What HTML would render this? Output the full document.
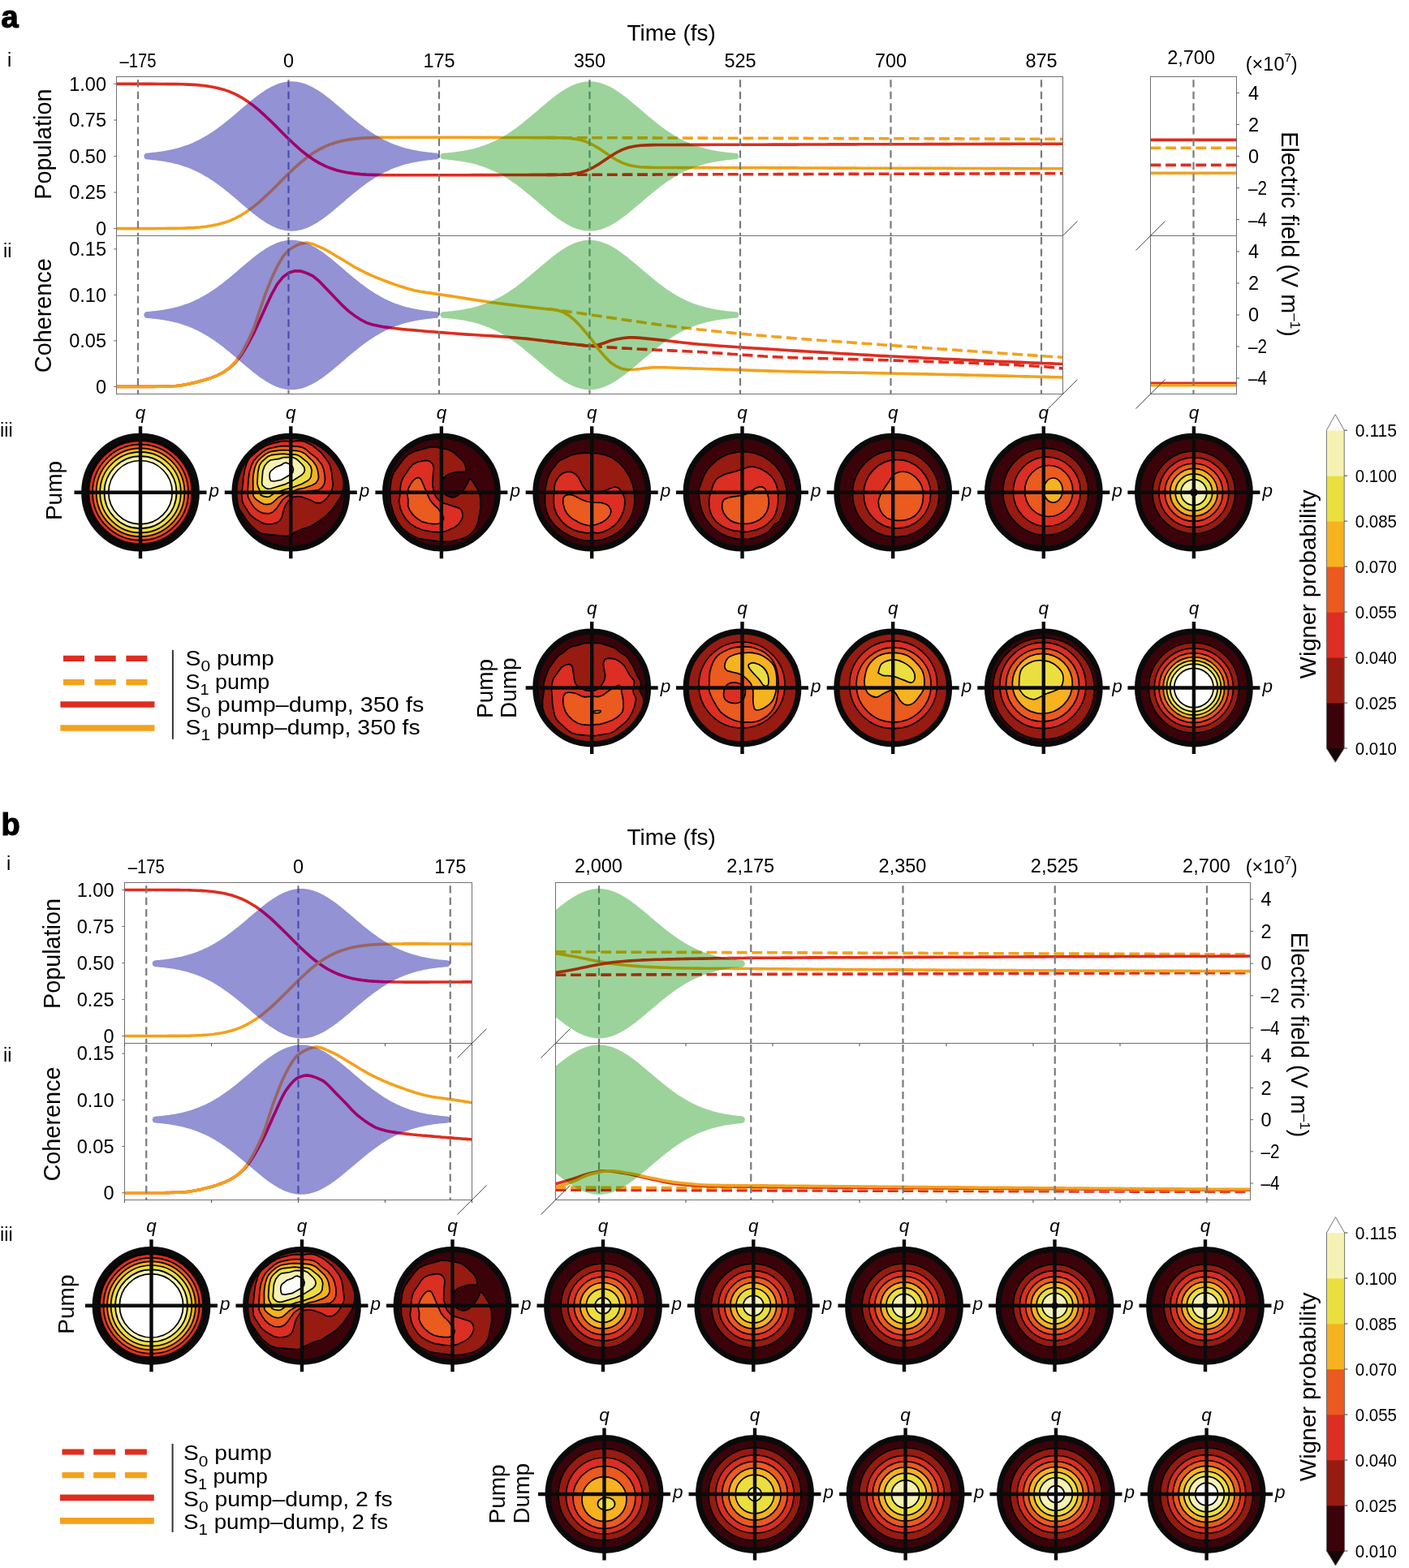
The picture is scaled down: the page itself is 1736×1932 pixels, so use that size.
<!DOCTYPE html>
<html><head><meta charset="utf-8"><title>Figure</title>
<style>html,body{margin:0;padding:0;background:#fff;}svg{display:block;}text{font-family:"Liberation Sans", Arial, sans-serif;}</style></head><body>
<svg xmlns="http://www.w3.org/2000/svg" width="1736" height="1932" viewBox="0 0 1736 1932">
<defs><clipPath id="c1"><rect x="143.5" y="94.5" width="1166" height="196"/></clipPath>
<clipPath id="c2"><path d="M181.3 188.5 L183.1 188.4 L184.9 188.2 L186.7 188.0 L188.5 187.8 L190.3 187.7 L192.1 187.5 L193.9 187.2 L195.6 187.0 L197.4 186.8 L199.2 186.5 L201.0 186.2 L202.8 185.9 L204.6 185.6 L206.4 185.3 L208.2 184.9 L209.9 184.6 L211.7 184.2 L213.5 183.8 L215.3 183.3 L217.1 182.9 L218.9 182.4 L220.7 181.9 L222.5 181.4 L224.2 180.8 L226.0 180.3 L227.8 179.6 L229.6 179.0 L231.4 178.4 L233.2 177.7 L235.0 176.9 L236.8 176.2 L238.5 175.4 L240.3 174.6 L242.1 173.8 L243.9 172.9 L245.7 172.0 L247.5 171.1 L249.3 170.1 L251.1 169.1 L252.8 168.1 L254.6 167.0 L256.4 165.9 L258.2 164.8 L260.0 163.6 L261.8 162.5 L263.6 161.2 L265.4 160.0 L267.1 158.7 L268.9 157.4 L270.7 156.1 L272.5 154.8 L274.3 153.4 L276.1 152.0 L277.9 150.6 L279.7 149.1 L281.4 147.7 L283.2 146.2 L285.0 144.7 L286.8 143.2 L288.6 141.7 L290.4 140.2 L292.2 138.7 L294.0 137.1 L295.7 135.6 L297.5 134.1 L299.3 132.5 L301.1 131.0 L302.9 129.5 L304.7 128.0 L306.5 126.5 L308.3 125.0 L310.1 123.5 L311.8 122.1 L313.6 120.7 L315.4 119.3 L317.2 117.9 L319.0 116.6 L320.8 115.3 L322.6 114.1 L324.4 112.9 L326.1 111.7 L327.9 110.6 L329.7 109.5 L331.5 108.4 L333.3 107.5 L335.1 106.6 L336.9 105.7 L338.7 104.9 L340.4 104.1 L342.2 103.5 L344.0 102.8 L345.8 102.3 L347.6 101.8 L349.4 101.4 L351.2 101.0 L353.0 100.7 L354.7 100.5 L356.5 100.4 L358.3 100.3 L360.1 100.3 L361.9 100.4 L363.7 100.5 L365.5 100.7 L367.3 101.0 L369.0 101.4 L370.8 101.8 L372.6 102.3 L374.4 102.8 L376.2 103.5 L378.0 104.1 L379.8 104.9 L381.6 105.7 L383.3 106.6 L385.1 107.5 L386.9 108.4 L388.7 109.5 L390.5 110.6 L392.3 111.7 L394.1 112.9 L395.9 114.1 L397.6 115.3 L399.4 116.6 L401.2 117.9 L403.0 119.3 L404.8 120.7 L406.6 122.1 L408.4 123.5 L410.2 125.0 L411.9 126.5 L413.7 128.0 L415.5 129.5 L417.3 131.0 L419.1 132.5 L420.9 134.1 L422.7 135.6 L424.5 137.1 L426.2 138.7 L428.0 140.2 L429.8 141.7 L431.6 143.2 L433.4 144.7 L435.2 146.2 L437.0 147.7 L438.8 149.1 L440.5 150.6 L442.3 152.0 L444.1 153.4 L445.9 154.8 L447.7 156.1 L449.5 157.4 L451.3 158.7 L453.1 160.0 L454.8 161.2 L456.6 162.5 L458.4 163.6 L460.2 164.8 L462.0 165.9 L463.8 167.0 L465.6 168.1 L467.4 169.1 L469.1 170.1 L470.9 171.1 L472.7 172.0 L474.5 172.9 L476.3 173.8 L478.1 174.6 L479.9 175.4 L481.7 176.2 L483.4 176.9 L485.2 177.7 L487.0 178.4 L488.8 179.0 L490.6 179.6 L492.4 180.3 L494.2 180.8 L496.0 181.4 L497.8 181.9 L499.5 182.4 L501.3 182.9 L503.1 183.3 L504.9 183.8 L506.7 184.2 L508.5 184.6 L510.3 184.9 L512.1 185.3 L513.8 185.6 L515.6 185.9 L517.4 186.2 L519.2 186.5 L521.0 186.8 L522.8 187.0 L524.6 187.2 L526.4 187.5 L528.1 187.7 L529.9 187.8 L531.7 188.0 L533.5 188.2 L535.3 188.4 L537.1 188.5 L537.1 188.5 L538.2 188.7 L539.2 189.1 L540.1 189.9 L540.7 190.8 L541.0 191.9 L541.0 193.1 L540.7 194.2 L540.1 195.1 L539.2 195.9 L538.2 196.3 L537.1 196.5 L537.1 196.5 L535.3 196.6 L533.5 196.8 L531.7 197.0 L529.9 197.2 L528.1 197.3 L526.4 197.5 L524.6 197.8 L522.8 198.0 L521.0 198.2 L519.2 198.5 L517.4 198.8 L515.6 199.1 L513.8 199.4 L512.1 199.7 L510.3 200.1 L508.5 200.4 L506.7 200.8 L504.9 201.2 L503.1 201.7 L501.3 202.1 L499.5 202.6 L497.8 203.1 L496.0 203.6 L494.2 204.2 L492.4 204.7 L490.6 205.4 L488.8 206.0 L487.0 206.6 L485.2 207.3 L483.4 208.1 L481.7 208.8 L479.9 209.6 L478.1 210.4 L476.3 211.2 L474.5 212.1 L472.7 213.0 L470.9 213.9 L469.1 214.9 L467.4 215.9 L465.6 216.9 L463.8 218.0 L462.0 219.1 L460.2 220.2 L458.4 221.4 L456.6 222.5 L454.8 223.8 L453.1 225.0 L451.3 226.3 L449.5 227.6 L447.7 228.9 L445.9 230.2 L444.1 231.6 L442.3 233.0 L440.5 234.4 L438.8 235.9 L437.0 237.3 L435.2 238.8 L433.4 240.3 L431.6 241.8 L429.8 243.3 L428.0 244.8 L426.2 246.3 L424.5 247.9 L422.7 249.4 L420.9 250.9 L419.1 252.5 L417.3 254.0 L415.5 255.5 L413.7 257.0 L411.9 258.5 L410.2 260.0 L408.4 261.5 L406.6 262.9 L404.8 264.3 L403.0 265.7 L401.2 267.1 L399.4 268.4 L397.6 269.7 L395.9 270.9 L394.1 272.1 L392.3 273.3 L390.5 274.4 L388.7 275.5 L386.9 276.6 L385.1 277.5 L383.3 278.4 L381.6 279.3 L379.8 280.1 L378.0 280.9 L376.2 281.5 L374.4 282.2 L372.6 282.7 L370.8 283.2 L369.0 283.6 L367.3 284.0 L365.5 284.3 L363.7 284.5 L361.9 284.6 L360.1 284.7 L358.3 284.7 L356.5 284.6 L354.7 284.5 L353.0 284.3 L351.2 284.0 L349.4 283.6 L347.6 283.2 L345.8 282.7 L344.0 282.2 L342.2 281.5 L340.4 280.9 L338.7 280.1 L336.9 279.3 L335.1 278.4 L333.3 277.5 L331.5 276.6 L329.7 275.5 L327.9 274.4 L326.1 273.3 L324.4 272.1 L322.6 270.9 L320.8 269.7 L319.0 268.4 L317.2 267.1 L315.4 265.7 L313.6 264.3 L311.8 262.9 L310.1 261.5 L308.3 260.0 L306.5 258.5 L304.7 257.0 L302.9 255.5 L301.1 254.0 L299.3 252.5 L297.5 250.9 L295.7 249.4 L294.0 247.9 L292.2 246.3 L290.4 244.8 L288.6 243.3 L286.8 241.8 L285.0 240.3 L283.2 238.8 L281.4 237.3 L279.7 235.9 L277.9 234.4 L276.1 233.0 L274.3 231.6 L272.5 230.2 L270.7 228.9 L268.9 227.6 L267.1 226.3 L265.4 225.0 L263.6 223.8 L261.8 222.5 L260.0 221.4 L258.2 220.2 L256.4 219.1 L254.6 218.0 L252.8 216.9 L251.1 215.9 L249.3 214.9 L247.5 213.9 L245.7 213.0 L243.9 212.1 L242.1 211.2 L240.3 210.4 L238.5 209.6 L236.8 208.8 L235.0 208.1 L233.2 207.3 L231.4 206.6 L229.6 206.0 L227.8 205.4 L226.0 204.7 L224.2 204.2 L222.5 203.6 L220.7 203.1 L218.9 202.6 L217.1 202.1 L215.3 201.7 L213.5 201.2 L211.7 200.8 L209.9 200.4 L208.2 200.1 L206.4 199.7 L204.6 199.4 L202.8 199.1 L201.0 198.8 L199.2 198.5 L197.4 198.2 L195.6 198.0 L193.9 197.8 L192.1 197.5 L190.3 197.3 L188.5 197.2 L186.7 197.0 L184.9 196.8 L183.1 196.6 L181.3 196.5 L181.3 196.5 L180.2 196.3 L179.2 195.9 L178.3 195.1 L177.7 194.2 L177.4 193.1 L177.4 191.9 L177.7 190.8 L178.3 189.9 L179.2 189.1 L180.2 188.7 L181.3 188.5 Z"/></clipPath>
<clipPath id="c3"><rect x="143.5" y="94.5" width="1166" height="196"/></clipPath>
<clipPath id="c4"><path d="M546.3 188.7 L548.1 188.5 L549.9 188.4 L551.7 188.2 L553.5 188.1 L555.3 187.9 L557.2 187.7 L559.0 187.5 L560.8 187.3 L562.6 187.1 L564.4 186.8 L566.2 186.5 L568.0 186.3 L569.8 186.0 L571.6 185.7 L573.4 185.3 L575.3 185.0 L577.1 184.6 L578.9 184.2 L580.7 183.8 L582.5 183.4 L584.3 182.9 L586.1 182.4 L587.9 181.9 L589.7 181.4 L591.5 180.8 L593.3 180.2 L595.2 179.6 L597.0 179.0 L598.8 178.3 L600.6 177.6 L602.4 176.9 L604.2 176.1 L606.0 175.3 L607.8 174.5 L609.6 173.7 L611.4 172.8 L613.2 171.9 L615.1 170.9 L616.9 169.9 L618.7 168.9 L620.5 167.9 L622.3 166.8 L624.1 165.7 L625.9 164.5 L627.7 163.4 L629.5 162.1 L631.3 160.9 L633.2 159.6 L635.0 158.4 L636.8 157.0 L638.6 155.7 L640.4 154.3 L642.2 152.9 L644.0 151.5 L645.8 150.0 L647.6 148.6 L649.4 147.1 L651.2 145.6 L653.1 144.1 L654.9 142.6 L656.7 141.0 L658.5 139.5 L660.3 137.9 L662.1 136.4 L663.9 134.8 L665.7 133.3 L667.5 131.7 L669.3 130.2 L671.2 128.7 L673.0 127.2 L674.8 125.6 L676.6 124.2 L678.4 122.7 L680.2 121.3 L682.0 119.8 L683.8 118.4 L685.6 117.1 L687.4 115.8 L689.2 114.5 L691.1 113.2 L692.9 112.0 L694.7 110.9 L696.5 109.8 L698.3 108.7 L700.1 107.7 L701.9 106.8 L703.7 105.9 L705.5 105.1 L707.3 104.3 L709.2 103.6 L711.0 102.9 L712.8 102.4 L714.6 101.9 L716.4 101.4 L718.2 101.1 L720.0 100.8 L721.8 100.5 L723.6 100.4 L725.4 100.3 L727.2 100.3 L729.1 100.4 L730.9 100.5 L732.7 100.7 L734.5 101.0 L736.3 101.4 L738.1 101.8 L739.9 102.3 L741.7 102.8 L743.5 103.5 L745.3 104.2 L747.1 104.9 L749.0 105.7 L750.8 106.6 L752.6 107.6 L754.4 108.5 L756.2 109.6 L758.0 110.7 L759.8 111.8 L761.6 113.0 L763.4 114.3 L765.2 115.5 L767.1 116.9 L768.9 118.2 L770.7 119.6 L772.5 121.0 L774.3 122.4 L776.1 123.9 L777.9 125.4 L779.7 126.9 L781.5 128.4 L783.3 129.9 L785.1 131.5 L787.0 133.0 L788.8 134.6 L790.6 136.1 L792.4 137.7 L794.2 139.2 L796.0 140.8 L797.8 142.3 L799.6 143.8 L801.4 145.3 L803.2 146.8 L805.1 148.3 L806.9 149.8 L808.7 151.2 L810.5 152.7 L812.3 154.1 L814.1 155.4 L815.9 156.8 L817.7 158.1 L819.5 159.4 L821.3 160.7 L823.1 161.9 L825.0 163.1 L826.8 164.3 L828.6 165.5 L830.4 166.6 L832.2 167.7 L834.0 168.7 L835.8 169.8 L837.6 170.7 L839.4 171.7 L841.2 172.6 L843.1 173.5 L844.9 174.4 L846.7 175.2 L848.5 176.0 L850.3 176.8 L852.1 177.5 L853.9 178.2 L855.7 178.9 L857.5 179.5 L859.3 180.1 L861.1 180.7 L863.0 181.3 L864.8 181.8 L866.6 182.3 L868.4 182.8 L870.2 183.3 L872.0 183.7 L873.8 184.1 L875.6 184.5 L877.4 184.9 L879.2 185.3 L881.0 185.6 L882.9 185.9 L884.7 186.2 L886.5 186.5 L888.3 186.8 L890.1 187.0 L891.9 187.2 L893.7 187.5 L895.5 187.7 L897.3 187.9 L899.1 188.0 L901.0 188.2 L902.8 188.4 L904.6 188.5 L906.4 188.7 L906.4 188.7 L907.5 188.8 L908.5 189.3 L909.3 190.0 L909.9 190.9 L910.2 192.0 L910.2 193.0 L909.9 194.1 L909.3 195.0 L908.5 195.7 L907.5 196.2 L906.4 196.3 L906.4 196.3 L904.6 196.5 L902.8 196.6 L901.0 196.8 L899.1 197.0 L897.3 197.1 L895.5 197.3 L893.7 197.5 L891.9 197.8 L890.1 198.0 L888.3 198.2 L886.5 198.5 L884.7 198.8 L882.9 199.1 L881.0 199.4 L879.2 199.7 L877.4 200.1 L875.6 200.5 L873.8 200.9 L872.0 201.3 L870.2 201.7 L868.4 202.2 L866.6 202.7 L864.8 203.2 L863.0 203.7 L861.1 204.3 L859.3 204.9 L857.5 205.5 L855.7 206.1 L853.9 206.8 L852.1 207.5 L850.3 208.2 L848.5 209.0 L846.7 209.8 L844.9 210.6 L843.1 211.5 L841.2 212.4 L839.4 213.3 L837.6 214.3 L835.8 215.2 L834.0 216.3 L832.2 217.3 L830.4 218.4 L828.6 219.5 L826.8 220.7 L825.0 221.9 L823.1 223.1 L821.3 224.3 L819.5 225.6 L817.7 226.9 L815.9 228.2 L814.1 229.6 L812.3 230.9 L810.5 232.3 L808.7 233.8 L806.9 235.2 L805.1 236.7 L803.2 238.2 L801.4 239.7 L799.6 241.2 L797.8 242.7 L796.0 244.2 L794.2 245.8 L792.4 247.3 L790.6 248.9 L788.8 250.4 L787.0 252.0 L785.1 253.5 L783.3 255.1 L781.5 256.6 L779.7 258.1 L777.9 259.6 L776.1 261.1 L774.3 262.6 L772.5 264.0 L770.7 265.4 L768.9 266.8 L767.1 268.1 L765.2 269.5 L763.4 270.7 L761.6 272.0 L759.8 273.2 L758.0 274.3 L756.2 275.4 L754.4 276.5 L752.6 277.4 L750.8 278.4 L749.0 279.3 L747.1 280.1 L745.3 280.8 L743.5 281.5 L741.7 282.2 L739.9 282.7 L738.1 283.2 L736.3 283.6 L734.5 284.0 L732.7 284.3 L730.9 284.5 L729.1 284.6 L727.2 284.7 L725.4 284.7 L723.6 284.6 L721.8 284.5 L720.0 284.2 L718.2 283.9 L716.4 283.6 L714.6 283.1 L712.8 282.6 L711.0 282.1 L709.2 281.4 L707.3 280.7 L705.5 279.9 L703.7 279.1 L701.9 278.2 L700.1 277.3 L698.3 276.3 L696.5 275.2 L694.7 274.1 L692.9 273.0 L691.1 271.8 L689.2 270.5 L687.4 269.2 L685.6 267.9 L683.8 266.6 L682.0 265.2 L680.2 263.7 L678.4 262.3 L676.6 260.8 L674.8 259.4 L673.0 257.8 L671.2 256.3 L669.3 254.8 L667.5 253.3 L665.7 251.7 L663.9 250.2 L662.1 248.6 L660.3 247.1 L658.5 245.5 L656.7 244.0 L654.9 242.4 L653.1 240.9 L651.2 239.4 L649.4 237.9 L647.6 236.4 L645.8 235.0 L644.0 233.5 L642.2 232.1 L640.4 230.7 L638.6 229.3 L636.8 228.0 L635.0 226.6 L633.2 225.4 L631.3 224.1 L629.5 222.9 L627.7 221.6 L625.9 220.5 L624.1 219.3 L622.3 218.2 L620.5 217.1 L618.7 216.1 L616.9 215.1 L615.1 214.1 L613.2 213.1 L611.4 212.2 L609.6 211.3 L607.8 210.5 L606.0 209.7 L604.2 208.9 L602.4 208.1 L600.6 207.4 L598.8 206.7 L597.0 206.0 L595.2 205.4 L593.3 204.8 L591.5 204.2 L589.7 203.6 L587.9 203.1 L586.1 202.6 L584.3 202.1 L582.5 201.6 L580.7 201.2 L578.9 200.8 L577.1 200.4 L575.3 200.0 L573.4 199.7 L571.6 199.3 L569.8 199.0 L568.0 198.7 L566.2 198.5 L564.4 198.2 L562.6 197.9 L560.8 197.7 L559.0 197.5 L557.2 197.3 L555.3 197.1 L553.5 196.9 L551.7 196.8 L549.9 196.6 L548.1 196.5 L546.3 196.3 L546.3 196.3 L545.2 196.2 L544.2 195.7 L543.4 195.0 L542.8 194.1 L542.5 193.0 L542.5 192.0 L542.8 190.9 L543.4 190.0 L544.2 189.3 L545.2 188.8 L546.3 188.7 Z"/></clipPath>
<clipPath id="c5"><rect x="143.5" y="290.5" width="1166" height="195"/></clipPath>
<clipPath id="c6"><path d="M181.3 384.0 L183.1 383.9 L184.9 383.7 L186.7 383.5 L188.5 383.3 L190.3 383.2 L192.1 383.0 L193.9 382.7 L195.6 382.5 L197.4 382.3 L199.2 382.0 L201.0 381.7 L202.8 381.4 L204.6 381.1 L206.4 380.8 L208.2 380.4 L209.9 380.1 L211.7 379.7 L213.5 379.3 L215.3 378.8 L217.1 378.4 L218.9 377.9 L220.7 377.4 L222.5 376.9 L224.2 376.3 L226.0 375.8 L227.8 375.1 L229.6 374.5 L231.4 373.9 L233.2 373.2 L235.0 372.4 L236.8 371.7 L238.5 370.9 L240.3 370.1 L242.1 369.3 L243.9 368.4 L245.7 367.5 L247.5 366.6 L249.3 365.6 L251.1 364.6 L252.8 363.6 L254.6 362.5 L256.4 361.4 L258.2 360.3 L260.0 359.1 L261.8 358.0 L263.6 356.7 L265.4 355.5 L267.1 354.2 L268.9 352.9 L270.7 351.6 L272.5 350.3 L274.3 348.9 L276.1 347.5 L277.9 346.1 L279.7 344.6 L281.4 343.2 L283.2 341.7 L285.0 340.2 L286.8 338.7 L288.6 337.2 L290.4 335.7 L292.2 334.2 L294.0 332.6 L295.7 331.1 L297.5 329.6 L299.3 328.0 L301.1 326.5 L302.9 325.0 L304.7 323.5 L306.5 322.0 L308.3 320.5 L310.1 319.0 L311.8 317.6 L313.6 316.2 L315.4 314.8 L317.2 313.4 L319.0 312.1 L320.8 310.8 L322.6 309.6 L324.4 308.4 L326.1 307.2 L327.9 306.1 L329.7 305.0 L331.5 303.9 L333.3 303.0 L335.1 302.1 L336.9 301.2 L338.7 300.4 L340.4 299.6 L342.2 299.0 L344.0 298.3 L345.8 297.8 L347.6 297.3 L349.4 296.9 L351.2 296.5 L353.0 296.2 L354.7 296.0 L356.5 295.9 L358.3 295.8 L360.1 295.8 L361.9 295.9 L363.7 296.0 L365.5 296.2 L367.3 296.5 L369.0 296.9 L370.8 297.3 L372.6 297.8 L374.4 298.3 L376.2 299.0 L378.0 299.6 L379.8 300.4 L381.6 301.2 L383.3 302.1 L385.1 303.0 L386.9 303.9 L388.7 305.0 L390.5 306.1 L392.3 307.2 L394.1 308.4 L395.9 309.6 L397.6 310.8 L399.4 312.1 L401.2 313.4 L403.0 314.8 L404.8 316.2 L406.6 317.6 L408.4 319.0 L410.2 320.5 L411.9 322.0 L413.7 323.5 L415.5 325.0 L417.3 326.5 L419.1 328.0 L420.9 329.6 L422.7 331.1 L424.5 332.6 L426.2 334.2 L428.0 335.7 L429.8 337.2 L431.6 338.7 L433.4 340.2 L435.2 341.7 L437.0 343.2 L438.8 344.6 L440.5 346.1 L442.3 347.5 L444.1 348.9 L445.9 350.3 L447.7 351.6 L449.5 352.9 L451.3 354.2 L453.1 355.5 L454.8 356.7 L456.6 358.0 L458.4 359.1 L460.2 360.3 L462.0 361.4 L463.8 362.5 L465.6 363.6 L467.4 364.6 L469.1 365.6 L470.9 366.6 L472.7 367.5 L474.5 368.4 L476.3 369.3 L478.1 370.1 L479.9 370.9 L481.7 371.7 L483.4 372.4 L485.2 373.2 L487.0 373.9 L488.8 374.5 L490.6 375.1 L492.4 375.8 L494.2 376.3 L496.0 376.9 L497.8 377.4 L499.5 377.9 L501.3 378.4 L503.1 378.8 L504.9 379.3 L506.7 379.7 L508.5 380.1 L510.3 380.4 L512.1 380.8 L513.8 381.1 L515.6 381.4 L517.4 381.7 L519.2 382.0 L521.0 382.3 L522.8 382.5 L524.6 382.7 L526.4 383.0 L528.1 383.2 L529.9 383.3 L531.7 383.5 L533.5 383.7 L535.3 383.9 L537.1 384.0 L537.1 384.0 L538.2 384.2 L539.2 384.6 L540.1 385.4 L540.7 386.3 L541.0 387.4 L541.0 388.6 L540.7 389.7 L540.1 390.6 L539.2 391.4 L538.2 391.8 L537.1 392.0 L537.1 392.0 L535.3 392.1 L533.5 392.3 L531.7 392.5 L529.9 392.7 L528.1 392.8 L526.4 393.0 L524.6 393.3 L522.8 393.5 L521.0 393.7 L519.2 394.0 L517.4 394.3 L515.6 394.6 L513.8 394.9 L512.1 395.2 L510.3 395.6 L508.5 395.9 L506.7 396.3 L504.9 396.7 L503.1 397.2 L501.3 397.6 L499.5 398.1 L497.8 398.6 L496.0 399.1 L494.2 399.7 L492.4 400.2 L490.6 400.9 L488.8 401.5 L487.0 402.1 L485.2 402.8 L483.4 403.6 L481.7 404.3 L479.9 405.1 L478.1 405.9 L476.3 406.7 L474.5 407.6 L472.7 408.5 L470.9 409.4 L469.1 410.4 L467.4 411.4 L465.6 412.4 L463.8 413.5 L462.0 414.6 L460.2 415.7 L458.4 416.9 L456.6 418.0 L454.8 419.3 L453.1 420.5 L451.3 421.8 L449.5 423.1 L447.7 424.4 L445.9 425.7 L444.1 427.1 L442.3 428.5 L440.5 429.9 L438.8 431.4 L437.0 432.8 L435.2 434.3 L433.4 435.8 L431.6 437.3 L429.8 438.8 L428.0 440.3 L426.2 441.8 L424.5 443.4 L422.7 444.9 L420.9 446.4 L419.1 448.0 L417.3 449.5 L415.5 451.0 L413.7 452.5 L411.9 454.0 L410.2 455.5 L408.4 457.0 L406.6 458.4 L404.8 459.8 L403.0 461.2 L401.2 462.6 L399.4 463.9 L397.6 465.2 L395.9 466.4 L394.1 467.6 L392.3 468.8 L390.5 469.9 L388.7 471.0 L386.9 472.1 L385.1 473.0 L383.3 473.9 L381.6 474.8 L379.8 475.6 L378.0 476.4 L376.2 477.0 L374.4 477.7 L372.6 478.2 L370.8 478.7 L369.0 479.1 L367.3 479.5 L365.5 479.8 L363.7 480.0 L361.9 480.1 L360.1 480.2 L358.3 480.2 L356.5 480.1 L354.7 480.0 L353.0 479.8 L351.2 479.5 L349.4 479.1 L347.6 478.7 L345.8 478.2 L344.0 477.7 L342.2 477.0 L340.4 476.4 L338.7 475.6 L336.9 474.8 L335.1 473.9 L333.3 473.0 L331.5 472.1 L329.7 471.0 L327.9 469.9 L326.1 468.8 L324.4 467.6 L322.6 466.4 L320.8 465.2 L319.0 463.9 L317.2 462.6 L315.4 461.2 L313.6 459.8 L311.8 458.4 L310.1 457.0 L308.3 455.5 L306.5 454.0 L304.7 452.5 L302.9 451.0 L301.1 449.5 L299.3 448.0 L297.5 446.4 L295.7 444.9 L294.0 443.4 L292.2 441.8 L290.4 440.3 L288.6 438.8 L286.8 437.3 L285.0 435.8 L283.2 434.3 L281.4 432.8 L279.7 431.4 L277.9 429.9 L276.1 428.5 L274.3 427.1 L272.5 425.7 L270.7 424.4 L268.9 423.1 L267.1 421.8 L265.4 420.5 L263.6 419.3 L261.8 418.0 L260.0 416.9 L258.2 415.7 L256.4 414.6 L254.6 413.5 L252.8 412.4 L251.1 411.4 L249.3 410.4 L247.5 409.4 L245.7 408.5 L243.9 407.6 L242.1 406.7 L240.3 405.9 L238.5 405.1 L236.8 404.3 L235.0 403.6 L233.2 402.8 L231.4 402.1 L229.6 401.5 L227.8 400.9 L226.0 400.2 L224.2 399.7 L222.5 399.1 L220.7 398.6 L218.9 398.1 L217.1 397.6 L215.3 397.2 L213.5 396.7 L211.7 396.3 L209.9 395.9 L208.2 395.6 L206.4 395.2 L204.6 394.9 L202.8 394.6 L201.0 394.3 L199.2 394.0 L197.4 393.7 L195.6 393.5 L193.9 393.3 L192.1 393.0 L190.3 392.8 L188.5 392.7 L186.7 392.5 L184.9 392.3 L183.1 392.1 L181.3 392.0 L181.3 392.0 L180.2 391.8 L179.2 391.4 L178.3 390.6 L177.7 389.7 L177.4 388.6 L177.4 387.4 L177.7 386.3 L178.3 385.4 L179.2 384.6 L180.2 384.2 L181.3 384.0 Z"/></clipPath>
<clipPath id="c7"><rect x="143.5" y="290.5" width="1166" height="195"/></clipPath>
<clipPath id="c8"><path d="M546.3 384.2 L548.1 384.0 L549.9 383.9 L551.7 383.7 L553.5 383.6 L555.3 383.4 L557.2 383.2 L559.0 383.0 L560.8 382.8 L562.6 382.6 L564.4 382.3 L566.2 382.0 L568.0 381.8 L569.8 381.5 L571.6 381.2 L573.4 380.8 L575.3 380.5 L577.1 380.1 L578.9 379.7 L580.7 379.3 L582.5 378.9 L584.3 378.4 L586.1 377.9 L587.9 377.4 L589.7 376.9 L591.5 376.3 L593.3 375.7 L595.2 375.1 L597.0 374.5 L598.8 373.8 L600.6 373.1 L602.4 372.4 L604.2 371.6 L606.0 370.8 L607.8 370.0 L609.6 369.2 L611.4 368.3 L613.2 367.4 L615.1 366.4 L616.9 365.4 L618.7 364.4 L620.5 363.4 L622.3 362.3 L624.1 361.2 L625.9 360.0 L627.7 358.9 L629.5 357.6 L631.3 356.4 L633.2 355.1 L635.0 353.9 L636.8 352.5 L638.6 351.2 L640.4 349.8 L642.2 348.4 L644.0 347.0 L645.8 345.5 L647.6 344.1 L649.4 342.6 L651.2 341.1 L653.1 339.6 L654.9 338.1 L656.7 336.5 L658.5 335.0 L660.3 333.4 L662.1 331.9 L663.9 330.3 L665.7 328.8 L667.5 327.2 L669.3 325.7 L671.2 324.2 L673.0 322.7 L674.8 321.1 L676.6 319.7 L678.4 318.2 L680.2 316.8 L682.0 315.3 L683.8 313.9 L685.6 312.6 L687.4 311.3 L689.2 310.0 L691.1 308.7 L692.9 307.5 L694.7 306.4 L696.5 305.3 L698.3 304.2 L700.1 303.2 L701.9 302.3 L703.7 301.4 L705.5 300.6 L707.3 299.8 L709.2 299.1 L711.0 298.4 L712.8 297.9 L714.6 297.4 L716.4 296.9 L718.2 296.6 L720.0 296.3 L721.8 296.0 L723.6 295.9 L725.4 295.8 L727.2 295.8 L729.1 295.9 L730.9 296.0 L732.7 296.2 L734.5 296.5 L736.3 296.9 L738.1 297.3 L739.9 297.8 L741.7 298.3 L743.5 299.0 L745.3 299.7 L747.1 300.4 L749.0 301.2 L750.8 302.1 L752.6 303.1 L754.4 304.0 L756.2 305.1 L758.0 306.2 L759.8 307.3 L761.6 308.5 L763.4 309.8 L765.2 311.0 L767.1 312.4 L768.9 313.7 L770.7 315.1 L772.5 316.5 L774.3 317.9 L776.1 319.4 L777.9 320.9 L779.7 322.4 L781.5 323.9 L783.3 325.4 L785.1 327.0 L787.0 328.5 L788.8 330.1 L790.6 331.6 L792.4 333.2 L794.2 334.7 L796.0 336.3 L797.8 337.8 L799.6 339.3 L801.4 340.8 L803.2 342.3 L805.1 343.8 L806.9 345.3 L808.7 346.7 L810.5 348.2 L812.3 349.6 L814.1 350.9 L815.9 352.3 L817.7 353.6 L819.5 354.9 L821.3 356.2 L823.1 357.4 L825.0 358.6 L826.8 359.8 L828.6 361.0 L830.4 362.1 L832.2 363.2 L834.0 364.2 L835.8 365.3 L837.6 366.2 L839.4 367.2 L841.2 368.1 L843.1 369.0 L844.9 369.9 L846.7 370.7 L848.5 371.5 L850.3 372.3 L852.1 373.0 L853.9 373.7 L855.7 374.4 L857.5 375.0 L859.3 375.6 L861.1 376.2 L863.0 376.8 L864.8 377.3 L866.6 377.8 L868.4 378.3 L870.2 378.8 L872.0 379.2 L873.8 379.6 L875.6 380.0 L877.4 380.4 L879.2 380.8 L881.0 381.1 L882.9 381.4 L884.7 381.7 L886.5 382.0 L888.3 382.3 L890.1 382.5 L891.9 382.7 L893.7 383.0 L895.5 383.2 L897.3 383.4 L899.1 383.5 L901.0 383.7 L902.8 383.9 L904.6 384.0 L906.4 384.2 L906.4 384.2 L907.5 384.3 L908.5 384.8 L909.3 385.5 L909.9 386.4 L910.2 387.5 L910.2 388.5 L909.9 389.6 L909.3 390.5 L908.5 391.2 L907.5 391.7 L906.4 391.8 L906.4 391.8 L904.6 392.0 L902.8 392.1 L901.0 392.3 L899.1 392.5 L897.3 392.6 L895.5 392.8 L893.7 393.0 L891.9 393.3 L890.1 393.5 L888.3 393.7 L886.5 394.0 L884.7 394.3 L882.9 394.6 L881.0 394.9 L879.2 395.2 L877.4 395.6 L875.6 396.0 L873.8 396.4 L872.0 396.8 L870.2 397.2 L868.4 397.7 L866.6 398.2 L864.8 398.7 L863.0 399.2 L861.1 399.8 L859.3 400.4 L857.5 401.0 L855.7 401.6 L853.9 402.3 L852.1 403.0 L850.3 403.7 L848.5 404.5 L846.7 405.3 L844.9 406.1 L843.1 407.0 L841.2 407.9 L839.4 408.8 L837.6 409.8 L835.8 410.7 L834.0 411.8 L832.2 412.8 L830.4 413.9 L828.6 415.0 L826.8 416.2 L825.0 417.4 L823.1 418.6 L821.3 419.8 L819.5 421.1 L817.7 422.4 L815.9 423.7 L814.1 425.1 L812.3 426.4 L810.5 427.8 L808.7 429.3 L806.9 430.7 L805.1 432.2 L803.2 433.7 L801.4 435.2 L799.6 436.7 L797.8 438.2 L796.0 439.7 L794.2 441.3 L792.4 442.8 L790.6 444.4 L788.8 445.9 L787.0 447.5 L785.1 449.0 L783.3 450.6 L781.5 452.1 L779.7 453.6 L777.9 455.1 L776.1 456.6 L774.3 458.1 L772.5 459.5 L770.7 460.9 L768.9 462.3 L767.1 463.6 L765.2 465.0 L763.4 466.2 L761.6 467.5 L759.8 468.7 L758.0 469.8 L756.2 470.9 L754.4 472.0 L752.6 472.9 L750.8 473.9 L749.0 474.8 L747.1 475.6 L745.3 476.3 L743.5 477.0 L741.7 477.7 L739.9 478.2 L738.1 478.7 L736.3 479.1 L734.5 479.5 L732.7 479.8 L730.9 480.0 L729.1 480.1 L727.2 480.2 L725.4 480.2 L723.6 480.1 L721.8 480.0 L720.0 479.7 L718.2 479.4 L716.4 479.1 L714.6 478.6 L712.8 478.1 L711.0 477.6 L709.2 476.9 L707.3 476.2 L705.5 475.4 L703.7 474.6 L701.9 473.7 L700.1 472.8 L698.3 471.8 L696.5 470.7 L694.7 469.6 L692.9 468.5 L691.1 467.3 L689.2 466.0 L687.4 464.7 L685.6 463.4 L683.8 462.1 L682.0 460.7 L680.2 459.2 L678.4 457.8 L676.6 456.3 L674.8 454.9 L673.0 453.3 L671.2 451.8 L669.3 450.3 L667.5 448.8 L665.7 447.2 L663.9 445.7 L662.1 444.1 L660.3 442.6 L658.5 441.0 L656.7 439.5 L654.9 437.9 L653.1 436.4 L651.2 434.9 L649.4 433.4 L647.6 431.9 L645.8 430.5 L644.0 429.0 L642.2 427.6 L640.4 426.2 L638.6 424.8 L636.8 423.5 L635.0 422.1 L633.2 420.9 L631.3 419.6 L629.5 418.4 L627.7 417.1 L625.9 416.0 L624.1 414.8 L622.3 413.7 L620.5 412.6 L618.7 411.6 L616.9 410.6 L615.1 409.6 L613.2 408.6 L611.4 407.7 L609.6 406.8 L607.8 406.0 L606.0 405.2 L604.2 404.4 L602.4 403.6 L600.6 402.9 L598.8 402.2 L597.0 401.5 L595.2 400.9 L593.3 400.3 L591.5 399.7 L589.7 399.1 L587.9 398.6 L586.1 398.1 L584.3 397.6 L582.5 397.1 L580.7 396.7 L578.9 396.3 L577.1 395.9 L575.3 395.5 L573.4 395.2 L571.6 394.8 L569.8 394.5 L568.0 394.2 L566.2 394.0 L564.4 393.7 L562.6 393.4 L560.8 393.2 L559.0 393.0 L557.2 392.8 L555.3 392.6 L553.5 392.4 L551.7 392.3 L549.9 392.1 L548.1 392.0 L546.3 391.8 L546.3 391.8 L545.2 391.7 L544.2 391.2 L543.4 390.5 L542.8 389.6 L542.5 388.5 L542.5 387.5 L542.8 386.4 L543.4 385.5 L544.2 384.8 L545.2 384.3 L546.3 384.2 Z"/></clipPath>
<clipPath id="c9"><rect x="153.5" y="1087.5" width="428" height="198"/></clipPath>
<clipPath id="c10"><path d="M191.7 1183.2 L193.5 1183.1 L195.3 1182.9 L197.1 1182.7 L198.9 1182.5 L200.7 1182.4 L202.5 1182.2 L204.3 1181.9 L206.1 1181.7 L207.9 1181.5 L209.7 1181.2 L211.5 1180.9 L213.4 1180.6 L215.2 1180.3 L217.0 1180.0 L218.8 1179.6 L220.6 1179.3 L222.4 1178.9 L224.2 1178.5 L226.0 1178.0 L227.8 1177.6 L229.6 1177.1 L231.4 1176.6 L233.2 1176.1 L235.0 1175.5 L236.8 1175.0 L238.6 1174.3 L240.4 1173.7 L242.2 1173.1 L244.0 1172.4 L245.8 1171.6 L247.6 1170.9 L249.4 1170.1 L251.2 1169.3 L253.1 1168.5 L254.9 1167.6 L256.7 1166.7 L258.5 1165.8 L260.3 1164.8 L262.1 1163.8 L263.9 1162.8 L265.7 1161.7 L267.5 1160.6 L269.3 1159.5 L271.1 1158.3 L272.9 1157.2 L274.7 1155.9 L276.5 1154.7 L278.3 1153.4 L280.1 1152.1 L281.9 1150.8 L283.7 1149.5 L285.5 1148.1 L287.3 1146.7 L289.1 1145.3 L290.9 1143.8 L292.8 1142.4 L294.6 1140.9 L296.4 1139.4 L298.2 1137.9 L300.0 1136.4 L301.8 1134.9 L303.6 1133.4 L305.4 1131.8 L307.2 1130.3 L309.0 1128.8 L310.8 1127.2 L312.6 1125.7 L314.4 1124.2 L316.2 1122.7 L318.0 1121.2 L319.8 1119.7 L321.6 1118.2 L323.4 1116.8 L325.2 1115.4 L327.0 1114.0 L328.8 1112.6 L330.6 1111.3 L332.4 1110.0 L334.3 1108.8 L336.1 1107.6 L337.9 1106.4 L339.7 1105.3 L341.5 1104.2 L343.3 1103.1 L345.1 1102.2 L346.9 1101.3 L348.7 1100.4 L350.5 1099.6 L352.3 1098.8 L354.1 1098.2 L355.9 1097.5 L357.7 1097.0 L359.5 1096.5 L361.3 1096.1 L363.1 1095.7 L364.9 1095.4 L366.7 1095.2 L368.5 1095.1 L370.3 1095.0 L372.1 1095.0 L374.0 1095.1 L375.8 1095.2 L377.6 1095.4 L379.4 1095.7 L381.2 1096.1 L383.0 1096.5 L384.8 1097.0 L386.6 1097.5 L388.4 1098.2 L390.2 1098.8 L392.0 1099.6 L393.8 1100.4 L395.6 1101.3 L397.4 1102.2 L399.2 1103.1 L401.0 1104.2 L402.8 1105.3 L404.6 1106.4 L406.4 1107.6 L408.2 1108.8 L410.0 1110.0 L411.8 1111.3 L413.7 1112.6 L415.5 1114.0 L417.3 1115.4 L419.1 1116.8 L420.9 1118.2 L422.7 1119.7 L424.5 1121.2 L426.3 1122.7 L428.1 1124.2 L429.9 1125.7 L431.7 1127.2 L433.5 1128.8 L435.3 1130.3 L437.1 1131.8 L438.9 1133.4 L440.7 1134.9 L442.5 1136.4 L444.3 1137.9 L446.1 1139.4 L447.9 1140.9 L449.7 1142.4 L451.5 1143.8 L453.3 1145.3 L455.2 1146.7 L457.0 1148.1 L458.8 1149.5 L460.6 1150.8 L462.4 1152.1 L464.2 1153.4 L466.0 1154.7 L467.8 1155.9 L469.6 1157.2 L471.4 1158.3 L473.2 1159.5 L475.0 1160.6 L476.8 1161.7 L478.6 1162.8 L480.4 1163.8 L482.2 1164.8 L484.0 1165.8 L485.8 1166.7 L487.6 1167.6 L489.4 1168.5 L491.2 1169.3 L493.0 1170.1 L494.9 1170.9 L496.7 1171.6 L498.5 1172.4 L500.3 1173.1 L502.1 1173.7 L503.9 1174.3 L505.7 1175.0 L507.5 1175.5 L509.3 1176.1 L511.1 1176.6 L512.9 1177.1 L514.7 1177.6 L516.5 1178.0 L518.3 1178.5 L520.1 1178.9 L521.9 1179.3 L523.7 1179.6 L525.5 1180.0 L527.3 1180.3 L529.1 1180.6 L530.9 1180.9 L532.7 1181.2 L534.6 1181.5 L536.4 1181.7 L538.2 1181.9 L540.0 1182.2 L541.8 1182.4 L543.6 1182.5 L545.4 1182.7 L547.2 1182.9 L549.0 1183.1 L550.8 1183.2 L550.8 1183.2 L551.9 1183.4 L553.0 1183.8 L553.8 1184.6 L554.4 1185.5 L554.8 1186.6 L554.8 1187.8 L554.4 1188.9 L553.8 1189.8 L553.0 1190.6 L551.9 1191.0 L550.8 1191.2 L550.8 1191.2 L549.0 1191.3 L547.2 1191.5 L545.4 1191.7 L543.6 1191.9 L541.8 1192.0 L540.0 1192.2 L538.2 1192.5 L536.4 1192.7 L534.6 1192.9 L532.7 1193.2 L530.9 1193.5 L529.1 1193.8 L527.3 1194.1 L525.5 1194.4 L523.7 1194.8 L521.9 1195.1 L520.1 1195.5 L518.3 1195.9 L516.5 1196.4 L514.7 1196.8 L512.9 1197.3 L511.1 1197.8 L509.3 1198.3 L507.5 1198.9 L505.7 1199.4 L503.9 1200.1 L502.1 1200.7 L500.3 1201.3 L498.5 1202.0 L496.7 1202.8 L494.9 1203.5 L493.0 1204.3 L491.2 1205.1 L489.4 1205.9 L487.6 1206.8 L485.8 1207.7 L484.0 1208.6 L482.2 1209.6 L480.4 1210.6 L478.6 1211.6 L476.8 1212.7 L475.0 1213.8 L473.2 1214.9 L471.4 1216.1 L469.6 1217.2 L467.8 1218.5 L466.0 1219.7 L464.2 1221.0 L462.4 1222.3 L460.6 1223.6 L458.8 1224.9 L457.0 1226.3 L455.2 1227.7 L453.3 1229.1 L451.5 1230.6 L449.7 1232.0 L447.9 1233.5 L446.1 1235.0 L444.3 1236.5 L442.5 1238.0 L440.7 1239.5 L438.9 1241.0 L437.1 1242.6 L435.3 1244.1 L433.5 1245.6 L431.7 1247.2 L429.9 1248.7 L428.1 1250.2 L426.3 1251.7 L424.5 1253.2 L422.7 1254.7 L420.9 1256.2 L419.1 1257.6 L417.3 1259.0 L415.5 1260.4 L413.7 1261.8 L411.8 1263.1 L410.0 1264.4 L408.2 1265.6 L406.4 1266.8 L404.6 1268.0 L402.8 1269.1 L401.0 1270.2 L399.2 1271.3 L397.4 1272.2 L395.6 1273.1 L393.8 1274.0 L392.0 1274.8 L390.2 1275.6 L388.4 1276.2 L386.6 1276.9 L384.8 1277.4 L383.0 1277.9 L381.2 1278.3 L379.4 1278.7 L377.6 1279.0 L375.8 1279.2 L374.0 1279.3 L372.1 1279.4 L370.3 1279.4 L368.5 1279.3 L366.7 1279.2 L364.9 1279.0 L363.1 1278.7 L361.3 1278.3 L359.5 1277.9 L357.7 1277.4 L355.9 1276.9 L354.1 1276.2 L352.3 1275.6 L350.5 1274.8 L348.7 1274.0 L346.9 1273.1 L345.1 1272.2 L343.3 1271.3 L341.5 1270.2 L339.7 1269.1 L337.9 1268.0 L336.1 1266.8 L334.3 1265.6 L332.4 1264.4 L330.6 1263.1 L328.8 1261.8 L327.0 1260.4 L325.2 1259.0 L323.4 1257.6 L321.6 1256.2 L319.8 1254.7 L318.0 1253.2 L316.2 1251.7 L314.4 1250.2 L312.6 1248.7 L310.8 1247.2 L309.0 1245.6 L307.2 1244.1 L305.4 1242.6 L303.6 1241.0 L301.8 1239.5 L300.0 1238.0 L298.2 1236.5 L296.4 1235.0 L294.6 1233.5 L292.8 1232.0 L290.9 1230.6 L289.1 1229.1 L287.3 1227.7 L285.5 1226.3 L283.7 1224.9 L281.9 1223.6 L280.1 1222.3 L278.3 1221.0 L276.5 1219.7 L274.7 1218.5 L272.9 1217.2 L271.1 1216.1 L269.3 1214.9 L267.5 1213.8 L265.7 1212.7 L263.9 1211.6 L262.1 1210.6 L260.3 1209.6 L258.5 1208.6 L256.7 1207.7 L254.9 1206.8 L253.1 1205.9 L251.2 1205.1 L249.4 1204.3 L247.6 1203.5 L245.8 1202.8 L244.0 1202.0 L242.2 1201.3 L240.4 1200.7 L238.6 1200.1 L236.8 1199.4 L235.0 1198.9 L233.2 1198.3 L231.4 1197.8 L229.6 1197.3 L227.8 1196.8 L226.0 1196.4 L224.2 1195.9 L222.4 1195.5 L220.6 1195.1 L218.8 1194.8 L217.0 1194.4 L215.2 1194.1 L213.4 1193.8 L211.5 1193.5 L209.7 1193.2 L207.9 1192.9 L206.1 1192.7 L204.3 1192.5 L202.5 1192.2 L200.7 1192.0 L198.9 1191.9 L197.1 1191.7 L195.3 1191.5 L193.5 1191.3 L191.7 1191.2 L191.7 1191.2 L190.6 1191.0 L189.5 1190.6 L188.7 1189.8 L188.1 1188.9 L187.7 1187.8 L187.7 1186.6 L188.1 1185.5 L188.7 1184.6 L189.5 1183.8 L190.6 1183.4 L191.7 1183.2 Z"/></clipPath>
<clipPath id="c11"><rect x="684.5" y="1087.5" width="856" height="198"/></clipPath>
<clipPath id="c12"><path d="M631.0 1162.6 L632.4 1161.7 L633.8 1160.9 L635.3 1160.0 L636.7 1159.1 L638.1 1158.2 L639.5 1157.3 L640.9 1156.3 L642.4 1155.3 L643.8 1154.3 L645.2 1153.3 L646.6 1152.3 L648.0 1151.3 L649.5 1150.2 L650.9 1149.2 L652.3 1148.1 L653.7 1147.0 L655.1 1145.9 L656.6 1144.8 L658.0 1143.6 L659.4 1142.5 L660.8 1141.3 L662.2 1140.1 L663.6 1139.0 L665.1 1137.8 L666.5 1136.6 L667.9 1135.4 L669.3 1134.2 L670.7 1133.0 L672.2 1131.8 L673.6 1130.6 L675.0 1129.4 L676.4 1128.2 L677.8 1127.0 L679.3 1125.8 L680.7 1124.6 L682.1 1123.4 L683.5 1122.2 L684.9 1121.0 L686.4 1119.9 L687.8 1118.7 L689.2 1117.6 L690.6 1116.5 L692.0 1115.3 L693.5 1114.3 L694.9 1113.2 L696.3 1112.1 L697.7 1111.1 L699.1 1110.1 L700.6 1109.1 L702.0 1108.1 L703.4 1107.2 L704.8 1106.3 L706.2 1105.4 L707.7 1104.5 L709.1 1103.7 L710.5 1102.9 L711.9 1102.1 L713.3 1101.4 L714.8 1100.7 L716.2 1100.1 L717.6 1099.4 L719.0 1098.9 L720.4 1098.3 L721.8 1097.8 L723.3 1097.3 L724.7 1096.9 L726.1 1096.5 L727.5 1096.2 L728.9 1095.9 L730.4 1095.6 L731.8 1095.4 L733.2 1095.3 L734.6 1095.1 L736.0 1095.0 L737.5 1095.0 L738.9 1095.0 L740.3 1095.1 L741.7 1095.2 L743.1 1095.3 L744.6 1095.5 L746.0 1095.7 L747.4 1096.0 L748.8 1096.3 L750.2 1096.6 L751.7 1097.0 L753.1 1097.4 L754.5 1097.9 L755.9 1098.4 L757.3 1099.0 L758.8 1099.6 L760.2 1100.2 L761.6 1100.9 L763.0 1101.6 L764.4 1102.3 L765.9 1103.1 L767.3 1103.9 L768.7 1104.7 L770.1 1105.6 L771.5 1106.5 L772.9 1107.4 L774.4 1108.3 L775.8 1109.3 L777.2 1110.3 L778.6 1111.3 L780.0 1112.4 L781.5 1113.4 L782.9 1114.5 L784.3 1115.6 L785.7 1116.7 L787.1 1117.9 L788.6 1119.0 L790.0 1120.2 L791.4 1121.3 L792.8 1122.5 L794.2 1123.7 L795.7 1124.9 L797.1 1126.1 L798.5 1127.3 L799.9 1128.5 L801.3 1129.7 L802.8 1130.9 L804.2 1132.1 L805.6 1133.3 L807.0 1134.5 L808.4 1135.7 L809.9 1136.9 L811.3 1138.1 L812.7 1139.3 L814.1 1140.4 L815.5 1141.6 L817.0 1142.8 L818.4 1143.9 L819.8 1145.0 L821.2 1146.1 L822.6 1147.3 L824.1 1148.3 L825.5 1149.4 L826.9 1150.5 L828.3 1151.5 L829.7 1152.6 L831.1 1153.6 L832.6 1154.6 L834.0 1155.6 L835.4 1156.5 L836.8 1157.5 L838.2 1158.4 L839.7 1159.3 L841.1 1160.2 L842.5 1161.1 L843.9 1161.9 L845.3 1162.8 L846.8 1163.6 L848.2 1164.4 L849.6 1165.1 L851.0 1165.9 L852.4 1166.6 L853.9 1167.3 L855.3 1168.0 L856.7 1168.7 L858.1 1169.4 L859.5 1170.0 L861.0 1170.6 L862.4 1171.2 L863.8 1171.8 L865.2 1172.4 L866.6 1172.9 L868.1 1173.4 L869.5 1173.9 L870.9 1174.4 L872.3 1174.9 L873.7 1175.4 L875.2 1175.8 L876.6 1176.2 L878.0 1176.6 L879.4 1177.0 L880.8 1177.4 L882.3 1177.8 L883.7 1178.1 L885.1 1178.5 L886.5 1178.8 L887.9 1179.1 L889.3 1179.4 L890.8 1179.7 L892.2 1180.0 L893.6 1180.2 L895.0 1180.5 L896.4 1180.7 L897.9 1180.9 L899.3 1181.2 L900.7 1181.4 L902.1 1181.6 L903.5 1181.8 L905.0 1181.9 L906.4 1182.1 L907.8 1182.3 L909.2 1182.4 L910.6 1182.6 L912.1 1182.7 L913.5 1182.9 L913.5 1182.9 L914.7 1183.0 L915.8 1183.5 L916.8 1184.4 L917.4 1185.4 L917.8 1186.6 L917.8 1187.8 L917.4 1189.0 L916.8 1190.0 L915.8 1190.9 L914.7 1191.4 L913.5 1191.5 L913.5 1191.5 L912.1 1191.7 L910.6 1191.8 L909.2 1192.0 L907.8 1192.1 L906.4 1192.3 L905.0 1192.5 L903.5 1192.6 L902.1 1192.8 L900.7 1193.0 L899.3 1193.2 L897.9 1193.5 L896.4 1193.7 L895.0 1193.9 L893.6 1194.2 L892.2 1194.4 L890.8 1194.7 L889.3 1195.0 L887.9 1195.3 L886.5 1195.6 L885.1 1195.9 L883.7 1196.3 L882.3 1196.6 L880.8 1197.0 L879.4 1197.4 L878.0 1197.8 L876.6 1198.2 L875.2 1198.6 L873.7 1199.0 L872.3 1199.5 L870.9 1200.0 L869.5 1200.5 L868.1 1201.0 L866.6 1201.5 L865.2 1202.0 L863.8 1202.6 L862.4 1203.2 L861.0 1203.8 L859.5 1204.4 L858.1 1205.0 L856.7 1205.7 L855.3 1206.4 L853.9 1207.1 L852.4 1207.8 L851.0 1208.5 L849.6 1209.3 L848.2 1210.0 L846.8 1210.8 L845.3 1211.6 L843.9 1212.5 L842.5 1213.3 L841.1 1214.2 L839.7 1215.1 L838.2 1216.0 L836.8 1216.9 L835.4 1217.9 L834.0 1218.8 L832.6 1219.8 L831.1 1220.8 L829.7 1221.8 L828.3 1222.9 L826.9 1223.9 L825.5 1225.0 L824.1 1226.1 L822.6 1227.1 L821.2 1228.3 L819.8 1229.4 L818.4 1230.5 L817.0 1231.6 L815.5 1232.8 L814.1 1234.0 L812.7 1235.1 L811.3 1236.3 L809.9 1237.5 L808.4 1238.7 L807.0 1239.9 L805.6 1241.1 L804.2 1242.3 L802.8 1243.5 L801.3 1244.7 L799.9 1245.9 L798.5 1247.1 L797.1 1248.3 L795.7 1249.5 L794.2 1250.7 L792.8 1251.9 L791.4 1253.1 L790.0 1254.2 L788.6 1255.4 L787.1 1256.5 L785.7 1257.7 L784.3 1258.8 L782.9 1259.9 L781.5 1261.0 L780.0 1262.0 L778.6 1263.1 L777.2 1264.1 L775.8 1265.1 L774.4 1266.1 L772.9 1267.0 L771.5 1267.9 L770.1 1268.8 L768.7 1269.7 L767.3 1270.5 L765.9 1271.3 L764.4 1272.1 L763.0 1272.8 L761.6 1273.5 L760.2 1274.2 L758.8 1274.8 L757.3 1275.4 L755.9 1276.0 L754.5 1276.5 L753.1 1277.0 L751.7 1277.4 L750.2 1277.8 L748.8 1278.1 L747.4 1278.4 L746.0 1278.7 L744.6 1278.9 L743.1 1279.1 L741.7 1279.2 L740.3 1279.3 L738.9 1279.4 L737.5 1279.4 L736.0 1279.4 L734.6 1279.3 L733.2 1279.1 L731.8 1279.0 L730.4 1278.8 L728.9 1278.5 L727.5 1278.2 L726.1 1277.9 L724.7 1277.5 L723.3 1277.1 L721.8 1276.6 L720.4 1276.1 L719.0 1275.5 L717.6 1275.0 L716.2 1274.3 L714.8 1273.7 L713.3 1273.0 L711.9 1272.3 L710.5 1271.5 L709.1 1270.7 L707.7 1269.9 L706.2 1269.0 L704.8 1268.1 L703.4 1267.2 L702.0 1266.3 L700.6 1265.3 L699.1 1264.3 L697.7 1263.3 L696.3 1262.3 L694.9 1261.2 L693.5 1260.1 L692.0 1259.1 L690.6 1257.9 L689.2 1256.8 L687.8 1255.7 L686.4 1254.5 L684.9 1253.4 L683.5 1252.2 L682.1 1251.0 L680.7 1249.8 L679.3 1248.6 L677.8 1247.4 L676.4 1246.2 L675.0 1245.0 L673.6 1243.8 L672.2 1242.6 L670.7 1241.4 L669.3 1240.2 L667.9 1239.0 L666.5 1237.8 L665.1 1236.6 L663.6 1235.4 L662.2 1234.3 L660.8 1233.1 L659.4 1231.9 L658.0 1230.8 L656.6 1229.6 L655.1 1228.5 L653.7 1227.4 L652.3 1226.3 L650.9 1225.2 L649.5 1224.2 L648.0 1223.1 L646.6 1222.1 L645.2 1221.1 L643.8 1220.1 L642.4 1219.1 L640.9 1218.1 L639.5 1217.1 L638.1 1216.2 L636.7 1215.3 L635.3 1214.4 L633.8 1213.5 L632.4 1212.7 L631.0 1211.8 L631.0 1211.8 L624.1 1210.8 L617.7 1207.9 L612.4 1203.3 L608.6 1197.4 L606.6 1190.7 L606.6 1183.7 L608.6 1177.0 L612.4 1171.1 L617.7 1166.5 L624.1 1163.6 L631.0 1162.6 Z"/></clipPath>
<clipPath id="c13"><rect x="153.5" y="1285.5" width="428" height="193"/></clipPath>
<clipPath id="c14"><path d="M191.7 1375.6 L193.5 1375.5 L195.3 1375.3 L197.1 1375.1 L198.9 1374.9 L200.7 1374.8 L202.5 1374.6 L204.3 1374.3 L206.1 1374.1 L207.9 1373.9 L209.7 1373.6 L211.5 1373.3 L213.4 1373.0 L215.2 1372.7 L217.0 1372.4 L218.8 1372.0 L220.6 1371.7 L222.4 1371.3 L224.2 1370.9 L226.0 1370.4 L227.8 1370.0 L229.6 1369.5 L231.4 1369.0 L233.2 1368.5 L235.0 1367.9 L236.8 1367.4 L238.6 1366.7 L240.4 1366.1 L242.2 1365.5 L244.0 1364.8 L245.8 1364.0 L247.6 1363.3 L249.4 1362.5 L251.2 1361.7 L253.1 1360.9 L254.9 1360.0 L256.7 1359.1 L258.5 1358.2 L260.3 1357.2 L262.1 1356.2 L263.9 1355.2 L265.7 1354.1 L267.5 1353.0 L269.3 1351.9 L271.1 1350.7 L272.9 1349.6 L274.7 1348.3 L276.5 1347.1 L278.3 1345.8 L280.1 1344.5 L281.9 1343.2 L283.7 1341.9 L285.5 1340.5 L287.3 1339.1 L289.1 1337.7 L290.9 1336.2 L292.8 1334.8 L294.6 1333.3 L296.4 1331.8 L298.2 1330.3 L300.0 1328.8 L301.8 1327.3 L303.6 1325.8 L305.4 1324.2 L307.2 1322.7 L309.0 1321.2 L310.8 1319.6 L312.6 1318.1 L314.4 1316.6 L316.2 1315.1 L318.0 1313.6 L319.8 1312.1 L321.6 1310.6 L323.4 1309.2 L325.2 1307.8 L327.0 1306.4 L328.8 1305.0 L330.6 1303.7 L332.4 1302.4 L334.3 1301.2 L336.1 1300.0 L337.9 1298.8 L339.7 1297.7 L341.5 1296.6 L343.3 1295.5 L345.1 1294.6 L346.9 1293.7 L348.7 1292.8 L350.5 1292.0 L352.3 1291.2 L354.1 1290.6 L355.9 1289.9 L357.7 1289.4 L359.5 1288.9 L361.3 1288.5 L363.1 1288.1 L364.9 1287.8 L366.7 1287.6 L368.5 1287.5 L370.3 1287.4 L372.1 1287.4 L374.0 1287.5 L375.8 1287.6 L377.6 1287.8 L379.4 1288.1 L381.2 1288.5 L383.0 1288.9 L384.8 1289.4 L386.6 1289.9 L388.4 1290.6 L390.2 1291.2 L392.0 1292.0 L393.8 1292.8 L395.6 1293.7 L397.4 1294.6 L399.2 1295.5 L401.0 1296.6 L402.8 1297.7 L404.6 1298.8 L406.4 1300.0 L408.2 1301.2 L410.0 1302.4 L411.8 1303.7 L413.7 1305.0 L415.5 1306.4 L417.3 1307.8 L419.1 1309.2 L420.9 1310.6 L422.7 1312.1 L424.5 1313.6 L426.3 1315.1 L428.1 1316.6 L429.9 1318.1 L431.7 1319.6 L433.5 1321.2 L435.3 1322.7 L437.1 1324.2 L438.9 1325.8 L440.7 1327.3 L442.5 1328.8 L444.3 1330.3 L446.1 1331.8 L447.9 1333.3 L449.7 1334.8 L451.5 1336.2 L453.3 1337.7 L455.2 1339.1 L457.0 1340.5 L458.8 1341.9 L460.6 1343.2 L462.4 1344.5 L464.2 1345.8 L466.0 1347.1 L467.8 1348.3 L469.6 1349.6 L471.4 1350.7 L473.2 1351.9 L475.0 1353.0 L476.8 1354.1 L478.6 1355.2 L480.4 1356.2 L482.2 1357.2 L484.0 1358.2 L485.8 1359.1 L487.6 1360.0 L489.4 1360.9 L491.2 1361.7 L493.0 1362.5 L494.9 1363.3 L496.7 1364.0 L498.5 1364.8 L500.3 1365.5 L502.1 1366.1 L503.9 1366.7 L505.7 1367.4 L507.5 1367.9 L509.3 1368.5 L511.1 1369.0 L512.9 1369.5 L514.7 1370.0 L516.5 1370.4 L518.3 1370.9 L520.1 1371.3 L521.9 1371.7 L523.7 1372.0 L525.5 1372.4 L527.3 1372.7 L529.1 1373.0 L530.9 1373.3 L532.7 1373.6 L534.6 1373.9 L536.4 1374.1 L538.2 1374.3 L540.0 1374.6 L541.8 1374.8 L543.6 1374.9 L545.4 1375.1 L547.2 1375.3 L549.0 1375.5 L550.8 1375.6 L550.8 1375.6 L551.9 1375.8 L553.0 1376.2 L553.8 1377.0 L554.4 1377.9 L554.8 1379.0 L554.8 1380.2 L554.4 1381.3 L553.8 1382.2 L553.0 1383.0 L551.9 1383.4 L550.8 1383.6 L550.8 1383.6 L549.0 1383.7 L547.2 1383.9 L545.4 1384.1 L543.6 1384.3 L541.8 1384.4 L540.0 1384.6 L538.2 1384.9 L536.4 1385.1 L534.6 1385.3 L532.7 1385.6 L530.9 1385.9 L529.1 1386.2 L527.3 1386.5 L525.5 1386.8 L523.7 1387.2 L521.9 1387.5 L520.1 1387.9 L518.3 1388.3 L516.5 1388.8 L514.7 1389.2 L512.9 1389.7 L511.1 1390.2 L509.3 1390.7 L507.5 1391.3 L505.7 1391.8 L503.9 1392.5 L502.1 1393.1 L500.3 1393.7 L498.5 1394.4 L496.7 1395.2 L494.9 1395.9 L493.0 1396.7 L491.2 1397.5 L489.4 1398.3 L487.6 1399.2 L485.8 1400.1 L484.0 1401.0 L482.2 1402.0 L480.4 1403.0 L478.6 1404.0 L476.8 1405.1 L475.0 1406.2 L473.2 1407.3 L471.4 1408.5 L469.6 1409.6 L467.8 1410.9 L466.0 1412.1 L464.2 1413.4 L462.4 1414.7 L460.6 1416.0 L458.8 1417.3 L457.0 1418.7 L455.2 1420.1 L453.3 1421.5 L451.5 1423.0 L449.7 1424.4 L447.9 1425.9 L446.1 1427.4 L444.3 1428.9 L442.5 1430.4 L440.7 1431.9 L438.9 1433.4 L437.1 1435.0 L435.3 1436.5 L433.5 1438.0 L431.7 1439.6 L429.9 1441.1 L428.1 1442.6 L426.3 1444.1 L424.5 1445.6 L422.7 1447.1 L420.9 1448.6 L419.1 1450.0 L417.3 1451.4 L415.5 1452.8 L413.7 1454.2 L411.8 1455.5 L410.0 1456.8 L408.2 1458.0 L406.4 1459.2 L404.6 1460.4 L402.8 1461.5 L401.0 1462.6 L399.2 1463.7 L397.4 1464.6 L395.6 1465.5 L393.8 1466.4 L392.0 1467.2 L390.2 1468.0 L388.4 1468.6 L386.6 1469.3 L384.8 1469.8 L383.0 1470.3 L381.2 1470.7 L379.4 1471.1 L377.6 1471.4 L375.8 1471.6 L374.0 1471.7 L372.1 1471.8 L370.3 1471.8 L368.5 1471.7 L366.7 1471.6 L364.9 1471.4 L363.1 1471.1 L361.3 1470.7 L359.5 1470.3 L357.7 1469.8 L355.9 1469.3 L354.1 1468.6 L352.3 1468.0 L350.5 1467.2 L348.7 1466.4 L346.9 1465.5 L345.1 1464.6 L343.3 1463.7 L341.5 1462.6 L339.7 1461.5 L337.9 1460.4 L336.1 1459.2 L334.3 1458.0 L332.4 1456.8 L330.6 1455.5 L328.8 1454.2 L327.0 1452.8 L325.2 1451.4 L323.4 1450.0 L321.6 1448.6 L319.8 1447.1 L318.0 1445.6 L316.2 1444.1 L314.4 1442.6 L312.6 1441.1 L310.8 1439.6 L309.0 1438.0 L307.2 1436.5 L305.4 1435.0 L303.6 1433.4 L301.8 1431.9 L300.0 1430.4 L298.2 1428.9 L296.4 1427.4 L294.6 1425.9 L292.8 1424.4 L290.9 1423.0 L289.1 1421.5 L287.3 1420.1 L285.5 1418.7 L283.7 1417.3 L281.9 1416.0 L280.1 1414.7 L278.3 1413.4 L276.5 1412.1 L274.7 1410.9 L272.9 1409.6 L271.1 1408.5 L269.3 1407.3 L267.5 1406.2 L265.7 1405.1 L263.9 1404.0 L262.1 1403.0 L260.3 1402.0 L258.5 1401.0 L256.7 1400.1 L254.9 1399.2 L253.1 1398.3 L251.2 1397.5 L249.4 1396.7 L247.6 1395.9 L245.8 1395.2 L244.0 1394.4 L242.2 1393.7 L240.4 1393.1 L238.6 1392.5 L236.8 1391.8 L235.0 1391.3 L233.2 1390.7 L231.4 1390.2 L229.6 1389.7 L227.8 1389.2 L226.0 1388.8 L224.2 1388.3 L222.4 1387.9 L220.6 1387.5 L218.8 1387.2 L217.0 1386.8 L215.2 1386.5 L213.4 1386.2 L211.5 1385.9 L209.7 1385.6 L207.9 1385.3 L206.1 1385.1 L204.3 1384.9 L202.5 1384.6 L200.7 1384.4 L198.9 1384.3 L197.1 1384.1 L195.3 1383.9 L193.5 1383.7 L191.7 1383.6 L191.7 1383.6 L190.6 1383.4 L189.5 1383.0 L188.7 1382.2 L188.1 1381.3 L187.7 1380.2 L187.7 1379.0 L188.1 1377.9 L188.7 1377.0 L189.5 1376.2 L190.6 1375.8 L191.7 1375.6 Z"/></clipPath>
<clipPath id="c15"><rect x="684.5" y="1285.5" width="856" height="193"/></clipPath>
<clipPath id="c16"><path d="M631.0 1355.0 L632.4 1354.1 L633.8 1353.3 L635.3 1352.4 L636.7 1351.5 L638.1 1350.6 L639.5 1349.7 L640.9 1348.7 L642.4 1347.7 L643.8 1346.7 L645.2 1345.7 L646.6 1344.7 L648.0 1343.7 L649.5 1342.6 L650.9 1341.6 L652.3 1340.5 L653.7 1339.4 L655.1 1338.3 L656.6 1337.2 L658.0 1336.0 L659.4 1334.9 L660.8 1333.7 L662.2 1332.5 L663.6 1331.4 L665.1 1330.2 L666.5 1329.0 L667.9 1327.8 L669.3 1326.6 L670.7 1325.4 L672.2 1324.2 L673.6 1323.0 L675.0 1321.8 L676.4 1320.6 L677.8 1319.4 L679.3 1318.2 L680.7 1317.0 L682.1 1315.8 L683.5 1314.6 L684.9 1313.4 L686.4 1312.3 L687.8 1311.1 L689.2 1310.0 L690.6 1308.9 L692.0 1307.7 L693.5 1306.7 L694.9 1305.6 L696.3 1304.5 L697.7 1303.5 L699.1 1302.5 L700.6 1301.5 L702.0 1300.5 L703.4 1299.6 L704.8 1298.7 L706.2 1297.8 L707.7 1296.9 L709.1 1296.1 L710.5 1295.3 L711.9 1294.5 L713.3 1293.8 L714.8 1293.1 L716.2 1292.5 L717.6 1291.8 L719.0 1291.3 L720.4 1290.7 L721.8 1290.2 L723.3 1289.7 L724.7 1289.3 L726.1 1288.9 L727.5 1288.6 L728.9 1288.3 L730.4 1288.0 L731.8 1287.8 L733.2 1287.7 L734.6 1287.5 L736.0 1287.4 L737.5 1287.4 L738.9 1287.4 L740.3 1287.5 L741.7 1287.6 L743.1 1287.7 L744.6 1287.9 L746.0 1288.1 L747.4 1288.4 L748.8 1288.7 L750.2 1289.0 L751.7 1289.4 L753.1 1289.8 L754.5 1290.3 L755.9 1290.8 L757.3 1291.4 L758.8 1292.0 L760.2 1292.6 L761.6 1293.3 L763.0 1294.0 L764.4 1294.7 L765.9 1295.5 L767.3 1296.3 L768.7 1297.1 L770.1 1298.0 L771.5 1298.9 L772.9 1299.8 L774.4 1300.7 L775.8 1301.7 L777.2 1302.7 L778.6 1303.7 L780.0 1304.8 L781.5 1305.8 L782.9 1306.9 L784.3 1308.0 L785.7 1309.1 L787.1 1310.3 L788.6 1311.4 L790.0 1312.6 L791.4 1313.7 L792.8 1314.9 L794.2 1316.1 L795.7 1317.3 L797.1 1318.5 L798.5 1319.7 L799.9 1320.9 L801.3 1322.1 L802.8 1323.3 L804.2 1324.5 L805.6 1325.7 L807.0 1326.9 L808.4 1328.1 L809.9 1329.3 L811.3 1330.5 L812.7 1331.7 L814.1 1332.8 L815.5 1334.0 L817.0 1335.2 L818.4 1336.3 L819.8 1337.4 L821.2 1338.5 L822.6 1339.7 L824.1 1340.7 L825.5 1341.8 L826.9 1342.9 L828.3 1343.9 L829.7 1345.0 L831.1 1346.0 L832.6 1347.0 L834.0 1348.0 L835.4 1348.9 L836.8 1349.9 L838.2 1350.8 L839.7 1351.7 L841.1 1352.6 L842.5 1353.5 L843.9 1354.3 L845.3 1355.2 L846.8 1356.0 L848.2 1356.8 L849.6 1357.5 L851.0 1358.3 L852.4 1359.0 L853.9 1359.7 L855.3 1360.4 L856.7 1361.1 L858.1 1361.8 L859.5 1362.4 L861.0 1363.0 L862.4 1363.6 L863.8 1364.2 L865.2 1364.8 L866.6 1365.3 L868.1 1365.8 L869.5 1366.3 L870.9 1366.8 L872.3 1367.3 L873.7 1367.8 L875.2 1368.2 L876.6 1368.6 L878.0 1369.0 L879.4 1369.4 L880.8 1369.8 L882.3 1370.2 L883.7 1370.5 L885.1 1370.9 L886.5 1371.2 L887.9 1371.5 L889.3 1371.8 L890.8 1372.1 L892.2 1372.4 L893.6 1372.6 L895.0 1372.9 L896.4 1373.1 L897.9 1373.3 L899.3 1373.6 L900.7 1373.8 L902.1 1374.0 L903.5 1374.2 L905.0 1374.3 L906.4 1374.5 L907.8 1374.7 L909.2 1374.8 L910.6 1375.0 L912.1 1375.1 L913.5 1375.3 L913.5 1375.3 L914.7 1375.4 L915.8 1375.9 L916.8 1376.8 L917.4 1377.8 L917.8 1379.0 L917.8 1380.2 L917.4 1381.4 L916.8 1382.4 L915.8 1383.3 L914.7 1383.8 L913.5 1383.9 L913.5 1383.9 L912.1 1384.1 L910.6 1384.2 L909.2 1384.4 L907.8 1384.5 L906.4 1384.7 L905.0 1384.9 L903.5 1385.0 L902.1 1385.2 L900.7 1385.4 L899.3 1385.6 L897.9 1385.9 L896.4 1386.1 L895.0 1386.3 L893.6 1386.6 L892.2 1386.8 L890.8 1387.1 L889.3 1387.4 L887.9 1387.7 L886.5 1388.0 L885.1 1388.3 L883.7 1388.7 L882.3 1389.0 L880.8 1389.4 L879.4 1389.8 L878.0 1390.2 L876.6 1390.6 L875.2 1391.0 L873.7 1391.4 L872.3 1391.9 L870.9 1392.4 L869.5 1392.9 L868.1 1393.4 L866.6 1393.9 L865.2 1394.4 L863.8 1395.0 L862.4 1395.6 L861.0 1396.2 L859.5 1396.8 L858.1 1397.4 L856.7 1398.1 L855.3 1398.8 L853.9 1399.5 L852.4 1400.2 L851.0 1400.9 L849.6 1401.7 L848.2 1402.4 L846.8 1403.2 L845.3 1404.0 L843.9 1404.9 L842.5 1405.7 L841.1 1406.6 L839.7 1407.5 L838.2 1408.4 L836.8 1409.3 L835.4 1410.3 L834.0 1411.2 L832.6 1412.2 L831.1 1413.2 L829.7 1414.2 L828.3 1415.3 L826.9 1416.3 L825.5 1417.4 L824.1 1418.5 L822.6 1419.5 L821.2 1420.7 L819.8 1421.8 L818.4 1422.9 L817.0 1424.0 L815.5 1425.2 L814.1 1426.4 L812.7 1427.5 L811.3 1428.7 L809.9 1429.9 L808.4 1431.1 L807.0 1432.3 L805.6 1433.5 L804.2 1434.7 L802.8 1435.9 L801.3 1437.1 L799.9 1438.3 L798.5 1439.5 L797.1 1440.7 L795.7 1441.9 L794.2 1443.1 L792.8 1444.3 L791.4 1445.5 L790.0 1446.6 L788.6 1447.8 L787.1 1448.9 L785.7 1450.1 L784.3 1451.2 L782.9 1452.3 L781.5 1453.4 L780.0 1454.4 L778.6 1455.5 L777.2 1456.5 L775.8 1457.5 L774.4 1458.5 L772.9 1459.4 L771.5 1460.3 L770.1 1461.2 L768.7 1462.1 L767.3 1462.9 L765.9 1463.7 L764.4 1464.5 L763.0 1465.2 L761.6 1465.9 L760.2 1466.6 L758.8 1467.2 L757.3 1467.8 L755.9 1468.4 L754.5 1468.9 L753.1 1469.4 L751.7 1469.8 L750.2 1470.2 L748.8 1470.5 L747.4 1470.8 L746.0 1471.1 L744.6 1471.3 L743.1 1471.5 L741.7 1471.6 L740.3 1471.7 L738.9 1471.8 L737.5 1471.8 L736.0 1471.8 L734.6 1471.7 L733.2 1471.5 L731.8 1471.4 L730.4 1471.2 L728.9 1470.9 L727.5 1470.6 L726.1 1470.3 L724.7 1469.9 L723.3 1469.5 L721.8 1469.0 L720.4 1468.5 L719.0 1467.9 L717.6 1467.4 L716.2 1466.7 L714.8 1466.1 L713.3 1465.4 L711.9 1464.7 L710.5 1463.9 L709.1 1463.1 L707.7 1462.3 L706.2 1461.4 L704.8 1460.5 L703.4 1459.6 L702.0 1458.7 L700.6 1457.7 L699.1 1456.7 L697.7 1455.7 L696.3 1454.7 L694.9 1453.6 L693.5 1452.5 L692.0 1451.5 L690.6 1450.3 L689.2 1449.2 L687.8 1448.1 L686.4 1446.9 L684.9 1445.8 L683.5 1444.6 L682.1 1443.4 L680.7 1442.2 L679.3 1441.0 L677.8 1439.8 L676.4 1438.6 L675.0 1437.4 L673.6 1436.2 L672.2 1435.0 L670.7 1433.8 L669.3 1432.6 L667.9 1431.4 L666.5 1430.2 L665.1 1429.0 L663.6 1427.8 L662.2 1426.7 L660.8 1425.5 L659.4 1424.3 L658.0 1423.2 L656.6 1422.0 L655.1 1420.9 L653.7 1419.8 L652.3 1418.7 L650.9 1417.6 L649.5 1416.6 L648.0 1415.5 L646.6 1414.5 L645.2 1413.5 L643.8 1412.5 L642.4 1411.5 L640.9 1410.5 L639.5 1409.5 L638.1 1408.6 L636.7 1407.7 L635.3 1406.8 L633.8 1405.9 L632.4 1405.1 L631.0 1404.2 L631.0 1404.2 L624.1 1403.2 L617.7 1400.3 L612.4 1395.7 L608.6 1389.8 L606.6 1383.1 L606.6 1376.1 L608.6 1369.4 L612.4 1363.5 L617.7 1358.9 L624.1 1356.0 L631.0 1355.0 Z"/></clipPath></defs>
<rect width="1736" height="1932" fill="#fff"/>
<rect x="143.5" y="94.5" width="1166" height="196" fill="#fff" />
<path d="M673.5 215.4 L677.5 215.4 L681.5 215.4 L685.5 215.4 L689.5 215.4 L693.5 215.3 L697.5 215.3 L701.5 215.3 L705.5 215.3 L709.5 215.3 L713.5 215.3 L717.5 215.3 L721.5 215.3 L725.5 215.3 L729.5 215.3 L733.5 215.2 L737.5 215.2 L741.5 215.2 L745.5 215.2 L749.5 215.2 L753.5 215.2 L757.5 215.2 L761.5 215.2 L765.5 215.2 L769.5 215.1 L773.5 215.1 L777.5 215.1 L781.5 215.1 L785.5 215.1 L789.5 215.1 L793.5 215.1 L797.5 215.1 L801.5 215.1 L805.5 215.1 L809.5 215.0 L813.5 215.0 L817.5 215.0 L821.5 215.0 L825.5 215.0 L829.5 215.0 L833.5 215.0 L837.5 215.0 L841.5 215.0 L845.5 214.9 L849.5 214.9 L853.5 214.9 L857.5 214.9 L861.5 214.9 L865.5 214.9 L869.5 214.9 L873.5 214.9 L877.5 214.9 L881.5 214.8 L885.5 214.8 L889.5 214.8 L893.5 214.8 L897.5 214.8 L901.5 214.8 L905.5 214.8 L909.5 214.8 L913.5 214.8 L917.5 214.8 L921.5 214.7 L925.5 214.7 L929.5 214.7 L933.5 214.7 L937.5 214.7 L941.5 214.7 L945.5 214.7 L949.5 214.7 L953.5 214.7 L957.5 214.6 L961.5 214.6 L965.5 214.6 L969.5 214.6 L973.5 214.6 L977.5 214.6 L981.5 214.6 L985.5 214.6 L989.5 214.6 L993.5 214.6 L997.5 214.5 L1001.5 214.5 L1005.5 214.5 L1009.5 214.5 L1013.5 214.5 L1017.5 214.5 L1021.5 214.5 L1025.5 214.5 L1029.5 214.5 L1033.5 214.4 L1037.5 214.4 L1041.5 214.4 L1045.5 214.4 L1049.5 214.4 L1053.5 214.4 L1057.5 214.4 L1061.5 214.4 L1065.5 214.4 L1069.5 214.3 L1073.5 214.3 L1077.5 214.3 L1081.5 214.3 L1085.5 214.3 L1089.5 214.3 L1093.5 214.3 L1097.5 214.3 L1101.5 214.3 L1105.5 214.3 L1109.5 214.2 L1113.5 214.2 L1117.5 214.2 L1121.5 214.2 L1125.5 214.2 L1129.5 214.2 L1133.5 214.2 L1137.5 214.2 L1141.5 214.2 L1145.5 214.1 L1149.5 214.1 L1153.5 214.1 L1157.5 214.1 L1161.5 214.1 L1165.5 214.1 L1169.5 214.1 L1173.5 214.1 L1177.5 214.1 L1181.5 214.1 L1185.5 214.0 L1189.5 214.0 L1193.5 214.0 L1197.5 214.0 L1201.5 214.0 L1205.5 214.0 L1209.5 214.0 L1213.5 214.0 L1217.5 214.0 L1221.5 213.9 L1225.5 213.9 L1229.5 213.9 L1233.5 213.9 L1237.5 213.9 L1241.5 213.9 L1245.5 213.9 L1249.5 213.9 L1253.5 213.9 L1257.5 213.8 L1261.5 213.8 L1265.5 213.8 L1269.5 213.8 L1273.5 213.8 L1277.5 213.8 L1281.5 213.8 L1285.5 213.8 L1289.5 213.8 L1293.5 213.8 L1297.5 213.7 L1301.5 213.7 L1305.5 213.7 L1309.5 213.7" fill="none" stroke="#de2d20" stroke-width="3.6" stroke-dasharray="12.9 5.7" />
<path d="M673.5 169.6 L677.5 169.6 L681.5 169.6 L685.5 169.6 L689.5 169.6 L693.5 169.7 L697.5 169.7 L701.5 169.7 L705.5 169.7 L709.5 169.7 L713.5 169.7 L717.5 169.7 L721.5 169.7 L725.5 169.7 L729.5 169.7 L733.5 169.8 L737.5 169.8 L741.5 169.8 L745.5 169.8 L749.5 169.8 L753.5 169.8 L757.5 169.8 L761.5 169.8 L765.5 169.8 L769.5 169.9 L773.5 169.9 L777.5 169.9 L781.5 169.9 L785.5 169.9 L789.5 169.9 L793.5 169.9 L797.5 169.9 L801.5 169.9 L805.5 169.9 L809.5 170.0 L813.5 170.0 L817.5 170.0 L821.5 170.0 L825.5 170.0 L829.5 170.0 L833.5 170.0 L837.5 170.0 L841.5 170.0 L845.5 170.1 L849.5 170.1 L853.5 170.1 L857.5 170.1 L861.5 170.1 L865.5 170.1 L869.5 170.1 L873.5 170.1 L877.5 170.1 L881.5 170.2 L885.5 170.2 L889.5 170.2 L893.5 170.2 L897.5 170.2 L901.5 170.2 L905.5 170.2 L909.5 170.2 L913.5 170.2 L917.5 170.2 L921.5 170.3 L925.5 170.3 L929.5 170.3 L933.5 170.3 L937.5 170.3 L941.5 170.3 L945.5 170.3 L949.5 170.3 L953.5 170.3 L957.5 170.4 L961.5 170.4 L965.5 170.4 L969.5 170.4 L973.5 170.4 L977.5 170.4 L981.5 170.4 L985.5 170.4 L989.5 170.4 L993.5 170.4 L997.5 170.5 L1001.5 170.5 L1005.5 170.5 L1009.5 170.5 L1013.5 170.5 L1017.5 170.5 L1021.5 170.5 L1025.5 170.5 L1029.5 170.5 L1033.5 170.6 L1037.5 170.6 L1041.5 170.6 L1045.5 170.6 L1049.5 170.6 L1053.5 170.6 L1057.5 170.6 L1061.5 170.6 L1065.5 170.6 L1069.5 170.7 L1073.5 170.7 L1077.5 170.7 L1081.5 170.7 L1085.5 170.7 L1089.5 170.7 L1093.5 170.7 L1097.5 170.7 L1101.5 170.7 L1105.5 170.7 L1109.5 170.8 L1113.5 170.8 L1117.5 170.8 L1121.5 170.8 L1125.5 170.8 L1129.5 170.8 L1133.5 170.8 L1137.5 170.8 L1141.5 170.8 L1145.5 170.9 L1149.5 170.9 L1153.5 170.9 L1157.5 170.9 L1161.5 170.9 L1165.5 170.9 L1169.5 170.9 L1173.5 170.9 L1177.5 170.9 L1181.5 170.9 L1185.5 171.0 L1189.5 171.0 L1193.5 171.0 L1197.5 171.0 L1201.5 171.0 L1205.5 171.0 L1209.5 171.0 L1213.5 171.0 L1217.5 171.0 L1221.5 171.1 L1225.5 171.1 L1229.5 171.1 L1233.5 171.1 L1237.5 171.1 L1241.5 171.1 L1245.5 171.1 L1249.5 171.1 L1253.5 171.1 L1257.5 171.2 L1261.5 171.2 L1265.5 171.2 L1269.5 171.2 L1273.5 171.2 L1277.5 171.2 L1281.5 171.2 L1285.5 171.2 L1289.5 171.2 L1293.5 171.2 L1297.5 171.3 L1301.5 171.3 L1305.5 171.3 L1309.5 171.3" fill="none" stroke="#f4a11c" stroke-width="3.6" stroke-dasharray="12.9 5.7" />
<path d="M143.5 281.6 L150.8 281.6 L158.2 281.6 L165.5 281.6 L172.8 281.6 L180.2 281.6 L187.5 281.6 L194.8 281.5 L202.2 281.5 L209.5 281.4 L216.8 281.4 L224.2 281.2 L231.5 280.9 L238.8 280.6 L246.2 280.0 L253.5 279.2 L260.8 278.1 L268.2 276.6 L275.5 274.6 L282.8 272.1 L290.2 268.9 L297.5 264.9 L304.8 260.3 L312.2 254.9 L319.5 248.9 L326.8 242.2 L334.2 235.2 L341.5 227.9 L348.8 220.5 L356.2 213.2 L363.5 206.3 L370.8 199.8 L378.2 194.0 L385.5 188.8 L392.8 184.4 L400.2 180.7 L407.5 177.7 L414.8 175.3 L422.2 173.4 L429.5 172.1 L436.8 171.1 L444.2 170.4 L451.5 169.9 L458.8 169.6 L466.2 169.4 L473.5 169.3 L480.8 169.2 L488.2 169.2 L495.5 169.2 L502.8 169.2 L510.2 169.2 L517.5 169.2 L524.8 169.2 L532.2 169.2 L539.5 169.2 L546.8 169.3 L554.2 169.3 L561.5 169.3 L568.8 169.3 L576.2 169.3 L583.5 169.4 L590.8 169.4 L598.2 169.4 L605.5 169.4 L612.8 169.4 L620.2 169.5 L627.5 169.5 L634.8 169.5 L642.2 169.5 L649.5 169.5 L656.8 169.6 L664.2 169.6 L671.5 169.6 L678.8 169.6 L686.2 169.7 L693.5 169.9 L700.8 170.3 L708.2 171.1 L715.5 172.6 L722.8 174.9 L730.2 178.3 L737.5 182.6 L744.8 187.5 L752.2 192.5 L759.5 197.0 L766.8 200.6 L774.2 203.2 L781.5 204.8 L788.8 205.7 L796.2 206.1 L803.5 206.4 L810.8 206.5 L818.2 206.5 L825.5 206.5 L832.8 206.5 L840.2 206.6 L847.5 206.6 L854.8 206.6 L862.2 206.6 L869.5 206.6 L876.8 206.7 L884.2 206.7 L891.5 206.7 L898.8 206.7 L906.2 206.7 L913.5 206.8 L920.8 206.8 L928.2 206.8 L935.5 206.8 L942.8 206.8 L950.2 206.9 L957.5 206.9 L964.8 206.9 L972.2 206.9 L979.5 206.9 L986.8 207.0 L994.2 207.0 L1001.5 207.0 L1008.8 207.0 L1016.2 207.0 L1023.5 207.1 L1030.8 207.1 L1038.2 207.1 L1045.5 207.1 L1052.8 207.1 L1060.2 207.2 L1067.5 207.2 L1074.8 207.2 L1082.2 207.2 L1089.5 207.2 L1096.8 207.3 L1104.2 207.3 L1111.5 207.3 L1118.8 207.3 L1126.2 207.3 L1133.5 207.3 L1140.8 207.4 L1148.2 207.4 L1155.5 207.4 L1162.8 207.4 L1170.2 207.4 L1177.5 207.5 L1184.8 207.5 L1192.2 207.5 L1199.5 207.5 L1206.8 207.5 L1214.2 207.6 L1221.5 207.6 L1228.8 207.6 L1236.2 207.6 L1243.5 207.6 L1250.8 207.7 L1258.2 207.7 L1265.5 207.7 L1272.8 207.7 L1280.2 207.7 L1287.5 207.8 L1294.8 207.8 L1302.2 207.8 L1309.5 207.8" fill="none" stroke="#f4a11c" stroke-width="3.6" />
<path d="M143.5 103.4 L150.8 103.4 L158.2 103.4 L165.5 103.4 L172.8 103.4 L180.2 103.4 L187.5 103.4 L194.8 103.5 L202.2 103.5 L209.5 103.6 L216.8 103.6 L224.2 103.8 L231.5 104.1 L238.8 104.4 L246.2 105.0 L253.5 105.8 L260.8 106.9 L268.2 108.4 L275.5 110.4 L282.8 112.9 L290.2 116.1 L297.5 120.1 L304.8 124.7 L312.2 130.1 L319.5 136.1 L326.8 142.8 L334.2 149.8 L341.5 157.1 L348.8 164.5 L356.2 171.8 L363.5 178.7 L370.8 185.2 L378.2 191.0 L385.5 196.2 L392.8 200.6 L400.2 204.3 L407.5 207.3 L414.8 209.7 L422.2 211.6 L429.5 212.9 L436.8 213.9 L444.2 214.6 L451.5 215.1 L458.8 215.4 L466.2 215.6 L473.5 215.7 L480.8 215.8 L488.2 215.8 L495.5 215.8 L502.8 215.8 L510.2 215.8 L517.5 215.8 L524.8 215.8 L532.2 215.8 L539.5 215.8 L546.8 215.7 L554.2 215.7 L561.5 215.7 L568.8 215.7 L576.2 215.7 L583.5 215.6 L590.8 215.6 L598.2 215.6 L605.5 215.6 L612.8 215.6 L620.2 215.5 L627.5 215.5 L634.8 215.5 L642.2 215.5 L649.5 215.5 L656.8 215.4 L664.2 215.4 L671.5 215.4 L678.8 215.4 L686.2 215.3 L693.5 215.1 L700.8 214.7 L708.2 213.9 L715.5 212.4 L722.8 210.1 L730.2 206.7 L737.5 202.4 L744.8 197.5 L752.2 192.5 L759.5 188.0 L766.8 184.4 L774.2 181.8 L781.5 180.2 L788.8 179.3 L796.2 178.9 L803.5 178.6 L810.8 178.5 L818.2 178.5 L825.5 178.5 L832.8 178.5 L840.2 178.4 L847.5 178.4 L854.8 178.4 L862.2 178.4 L869.5 178.4 L876.8 178.3 L884.2 178.3 L891.5 178.3 L898.8 178.3 L906.2 178.3 L913.5 178.2 L920.8 178.2 L928.2 178.2 L935.5 178.2 L942.8 178.2 L950.2 178.1 L957.5 178.1 L964.8 178.1 L972.2 178.1 L979.5 178.1 L986.8 178.0 L994.2 178.0 L1001.5 178.0 L1008.8 178.0 L1016.2 178.0 L1023.5 177.9 L1030.8 177.9 L1038.2 177.9 L1045.5 177.9 L1052.8 177.9 L1060.2 177.8 L1067.5 177.8 L1074.8 177.8 L1082.2 177.8 L1089.5 177.8 L1096.8 177.7 L1104.2 177.7 L1111.5 177.7 L1118.8 177.7 L1126.2 177.7 L1133.5 177.7 L1140.8 177.6 L1148.2 177.6 L1155.5 177.6 L1162.8 177.6 L1170.2 177.6 L1177.5 177.5 L1184.8 177.5 L1192.2 177.5 L1199.5 177.5 L1206.8 177.5 L1214.2 177.4 L1221.5 177.4 L1228.8 177.4 L1236.2 177.4 L1243.5 177.4 L1250.8 177.3 L1258.2 177.3 L1265.5 177.3 L1272.8 177.3 L1280.2 177.3 L1287.5 177.2 L1294.8 177.2 L1302.2 177.2 L1309.5 177.2" fill="none" stroke="#de2d20" stroke-width="3.6" />
<path d="M1417.5 203.4 L1418.2 203.4 L1418.8 203.4 L1419.5 203.4 L1420.2 203.4 L1420.8 203.4 L1421.5 203.4 L1422.2 203.4 L1422.8 203.4 L1423.5 203.4 L1424.2 203.4 L1424.8 203.4 L1425.5 203.4 L1426.2 203.4 L1426.8 203.4 L1427.5 203.4 L1428.2 203.4 L1428.8 203.4 L1429.5 203.4 L1430.2 203.4 L1430.8 203.4 L1431.5 203.4 L1432.2 203.4 L1432.8 203.4 L1433.5 203.4 L1434.2 203.4 L1434.8 203.4 L1435.5 203.4 L1436.2 203.4 L1436.8 203.4 L1437.5 203.4 L1438.2 203.4 L1438.8 203.4 L1439.5 203.4 L1440.2 203.4 L1440.8 203.4 L1441.5 203.4 L1442.2 203.4 L1442.8 203.4 L1443.5 203.4 L1444.2 203.4 L1444.8 203.4 L1445.5 203.4 L1446.2 203.4 L1446.8 203.4 L1447.5 203.4 L1448.2 203.4 L1448.8 203.4 L1449.5 203.4 L1450.2 203.4 L1450.8 203.4 L1451.5 203.4 L1452.2 203.4 L1452.8 203.4 L1453.5 203.4 L1454.2 203.4 L1454.8 203.4 L1455.5 203.4 L1456.2 203.4 L1456.8 203.4 L1457.5 203.4 L1458.2 203.4 L1458.8 203.4 L1459.5 203.4 L1460.2 203.4 L1460.8 203.4 L1461.5 203.4 L1462.2 203.4 L1462.8 203.4 L1463.5 203.4 L1464.2 203.4 L1464.8 203.4 L1465.5 203.4 L1466.2 203.4 L1466.8 203.4 L1467.5 203.4 L1468.2 203.4 L1468.8 203.4 L1469.5 203.4 L1470.2 203.4 L1470.8 203.4 L1471.5 203.4 L1472.2 203.4 L1472.8 203.4 L1473.5 203.4 L1474.2 203.4 L1474.8 203.4 L1475.5 203.4 L1476.2 203.4 L1476.8 203.4 L1477.5 203.4 L1478.2 203.4 L1478.8 203.4 L1479.5 203.4 L1480.2 203.4 L1480.8 203.4 L1481.5 203.4 L1482.2 203.4 L1482.8 203.4 L1483.5 203.4 L1484.2 203.4 L1484.8 203.4 L1485.5 203.4 L1486.2 203.4 L1486.8 203.4 L1487.5 203.4 L1488.2 203.4 L1488.8 203.4 L1489.5 203.4 L1490.2 203.4 L1490.8 203.4 L1491.5 203.4 L1492.2 203.4 L1492.8 203.4 L1493.5 203.4 L1494.2 203.4 L1494.8 203.4 L1495.5 203.4 L1496.2 203.4 L1496.8 203.4 L1497.5 203.4 L1498.2 203.4 L1498.8 203.4 L1499.5 203.4 L1500.2 203.4 L1500.8 203.4 L1501.5 203.4 L1502.2 203.4 L1502.8 203.4 L1503.5 203.4 L1504.2 203.4 L1504.8 203.4 L1505.5 203.4 L1506.2 203.4 L1506.8 203.4 L1507.5 203.4 L1508.2 203.4 L1508.8 203.4 L1509.5 203.4 L1510.2 203.4 L1510.8 203.4 L1511.5 203.4 L1512.2 203.4 L1512.8 203.4 L1513.5 203.4 L1514.2 203.4 L1514.8 203.4 L1515.5 203.4 L1516.2 203.4 L1516.8 203.4 L1517.5 203.4 L1518.2 203.4 L1518.8 203.4 L1519.5 203.4 L1520.2 203.4 L1520.8 203.4 L1521.5 203.4 L1522.2 203.4 L1522.8 203.4 L1523.5 203.4" fill="none" stroke="#de2d20" stroke-width="3.6" stroke-dasharray="12.9 5.7" />
<path d="M1417.5 182.3 L1418.2 182.3 L1418.8 182.3 L1419.5 182.3 L1420.2 182.3 L1420.8 182.3 L1421.5 182.3 L1422.2 182.3 L1422.8 182.3 L1423.5 182.3 L1424.2 182.3 L1424.8 182.3 L1425.5 182.3 L1426.2 182.3 L1426.8 182.3 L1427.5 182.3 L1428.2 182.3 L1428.8 182.3 L1429.5 182.3 L1430.2 182.3 L1430.8 182.3 L1431.5 182.3 L1432.2 182.3 L1432.8 182.3 L1433.5 182.3 L1434.2 182.3 L1434.8 182.3 L1435.5 182.3 L1436.2 182.3 L1436.8 182.3 L1437.5 182.3 L1438.2 182.3 L1438.8 182.3 L1439.5 182.3 L1440.2 182.3 L1440.8 182.3 L1441.5 182.3 L1442.2 182.3 L1442.8 182.3 L1443.5 182.3 L1444.2 182.3 L1444.8 182.3 L1445.5 182.3 L1446.2 182.3 L1446.8 182.3 L1447.5 182.3 L1448.2 182.3 L1448.8 182.3 L1449.5 182.3 L1450.2 182.3 L1450.8 182.3 L1451.5 182.3 L1452.2 182.3 L1452.8 182.3 L1453.5 182.3 L1454.2 182.3 L1454.8 182.3 L1455.5 182.3 L1456.2 182.3 L1456.8 182.3 L1457.5 182.3 L1458.2 182.3 L1458.8 182.3 L1459.5 182.3 L1460.2 182.3 L1460.8 182.3 L1461.5 182.3 L1462.2 182.3 L1462.8 182.3 L1463.5 182.3 L1464.2 182.3 L1464.8 182.3 L1465.5 182.3 L1466.2 182.3 L1466.8 182.3 L1467.5 182.3 L1468.2 182.3 L1468.8 182.3 L1469.5 182.3 L1470.2 182.3 L1470.8 182.3 L1471.5 182.3 L1472.2 182.3 L1472.8 182.3 L1473.5 182.3 L1474.2 182.3 L1474.8 182.3 L1475.5 182.3 L1476.2 182.3 L1476.8 182.3 L1477.5 182.3 L1478.2 182.3 L1478.8 182.3 L1479.5 182.3 L1480.2 182.3 L1480.8 182.3 L1481.5 182.3 L1482.2 182.3 L1482.8 182.3 L1483.5 182.3 L1484.2 182.3 L1484.8 182.3 L1485.5 182.3 L1486.2 182.3 L1486.8 182.3 L1487.5 182.3 L1488.2 182.3 L1488.8 182.3 L1489.5 182.3 L1490.2 182.3 L1490.8 182.3 L1491.5 182.3 L1492.2 182.3 L1492.8 182.3 L1493.5 182.3 L1494.2 182.3 L1494.8 182.3 L1495.5 182.3 L1496.2 182.3 L1496.8 182.3 L1497.5 182.3 L1498.2 182.3 L1498.8 182.3 L1499.5 182.3 L1500.2 182.3 L1500.8 182.3 L1501.5 182.3 L1502.2 182.3 L1502.8 182.3 L1503.5 182.3 L1504.2 182.3 L1504.8 182.3 L1505.5 182.3 L1506.2 182.3 L1506.8 182.3 L1507.5 182.3 L1508.2 182.3 L1508.8 182.3 L1509.5 182.3 L1510.2 182.3 L1510.8 182.3 L1511.5 182.3 L1512.2 182.3 L1512.8 182.3 L1513.5 182.3 L1514.2 182.3 L1514.8 182.3 L1515.5 182.3 L1516.2 182.3 L1516.8 182.3 L1517.5 182.3 L1518.2 182.3 L1518.8 182.3 L1519.5 182.3 L1520.2 182.3 L1520.8 182.3 L1521.5 182.3 L1522.2 182.3 L1522.8 182.3 L1523.5 182.3" fill="none" stroke="#f4a11c" stroke-width="3.6" stroke-dasharray="12.9 5.7" />
<path d="M1417.5 213.3 L1418.2 213.3 L1418.8 213.3 L1419.5 213.3 L1420.2 213.3 L1420.8 213.3 L1421.5 213.3 L1422.2 213.3 L1422.8 213.3 L1423.5 213.3 L1424.2 213.3 L1424.8 213.3 L1425.5 213.3 L1426.2 213.3 L1426.8 213.3 L1427.5 213.3 L1428.2 213.3 L1428.8 213.3 L1429.5 213.3 L1430.2 213.3 L1430.8 213.3 L1431.5 213.3 L1432.2 213.3 L1432.8 213.3 L1433.5 213.3 L1434.2 213.3 L1434.8 213.3 L1435.5 213.3 L1436.2 213.3 L1436.8 213.3 L1437.5 213.3 L1438.2 213.3 L1438.8 213.3 L1439.5 213.3 L1440.2 213.3 L1440.8 213.3 L1441.5 213.3 L1442.2 213.3 L1442.8 213.3 L1443.5 213.3 L1444.2 213.3 L1444.8 213.3 L1445.5 213.3 L1446.2 213.3 L1446.8 213.3 L1447.5 213.3 L1448.2 213.3 L1448.8 213.3 L1449.5 213.3 L1450.2 213.3 L1450.8 213.3 L1451.5 213.3 L1452.2 213.3 L1452.8 213.3 L1453.5 213.3 L1454.2 213.3 L1454.8 213.3 L1455.5 213.3 L1456.2 213.3 L1456.8 213.3 L1457.5 213.3 L1458.2 213.3 L1458.8 213.3 L1459.5 213.3 L1460.2 213.3 L1460.8 213.3 L1461.5 213.3 L1462.2 213.3 L1462.8 213.3 L1463.5 213.3 L1464.2 213.3 L1464.8 213.3 L1465.5 213.3 L1466.2 213.3 L1466.8 213.3 L1467.5 213.3 L1468.2 213.3 L1468.8 213.3 L1469.5 213.3 L1470.2 213.3 L1470.8 213.3 L1471.5 213.3 L1472.2 213.3 L1472.8 213.3 L1473.5 213.3 L1474.2 213.3 L1474.8 213.3 L1475.5 213.3 L1476.2 213.3 L1476.8 213.3 L1477.5 213.3 L1478.2 213.3 L1478.8 213.3 L1479.5 213.3 L1480.2 213.3 L1480.8 213.3 L1481.5 213.3 L1482.2 213.3 L1482.8 213.3 L1483.5 213.3 L1484.2 213.3 L1484.8 213.3 L1485.5 213.3 L1486.2 213.3 L1486.8 213.3 L1487.5 213.3 L1488.2 213.3 L1488.8 213.3 L1489.5 213.3 L1490.2 213.3 L1490.8 213.3 L1491.5 213.3 L1492.2 213.3 L1492.8 213.3 L1493.5 213.3 L1494.2 213.3 L1494.8 213.3 L1495.5 213.3 L1496.2 213.3 L1496.8 213.3 L1497.5 213.3 L1498.2 213.3 L1498.8 213.3 L1499.5 213.3 L1500.2 213.3 L1500.8 213.3 L1501.5 213.3 L1502.2 213.3 L1502.8 213.3 L1503.5 213.3 L1504.2 213.3 L1504.8 213.3 L1505.5 213.3 L1506.2 213.3 L1506.8 213.3 L1507.5 213.3 L1508.2 213.3 L1508.8 213.3 L1509.5 213.3 L1510.2 213.3 L1510.8 213.3 L1511.5 213.3 L1512.2 213.3 L1512.8 213.3 L1513.5 213.3 L1514.2 213.3 L1514.8 213.3 L1515.5 213.3 L1516.2 213.3 L1516.8 213.3 L1517.5 213.3 L1518.2 213.3 L1518.8 213.3 L1519.5 213.3 L1520.2 213.3 L1520.8 213.3 L1521.5 213.3 L1522.2 213.3 L1522.8 213.3 L1523.5 213.3" fill="none" stroke="#f4a11c" stroke-width="3.6" />
<path d="M1417.5 172.4 L1418.2 172.4 L1418.8 172.4 L1419.5 172.4 L1420.2 172.4 L1420.8 172.4 L1421.5 172.4 L1422.2 172.4 L1422.8 172.4 L1423.5 172.4 L1424.2 172.4 L1424.8 172.4 L1425.5 172.4 L1426.2 172.4 L1426.8 172.4 L1427.5 172.4 L1428.2 172.4 L1428.8 172.4 L1429.5 172.4 L1430.2 172.4 L1430.8 172.4 L1431.5 172.4 L1432.2 172.4 L1432.8 172.4 L1433.5 172.4 L1434.2 172.4 L1434.8 172.4 L1435.5 172.4 L1436.2 172.4 L1436.8 172.4 L1437.5 172.4 L1438.2 172.4 L1438.8 172.4 L1439.5 172.4 L1440.2 172.4 L1440.8 172.4 L1441.5 172.4 L1442.2 172.4 L1442.8 172.4 L1443.5 172.4 L1444.2 172.4 L1444.8 172.4 L1445.5 172.4 L1446.2 172.4 L1446.8 172.4 L1447.5 172.4 L1448.2 172.4 L1448.8 172.4 L1449.5 172.4 L1450.2 172.4 L1450.8 172.4 L1451.5 172.4 L1452.2 172.4 L1452.8 172.4 L1453.5 172.4 L1454.2 172.4 L1454.8 172.4 L1455.5 172.4 L1456.2 172.4 L1456.8 172.4 L1457.5 172.4 L1458.2 172.4 L1458.8 172.4 L1459.5 172.4 L1460.2 172.4 L1460.8 172.4 L1461.5 172.4 L1462.2 172.4 L1462.8 172.4 L1463.5 172.4 L1464.2 172.4 L1464.8 172.4 L1465.5 172.4 L1466.2 172.4 L1466.8 172.4 L1467.5 172.4 L1468.2 172.4 L1468.8 172.4 L1469.5 172.4 L1470.2 172.4 L1470.8 172.4 L1471.5 172.4 L1472.2 172.4 L1472.8 172.4 L1473.5 172.4 L1474.2 172.4 L1474.8 172.4 L1475.5 172.4 L1476.2 172.4 L1476.8 172.4 L1477.5 172.4 L1478.2 172.4 L1478.8 172.4 L1479.5 172.4 L1480.2 172.4 L1480.8 172.4 L1481.5 172.4 L1482.2 172.4 L1482.8 172.4 L1483.5 172.4 L1484.2 172.4 L1484.8 172.4 L1485.5 172.4 L1486.2 172.4 L1486.8 172.4 L1487.5 172.4 L1488.2 172.4 L1488.8 172.4 L1489.5 172.4 L1490.2 172.4 L1490.8 172.4 L1491.5 172.4 L1492.2 172.4 L1492.8 172.4 L1493.5 172.4 L1494.2 172.4 L1494.8 172.4 L1495.5 172.4 L1496.2 172.4 L1496.8 172.4 L1497.5 172.4 L1498.2 172.4 L1498.8 172.4 L1499.5 172.4 L1500.2 172.4 L1500.8 172.4 L1501.5 172.4 L1502.2 172.4 L1502.8 172.4 L1503.5 172.4 L1504.2 172.4 L1504.8 172.4 L1505.5 172.4 L1506.2 172.4 L1506.8 172.4 L1507.5 172.4 L1508.2 172.4 L1508.8 172.4 L1509.5 172.4 L1510.2 172.4 L1510.8 172.4 L1511.5 172.4 L1512.2 172.4 L1512.8 172.4 L1513.5 172.4 L1514.2 172.4 L1514.8 172.4 L1515.5 172.4 L1516.2 172.4 L1516.8 172.4 L1517.5 172.4 L1518.2 172.4 L1518.8 172.4 L1519.5 172.4 L1520.2 172.4 L1520.8 172.4 L1521.5 172.4 L1522.2 172.4 L1522.8 172.4 L1523.5 172.4" fill="none" stroke="#de2d20" stroke-width="3.6" />
<line x1="170" y1="94.5" x2="170" y2="290.5" stroke="#7a7a7a" stroke-width="2.2" stroke-dasharray="9.3 5.2" stroke-dashoffset="10.7"/>
<line x1="355.5" y1="94.5" x2="355.5" y2="290.5" stroke="#7a7a7a" stroke-width="2.2" stroke-dasharray="9.3 5.2" stroke-dashoffset="10.7"/>
<line x1="541" y1="94.5" x2="541" y2="290.5" stroke="#7a7a7a" stroke-width="2.2" stroke-dasharray="9.3 5.2" stroke-dashoffset="10.7"/>
<line x1="726.5" y1="94.5" x2="726.5" y2="290.5" stroke="#7a7a7a" stroke-width="2.2" stroke-dasharray="9.3 5.2" stroke-dashoffset="10.7"/>
<line x1="912" y1="94.5" x2="912" y2="290.5" stroke="#7a7a7a" stroke-width="2.2" stroke-dasharray="9.3 5.2" stroke-dashoffset="10.7"/>
<line x1="1097.5" y1="94.5" x2="1097.5" y2="290.5" stroke="#7a7a7a" stroke-width="2.2" stroke-dasharray="9.3 5.2" stroke-dashoffset="10.7"/>
<line x1="1283" y1="94.5" x2="1283" y2="290.5" stroke="#7a7a7a" stroke-width="2.2" stroke-dasharray="9.3 5.2" stroke-dashoffset="10.7"/>
<line x1="1470.5" y1="94.5" x2="1470.5" y2="290.5" stroke="#7a7a7a" stroke-width="2.2" stroke-dasharray="9.3 5.2" stroke-dashoffset="10.7"/>
<path d="M181.3 188.5 L183.1 188.4 L184.9 188.2 L186.7 188.0 L188.5 187.8 L190.3 187.7 L192.1 187.5 L193.9 187.2 L195.6 187.0 L197.4 186.8 L199.2 186.5 L201.0 186.2 L202.8 185.9 L204.6 185.6 L206.4 185.3 L208.2 184.9 L209.9 184.6 L211.7 184.2 L213.5 183.8 L215.3 183.3 L217.1 182.9 L218.9 182.4 L220.7 181.9 L222.5 181.4 L224.2 180.8 L226.0 180.3 L227.8 179.6 L229.6 179.0 L231.4 178.4 L233.2 177.7 L235.0 176.9 L236.8 176.2 L238.5 175.4 L240.3 174.6 L242.1 173.8 L243.9 172.9 L245.7 172.0 L247.5 171.1 L249.3 170.1 L251.1 169.1 L252.8 168.1 L254.6 167.0 L256.4 165.9 L258.2 164.8 L260.0 163.6 L261.8 162.5 L263.6 161.2 L265.4 160.0 L267.1 158.7 L268.9 157.4 L270.7 156.1 L272.5 154.8 L274.3 153.4 L276.1 152.0 L277.9 150.6 L279.7 149.1 L281.4 147.7 L283.2 146.2 L285.0 144.7 L286.8 143.2 L288.6 141.7 L290.4 140.2 L292.2 138.7 L294.0 137.1 L295.7 135.6 L297.5 134.1 L299.3 132.5 L301.1 131.0 L302.9 129.5 L304.7 128.0 L306.5 126.5 L308.3 125.0 L310.1 123.5 L311.8 122.1 L313.6 120.7 L315.4 119.3 L317.2 117.9 L319.0 116.6 L320.8 115.3 L322.6 114.1 L324.4 112.9 L326.1 111.7 L327.9 110.6 L329.7 109.5 L331.5 108.4 L333.3 107.5 L335.1 106.6 L336.9 105.7 L338.7 104.9 L340.4 104.1 L342.2 103.5 L344.0 102.8 L345.8 102.3 L347.6 101.8 L349.4 101.4 L351.2 101.0 L353.0 100.7 L354.7 100.5 L356.5 100.4 L358.3 100.3 L360.1 100.3 L361.9 100.4 L363.7 100.5 L365.5 100.7 L367.3 101.0 L369.0 101.4 L370.8 101.8 L372.6 102.3 L374.4 102.8 L376.2 103.5 L378.0 104.1 L379.8 104.9 L381.6 105.7 L383.3 106.6 L385.1 107.5 L386.9 108.4 L388.7 109.5 L390.5 110.6 L392.3 111.7 L394.1 112.9 L395.9 114.1 L397.6 115.3 L399.4 116.6 L401.2 117.9 L403.0 119.3 L404.8 120.7 L406.6 122.1 L408.4 123.5 L410.2 125.0 L411.9 126.5 L413.7 128.0 L415.5 129.5 L417.3 131.0 L419.1 132.5 L420.9 134.1 L422.7 135.6 L424.5 137.1 L426.2 138.7 L428.0 140.2 L429.8 141.7 L431.6 143.2 L433.4 144.7 L435.2 146.2 L437.0 147.7 L438.8 149.1 L440.5 150.6 L442.3 152.0 L444.1 153.4 L445.9 154.8 L447.7 156.1 L449.5 157.4 L451.3 158.7 L453.1 160.0 L454.8 161.2 L456.6 162.5 L458.4 163.6 L460.2 164.8 L462.0 165.9 L463.8 167.0 L465.6 168.1 L467.4 169.1 L469.1 170.1 L470.9 171.1 L472.7 172.0 L474.5 172.9 L476.3 173.8 L478.1 174.6 L479.9 175.4 L481.7 176.2 L483.4 176.9 L485.2 177.7 L487.0 178.4 L488.8 179.0 L490.6 179.6 L492.4 180.3 L494.2 180.8 L496.0 181.4 L497.8 181.9 L499.5 182.4 L501.3 182.9 L503.1 183.3 L504.9 183.8 L506.7 184.2 L508.5 184.6 L510.3 184.9 L512.1 185.3 L513.8 185.6 L515.6 185.9 L517.4 186.2 L519.2 186.5 L521.0 186.8 L522.8 187.0 L524.6 187.2 L526.4 187.5 L528.1 187.7 L529.9 187.8 L531.7 188.0 L533.5 188.2 L535.3 188.4 L537.1 188.5 L537.1 188.5 L538.2 188.7 L539.2 189.1 L540.1 189.9 L540.7 190.8 L541.0 191.9 L541.0 193.1 L540.7 194.2 L540.1 195.1 L539.2 195.9 L538.2 196.3 L537.1 196.5 L537.1 196.5 L535.3 196.6 L533.5 196.8 L531.7 197.0 L529.9 197.2 L528.1 197.3 L526.4 197.5 L524.6 197.8 L522.8 198.0 L521.0 198.2 L519.2 198.5 L517.4 198.8 L515.6 199.1 L513.8 199.4 L512.1 199.7 L510.3 200.1 L508.5 200.4 L506.7 200.8 L504.9 201.2 L503.1 201.7 L501.3 202.1 L499.5 202.6 L497.8 203.1 L496.0 203.6 L494.2 204.2 L492.4 204.7 L490.6 205.4 L488.8 206.0 L487.0 206.6 L485.2 207.3 L483.4 208.1 L481.7 208.8 L479.9 209.6 L478.1 210.4 L476.3 211.2 L474.5 212.1 L472.7 213.0 L470.9 213.9 L469.1 214.9 L467.4 215.9 L465.6 216.9 L463.8 218.0 L462.0 219.1 L460.2 220.2 L458.4 221.4 L456.6 222.5 L454.8 223.8 L453.1 225.0 L451.3 226.3 L449.5 227.6 L447.7 228.9 L445.9 230.2 L444.1 231.6 L442.3 233.0 L440.5 234.4 L438.8 235.9 L437.0 237.3 L435.2 238.8 L433.4 240.3 L431.6 241.8 L429.8 243.3 L428.0 244.8 L426.2 246.3 L424.5 247.9 L422.7 249.4 L420.9 250.9 L419.1 252.5 L417.3 254.0 L415.5 255.5 L413.7 257.0 L411.9 258.5 L410.2 260.0 L408.4 261.5 L406.6 262.9 L404.8 264.3 L403.0 265.7 L401.2 267.1 L399.4 268.4 L397.6 269.7 L395.9 270.9 L394.1 272.1 L392.3 273.3 L390.5 274.4 L388.7 275.5 L386.9 276.6 L385.1 277.5 L383.3 278.4 L381.6 279.3 L379.8 280.1 L378.0 280.9 L376.2 281.5 L374.4 282.2 L372.6 282.7 L370.8 283.2 L369.0 283.6 L367.3 284.0 L365.5 284.3 L363.7 284.5 L361.9 284.6 L360.1 284.7 L358.3 284.7 L356.5 284.6 L354.7 284.5 L353.0 284.3 L351.2 284.0 L349.4 283.6 L347.6 283.2 L345.8 282.7 L344.0 282.2 L342.2 281.5 L340.4 280.9 L338.7 280.1 L336.9 279.3 L335.1 278.4 L333.3 277.5 L331.5 276.6 L329.7 275.5 L327.9 274.4 L326.1 273.3 L324.4 272.1 L322.6 270.9 L320.8 269.7 L319.0 268.4 L317.2 267.1 L315.4 265.7 L313.6 264.3 L311.8 262.9 L310.1 261.5 L308.3 260.0 L306.5 258.5 L304.7 257.0 L302.9 255.5 L301.1 254.0 L299.3 252.5 L297.5 250.9 L295.7 249.4 L294.0 247.9 L292.2 246.3 L290.4 244.8 L288.6 243.3 L286.8 241.8 L285.0 240.3 L283.2 238.8 L281.4 237.3 L279.7 235.9 L277.9 234.4 L276.1 233.0 L274.3 231.6 L272.5 230.2 L270.7 228.9 L268.9 227.6 L267.1 226.3 L265.4 225.0 L263.6 223.8 L261.8 222.5 L260.0 221.4 L258.2 220.2 L256.4 219.1 L254.6 218.0 L252.8 216.9 L251.1 215.9 L249.3 214.9 L247.5 213.9 L245.7 213.0 L243.9 212.1 L242.1 211.2 L240.3 210.4 L238.5 209.6 L236.8 208.8 L235.0 208.1 L233.2 207.3 L231.4 206.6 L229.6 206.0 L227.8 205.4 L226.0 204.7 L224.2 204.2 L222.5 203.6 L220.7 203.1 L218.9 202.6 L217.1 202.1 L215.3 201.7 L213.5 201.2 L211.7 200.8 L209.9 200.4 L208.2 200.1 L206.4 199.7 L204.6 199.4 L202.8 199.1 L201.0 198.8 L199.2 198.5 L197.4 198.2 L195.6 198.0 L193.9 197.8 L192.1 197.5 L190.3 197.3 L188.5 197.2 L186.7 197.0 L184.9 196.8 L183.1 196.6 L181.3 196.5 L181.3 196.5 L180.2 196.3 L179.2 195.9 L178.3 195.1 L177.7 194.2 L177.4 193.1 L177.4 191.9 L177.7 190.8 L178.3 189.9 L179.2 189.1 L180.2 188.7 L181.3 188.5 Z" fill="#9292d4" clip-path="url(#c1)"/>
<g clip-path="url(#c2)">
<path d="M673.5 215.4 L677.5 215.4 L681.5 215.4 L685.5 215.4 L689.5 215.4 L693.5 215.3 L697.5 215.3 L701.5 215.3 L705.5 215.3 L709.5 215.3 L713.5 215.3 L717.5 215.3 L721.5 215.3 L725.5 215.3 L729.5 215.3 L733.5 215.2 L737.5 215.2 L741.5 215.2 L745.5 215.2 L749.5 215.2 L753.5 215.2 L757.5 215.2 L761.5 215.2 L765.5 215.2 L769.5 215.1 L773.5 215.1 L777.5 215.1 L781.5 215.1 L785.5 215.1 L789.5 215.1 L793.5 215.1 L797.5 215.1 L801.5 215.1 L805.5 215.1 L809.5 215.0 L813.5 215.0 L817.5 215.0 L821.5 215.0 L825.5 215.0 L829.5 215.0 L833.5 215.0 L837.5 215.0 L841.5 215.0 L845.5 214.9 L849.5 214.9 L853.5 214.9 L857.5 214.9 L861.5 214.9 L865.5 214.9 L869.5 214.9 L873.5 214.9 L877.5 214.9 L881.5 214.8 L885.5 214.8 L889.5 214.8 L893.5 214.8 L897.5 214.8 L901.5 214.8 L905.5 214.8 L909.5 214.8 L913.5 214.8 L917.5 214.8 L921.5 214.7 L925.5 214.7 L929.5 214.7 L933.5 214.7 L937.5 214.7 L941.5 214.7 L945.5 214.7 L949.5 214.7 L953.5 214.7 L957.5 214.6 L961.5 214.6 L965.5 214.6 L969.5 214.6 L973.5 214.6 L977.5 214.6 L981.5 214.6 L985.5 214.6 L989.5 214.6 L993.5 214.6 L997.5 214.5 L1001.5 214.5 L1005.5 214.5 L1009.5 214.5 L1013.5 214.5 L1017.5 214.5 L1021.5 214.5 L1025.5 214.5 L1029.5 214.5 L1033.5 214.4 L1037.5 214.4 L1041.5 214.4 L1045.5 214.4 L1049.5 214.4 L1053.5 214.4 L1057.5 214.4 L1061.5 214.4 L1065.5 214.4 L1069.5 214.3 L1073.5 214.3 L1077.5 214.3 L1081.5 214.3 L1085.5 214.3 L1089.5 214.3 L1093.5 214.3 L1097.5 214.3 L1101.5 214.3 L1105.5 214.3 L1109.5 214.2 L1113.5 214.2 L1117.5 214.2 L1121.5 214.2 L1125.5 214.2 L1129.5 214.2 L1133.5 214.2 L1137.5 214.2 L1141.5 214.2 L1145.5 214.1 L1149.5 214.1 L1153.5 214.1 L1157.5 214.1 L1161.5 214.1 L1165.5 214.1 L1169.5 214.1 L1173.5 214.1 L1177.5 214.1 L1181.5 214.1 L1185.5 214.0 L1189.5 214.0 L1193.5 214.0 L1197.5 214.0 L1201.5 214.0 L1205.5 214.0 L1209.5 214.0 L1213.5 214.0 L1217.5 214.0 L1221.5 213.9 L1225.5 213.9 L1229.5 213.9 L1233.5 213.9 L1237.5 213.9 L1241.5 213.9 L1245.5 213.9 L1249.5 213.9 L1253.5 213.9 L1257.5 213.8 L1261.5 213.8 L1265.5 213.8 L1269.5 213.8 L1273.5 213.8 L1277.5 213.8 L1281.5 213.8 L1285.5 213.8 L1289.5 213.8 L1293.5 213.8 L1297.5 213.7 L1301.5 213.7 L1305.5 213.7 L1309.5 213.7" fill="none" stroke="#a00068" stroke-width="3.6" stroke-dasharray="12.9 5.7" />
<path d="M673.5 169.6 L677.5 169.6 L681.5 169.6 L685.5 169.6 L689.5 169.6 L693.5 169.7 L697.5 169.7 L701.5 169.7 L705.5 169.7 L709.5 169.7 L713.5 169.7 L717.5 169.7 L721.5 169.7 L725.5 169.7 L729.5 169.7 L733.5 169.8 L737.5 169.8 L741.5 169.8 L745.5 169.8 L749.5 169.8 L753.5 169.8 L757.5 169.8 L761.5 169.8 L765.5 169.8 L769.5 169.9 L773.5 169.9 L777.5 169.9 L781.5 169.9 L785.5 169.9 L789.5 169.9 L793.5 169.9 L797.5 169.9 L801.5 169.9 L805.5 169.9 L809.5 170.0 L813.5 170.0 L817.5 170.0 L821.5 170.0 L825.5 170.0 L829.5 170.0 L833.5 170.0 L837.5 170.0 L841.5 170.0 L845.5 170.1 L849.5 170.1 L853.5 170.1 L857.5 170.1 L861.5 170.1 L865.5 170.1 L869.5 170.1 L873.5 170.1 L877.5 170.1 L881.5 170.2 L885.5 170.2 L889.5 170.2 L893.5 170.2 L897.5 170.2 L901.5 170.2 L905.5 170.2 L909.5 170.2 L913.5 170.2 L917.5 170.2 L921.5 170.3 L925.5 170.3 L929.5 170.3 L933.5 170.3 L937.5 170.3 L941.5 170.3 L945.5 170.3 L949.5 170.3 L953.5 170.3 L957.5 170.4 L961.5 170.4 L965.5 170.4 L969.5 170.4 L973.5 170.4 L977.5 170.4 L981.5 170.4 L985.5 170.4 L989.5 170.4 L993.5 170.4 L997.5 170.5 L1001.5 170.5 L1005.5 170.5 L1009.5 170.5 L1013.5 170.5 L1017.5 170.5 L1021.5 170.5 L1025.5 170.5 L1029.5 170.5 L1033.5 170.6 L1037.5 170.6 L1041.5 170.6 L1045.5 170.6 L1049.5 170.6 L1053.5 170.6 L1057.5 170.6 L1061.5 170.6 L1065.5 170.6 L1069.5 170.7 L1073.5 170.7 L1077.5 170.7 L1081.5 170.7 L1085.5 170.7 L1089.5 170.7 L1093.5 170.7 L1097.5 170.7 L1101.5 170.7 L1105.5 170.7 L1109.5 170.8 L1113.5 170.8 L1117.5 170.8 L1121.5 170.8 L1125.5 170.8 L1129.5 170.8 L1133.5 170.8 L1137.5 170.8 L1141.5 170.8 L1145.5 170.9 L1149.5 170.9 L1153.5 170.9 L1157.5 170.9 L1161.5 170.9 L1165.5 170.9 L1169.5 170.9 L1173.5 170.9 L1177.5 170.9 L1181.5 170.9 L1185.5 171.0 L1189.5 171.0 L1193.5 171.0 L1197.5 171.0 L1201.5 171.0 L1205.5 171.0 L1209.5 171.0 L1213.5 171.0 L1217.5 171.0 L1221.5 171.1 L1225.5 171.1 L1229.5 171.1 L1233.5 171.1 L1237.5 171.1 L1241.5 171.1 L1245.5 171.1 L1249.5 171.1 L1253.5 171.1 L1257.5 171.2 L1261.5 171.2 L1265.5 171.2 L1269.5 171.2 L1273.5 171.2 L1277.5 171.2 L1281.5 171.2 L1285.5 171.2 L1289.5 171.2 L1293.5 171.2 L1297.5 171.3 L1301.5 171.3 L1305.5 171.3 L1309.5 171.3" fill="none" stroke="#9a6464" stroke-width="3.6" stroke-dasharray="12.9 5.7" />
<path d="M143.5 281.6 L150.8 281.6 L158.2 281.6 L165.5 281.6 L172.8 281.6 L180.2 281.6 L187.5 281.6 L194.8 281.5 L202.2 281.5 L209.5 281.4 L216.8 281.4 L224.2 281.2 L231.5 280.9 L238.8 280.6 L246.2 280.0 L253.5 279.2 L260.8 278.1 L268.2 276.6 L275.5 274.6 L282.8 272.1 L290.2 268.9 L297.5 264.9 L304.8 260.3 L312.2 254.9 L319.5 248.9 L326.8 242.2 L334.2 235.2 L341.5 227.9 L348.8 220.5 L356.2 213.2 L363.5 206.3 L370.8 199.8 L378.2 194.0 L385.5 188.8 L392.8 184.4 L400.2 180.7 L407.5 177.7 L414.8 175.3 L422.2 173.4 L429.5 172.1 L436.8 171.1 L444.2 170.4 L451.5 169.9 L458.8 169.6 L466.2 169.4 L473.5 169.3 L480.8 169.2 L488.2 169.2 L495.5 169.2 L502.8 169.2 L510.2 169.2 L517.5 169.2 L524.8 169.2 L532.2 169.2 L539.5 169.2 L546.8 169.3 L554.2 169.3 L561.5 169.3 L568.8 169.3 L576.2 169.3 L583.5 169.4 L590.8 169.4 L598.2 169.4 L605.5 169.4 L612.8 169.4 L620.2 169.5 L627.5 169.5 L634.8 169.5 L642.2 169.5 L649.5 169.5 L656.8 169.6 L664.2 169.6 L671.5 169.6 L678.8 169.6 L686.2 169.7 L693.5 169.9 L700.8 170.3 L708.2 171.1 L715.5 172.6 L722.8 174.9 L730.2 178.3 L737.5 182.6 L744.8 187.5 L752.2 192.5 L759.5 197.0 L766.8 200.6 L774.2 203.2 L781.5 204.8 L788.8 205.7 L796.2 206.1 L803.5 206.4 L810.8 206.5 L818.2 206.5 L825.5 206.5 L832.8 206.5 L840.2 206.6 L847.5 206.6 L854.8 206.6 L862.2 206.6 L869.5 206.6 L876.8 206.7 L884.2 206.7 L891.5 206.7 L898.8 206.7 L906.2 206.7 L913.5 206.8 L920.8 206.8 L928.2 206.8 L935.5 206.8 L942.8 206.8 L950.2 206.9 L957.5 206.9 L964.8 206.9 L972.2 206.9 L979.5 206.9 L986.8 207.0 L994.2 207.0 L1001.5 207.0 L1008.8 207.0 L1016.2 207.0 L1023.5 207.1 L1030.8 207.1 L1038.2 207.1 L1045.5 207.1 L1052.8 207.1 L1060.2 207.2 L1067.5 207.2 L1074.8 207.2 L1082.2 207.2 L1089.5 207.2 L1096.8 207.3 L1104.2 207.3 L1111.5 207.3 L1118.8 207.3 L1126.2 207.3 L1133.5 207.3 L1140.8 207.4 L1148.2 207.4 L1155.5 207.4 L1162.8 207.4 L1170.2 207.4 L1177.5 207.5 L1184.8 207.5 L1192.2 207.5 L1199.5 207.5 L1206.8 207.5 L1214.2 207.6 L1221.5 207.6 L1228.8 207.6 L1236.2 207.6 L1243.5 207.6 L1250.8 207.7 L1258.2 207.7 L1265.5 207.7 L1272.8 207.7 L1280.2 207.7 L1287.5 207.8 L1294.8 207.8 L1302.2 207.8 L1309.5 207.8" fill="none" stroke="#9a6464" stroke-width="3.6" />
<path d="M143.5 103.4 L150.8 103.4 L158.2 103.4 L165.5 103.4 L172.8 103.4 L180.2 103.4 L187.5 103.4 L194.8 103.5 L202.2 103.5 L209.5 103.6 L216.8 103.6 L224.2 103.8 L231.5 104.1 L238.8 104.4 L246.2 105.0 L253.5 105.8 L260.8 106.9 L268.2 108.4 L275.5 110.4 L282.8 112.9 L290.2 116.1 L297.5 120.1 L304.8 124.7 L312.2 130.1 L319.5 136.1 L326.8 142.8 L334.2 149.8 L341.5 157.1 L348.8 164.5 L356.2 171.8 L363.5 178.7 L370.8 185.2 L378.2 191.0 L385.5 196.2 L392.8 200.6 L400.2 204.3 L407.5 207.3 L414.8 209.7 L422.2 211.6 L429.5 212.9 L436.8 213.9 L444.2 214.6 L451.5 215.1 L458.8 215.4 L466.2 215.6 L473.5 215.7 L480.8 215.8 L488.2 215.8 L495.5 215.8 L502.8 215.8 L510.2 215.8 L517.5 215.8 L524.8 215.8 L532.2 215.8 L539.5 215.8 L546.8 215.7 L554.2 215.7 L561.5 215.7 L568.8 215.7 L576.2 215.7 L583.5 215.6 L590.8 215.6 L598.2 215.6 L605.5 215.6 L612.8 215.6 L620.2 215.5 L627.5 215.5 L634.8 215.5 L642.2 215.5 L649.5 215.5 L656.8 215.4 L664.2 215.4 L671.5 215.4 L678.8 215.4 L686.2 215.3 L693.5 215.1 L700.8 214.7 L708.2 213.9 L715.5 212.4 L722.8 210.1 L730.2 206.7 L737.5 202.4 L744.8 197.5 L752.2 192.5 L759.5 188.0 L766.8 184.4 L774.2 181.8 L781.5 180.2 L788.8 179.3 L796.2 178.9 L803.5 178.6 L810.8 178.5 L818.2 178.5 L825.5 178.5 L832.8 178.5 L840.2 178.4 L847.5 178.4 L854.8 178.4 L862.2 178.4 L869.5 178.4 L876.8 178.3 L884.2 178.3 L891.5 178.3 L898.8 178.3 L906.2 178.3 L913.5 178.2 L920.8 178.2 L928.2 178.2 L935.5 178.2 L942.8 178.2 L950.2 178.1 L957.5 178.1 L964.8 178.1 L972.2 178.1 L979.5 178.1 L986.8 178.0 L994.2 178.0 L1001.5 178.0 L1008.8 178.0 L1016.2 178.0 L1023.5 177.9 L1030.8 177.9 L1038.2 177.9 L1045.5 177.9 L1052.8 177.9 L1060.2 177.8 L1067.5 177.8 L1074.8 177.8 L1082.2 177.8 L1089.5 177.8 L1096.8 177.7 L1104.2 177.7 L1111.5 177.7 L1118.8 177.7 L1126.2 177.7 L1133.5 177.7 L1140.8 177.6 L1148.2 177.6 L1155.5 177.6 L1162.8 177.6 L1170.2 177.6 L1177.5 177.5 L1184.8 177.5 L1192.2 177.5 L1199.5 177.5 L1206.8 177.5 L1214.2 177.4 L1221.5 177.4 L1228.8 177.4 L1236.2 177.4 L1243.5 177.4 L1250.8 177.3 L1258.2 177.3 L1265.5 177.3 L1272.8 177.3 L1280.2 177.3 L1287.5 177.2 L1294.8 177.2 L1302.2 177.2 L1309.5 177.2" fill="none" stroke="#a00068" stroke-width="3.6" />
<line x1="170" y1="94.5" x2="170" y2="290.5" stroke="#4b4bae" stroke-width="2.2" stroke-dasharray="9.3 5.2" stroke-dashoffset="10.7"/>
<line x1="355.5" y1="94.5" x2="355.5" y2="290.5" stroke="#4b4bae" stroke-width="2.2" stroke-dasharray="9.3 5.2" stroke-dashoffset="10.7"/>
<line x1="541" y1="94.5" x2="541" y2="290.5" stroke="#4b4bae" stroke-width="2.2" stroke-dasharray="9.3 5.2" stroke-dashoffset="10.7"/>
<line x1="726.5" y1="94.5" x2="726.5" y2="290.5" stroke="#4b4bae" stroke-width="2.2" stroke-dasharray="9.3 5.2" stroke-dashoffset="10.7"/>
<line x1="912" y1="94.5" x2="912" y2="290.5" stroke="#4b4bae" stroke-width="2.2" stroke-dasharray="9.3 5.2" stroke-dashoffset="10.7"/>
<line x1="1097.5" y1="94.5" x2="1097.5" y2="290.5" stroke="#4b4bae" stroke-width="2.2" stroke-dasharray="9.3 5.2" stroke-dashoffset="10.7"/>
<line x1="1283" y1="94.5" x2="1283" y2="290.5" stroke="#4b4bae" stroke-width="2.2" stroke-dasharray="9.3 5.2" stroke-dashoffset="10.7"/>
</g>
<path d="M546.3 188.7 L548.1 188.5 L549.9 188.4 L551.7 188.2 L553.5 188.1 L555.3 187.9 L557.2 187.7 L559.0 187.5 L560.8 187.3 L562.6 187.1 L564.4 186.8 L566.2 186.5 L568.0 186.3 L569.8 186.0 L571.6 185.7 L573.4 185.3 L575.3 185.0 L577.1 184.6 L578.9 184.2 L580.7 183.8 L582.5 183.4 L584.3 182.9 L586.1 182.4 L587.9 181.9 L589.7 181.4 L591.5 180.8 L593.3 180.2 L595.2 179.6 L597.0 179.0 L598.8 178.3 L600.6 177.6 L602.4 176.9 L604.2 176.1 L606.0 175.3 L607.8 174.5 L609.6 173.7 L611.4 172.8 L613.2 171.9 L615.1 170.9 L616.9 169.9 L618.7 168.9 L620.5 167.9 L622.3 166.8 L624.1 165.7 L625.9 164.5 L627.7 163.4 L629.5 162.1 L631.3 160.9 L633.2 159.6 L635.0 158.4 L636.8 157.0 L638.6 155.7 L640.4 154.3 L642.2 152.9 L644.0 151.5 L645.8 150.0 L647.6 148.6 L649.4 147.1 L651.2 145.6 L653.1 144.1 L654.9 142.6 L656.7 141.0 L658.5 139.5 L660.3 137.9 L662.1 136.4 L663.9 134.8 L665.7 133.3 L667.5 131.7 L669.3 130.2 L671.2 128.7 L673.0 127.2 L674.8 125.6 L676.6 124.2 L678.4 122.7 L680.2 121.3 L682.0 119.8 L683.8 118.4 L685.6 117.1 L687.4 115.8 L689.2 114.5 L691.1 113.2 L692.9 112.0 L694.7 110.9 L696.5 109.8 L698.3 108.7 L700.1 107.7 L701.9 106.8 L703.7 105.9 L705.5 105.1 L707.3 104.3 L709.2 103.6 L711.0 102.9 L712.8 102.4 L714.6 101.9 L716.4 101.4 L718.2 101.1 L720.0 100.8 L721.8 100.5 L723.6 100.4 L725.4 100.3 L727.2 100.3 L729.1 100.4 L730.9 100.5 L732.7 100.7 L734.5 101.0 L736.3 101.4 L738.1 101.8 L739.9 102.3 L741.7 102.8 L743.5 103.5 L745.3 104.2 L747.1 104.9 L749.0 105.7 L750.8 106.6 L752.6 107.6 L754.4 108.5 L756.2 109.6 L758.0 110.7 L759.8 111.8 L761.6 113.0 L763.4 114.3 L765.2 115.5 L767.1 116.9 L768.9 118.2 L770.7 119.6 L772.5 121.0 L774.3 122.4 L776.1 123.9 L777.9 125.4 L779.7 126.9 L781.5 128.4 L783.3 129.9 L785.1 131.5 L787.0 133.0 L788.8 134.6 L790.6 136.1 L792.4 137.7 L794.2 139.2 L796.0 140.8 L797.8 142.3 L799.6 143.8 L801.4 145.3 L803.2 146.8 L805.1 148.3 L806.9 149.8 L808.7 151.2 L810.5 152.7 L812.3 154.1 L814.1 155.4 L815.9 156.8 L817.7 158.1 L819.5 159.4 L821.3 160.7 L823.1 161.9 L825.0 163.1 L826.8 164.3 L828.6 165.5 L830.4 166.6 L832.2 167.7 L834.0 168.7 L835.8 169.8 L837.6 170.7 L839.4 171.7 L841.2 172.6 L843.1 173.5 L844.9 174.4 L846.7 175.2 L848.5 176.0 L850.3 176.8 L852.1 177.5 L853.9 178.2 L855.7 178.9 L857.5 179.5 L859.3 180.1 L861.1 180.7 L863.0 181.3 L864.8 181.8 L866.6 182.3 L868.4 182.8 L870.2 183.3 L872.0 183.7 L873.8 184.1 L875.6 184.5 L877.4 184.9 L879.2 185.3 L881.0 185.6 L882.9 185.9 L884.7 186.2 L886.5 186.5 L888.3 186.8 L890.1 187.0 L891.9 187.2 L893.7 187.5 L895.5 187.7 L897.3 187.9 L899.1 188.0 L901.0 188.2 L902.8 188.4 L904.6 188.5 L906.4 188.7 L906.4 188.7 L907.5 188.8 L908.5 189.3 L909.3 190.0 L909.9 190.9 L910.2 192.0 L910.2 193.0 L909.9 194.1 L909.3 195.0 L908.5 195.7 L907.5 196.2 L906.4 196.3 L906.4 196.3 L904.6 196.5 L902.8 196.6 L901.0 196.8 L899.1 197.0 L897.3 197.1 L895.5 197.3 L893.7 197.5 L891.9 197.8 L890.1 198.0 L888.3 198.2 L886.5 198.5 L884.7 198.8 L882.9 199.1 L881.0 199.4 L879.2 199.7 L877.4 200.1 L875.6 200.5 L873.8 200.9 L872.0 201.3 L870.2 201.7 L868.4 202.2 L866.6 202.7 L864.8 203.2 L863.0 203.7 L861.1 204.3 L859.3 204.9 L857.5 205.5 L855.7 206.1 L853.9 206.8 L852.1 207.5 L850.3 208.2 L848.5 209.0 L846.7 209.8 L844.9 210.6 L843.1 211.5 L841.2 212.4 L839.4 213.3 L837.6 214.3 L835.8 215.2 L834.0 216.3 L832.2 217.3 L830.4 218.4 L828.6 219.5 L826.8 220.7 L825.0 221.9 L823.1 223.1 L821.3 224.3 L819.5 225.6 L817.7 226.9 L815.9 228.2 L814.1 229.6 L812.3 230.9 L810.5 232.3 L808.7 233.8 L806.9 235.2 L805.1 236.7 L803.2 238.2 L801.4 239.7 L799.6 241.2 L797.8 242.7 L796.0 244.2 L794.2 245.8 L792.4 247.3 L790.6 248.9 L788.8 250.4 L787.0 252.0 L785.1 253.5 L783.3 255.1 L781.5 256.6 L779.7 258.1 L777.9 259.6 L776.1 261.1 L774.3 262.6 L772.5 264.0 L770.7 265.4 L768.9 266.8 L767.1 268.1 L765.2 269.5 L763.4 270.7 L761.6 272.0 L759.8 273.2 L758.0 274.3 L756.2 275.4 L754.4 276.5 L752.6 277.4 L750.8 278.4 L749.0 279.3 L747.1 280.1 L745.3 280.8 L743.5 281.5 L741.7 282.2 L739.9 282.7 L738.1 283.2 L736.3 283.6 L734.5 284.0 L732.7 284.3 L730.9 284.5 L729.1 284.6 L727.2 284.7 L725.4 284.7 L723.6 284.6 L721.8 284.5 L720.0 284.2 L718.2 283.9 L716.4 283.6 L714.6 283.1 L712.8 282.6 L711.0 282.1 L709.2 281.4 L707.3 280.7 L705.5 279.9 L703.7 279.1 L701.9 278.2 L700.1 277.3 L698.3 276.3 L696.5 275.2 L694.7 274.1 L692.9 273.0 L691.1 271.8 L689.2 270.5 L687.4 269.2 L685.6 267.9 L683.8 266.6 L682.0 265.2 L680.2 263.7 L678.4 262.3 L676.6 260.8 L674.8 259.4 L673.0 257.8 L671.2 256.3 L669.3 254.8 L667.5 253.3 L665.7 251.7 L663.9 250.2 L662.1 248.6 L660.3 247.1 L658.5 245.5 L656.7 244.0 L654.9 242.4 L653.1 240.9 L651.2 239.4 L649.4 237.9 L647.6 236.4 L645.8 235.0 L644.0 233.5 L642.2 232.1 L640.4 230.7 L638.6 229.3 L636.8 228.0 L635.0 226.6 L633.2 225.4 L631.3 224.1 L629.5 222.9 L627.7 221.6 L625.9 220.5 L624.1 219.3 L622.3 218.2 L620.5 217.1 L618.7 216.1 L616.9 215.1 L615.1 214.1 L613.2 213.1 L611.4 212.2 L609.6 211.3 L607.8 210.5 L606.0 209.7 L604.2 208.9 L602.4 208.1 L600.6 207.4 L598.8 206.7 L597.0 206.0 L595.2 205.4 L593.3 204.8 L591.5 204.2 L589.7 203.6 L587.9 203.1 L586.1 202.6 L584.3 202.1 L582.5 201.6 L580.7 201.2 L578.9 200.8 L577.1 200.4 L575.3 200.0 L573.4 199.7 L571.6 199.3 L569.8 199.0 L568.0 198.7 L566.2 198.5 L564.4 198.2 L562.6 197.9 L560.8 197.7 L559.0 197.5 L557.2 197.3 L555.3 197.1 L553.5 196.9 L551.7 196.8 L549.9 196.6 L548.1 196.5 L546.3 196.3 L546.3 196.3 L545.2 196.2 L544.2 195.7 L543.4 195.0 L542.8 194.1 L542.5 193.0 L542.5 192.0 L542.8 190.9 L543.4 190.0 L544.2 189.3 L545.2 188.8 L546.3 188.7 Z" fill="#9cd39a" clip-path="url(#c3)"/>
<g clip-path="url(#c4)">
<path d="M673.5 215.4 L677.5 215.4 L681.5 215.4 L685.5 215.4 L689.5 215.4 L693.5 215.3 L697.5 215.3 L701.5 215.3 L705.5 215.3 L709.5 215.3 L713.5 215.3 L717.5 215.3 L721.5 215.3 L725.5 215.3 L729.5 215.3 L733.5 215.2 L737.5 215.2 L741.5 215.2 L745.5 215.2 L749.5 215.2 L753.5 215.2 L757.5 215.2 L761.5 215.2 L765.5 215.2 L769.5 215.1 L773.5 215.1 L777.5 215.1 L781.5 215.1 L785.5 215.1 L789.5 215.1 L793.5 215.1 L797.5 215.1 L801.5 215.1 L805.5 215.1 L809.5 215.0 L813.5 215.0 L817.5 215.0 L821.5 215.0 L825.5 215.0 L829.5 215.0 L833.5 215.0 L837.5 215.0 L841.5 215.0 L845.5 214.9 L849.5 214.9 L853.5 214.9 L857.5 214.9 L861.5 214.9 L865.5 214.9 L869.5 214.9 L873.5 214.9 L877.5 214.9 L881.5 214.8 L885.5 214.8 L889.5 214.8 L893.5 214.8 L897.5 214.8 L901.5 214.8 L905.5 214.8 L909.5 214.8 L913.5 214.8 L917.5 214.8 L921.5 214.7 L925.5 214.7 L929.5 214.7 L933.5 214.7 L937.5 214.7 L941.5 214.7 L945.5 214.7 L949.5 214.7 L953.5 214.7 L957.5 214.6 L961.5 214.6 L965.5 214.6 L969.5 214.6 L973.5 214.6 L977.5 214.6 L981.5 214.6 L985.5 214.6 L989.5 214.6 L993.5 214.6 L997.5 214.5 L1001.5 214.5 L1005.5 214.5 L1009.5 214.5 L1013.5 214.5 L1017.5 214.5 L1021.5 214.5 L1025.5 214.5 L1029.5 214.5 L1033.5 214.4 L1037.5 214.4 L1041.5 214.4 L1045.5 214.4 L1049.5 214.4 L1053.5 214.4 L1057.5 214.4 L1061.5 214.4 L1065.5 214.4 L1069.5 214.3 L1073.5 214.3 L1077.5 214.3 L1081.5 214.3 L1085.5 214.3 L1089.5 214.3 L1093.5 214.3 L1097.5 214.3 L1101.5 214.3 L1105.5 214.3 L1109.5 214.2 L1113.5 214.2 L1117.5 214.2 L1121.5 214.2 L1125.5 214.2 L1129.5 214.2 L1133.5 214.2 L1137.5 214.2 L1141.5 214.2 L1145.5 214.1 L1149.5 214.1 L1153.5 214.1 L1157.5 214.1 L1161.5 214.1 L1165.5 214.1 L1169.5 214.1 L1173.5 214.1 L1177.5 214.1 L1181.5 214.1 L1185.5 214.0 L1189.5 214.0 L1193.5 214.0 L1197.5 214.0 L1201.5 214.0 L1205.5 214.0 L1209.5 214.0 L1213.5 214.0 L1217.5 214.0 L1221.5 213.9 L1225.5 213.9 L1229.5 213.9 L1233.5 213.9 L1237.5 213.9 L1241.5 213.9 L1245.5 213.9 L1249.5 213.9 L1253.5 213.9 L1257.5 213.8 L1261.5 213.8 L1265.5 213.8 L1269.5 213.8 L1273.5 213.8 L1277.5 213.8 L1281.5 213.8 L1285.5 213.8 L1289.5 213.8 L1293.5 213.8 L1297.5 213.7 L1301.5 213.7 L1305.5 213.7 L1309.5 213.7" fill="none" stroke="#a03008" stroke-width="3.6" stroke-dasharray="12.9 5.7" />
<path d="M673.5 169.6 L677.5 169.6 L681.5 169.6 L685.5 169.6 L689.5 169.6 L693.5 169.7 L697.5 169.7 L701.5 169.7 L705.5 169.7 L709.5 169.7 L713.5 169.7 L717.5 169.7 L721.5 169.7 L725.5 169.7 L729.5 169.7 L733.5 169.8 L737.5 169.8 L741.5 169.8 L745.5 169.8 L749.5 169.8 L753.5 169.8 L757.5 169.8 L761.5 169.8 L765.5 169.8 L769.5 169.9 L773.5 169.9 L777.5 169.9 L781.5 169.9 L785.5 169.9 L789.5 169.9 L793.5 169.9 L797.5 169.9 L801.5 169.9 L805.5 169.9 L809.5 170.0 L813.5 170.0 L817.5 170.0 L821.5 170.0 L825.5 170.0 L829.5 170.0 L833.5 170.0 L837.5 170.0 L841.5 170.0 L845.5 170.1 L849.5 170.1 L853.5 170.1 L857.5 170.1 L861.5 170.1 L865.5 170.1 L869.5 170.1 L873.5 170.1 L877.5 170.1 L881.5 170.2 L885.5 170.2 L889.5 170.2 L893.5 170.2 L897.5 170.2 L901.5 170.2 L905.5 170.2 L909.5 170.2 L913.5 170.2 L917.5 170.2 L921.5 170.3 L925.5 170.3 L929.5 170.3 L933.5 170.3 L937.5 170.3 L941.5 170.3 L945.5 170.3 L949.5 170.3 L953.5 170.3 L957.5 170.4 L961.5 170.4 L965.5 170.4 L969.5 170.4 L973.5 170.4 L977.5 170.4 L981.5 170.4 L985.5 170.4 L989.5 170.4 L993.5 170.4 L997.5 170.5 L1001.5 170.5 L1005.5 170.5 L1009.5 170.5 L1013.5 170.5 L1017.5 170.5 L1021.5 170.5 L1025.5 170.5 L1029.5 170.5 L1033.5 170.6 L1037.5 170.6 L1041.5 170.6 L1045.5 170.6 L1049.5 170.6 L1053.5 170.6 L1057.5 170.6 L1061.5 170.6 L1065.5 170.6 L1069.5 170.7 L1073.5 170.7 L1077.5 170.7 L1081.5 170.7 L1085.5 170.7 L1089.5 170.7 L1093.5 170.7 L1097.5 170.7 L1101.5 170.7 L1105.5 170.7 L1109.5 170.8 L1113.5 170.8 L1117.5 170.8 L1121.5 170.8 L1125.5 170.8 L1129.5 170.8 L1133.5 170.8 L1137.5 170.8 L1141.5 170.8 L1145.5 170.9 L1149.5 170.9 L1153.5 170.9 L1157.5 170.9 L1161.5 170.9 L1165.5 170.9 L1169.5 170.9 L1173.5 170.9 L1177.5 170.9 L1181.5 170.9 L1185.5 171.0 L1189.5 171.0 L1193.5 171.0 L1197.5 171.0 L1201.5 171.0 L1205.5 171.0 L1209.5 171.0 L1213.5 171.0 L1217.5 171.0 L1221.5 171.1 L1225.5 171.1 L1229.5 171.1 L1233.5 171.1 L1237.5 171.1 L1241.5 171.1 L1245.5 171.1 L1249.5 171.1 L1253.5 171.1 L1257.5 171.2 L1261.5 171.2 L1265.5 171.2 L1269.5 171.2 L1273.5 171.2 L1277.5 171.2 L1281.5 171.2 L1285.5 171.2 L1289.5 171.2 L1293.5 171.2 L1297.5 171.3 L1301.5 171.3 L1305.5 171.3 L1309.5 171.3" fill="none" stroke="#9e9a08" stroke-width="3.6" stroke-dasharray="12.9 5.7" />
<path d="M143.5 281.6 L150.8 281.6 L158.2 281.6 L165.5 281.6 L172.8 281.6 L180.2 281.6 L187.5 281.6 L194.8 281.5 L202.2 281.5 L209.5 281.4 L216.8 281.4 L224.2 281.2 L231.5 280.9 L238.8 280.6 L246.2 280.0 L253.5 279.2 L260.8 278.1 L268.2 276.6 L275.5 274.6 L282.8 272.1 L290.2 268.9 L297.5 264.9 L304.8 260.3 L312.2 254.9 L319.5 248.9 L326.8 242.2 L334.2 235.2 L341.5 227.9 L348.8 220.5 L356.2 213.2 L363.5 206.3 L370.8 199.8 L378.2 194.0 L385.5 188.8 L392.8 184.4 L400.2 180.7 L407.5 177.7 L414.8 175.3 L422.2 173.4 L429.5 172.1 L436.8 171.1 L444.2 170.4 L451.5 169.9 L458.8 169.6 L466.2 169.4 L473.5 169.3 L480.8 169.2 L488.2 169.2 L495.5 169.2 L502.8 169.2 L510.2 169.2 L517.5 169.2 L524.8 169.2 L532.2 169.2 L539.5 169.2 L546.8 169.3 L554.2 169.3 L561.5 169.3 L568.8 169.3 L576.2 169.3 L583.5 169.4 L590.8 169.4 L598.2 169.4 L605.5 169.4 L612.8 169.4 L620.2 169.5 L627.5 169.5 L634.8 169.5 L642.2 169.5 L649.5 169.5 L656.8 169.6 L664.2 169.6 L671.5 169.6 L678.8 169.6 L686.2 169.7 L693.5 169.9 L700.8 170.3 L708.2 171.1 L715.5 172.6 L722.8 174.9 L730.2 178.3 L737.5 182.6 L744.8 187.5 L752.2 192.5 L759.5 197.0 L766.8 200.6 L774.2 203.2 L781.5 204.8 L788.8 205.7 L796.2 206.1 L803.5 206.4 L810.8 206.5 L818.2 206.5 L825.5 206.5 L832.8 206.5 L840.2 206.6 L847.5 206.6 L854.8 206.6 L862.2 206.6 L869.5 206.6 L876.8 206.7 L884.2 206.7 L891.5 206.7 L898.8 206.7 L906.2 206.7 L913.5 206.8 L920.8 206.8 L928.2 206.8 L935.5 206.8 L942.8 206.8 L950.2 206.9 L957.5 206.9 L964.8 206.9 L972.2 206.9 L979.5 206.9 L986.8 207.0 L994.2 207.0 L1001.5 207.0 L1008.8 207.0 L1016.2 207.0 L1023.5 207.1 L1030.8 207.1 L1038.2 207.1 L1045.5 207.1 L1052.8 207.1 L1060.2 207.2 L1067.5 207.2 L1074.8 207.2 L1082.2 207.2 L1089.5 207.2 L1096.8 207.3 L1104.2 207.3 L1111.5 207.3 L1118.8 207.3 L1126.2 207.3 L1133.5 207.3 L1140.8 207.4 L1148.2 207.4 L1155.5 207.4 L1162.8 207.4 L1170.2 207.4 L1177.5 207.5 L1184.8 207.5 L1192.2 207.5 L1199.5 207.5 L1206.8 207.5 L1214.2 207.6 L1221.5 207.6 L1228.8 207.6 L1236.2 207.6 L1243.5 207.6 L1250.8 207.7 L1258.2 207.7 L1265.5 207.7 L1272.8 207.7 L1280.2 207.7 L1287.5 207.8 L1294.8 207.8 L1302.2 207.8 L1309.5 207.8" fill="none" stroke="#9e9a08" stroke-width="3.6" />
<path d="M143.5 103.4 L150.8 103.4 L158.2 103.4 L165.5 103.4 L172.8 103.4 L180.2 103.4 L187.5 103.4 L194.8 103.5 L202.2 103.5 L209.5 103.6 L216.8 103.6 L224.2 103.8 L231.5 104.1 L238.8 104.4 L246.2 105.0 L253.5 105.8 L260.8 106.9 L268.2 108.4 L275.5 110.4 L282.8 112.9 L290.2 116.1 L297.5 120.1 L304.8 124.7 L312.2 130.1 L319.5 136.1 L326.8 142.8 L334.2 149.8 L341.5 157.1 L348.8 164.5 L356.2 171.8 L363.5 178.7 L370.8 185.2 L378.2 191.0 L385.5 196.2 L392.8 200.6 L400.2 204.3 L407.5 207.3 L414.8 209.7 L422.2 211.6 L429.5 212.9 L436.8 213.9 L444.2 214.6 L451.5 215.1 L458.8 215.4 L466.2 215.6 L473.5 215.7 L480.8 215.8 L488.2 215.8 L495.5 215.8 L502.8 215.8 L510.2 215.8 L517.5 215.8 L524.8 215.8 L532.2 215.8 L539.5 215.8 L546.8 215.7 L554.2 215.7 L561.5 215.7 L568.8 215.7 L576.2 215.7 L583.5 215.6 L590.8 215.6 L598.2 215.6 L605.5 215.6 L612.8 215.6 L620.2 215.5 L627.5 215.5 L634.8 215.5 L642.2 215.5 L649.5 215.5 L656.8 215.4 L664.2 215.4 L671.5 215.4 L678.8 215.4 L686.2 215.3 L693.5 215.1 L700.8 214.7 L708.2 213.9 L715.5 212.4 L722.8 210.1 L730.2 206.7 L737.5 202.4 L744.8 197.5 L752.2 192.5 L759.5 188.0 L766.8 184.4 L774.2 181.8 L781.5 180.2 L788.8 179.3 L796.2 178.9 L803.5 178.6 L810.8 178.5 L818.2 178.5 L825.5 178.5 L832.8 178.5 L840.2 178.4 L847.5 178.4 L854.8 178.4 L862.2 178.4 L869.5 178.4 L876.8 178.3 L884.2 178.3 L891.5 178.3 L898.8 178.3 L906.2 178.3 L913.5 178.2 L920.8 178.2 L928.2 178.2 L935.5 178.2 L942.8 178.2 L950.2 178.1 L957.5 178.1 L964.8 178.1 L972.2 178.1 L979.5 178.1 L986.8 178.0 L994.2 178.0 L1001.5 178.0 L1008.8 178.0 L1016.2 178.0 L1023.5 177.9 L1030.8 177.9 L1038.2 177.9 L1045.5 177.9 L1052.8 177.9 L1060.2 177.8 L1067.5 177.8 L1074.8 177.8 L1082.2 177.8 L1089.5 177.8 L1096.8 177.7 L1104.2 177.7 L1111.5 177.7 L1118.8 177.7 L1126.2 177.7 L1133.5 177.7 L1140.8 177.6 L1148.2 177.6 L1155.5 177.6 L1162.8 177.6 L1170.2 177.6 L1177.5 177.5 L1184.8 177.5 L1192.2 177.5 L1199.5 177.5 L1206.8 177.5 L1214.2 177.4 L1221.5 177.4 L1228.8 177.4 L1236.2 177.4 L1243.5 177.4 L1250.8 177.3 L1258.2 177.3 L1265.5 177.3 L1272.8 177.3 L1280.2 177.3 L1287.5 177.2 L1294.8 177.2 L1302.2 177.2 L1309.5 177.2" fill="none" stroke="#a03008" stroke-width="3.6" />
<line x1="170" y1="94.5" x2="170" y2="290.5" stroke="#4e8a5a" stroke-width="2.2" stroke-dasharray="9.3 5.2" stroke-dashoffset="10.7"/>
<line x1="355.5" y1="94.5" x2="355.5" y2="290.5" stroke="#4e8a5a" stroke-width="2.2" stroke-dasharray="9.3 5.2" stroke-dashoffset="10.7"/>
<line x1="541" y1="94.5" x2="541" y2="290.5" stroke="#4e8a5a" stroke-width="2.2" stroke-dasharray="9.3 5.2" stroke-dashoffset="10.7"/>
<line x1="726.5" y1="94.5" x2="726.5" y2="290.5" stroke="#4e8a5a" stroke-width="2.2" stroke-dasharray="9.3 5.2" stroke-dashoffset="10.7"/>
<line x1="912" y1="94.5" x2="912" y2="290.5" stroke="#4e8a5a" stroke-width="2.2" stroke-dasharray="9.3 5.2" stroke-dashoffset="10.7"/>
<line x1="1097.5" y1="94.5" x2="1097.5" y2="290.5" stroke="#4e8a5a" stroke-width="2.2" stroke-dasharray="9.3 5.2" stroke-dashoffset="10.7"/>
<line x1="1283" y1="94.5" x2="1283" y2="290.5" stroke="#4e8a5a" stroke-width="2.2" stroke-dasharray="9.3 5.2" stroke-dashoffset="10.7"/>
</g>
<rect x="143.5" y="94.5" width="1166" height="196" fill="none" stroke="#717171" stroke-width="1" />
<rect x="1417.5" y="94.5" width="106" height="196" fill="none" stroke="#717171" stroke-width="1" />
<line x1="1291.5" y1="308.5" x2="1327.5" y2="272.5" stroke="#444" stroke-width="0.95" />
<rect x="143.5" y="290.5" width="1166" height="195" fill="#fff" />
<path d="M673.5 420.2 L677.5 420.7 L681.5 421.2 L685.5 421.7 L689.5 422.2 L693.5 422.7 L697.5 423.2 L701.5 423.7 L705.5 424.1 L709.5 424.6 L713.5 425.0 L717.5 425.4 L721.5 425.8 L725.5 426.1 L729.5 426.4 L733.5 426.7 L737.5 427.0 L741.5 427.3 L745.5 427.6 L749.5 427.9 L753.5 428.1 L757.5 428.4 L761.5 428.6 L765.5 428.9 L769.5 429.1 L773.5 429.3 L777.5 429.5 L781.5 429.8 L785.5 430.0 L789.5 430.2 L793.5 430.4 L797.5 430.6 L801.5 430.8 L805.5 431.0 L809.5 431.2 L813.5 431.4 L817.5 431.6 L821.5 431.7 L825.5 431.9 L829.5 432.1 L833.5 432.3 L837.5 432.4 L841.5 432.6 L845.5 432.8 L849.5 433.0 L853.5 433.2 L857.5 433.4 L861.5 433.6 L865.5 433.8 L869.5 434.1 L873.5 434.3 L877.5 434.6 L881.5 434.9 L885.5 435.1 L889.5 435.4 L893.5 435.7 L897.5 436.0 L901.5 436.3 L905.5 436.5 L909.5 436.8 L913.5 437.1 L917.5 437.4 L921.5 437.6 L925.5 437.9 L929.5 438.2 L933.5 438.5 L937.5 438.7 L941.5 439.0 L945.5 439.2 L949.5 439.5 L953.5 439.7 L957.5 439.9 L961.5 440.0 L965.5 440.2 L969.5 440.4 L973.5 440.5 L977.5 440.7 L981.5 440.8 L985.5 440.9 L989.5 441.1 L993.5 441.2 L997.5 441.3 L1001.5 441.4 L1005.5 441.5 L1009.5 441.6 L1013.5 441.7 L1017.5 441.8 L1021.5 441.9 L1025.5 442.0 L1029.5 442.1 L1033.5 442.2 L1037.5 442.3 L1041.5 442.4 L1045.5 442.5 L1049.5 442.6 L1053.5 442.7 L1057.5 442.8 L1061.5 442.9 L1065.5 443.0 L1069.5 443.1 L1073.5 443.2 L1077.5 443.4 L1081.5 443.5 L1085.5 443.6 L1089.5 443.7 L1093.5 443.8 L1097.5 444.0 L1101.5 444.1 L1105.5 444.2 L1109.5 444.4 L1113.5 444.5 L1117.5 444.6 L1121.5 444.8 L1125.5 444.9 L1129.5 445.0 L1133.5 445.1 L1137.5 445.3 L1141.5 445.4 L1145.5 445.5 L1149.5 445.7 L1153.5 445.8 L1157.5 445.9 L1161.5 446.1 L1165.5 446.2 L1169.5 446.3 L1173.5 446.5 L1177.5 446.6 L1181.5 446.8 L1185.5 446.9 L1189.5 447.0 L1193.5 447.2 L1197.5 447.3 L1201.5 447.5 L1205.5 447.7 L1209.5 447.8 L1213.5 448.0 L1217.5 448.1 L1221.5 448.3 L1225.5 448.5 L1229.5 448.7 L1233.5 448.9 L1237.5 449.0 L1241.5 449.2 L1245.5 449.4 L1249.5 449.6 L1253.5 449.8 L1257.5 450.1 L1261.5 450.3 L1265.5 450.5 L1269.5 450.7 L1273.5 451.0 L1277.5 451.2 L1281.5 451.4 L1285.5 451.7 L1289.5 452.0 L1293.5 452.4 L1297.5 452.8 L1301.5 453.2 L1305.5 453.6 L1309.5 454.0" fill="none" stroke="#de2d20" stroke-width="3.6" stroke-dasharray="12.9 5.7" />
<path d="M673.5 380.7 L677.5 381.1 L681.5 381.5 L685.5 382.0 L689.5 382.4 L693.5 383.0 L697.5 383.5 L701.5 384.1 L705.5 384.6 L709.5 385.2 L713.5 385.8 L717.5 386.4 L721.5 387.0 L725.5 387.6 L729.5 388.2 L733.5 388.8 L737.5 389.3 L741.5 389.9 L745.5 390.5 L749.5 391.1 L753.5 391.6 L757.5 392.2 L761.5 392.8 L765.5 393.4 L769.5 394.0 L773.5 394.6 L777.5 395.1 L781.5 395.7 L785.5 396.3 L789.5 396.9 L793.5 397.5 L797.5 398.0 L801.5 398.6 L805.5 399.1 L809.5 399.7 L813.5 400.2 L817.5 400.7 L821.5 401.3 L825.5 401.8 L829.5 402.3 L833.5 402.7 L837.5 403.2 L841.5 403.7 L845.5 404.2 L849.5 404.6 L853.5 405.1 L857.5 405.5 L861.5 406.0 L865.5 406.4 L869.5 406.8 L873.5 407.3 L877.5 407.7 L881.5 408.1 L885.5 408.5 L889.5 408.9 L893.5 409.3 L897.5 409.7 L901.5 410.1 L905.5 410.5 L909.5 410.9 L913.5 411.2 L917.5 411.6 L921.5 412.0 L925.5 412.3 L929.5 412.7 L933.5 413.1 L937.5 413.4 L941.5 413.8 L945.5 414.1 L949.5 414.4 L953.5 414.8 L957.5 415.1 L961.5 415.4 L965.5 415.8 L969.5 416.1 L973.5 416.4 L977.5 416.7 L981.5 417.0 L985.5 417.4 L989.5 417.7 L993.5 418.0 L997.5 418.3 L1001.5 418.6 L1005.5 418.9 L1009.5 419.2 L1013.5 419.5 L1017.5 419.8 L1021.5 420.1 L1025.5 420.4 L1029.5 420.7 L1033.5 420.9 L1037.5 421.2 L1041.5 421.5 L1045.5 421.8 L1049.5 422.1 L1053.5 422.4 L1057.5 422.7 L1061.5 423.0 L1065.5 423.3 L1069.5 423.5 L1073.5 423.8 L1077.5 424.1 L1081.5 424.4 L1085.5 424.7 L1089.5 425.0 L1093.5 425.3 L1097.5 425.5 L1101.5 425.8 L1105.5 426.1 L1109.5 426.4 L1113.5 426.7 L1117.5 427.0 L1121.5 427.3 L1125.5 427.6 L1129.5 427.9 L1133.5 428.1 L1137.5 428.4 L1141.5 428.7 L1145.5 429.0 L1149.5 429.3 L1153.5 429.6 L1157.5 429.9 L1161.5 430.1 L1165.5 430.4 L1169.5 430.7 L1173.5 431.0 L1177.5 431.3 L1181.5 431.6 L1185.5 431.9 L1189.5 432.1 L1193.5 432.4 L1197.5 432.7 L1201.5 433.0 L1205.5 433.3 L1209.5 433.5 L1213.5 433.8 L1217.5 434.1 L1221.5 434.4 L1225.5 434.7 L1229.5 434.9 L1233.5 435.2 L1237.5 435.5 L1241.5 435.8 L1245.5 436.0 L1249.5 436.3 L1253.5 436.6 L1257.5 436.8 L1261.5 437.1 L1265.5 437.4 L1269.5 437.6 L1273.5 437.9 L1277.5 438.2 L1281.5 438.4 L1285.5 438.7 L1289.5 439.0 L1293.5 439.2 L1297.5 439.5 L1301.5 439.7 L1305.5 440.0 L1309.5 440.2" fill="none" stroke="#f4a11c" stroke-width="3.6" stroke-dasharray="12.9 5.7" />
<path d="M143.5 476.4 L150.8 476.4 L158.2 476.4 L165.5 476.4 L172.8 476.4 L180.2 476.4 L187.5 476.4 L194.8 476.3 L202.2 476.1 L209.5 475.9 L216.8 475.5 L224.2 474.6 L231.5 473.3 L238.8 471.7 L246.2 469.8 L253.5 467.8 L260.8 465.4 L268.2 462.3 L275.5 458.5 L282.8 453.4 L290.2 446.6 L297.5 437.2 L304.8 425.0 L312.2 411.5 L319.5 395.7 L326.8 379.5 L334.2 363.5 L341.5 350.2 L348.8 341.2 L356.2 335.9 L363.5 333.8 L370.8 334.1 L378.2 336.6 L385.5 340.0 L392.8 346.1 L400.2 353.8 L407.5 361.3 L414.8 368.9 L422.2 376.7 L429.5 383.4 L436.8 388.9 L444.2 393.8 L451.5 397.6 L458.8 399.9 L466.2 401.6 L473.5 402.9 L480.8 403.9 L488.2 404.8 L495.5 405.6 L502.8 406.2 L510.2 406.9 L517.5 407.5 L524.8 408.2 L532.2 408.8 L539.5 409.4 L546.8 409.9 L554.2 410.5 L561.5 411.0 L568.8 411.6 L576.2 412.1 L583.5 412.5 L590.8 413.0 L598.2 413.5 L605.5 413.9 L612.8 414.4 L620.2 414.9 L627.5 415.5 L634.8 416.1 L642.2 416.7 L649.5 417.4 L656.8 418.2 L664.2 419.1 L671.5 420.0 L678.8 420.9 L686.2 421.8 L693.5 422.7 L700.8 423.6 L708.2 424.2 L715.5 425.1 L722.8 426.0 L730.2 426.0 L737.5 424.8 L744.8 422.5 L752.2 419.8 L759.5 418.0 L766.8 416.8 L774.2 415.9 L781.5 415.9 L788.8 416.4 L796.2 417.1 L803.5 417.9 L810.8 418.6 L818.2 419.4 L825.5 420.2 L832.8 421.1 L840.2 422.0 L847.5 422.8 L854.8 423.6 L862.2 424.2 L869.5 424.8 L876.8 425.4 L884.2 426.0 L891.5 426.5 L898.8 427.0 L906.2 427.5 L913.5 428.0 L920.8 428.5 L928.2 429.0 L935.5 429.4 L942.8 429.9 L950.2 430.3 L957.5 430.8 L964.8 431.2 L972.2 431.7 L979.5 432.1 L986.8 432.6 L994.2 433.0 L1001.5 433.5 L1008.8 433.9 L1016.2 434.4 L1023.5 434.8 L1030.8 435.2 L1038.2 435.7 L1045.5 436.1 L1052.8 436.5 L1060.2 437.0 L1067.5 437.4 L1074.8 437.8 L1082.2 438.2 L1089.5 438.6 L1096.8 439.0 L1104.2 439.3 L1111.5 439.7 L1118.8 440.1 L1126.2 440.4 L1133.5 440.8 L1140.8 441.2 L1148.2 441.5 L1155.5 441.9 L1162.8 442.2 L1170.2 442.6 L1177.5 442.9 L1184.8 443.2 L1192.2 443.6 L1199.5 443.9 L1206.8 444.2 L1214.2 444.6 L1221.5 444.9 L1228.8 445.2 L1236.2 445.5 L1243.5 445.8 L1250.8 446.1 L1258.2 446.4 L1265.5 446.8 L1272.8 447.1 L1280.2 447.4 L1287.5 447.7 L1294.8 447.9 L1302.2 448.2 L1309.5 448.5" fill="none" stroke="#de2d20" stroke-width="3.6" />
<path d="M143.5 476.4 L150.8 476.4 L158.2 476.4 L165.5 476.4 L172.8 476.4 L180.2 476.4 L187.5 476.4 L194.8 476.3 L202.2 476.1 L209.5 475.9 L216.8 475.5 L224.2 474.6 L231.5 473.3 L238.8 471.7 L246.2 469.8 L253.5 467.8 L260.8 465.4 L268.2 462.3 L275.5 458.5 L282.8 453.0 L290.2 445.5 L297.5 435.3 L304.8 421.7 L312.2 405.5 L319.5 384.1 L326.8 362.7 L334.2 344.0 L341.5 328.3 L348.8 315.9 L356.2 307.8 L363.5 303.3 L370.8 300.1 L378.2 299.0 L385.5 300.6 L392.8 303.8 L400.2 307.2 L407.5 311.3 L414.8 315.7 L422.2 320.0 L429.5 324.5 L436.8 329.0 L444.2 332.9 L451.5 336.5 L458.8 339.8 L466.2 342.9 L473.5 345.8 L480.8 348.5 L488.2 351.1 L495.5 353.5 L502.8 355.8 L510.2 357.7 L517.5 359.2 L524.8 360.4 L532.2 361.4 L539.5 362.4 L546.8 363.5 L554.2 364.6 L561.5 365.8 L568.8 366.9 L576.2 368.1 L583.5 369.2 L590.8 370.4 L598.2 371.5 L605.5 372.5 L612.8 373.5 L620.2 374.5 L627.5 375.4 L634.8 376.3 L642.2 377.2 L649.5 378.0 L656.8 378.9 L664.2 379.7 L671.5 380.5 L678.8 381.0 L686.2 382.0 L693.5 384.5 L700.8 388.6 L708.2 394.7 L715.5 402.1 L722.8 410.8 L730.2 420.1 L737.5 430.4 L744.8 439.0 L752.2 446.5 L759.5 451.4 L766.8 454.6 L774.2 455.7 L781.5 455.2 L788.8 454.5 L796.2 453.6 L803.5 452.8 L810.8 452.7 L818.2 452.8 L825.5 453.0 L832.8 453.3 L840.2 453.6 L847.5 453.8 L854.8 454.1 L862.2 454.3 L869.5 454.5 L876.8 454.7 L884.2 454.9 L891.5 455.1 L898.8 455.4 L906.2 455.6 L913.5 455.8 L920.8 456.1 L928.2 456.4 L935.5 456.6 L942.8 456.9 L950.2 457.1 L957.5 457.3 L964.8 457.5 L972.2 457.7 L979.5 457.9 L986.8 458.0 L994.2 458.2 L1001.5 458.3 L1008.8 458.4 L1016.2 458.6 L1023.5 458.7 L1030.8 458.8 L1038.2 458.9 L1045.5 459.1 L1052.8 459.2 L1060.2 459.3 L1067.5 459.4 L1074.8 459.6 L1082.2 459.7 L1089.5 459.9 L1096.8 460.0 L1104.2 460.2 L1111.5 460.3 L1118.8 460.5 L1126.2 460.6 L1133.5 460.8 L1140.8 460.9 L1148.2 461.1 L1155.5 461.3 L1162.8 461.4 L1170.2 461.6 L1177.5 461.8 L1184.8 461.9 L1192.2 462.1 L1199.5 462.3 L1206.8 462.4 L1214.2 462.6 L1221.5 462.8 L1228.8 463.0 L1236.2 463.1 L1243.5 463.3 L1250.8 463.5 L1258.2 463.7 L1265.5 463.9 L1272.8 464.0 L1280.2 464.2 L1287.5 464.4 L1294.8 464.6 L1302.2 464.8 L1309.5 465.0" fill="none" stroke="#f4a11c" stroke-width="3.6" />
<path d="M1417.5 472.4 L1418.2 472.4 L1418.8 472.4 L1419.5 472.4 L1420.2 472.4 L1420.8 472.4 L1421.5 472.4 L1422.2 472.4 L1422.8 472.4 L1423.5 472.4 L1424.2 472.4 L1424.8 472.4 L1425.5 472.4 L1426.2 472.4 L1426.8 472.4 L1427.5 472.4 L1428.2 472.4 L1428.8 472.4 L1429.5 472.4 L1430.2 472.4 L1430.8 472.4 L1431.5 472.4 L1432.2 472.4 L1432.8 472.4 L1433.5 472.4 L1434.2 472.4 L1434.8 472.4 L1435.5 472.4 L1436.2 472.4 L1436.8 472.4 L1437.5 472.4 L1438.2 472.4 L1438.8 472.4 L1439.5 472.4 L1440.2 472.4 L1440.8 472.4 L1441.5 472.4 L1442.2 472.4 L1442.8 472.4 L1443.5 472.4 L1444.2 472.4 L1444.8 472.4 L1445.5 472.4 L1446.2 472.4 L1446.8 472.4 L1447.5 472.4 L1448.2 472.4 L1448.8 472.4 L1449.5 472.4 L1450.2 472.4 L1450.8 472.4 L1451.5 472.4 L1452.2 472.4 L1452.8 472.4 L1453.5 472.4 L1454.2 472.4 L1454.8 472.4 L1455.5 472.4 L1456.2 472.4 L1456.8 472.4 L1457.5 472.4 L1458.2 472.4 L1458.8 472.4 L1459.5 472.4 L1460.2 472.4 L1460.8 472.4 L1461.5 472.4 L1462.2 472.4 L1462.8 472.4 L1463.5 472.4 L1464.2 472.4 L1464.8 472.4 L1465.5 472.4 L1466.2 472.4 L1466.8 472.4 L1467.5 472.4 L1468.2 472.4 L1468.8 472.4 L1469.5 472.4 L1470.2 472.4 L1470.8 472.4 L1471.5 472.4 L1472.2 472.4 L1472.8 472.4 L1473.5 472.4 L1474.2 472.4 L1474.8 472.4 L1475.5 472.4 L1476.2 472.4 L1476.8 472.4 L1477.5 472.4 L1478.2 472.4 L1478.8 472.4 L1479.5 472.4 L1480.2 472.4 L1480.8 472.4 L1481.5 472.4 L1482.2 472.4 L1482.8 472.4 L1483.5 472.4 L1484.2 472.4 L1484.8 472.4 L1485.5 472.4 L1486.2 472.4 L1486.8 472.4 L1487.5 472.4 L1488.2 472.4 L1488.8 472.4 L1489.5 472.4 L1490.2 472.4 L1490.8 472.4 L1491.5 472.4 L1492.2 472.4 L1492.8 472.4 L1493.5 472.4 L1494.2 472.4 L1494.8 472.4 L1495.5 472.4 L1496.2 472.4 L1496.8 472.4 L1497.5 472.4 L1498.2 472.4 L1498.8 472.4 L1499.5 472.4 L1500.2 472.4 L1500.8 472.4 L1501.5 472.4 L1502.2 472.4 L1502.8 472.4 L1503.5 472.4 L1504.2 472.4 L1504.8 472.4 L1505.5 472.4 L1506.2 472.4 L1506.8 472.4 L1507.5 472.4 L1508.2 472.4 L1508.8 472.4 L1509.5 472.4 L1510.2 472.4 L1510.8 472.4 L1511.5 472.4 L1512.2 472.4 L1512.8 472.4 L1513.5 472.4 L1514.2 472.4 L1514.8 472.4 L1515.5 472.4 L1516.2 472.4 L1516.8 472.4 L1517.5 472.4 L1518.2 472.4 L1518.8 472.4 L1519.5 472.4 L1520.2 472.4 L1520.8 472.4 L1521.5 472.4 L1522.2 472.4 L1522.8 472.4 L1523.5 472.4" fill="none" stroke="#de2d20" stroke-width="3.6" />
<path d="M1417.5 474.7 L1418.2 474.7 L1418.8 474.7 L1419.5 474.7 L1420.2 474.7 L1420.8 474.7 L1421.5 474.7 L1422.2 474.7 L1422.8 474.7 L1423.5 474.7 L1424.2 474.7 L1424.8 474.7 L1425.5 474.7 L1426.2 474.7 L1426.8 474.7 L1427.5 474.7 L1428.2 474.7 L1428.8 474.7 L1429.5 474.7 L1430.2 474.7 L1430.8 474.7 L1431.5 474.7 L1432.2 474.7 L1432.8 474.7 L1433.5 474.7 L1434.2 474.7 L1434.8 474.7 L1435.5 474.7 L1436.2 474.7 L1436.8 474.7 L1437.5 474.7 L1438.2 474.7 L1438.8 474.7 L1439.5 474.7 L1440.2 474.7 L1440.8 474.7 L1441.5 474.7 L1442.2 474.7 L1442.8 474.7 L1443.5 474.7 L1444.2 474.7 L1444.8 474.7 L1445.5 474.7 L1446.2 474.7 L1446.8 474.7 L1447.5 474.7 L1448.2 474.7 L1448.8 474.7 L1449.5 474.7 L1450.2 474.7 L1450.8 474.7 L1451.5 474.7 L1452.2 474.7 L1452.8 474.7 L1453.5 474.7 L1454.2 474.7 L1454.8 474.7 L1455.5 474.7 L1456.2 474.7 L1456.8 474.7 L1457.5 474.7 L1458.2 474.7 L1458.8 474.7 L1459.5 474.7 L1460.2 474.7 L1460.8 474.7 L1461.5 474.7 L1462.2 474.7 L1462.8 474.7 L1463.5 474.7 L1464.2 474.7 L1464.8 474.7 L1465.5 474.7 L1466.2 474.7 L1466.8 474.7 L1467.5 474.7 L1468.2 474.7 L1468.8 474.7 L1469.5 474.7 L1470.2 474.7 L1470.8 474.7 L1471.5 474.7 L1472.2 474.7 L1472.8 474.7 L1473.5 474.7 L1474.2 474.7 L1474.8 474.7 L1475.5 474.7 L1476.2 474.7 L1476.8 474.7 L1477.5 474.7 L1478.2 474.7 L1478.8 474.7 L1479.5 474.7 L1480.2 474.7 L1480.8 474.7 L1481.5 474.7 L1482.2 474.7 L1482.8 474.7 L1483.5 474.7 L1484.2 474.7 L1484.8 474.7 L1485.5 474.7 L1486.2 474.7 L1486.8 474.7 L1487.5 474.7 L1488.2 474.7 L1488.8 474.7 L1489.5 474.7 L1490.2 474.7 L1490.8 474.7 L1491.5 474.7 L1492.2 474.7 L1492.8 474.7 L1493.5 474.7 L1494.2 474.7 L1494.8 474.7 L1495.5 474.7 L1496.2 474.7 L1496.8 474.7 L1497.5 474.7 L1498.2 474.7 L1498.8 474.7 L1499.5 474.7 L1500.2 474.7 L1500.8 474.7 L1501.5 474.7 L1502.2 474.7 L1502.8 474.7 L1503.5 474.7 L1504.2 474.7 L1504.8 474.7 L1505.5 474.7 L1506.2 474.7 L1506.8 474.7 L1507.5 474.7 L1508.2 474.7 L1508.8 474.7 L1509.5 474.7 L1510.2 474.7 L1510.8 474.7 L1511.5 474.7 L1512.2 474.7 L1512.8 474.7 L1513.5 474.7 L1514.2 474.7 L1514.8 474.7 L1515.5 474.7 L1516.2 474.7 L1516.8 474.7 L1517.5 474.7 L1518.2 474.7 L1518.8 474.7 L1519.5 474.7 L1520.2 474.7 L1520.8 474.7 L1521.5 474.7 L1522.2 474.7 L1522.8 474.7 L1523.5 474.7" fill="none" stroke="#f4a11c" stroke-width="3.6" />
<line x1="170" y1="290.5" x2="170" y2="485.5" stroke="#7a7a7a" stroke-width="2.2" stroke-dasharray="9.3 5.2" stroke-dashoffset="13"/>
<line x1="355.5" y1="290.5" x2="355.5" y2="485.5" stroke="#7a7a7a" stroke-width="2.2" stroke-dasharray="9.3 5.2" stroke-dashoffset="13"/>
<line x1="541" y1="290.5" x2="541" y2="485.5" stroke="#7a7a7a" stroke-width="2.2" stroke-dasharray="9.3 5.2" stroke-dashoffset="13"/>
<line x1="726.5" y1="290.5" x2="726.5" y2="485.5" stroke="#7a7a7a" stroke-width="2.2" stroke-dasharray="9.3 5.2" stroke-dashoffset="13"/>
<line x1="912" y1="290.5" x2="912" y2="485.5" stroke="#7a7a7a" stroke-width="2.2" stroke-dasharray="9.3 5.2" stroke-dashoffset="13"/>
<line x1="1097.5" y1="290.5" x2="1097.5" y2="485.5" stroke="#7a7a7a" stroke-width="2.2" stroke-dasharray="9.3 5.2" stroke-dashoffset="13"/>
<line x1="1283" y1="290.5" x2="1283" y2="485.5" stroke="#7a7a7a" stroke-width="2.2" stroke-dasharray="9.3 5.2" stroke-dashoffset="13"/>
<line x1="1470.5" y1="290.5" x2="1470.5" y2="485.5" stroke="#7a7a7a" stroke-width="2.2" stroke-dasharray="9.3 5.2" stroke-dashoffset="13"/>
<path d="M181.3 384.0 L183.1 383.9 L184.9 383.7 L186.7 383.5 L188.5 383.3 L190.3 383.2 L192.1 383.0 L193.9 382.7 L195.6 382.5 L197.4 382.3 L199.2 382.0 L201.0 381.7 L202.8 381.4 L204.6 381.1 L206.4 380.8 L208.2 380.4 L209.9 380.1 L211.7 379.7 L213.5 379.3 L215.3 378.8 L217.1 378.4 L218.9 377.9 L220.7 377.4 L222.5 376.9 L224.2 376.3 L226.0 375.8 L227.8 375.1 L229.6 374.5 L231.4 373.9 L233.2 373.2 L235.0 372.4 L236.8 371.7 L238.5 370.9 L240.3 370.1 L242.1 369.3 L243.9 368.4 L245.7 367.5 L247.5 366.6 L249.3 365.6 L251.1 364.6 L252.8 363.6 L254.6 362.5 L256.4 361.4 L258.2 360.3 L260.0 359.1 L261.8 358.0 L263.6 356.7 L265.4 355.5 L267.1 354.2 L268.9 352.9 L270.7 351.6 L272.5 350.3 L274.3 348.9 L276.1 347.5 L277.9 346.1 L279.7 344.6 L281.4 343.2 L283.2 341.7 L285.0 340.2 L286.8 338.7 L288.6 337.2 L290.4 335.7 L292.2 334.2 L294.0 332.6 L295.7 331.1 L297.5 329.6 L299.3 328.0 L301.1 326.5 L302.9 325.0 L304.7 323.5 L306.5 322.0 L308.3 320.5 L310.1 319.0 L311.8 317.6 L313.6 316.2 L315.4 314.8 L317.2 313.4 L319.0 312.1 L320.8 310.8 L322.6 309.6 L324.4 308.4 L326.1 307.2 L327.9 306.1 L329.7 305.0 L331.5 303.9 L333.3 303.0 L335.1 302.1 L336.9 301.2 L338.7 300.4 L340.4 299.6 L342.2 299.0 L344.0 298.3 L345.8 297.8 L347.6 297.3 L349.4 296.9 L351.2 296.5 L353.0 296.2 L354.7 296.0 L356.5 295.9 L358.3 295.8 L360.1 295.8 L361.9 295.9 L363.7 296.0 L365.5 296.2 L367.3 296.5 L369.0 296.9 L370.8 297.3 L372.6 297.8 L374.4 298.3 L376.2 299.0 L378.0 299.6 L379.8 300.4 L381.6 301.2 L383.3 302.1 L385.1 303.0 L386.9 303.9 L388.7 305.0 L390.5 306.1 L392.3 307.2 L394.1 308.4 L395.9 309.6 L397.6 310.8 L399.4 312.1 L401.2 313.4 L403.0 314.8 L404.8 316.2 L406.6 317.6 L408.4 319.0 L410.2 320.5 L411.9 322.0 L413.7 323.5 L415.5 325.0 L417.3 326.5 L419.1 328.0 L420.9 329.6 L422.7 331.1 L424.5 332.6 L426.2 334.2 L428.0 335.7 L429.8 337.2 L431.6 338.7 L433.4 340.2 L435.2 341.7 L437.0 343.2 L438.8 344.6 L440.5 346.1 L442.3 347.5 L444.1 348.9 L445.9 350.3 L447.7 351.6 L449.5 352.9 L451.3 354.2 L453.1 355.5 L454.8 356.7 L456.6 358.0 L458.4 359.1 L460.2 360.3 L462.0 361.4 L463.8 362.5 L465.6 363.6 L467.4 364.6 L469.1 365.6 L470.9 366.6 L472.7 367.5 L474.5 368.4 L476.3 369.3 L478.1 370.1 L479.9 370.9 L481.7 371.7 L483.4 372.4 L485.2 373.2 L487.0 373.9 L488.8 374.5 L490.6 375.1 L492.4 375.8 L494.2 376.3 L496.0 376.9 L497.8 377.4 L499.5 377.9 L501.3 378.4 L503.1 378.8 L504.9 379.3 L506.7 379.7 L508.5 380.1 L510.3 380.4 L512.1 380.8 L513.8 381.1 L515.6 381.4 L517.4 381.7 L519.2 382.0 L521.0 382.3 L522.8 382.5 L524.6 382.7 L526.4 383.0 L528.1 383.2 L529.9 383.3 L531.7 383.5 L533.5 383.7 L535.3 383.9 L537.1 384.0 L537.1 384.0 L538.2 384.2 L539.2 384.6 L540.1 385.4 L540.7 386.3 L541.0 387.4 L541.0 388.6 L540.7 389.7 L540.1 390.6 L539.2 391.4 L538.2 391.8 L537.1 392.0 L537.1 392.0 L535.3 392.1 L533.5 392.3 L531.7 392.5 L529.9 392.7 L528.1 392.8 L526.4 393.0 L524.6 393.3 L522.8 393.5 L521.0 393.7 L519.2 394.0 L517.4 394.3 L515.6 394.6 L513.8 394.9 L512.1 395.2 L510.3 395.6 L508.5 395.9 L506.7 396.3 L504.9 396.7 L503.1 397.2 L501.3 397.6 L499.5 398.1 L497.8 398.6 L496.0 399.1 L494.2 399.7 L492.4 400.2 L490.6 400.9 L488.8 401.5 L487.0 402.1 L485.2 402.8 L483.4 403.6 L481.7 404.3 L479.9 405.1 L478.1 405.9 L476.3 406.7 L474.5 407.6 L472.7 408.5 L470.9 409.4 L469.1 410.4 L467.4 411.4 L465.6 412.4 L463.8 413.5 L462.0 414.6 L460.2 415.7 L458.4 416.9 L456.6 418.0 L454.8 419.3 L453.1 420.5 L451.3 421.8 L449.5 423.1 L447.7 424.4 L445.9 425.7 L444.1 427.1 L442.3 428.5 L440.5 429.9 L438.8 431.4 L437.0 432.8 L435.2 434.3 L433.4 435.8 L431.6 437.3 L429.8 438.8 L428.0 440.3 L426.2 441.8 L424.5 443.4 L422.7 444.9 L420.9 446.4 L419.1 448.0 L417.3 449.5 L415.5 451.0 L413.7 452.5 L411.9 454.0 L410.2 455.5 L408.4 457.0 L406.6 458.4 L404.8 459.8 L403.0 461.2 L401.2 462.6 L399.4 463.9 L397.6 465.2 L395.9 466.4 L394.1 467.6 L392.3 468.8 L390.5 469.9 L388.7 471.0 L386.9 472.1 L385.1 473.0 L383.3 473.9 L381.6 474.8 L379.8 475.6 L378.0 476.4 L376.2 477.0 L374.4 477.7 L372.6 478.2 L370.8 478.7 L369.0 479.1 L367.3 479.5 L365.5 479.8 L363.7 480.0 L361.9 480.1 L360.1 480.2 L358.3 480.2 L356.5 480.1 L354.7 480.0 L353.0 479.8 L351.2 479.5 L349.4 479.1 L347.6 478.7 L345.8 478.2 L344.0 477.7 L342.2 477.0 L340.4 476.4 L338.7 475.6 L336.9 474.8 L335.1 473.9 L333.3 473.0 L331.5 472.1 L329.7 471.0 L327.9 469.9 L326.1 468.8 L324.4 467.6 L322.6 466.4 L320.8 465.2 L319.0 463.9 L317.2 462.6 L315.4 461.2 L313.6 459.8 L311.8 458.4 L310.1 457.0 L308.3 455.5 L306.5 454.0 L304.7 452.5 L302.9 451.0 L301.1 449.5 L299.3 448.0 L297.5 446.4 L295.7 444.9 L294.0 443.4 L292.2 441.8 L290.4 440.3 L288.6 438.8 L286.8 437.3 L285.0 435.8 L283.2 434.3 L281.4 432.8 L279.7 431.4 L277.9 429.9 L276.1 428.5 L274.3 427.1 L272.5 425.7 L270.7 424.4 L268.9 423.1 L267.1 421.8 L265.4 420.5 L263.6 419.3 L261.8 418.0 L260.0 416.9 L258.2 415.7 L256.4 414.6 L254.6 413.5 L252.8 412.4 L251.1 411.4 L249.3 410.4 L247.5 409.4 L245.7 408.5 L243.9 407.6 L242.1 406.7 L240.3 405.9 L238.5 405.1 L236.8 404.3 L235.0 403.6 L233.2 402.8 L231.4 402.1 L229.6 401.5 L227.8 400.9 L226.0 400.2 L224.2 399.7 L222.5 399.1 L220.7 398.6 L218.9 398.1 L217.1 397.6 L215.3 397.2 L213.5 396.7 L211.7 396.3 L209.9 395.9 L208.2 395.6 L206.4 395.2 L204.6 394.9 L202.8 394.6 L201.0 394.3 L199.2 394.0 L197.4 393.7 L195.6 393.5 L193.9 393.3 L192.1 393.0 L190.3 392.8 L188.5 392.7 L186.7 392.5 L184.9 392.3 L183.1 392.1 L181.3 392.0 L181.3 392.0 L180.2 391.8 L179.2 391.4 L178.3 390.6 L177.7 389.7 L177.4 388.6 L177.4 387.4 L177.7 386.3 L178.3 385.4 L179.2 384.6 L180.2 384.2 L181.3 384.0 Z" fill="#9292d4" clip-path="url(#c5)"/>
<g clip-path="url(#c6)">
<path d="M673.5 420.2 L677.5 420.7 L681.5 421.2 L685.5 421.7 L689.5 422.2 L693.5 422.7 L697.5 423.2 L701.5 423.7 L705.5 424.1 L709.5 424.6 L713.5 425.0 L717.5 425.4 L721.5 425.8 L725.5 426.1 L729.5 426.4 L733.5 426.7 L737.5 427.0 L741.5 427.3 L745.5 427.6 L749.5 427.9 L753.5 428.1 L757.5 428.4 L761.5 428.6 L765.5 428.9 L769.5 429.1 L773.5 429.3 L777.5 429.5 L781.5 429.8 L785.5 430.0 L789.5 430.2 L793.5 430.4 L797.5 430.6 L801.5 430.8 L805.5 431.0 L809.5 431.2 L813.5 431.4 L817.5 431.6 L821.5 431.7 L825.5 431.9 L829.5 432.1 L833.5 432.3 L837.5 432.4 L841.5 432.6 L845.5 432.8 L849.5 433.0 L853.5 433.2 L857.5 433.4 L861.5 433.6 L865.5 433.8 L869.5 434.1 L873.5 434.3 L877.5 434.6 L881.5 434.9 L885.5 435.1 L889.5 435.4 L893.5 435.7 L897.5 436.0 L901.5 436.3 L905.5 436.5 L909.5 436.8 L913.5 437.1 L917.5 437.4 L921.5 437.6 L925.5 437.9 L929.5 438.2 L933.5 438.5 L937.5 438.7 L941.5 439.0 L945.5 439.2 L949.5 439.5 L953.5 439.7 L957.5 439.9 L961.5 440.0 L965.5 440.2 L969.5 440.4 L973.5 440.5 L977.5 440.7 L981.5 440.8 L985.5 440.9 L989.5 441.1 L993.5 441.2 L997.5 441.3 L1001.5 441.4 L1005.5 441.5 L1009.5 441.6 L1013.5 441.7 L1017.5 441.8 L1021.5 441.9 L1025.5 442.0 L1029.5 442.1 L1033.5 442.2 L1037.5 442.3 L1041.5 442.4 L1045.5 442.5 L1049.5 442.6 L1053.5 442.7 L1057.5 442.8 L1061.5 442.9 L1065.5 443.0 L1069.5 443.1 L1073.5 443.2 L1077.5 443.4 L1081.5 443.5 L1085.5 443.6 L1089.5 443.7 L1093.5 443.8 L1097.5 444.0 L1101.5 444.1 L1105.5 444.2 L1109.5 444.4 L1113.5 444.5 L1117.5 444.6 L1121.5 444.8 L1125.5 444.9 L1129.5 445.0 L1133.5 445.1 L1137.5 445.3 L1141.5 445.4 L1145.5 445.5 L1149.5 445.7 L1153.5 445.8 L1157.5 445.9 L1161.5 446.1 L1165.5 446.2 L1169.5 446.3 L1173.5 446.5 L1177.5 446.6 L1181.5 446.8 L1185.5 446.9 L1189.5 447.0 L1193.5 447.2 L1197.5 447.3 L1201.5 447.5 L1205.5 447.7 L1209.5 447.8 L1213.5 448.0 L1217.5 448.1 L1221.5 448.3 L1225.5 448.5 L1229.5 448.7 L1233.5 448.9 L1237.5 449.0 L1241.5 449.2 L1245.5 449.4 L1249.5 449.6 L1253.5 449.8 L1257.5 450.1 L1261.5 450.3 L1265.5 450.5 L1269.5 450.7 L1273.5 451.0 L1277.5 451.2 L1281.5 451.4 L1285.5 451.7 L1289.5 452.0 L1293.5 452.4 L1297.5 452.8 L1301.5 453.2 L1305.5 453.6 L1309.5 454.0" fill="none" stroke="#a00068" stroke-width="3.6" stroke-dasharray="12.9 5.7" />
<path d="M673.5 380.7 L677.5 381.1 L681.5 381.5 L685.5 382.0 L689.5 382.4 L693.5 383.0 L697.5 383.5 L701.5 384.1 L705.5 384.6 L709.5 385.2 L713.5 385.8 L717.5 386.4 L721.5 387.0 L725.5 387.6 L729.5 388.2 L733.5 388.8 L737.5 389.3 L741.5 389.9 L745.5 390.5 L749.5 391.1 L753.5 391.6 L757.5 392.2 L761.5 392.8 L765.5 393.4 L769.5 394.0 L773.5 394.6 L777.5 395.1 L781.5 395.7 L785.5 396.3 L789.5 396.9 L793.5 397.5 L797.5 398.0 L801.5 398.6 L805.5 399.1 L809.5 399.7 L813.5 400.2 L817.5 400.7 L821.5 401.3 L825.5 401.8 L829.5 402.3 L833.5 402.7 L837.5 403.2 L841.5 403.7 L845.5 404.2 L849.5 404.6 L853.5 405.1 L857.5 405.5 L861.5 406.0 L865.5 406.4 L869.5 406.8 L873.5 407.3 L877.5 407.7 L881.5 408.1 L885.5 408.5 L889.5 408.9 L893.5 409.3 L897.5 409.7 L901.5 410.1 L905.5 410.5 L909.5 410.9 L913.5 411.2 L917.5 411.6 L921.5 412.0 L925.5 412.3 L929.5 412.7 L933.5 413.1 L937.5 413.4 L941.5 413.8 L945.5 414.1 L949.5 414.4 L953.5 414.8 L957.5 415.1 L961.5 415.4 L965.5 415.8 L969.5 416.1 L973.5 416.4 L977.5 416.7 L981.5 417.0 L985.5 417.4 L989.5 417.7 L993.5 418.0 L997.5 418.3 L1001.5 418.6 L1005.5 418.9 L1009.5 419.2 L1013.5 419.5 L1017.5 419.8 L1021.5 420.1 L1025.5 420.4 L1029.5 420.7 L1033.5 420.9 L1037.5 421.2 L1041.5 421.5 L1045.5 421.8 L1049.5 422.1 L1053.5 422.4 L1057.5 422.7 L1061.5 423.0 L1065.5 423.3 L1069.5 423.5 L1073.5 423.8 L1077.5 424.1 L1081.5 424.4 L1085.5 424.7 L1089.5 425.0 L1093.5 425.3 L1097.5 425.5 L1101.5 425.8 L1105.5 426.1 L1109.5 426.4 L1113.5 426.7 L1117.5 427.0 L1121.5 427.3 L1125.5 427.6 L1129.5 427.9 L1133.5 428.1 L1137.5 428.4 L1141.5 428.7 L1145.5 429.0 L1149.5 429.3 L1153.5 429.6 L1157.5 429.9 L1161.5 430.1 L1165.5 430.4 L1169.5 430.7 L1173.5 431.0 L1177.5 431.3 L1181.5 431.6 L1185.5 431.9 L1189.5 432.1 L1193.5 432.4 L1197.5 432.7 L1201.5 433.0 L1205.5 433.3 L1209.5 433.5 L1213.5 433.8 L1217.5 434.1 L1221.5 434.4 L1225.5 434.7 L1229.5 434.9 L1233.5 435.2 L1237.5 435.5 L1241.5 435.8 L1245.5 436.0 L1249.5 436.3 L1253.5 436.6 L1257.5 436.8 L1261.5 437.1 L1265.5 437.4 L1269.5 437.6 L1273.5 437.9 L1277.5 438.2 L1281.5 438.4 L1285.5 438.7 L1289.5 439.0 L1293.5 439.2 L1297.5 439.5 L1301.5 439.7 L1305.5 440.0 L1309.5 440.2" fill="none" stroke="#9a6464" stroke-width="3.6" stroke-dasharray="12.9 5.7" />
<path d="M143.5 476.4 L150.8 476.4 L158.2 476.4 L165.5 476.4 L172.8 476.4 L180.2 476.4 L187.5 476.4 L194.8 476.3 L202.2 476.1 L209.5 475.9 L216.8 475.5 L224.2 474.6 L231.5 473.3 L238.8 471.7 L246.2 469.8 L253.5 467.8 L260.8 465.4 L268.2 462.3 L275.5 458.5 L282.8 453.4 L290.2 446.6 L297.5 437.2 L304.8 425.0 L312.2 411.5 L319.5 395.7 L326.8 379.5 L334.2 363.5 L341.5 350.2 L348.8 341.2 L356.2 335.9 L363.5 333.8 L370.8 334.1 L378.2 336.6 L385.5 340.0 L392.8 346.1 L400.2 353.8 L407.5 361.3 L414.8 368.9 L422.2 376.7 L429.5 383.4 L436.8 388.9 L444.2 393.8 L451.5 397.6 L458.8 399.9 L466.2 401.6 L473.5 402.9 L480.8 403.9 L488.2 404.8 L495.5 405.6 L502.8 406.2 L510.2 406.9 L517.5 407.5 L524.8 408.2 L532.2 408.8 L539.5 409.4 L546.8 409.9 L554.2 410.5 L561.5 411.0 L568.8 411.6 L576.2 412.1 L583.5 412.5 L590.8 413.0 L598.2 413.5 L605.5 413.9 L612.8 414.4 L620.2 414.9 L627.5 415.5 L634.8 416.1 L642.2 416.7 L649.5 417.4 L656.8 418.2 L664.2 419.1 L671.5 420.0 L678.8 420.9 L686.2 421.8 L693.5 422.7 L700.8 423.6 L708.2 424.2 L715.5 425.1 L722.8 426.0 L730.2 426.0 L737.5 424.8 L744.8 422.5 L752.2 419.8 L759.5 418.0 L766.8 416.8 L774.2 415.9 L781.5 415.9 L788.8 416.4 L796.2 417.1 L803.5 417.9 L810.8 418.6 L818.2 419.4 L825.5 420.2 L832.8 421.1 L840.2 422.0 L847.5 422.8 L854.8 423.6 L862.2 424.2 L869.5 424.8 L876.8 425.4 L884.2 426.0 L891.5 426.5 L898.8 427.0 L906.2 427.5 L913.5 428.0 L920.8 428.5 L928.2 429.0 L935.5 429.4 L942.8 429.9 L950.2 430.3 L957.5 430.8 L964.8 431.2 L972.2 431.7 L979.5 432.1 L986.8 432.6 L994.2 433.0 L1001.5 433.5 L1008.8 433.9 L1016.2 434.4 L1023.5 434.8 L1030.8 435.2 L1038.2 435.7 L1045.5 436.1 L1052.8 436.5 L1060.2 437.0 L1067.5 437.4 L1074.8 437.8 L1082.2 438.2 L1089.5 438.6 L1096.8 439.0 L1104.2 439.3 L1111.5 439.7 L1118.8 440.1 L1126.2 440.4 L1133.5 440.8 L1140.8 441.2 L1148.2 441.5 L1155.5 441.9 L1162.8 442.2 L1170.2 442.6 L1177.5 442.9 L1184.8 443.2 L1192.2 443.6 L1199.5 443.9 L1206.8 444.2 L1214.2 444.6 L1221.5 444.9 L1228.8 445.2 L1236.2 445.5 L1243.5 445.8 L1250.8 446.1 L1258.2 446.4 L1265.5 446.8 L1272.8 447.1 L1280.2 447.4 L1287.5 447.7 L1294.8 447.9 L1302.2 448.2 L1309.5 448.5" fill="none" stroke="#a00068" stroke-width="3.6" />
<path d="M143.5 476.4 L150.8 476.4 L158.2 476.4 L165.5 476.4 L172.8 476.4 L180.2 476.4 L187.5 476.4 L194.8 476.3 L202.2 476.1 L209.5 475.9 L216.8 475.5 L224.2 474.6 L231.5 473.3 L238.8 471.7 L246.2 469.8 L253.5 467.8 L260.8 465.4 L268.2 462.3 L275.5 458.5 L282.8 453.0 L290.2 445.5 L297.5 435.3 L304.8 421.7 L312.2 405.5 L319.5 384.1 L326.8 362.7 L334.2 344.0 L341.5 328.3 L348.8 315.9 L356.2 307.8 L363.5 303.3 L370.8 300.1 L378.2 299.0 L385.5 300.6 L392.8 303.8 L400.2 307.2 L407.5 311.3 L414.8 315.7 L422.2 320.0 L429.5 324.5 L436.8 329.0 L444.2 332.9 L451.5 336.5 L458.8 339.8 L466.2 342.9 L473.5 345.8 L480.8 348.5 L488.2 351.1 L495.5 353.5 L502.8 355.8 L510.2 357.7 L517.5 359.2 L524.8 360.4 L532.2 361.4 L539.5 362.4 L546.8 363.5 L554.2 364.6 L561.5 365.8 L568.8 366.9 L576.2 368.1 L583.5 369.2 L590.8 370.4 L598.2 371.5 L605.5 372.5 L612.8 373.5 L620.2 374.5 L627.5 375.4 L634.8 376.3 L642.2 377.2 L649.5 378.0 L656.8 378.9 L664.2 379.7 L671.5 380.5 L678.8 381.0 L686.2 382.0 L693.5 384.5 L700.8 388.6 L708.2 394.7 L715.5 402.1 L722.8 410.8 L730.2 420.1 L737.5 430.4 L744.8 439.0 L752.2 446.5 L759.5 451.4 L766.8 454.6 L774.2 455.7 L781.5 455.2 L788.8 454.5 L796.2 453.6 L803.5 452.8 L810.8 452.7 L818.2 452.8 L825.5 453.0 L832.8 453.3 L840.2 453.6 L847.5 453.8 L854.8 454.1 L862.2 454.3 L869.5 454.5 L876.8 454.7 L884.2 454.9 L891.5 455.1 L898.8 455.4 L906.2 455.6 L913.5 455.8 L920.8 456.1 L928.2 456.4 L935.5 456.6 L942.8 456.9 L950.2 457.1 L957.5 457.3 L964.8 457.5 L972.2 457.7 L979.5 457.9 L986.8 458.0 L994.2 458.2 L1001.5 458.3 L1008.8 458.4 L1016.2 458.6 L1023.5 458.7 L1030.8 458.8 L1038.2 458.9 L1045.5 459.1 L1052.8 459.2 L1060.2 459.3 L1067.5 459.4 L1074.8 459.6 L1082.2 459.7 L1089.5 459.9 L1096.8 460.0 L1104.2 460.2 L1111.5 460.3 L1118.8 460.5 L1126.2 460.6 L1133.5 460.8 L1140.8 460.9 L1148.2 461.1 L1155.5 461.3 L1162.8 461.4 L1170.2 461.6 L1177.5 461.8 L1184.8 461.9 L1192.2 462.1 L1199.5 462.3 L1206.8 462.4 L1214.2 462.6 L1221.5 462.8 L1228.8 463.0 L1236.2 463.1 L1243.5 463.3 L1250.8 463.5 L1258.2 463.7 L1265.5 463.9 L1272.8 464.0 L1280.2 464.2 L1287.5 464.4 L1294.8 464.6 L1302.2 464.8 L1309.5 465.0" fill="none" stroke="#9a6464" stroke-width="3.6" />
<line x1="170" y1="290.5" x2="170" y2="485.5" stroke="#4b4bae" stroke-width="2.2" stroke-dasharray="9.3 5.2" stroke-dashoffset="13"/>
<line x1="355.5" y1="290.5" x2="355.5" y2="485.5" stroke="#4b4bae" stroke-width="2.2" stroke-dasharray="9.3 5.2" stroke-dashoffset="13"/>
<line x1="541" y1="290.5" x2="541" y2="485.5" stroke="#4b4bae" stroke-width="2.2" stroke-dasharray="9.3 5.2" stroke-dashoffset="13"/>
<line x1="726.5" y1="290.5" x2="726.5" y2="485.5" stroke="#4b4bae" stroke-width="2.2" stroke-dasharray="9.3 5.2" stroke-dashoffset="13"/>
<line x1="912" y1="290.5" x2="912" y2="485.5" stroke="#4b4bae" stroke-width="2.2" stroke-dasharray="9.3 5.2" stroke-dashoffset="13"/>
<line x1="1097.5" y1="290.5" x2="1097.5" y2="485.5" stroke="#4b4bae" stroke-width="2.2" stroke-dasharray="9.3 5.2" stroke-dashoffset="13"/>
<line x1="1283" y1="290.5" x2="1283" y2="485.5" stroke="#4b4bae" stroke-width="2.2" stroke-dasharray="9.3 5.2" stroke-dashoffset="13"/>
</g>
<path d="M546.3 384.2 L548.1 384.0 L549.9 383.9 L551.7 383.7 L553.5 383.6 L555.3 383.4 L557.2 383.2 L559.0 383.0 L560.8 382.8 L562.6 382.6 L564.4 382.3 L566.2 382.0 L568.0 381.8 L569.8 381.5 L571.6 381.2 L573.4 380.8 L575.3 380.5 L577.1 380.1 L578.9 379.7 L580.7 379.3 L582.5 378.9 L584.3 378.4 L586.1 377.9 L587.9 377.4 L589.7 376.9 L591.5 376.3 L593.3 375.7 L595.2 375.1 L597.0 374.5 L598.8 373.8 L600.6 373.1 L602.4 372.4 L604.2 371.6 L606.0 370.8 L607.8 370.0 L609.6 369.2 L611.4 368.3 L613.2 367.4 L615.1 366.4 L616.9 365.4 L618.7 364.4 L620.5 363.4 L622.3 362.3 L624.1 361.2 L625.9 360.0 L627.7 358.9 L629.5 357.6 L631.3 356.4 L633.2 355.1 L635.0 353.9 L636.8 352.5 L638.6 351.2 L640.4 349.8 L642.2 348.4 L644.0 347.0 L645.8 345.5 L647.6 344.1 L649.4 342.6 L651.2 341.1 L653.1 339.6 L654.9 338.1 L656.7 336.5 L658.5 335.0 L660.3 333.4 L662.1 331.9 L663.9 330.3 L665.7 328.8 L667.5 327.2 L669.3 325.7 L671.2 324.2 L673.0 322.7 L674.8 321.1 L676.6 319.7 L678.4 318.2 L680.2 316.8 L682.0 315.3 L683.8 313.9 L685.6 312.6 L687.4 311.3 L689.2 310.0 L691.1 308.7 L692.9 307.5 L694.7 306.4 L696.5 305.3 L698.3 304.2 L700.1 303.2 L701.9 302.3 L703.7 301.4 L705.5 300.6 L707.3 299.8 L709.2 299.1 L711.0 298.4 L712.8 297.9 L714.6 297.4 L716.4 296.9 L718.2 296.6 L720.0 296.3 L721.8 296.0 L723.6 295.9 L725.4 295.8 L727.2 295.8 L729.1 295.9 L730.9 296.0 L732.7 296.2 L734.5 296.5 L736.3 296.9 L738.1 297.3 L739.9 297.8 L741.7 298.3 L743.5 299.0 L745.3 299.7 L747.1 300.4 L749.0 301.2 L750.8 302.1 L752.6 303.1 L754.4 304.0 L756.2 305.1 L758.0 306.2 L759.8 307.3 L761.6 308.5 L763.4 309.8 L765.2 311.0 L767.1 312.4 L768.9 313.7 L770.7 315.1 L772.5 316.5 L774.3 317.9 L776.1 319.4 L777.9 320.9 L779.7 322.4 L781.5 323.9 L783.3 325.4 L785.1 327.0 L787.0 328.5 L788.8 330.1 L790.6 331.6 L792.4 333.2 L794.2 334.7 L796.0 336.3 L797.8 337.8 L799.6 339.3 L801.4 340.8 L803.2 342.3 L805.1 343.8 L806.9 345.3 L808.7 346.7 L810.5 348.2 L812.3 349.6 L814.1 350.9 L815.9 352.3 L817.7 353.6 L819.5 354.9 L821.3 356.2 L823.1 357.4 L825.0 358.6 L826.8 359.8 L828.6 361.0 L830.4 362.1 L832.2 363.2 L834.0 364.2 L835.8 365.3 L837.6 366.2 L839.4 367.2 L841.2 368.1 L843.1 369.0 L844.9 369.9 L846.7 370.7 L848.5 371.5 L850.3 372.3 L852.1 373.0 L853.9 373.7 L855.7 374.4 L857.5 375.0 L859.3 375.6 L861.1 376.2 L863.0 376.8 L864.8 377.3 L866.6 377.8 L868.4 378.3 L870.2 378.8 L872.0 379.2 L873.8 379.6 L875.6 380.0 L877.4 380.4 L879.2 380.8 L881.0 381.1 L882.9 381.4 L884.7 381.7 L886.5 382.0 L888.3 382.3 L890.1 382.5 L891.9 382.7 L893.7 383.0 L895.5 383.2 L897.3 383.4 L899.1 383.5 L901.0 383.7 L902.8 383.9 L904.6 384.0 L906.4 384.2 L906.4 384.2 L907.5 384.3 L908.5 384.8 L909.3 385.5 L909.9 386.4 L910.2 387.5 L910.2 388.5 L909.9 389.6 L909.3 390.5 L908.5 391.2 L907.5 391.7 L906.4 391.8 L906.4 391.8 L904.6 392.0 L902.8 392.1 L901.0 392.3 L899.1 392.5 L897.3 392.6 L895.5 392.8 L893.7 393.0 L891.9 393.3 L890.1 393.5 L888.3 393.7 L886.5 394.0 L884.7 394.3 L882.9 394.6 L881.0 394.9 L879.2 395.2 L877.4 395.6 L875.6 396.0 L873.8 396.4 L872.0 396.8 L870.2 397.2 L868.4 397.7 L866.6 398.2 L864.8 398.7 L863.0 399.2 L861.1 399.8 L859.3 400.4 L857.5 401.0 L855.7 401.6 L853.9 402.3 L852.1 403.0 L850.3 403.7 L848.5 404.5 L846.7 405.3 L844.9 406.1 L843.1 407.0 L841.2 407.9 L839.4 408.8 L837.6 409.8 L835.8 410.7 L834.0 411.8 L832.2 412.8 L830.4 413.9 L828.6 415.0 L826.8 416.2 L825.0 417.4 L823.1 418.6 L821.3 419.8 L819.5 421.1 L817.7 422.4 L815.9 423.7 L814.1 425.1 L812.3 426.4 L810.5 427.8 L808.7 429.3 L806.9 430.7 L805.1 432.2 L803.2 433.7 L801.4 435.2 L799.6 436.7 L797.8 438.2 L796.0 439.7 L794.2 441.3 L792.4 442.8 L790.6 444.4 L788.8 445.9 L787.0 447.5 L785.1 449.0 L783.3 450.6 L781.5 452.1 L779.7 453.6 L777.9 455.1 L776.1 456.6 L774.3 458.1 L772.5 459.5 L770.7 460.9 L768.9 462.3 L767.1 463.6 L765.2 465.0 L763.4 466.2 L761.6 467.5 L759.8 468.7 L758.0 469.8 L756.2 470.9 L754.4 472.0 L752.6 472.9 L750.8 473.9 L749.0 474.8 L747.1 475.6 L745.3 476.3 L743.5 477.0 L741.7 477.7 L739.9 478.2 L738.1 478.7 L736.3 479.1 L734.5 479.5 L732.7 479.8 L730.9 480.0 L729.1 480.1 L727.2 480.2 L725.4 480.2 L723.6 480.1 L721.8 480.0 L720.0 479.7 L718.2 479.4 L716.4 479.1 L714.6 478.6 L712.8 478.1 L711.0 477.6 L709.2 476.9 L707.3 476.2 L705.5 475.4 L703.7 474.6 L701.9 473.7 L700.1 472.8 L698.3 471.8 L696.5 470.7 L694.7 469.6 L692.9 468.5 L691.1 467.3 L689.2 466.0 L687.4 464.7 L685.6 463.4 L683.8 462.1 L682.0 460.7 L680.2 459.2 L678.4 457.8 L676.6 456.3 L674.8 454.9 L673.0 453.3 L671.2 451.8 L669.3 450.3 L667.5 448.8 L665.7 447.2 L663.9 445.7 L662.1 444.1 L660.3 442.6 L658.5 441.0 L656.7 439.5 L654.9 437.9 L653.1 436.4 L651.2 434.9 L649.4 433.4 L647.6 431.9 L645.8 430.5 L644.0 429.0 L642.2 427.6 L640.4 426.2 L638.6 424.8 L636.8 423.5 L635.0 422.1 L633.2 420.9 L631.3 419.6 L629.5 418.4 L627.7 417.1 L625.9 416.0 L624.1 414.8 L622.3 413.7 L620.5 412.6 L618.7 411.6 L616.9 410.6 L615.1 409.6 L613.2 408.6 L611.4 407.7 L609.6 406.8 L607.8 406.0 L606.0 405.2 L604.2 404.4 L602.4 403.6 L600.6 402.9 L598.8 402.2 L597.0 401.5 L595.2 400.9 L593.3 400.3 L591.5 399.7 L589.7 399.1 L587.9 398.6 L586.1 398.1 L584.3 397.6 L582.5 397.1 L580.7 396.7 L578.9 396.3 L577.1 395.9 L575.3 395.5 L573.4 395.2 L571.6 394.8 L569.8 394.5 L568.0 394.2 L566.2 394.0 L564.4 393.7 L562.6 393.4 L560.8 393.2 L559.0 393.0 L557.2 392.8 L555.3 392.6 L553.5 392.4 L551.7 392.3 L549.9 392.1 L548.1 392.0 L546.3 391.8 L546.3 391.8 L545.2 391.7 L544.2 391.2 L543.4 390.5 L542.8 389.6 L542.5 388.5 L542.5 387.5 L542.8 386.4 L543.4 385.5 L544.2 384.8 L545.2 384.3 L546.3 384.2 Z" fill="#9cd39a" clip-path="url(#c7)"/>
<g clip-path="url(#c8)">
<path d="M673.5 420.2 L677.5 420.7 L681.5 421.2 L685.5 421.7 L689.5 422.2 L693.5 422.7 L697.5 423.2 L701.5 423.7 L705.5 424.1 L709.5 424.6 L713.5 425.0 L717.5 425.4 L721.5 425.8 L725.5 426.1 L729.5 426.4 L733.5 426.7 L737.5 427.0 L741.5 427.3 L745.5 427.6 L749.5 427.9 L753.5 428.1 L757.5 428.4 L761.5 428.6 L765.5 428.9 L769.5 429.1 L773.5 429.3 L777.5 429.5 L781.5 429.8 L785.5 430.0 L789.5 430.2 L793.5 430.4 L797.5 430.6 L801.5 430.8 L805.5 431.0 L809.5 431.2 L813.5 431.4 L817.5 431.6 L821.5 431.7 L825.5 431.9 L829.5 432.1 L833.5 432.3 L837.5 432.4 L841.5 432.6 L845.5 432.8 L849.5 433.0 L853.5 433.2 L857.5 433.4 L861.5 433.6 L865.5 433.8 L869.5 434.1 L873.5 434.3 L877.5 434.6 L881.5 434.9 L885.5 435.1 L889.5 435.4 L893.5 435.7 L897.5 436.0 L901.5 436.3 L905.5 436.5 L909.5 436.8 L913.5 437.1 L917.5 437.4 L921.5 437.6 L925.5 437.9 L929.5 438.2 L933.5 438.5 L937.5 438.7 L941.5 439.0 L945.5 439.2 L949.5 439.5 L953.5 439.7 L957.5 439.9 L961.5 440.0 L965.5 440.2 L969.5 440.4 L973.5 440.5 L977.5 440.7 L981.5 440.8 L985.5 440.9 L989.5 441.1 L993.5 441.2 L997.5 441.3 L1001.5 441.4 L1005.5 441.5 L1009.5 441.6 L1013.5 441.7 L1017.5 441.8 L1021.5 441.9 L1025.5 442.0 L1029.5 442.1 L1033.5 442.2 L1037.5 442.3 L1041.5 442.4 L1045.5 442.5 L1049.5 442.6 L1053.5 442.7 L1057.5 442.8 L1061.5 442.9 L1065.5 443.0 L1069.5 443.1 L1073.5 443.2 L1077.5 443.4 L1081.5 443.5 L1085.5 443.6 L1089.5 443.7 L1093.5 443.8 L1097.5 444.0 L1101.5 444.1 L1105.5 444.2 L1109.5 444.4 L1113.5 444.5 L1117.5 444.6 L1121.5 444.8 L1125.5 444.9 L1129.5 445.0 L1133.5 445.1 L1137.5 445.3 L1141.5 445.4 L1145.5 445.5 L1149.5 445.7 L1153.5 445.8 L1157.5 445.9 L1161.5 446.1 L1165.5 446.2 L1169.5 446.3 L1173.5 446.5 L1177.5 446.6 L1181.5 446.8 L1185.5 446.9 L1189.5 447.0 L1193.5 447.2 L1197.5 447.3 L1201.5 447.5 L1205.5 447.7 L1209.5 447.8 L1213.5 448.0 L1217.5 448.1 L1221.5 448.3 L1225.5 448.5 L1229.5 448.7 L1233.5 448.9 L1237.5 449.0 L1241.5 449.2 L1245.5 449.4 L1249.5 449.6 L1253.5 449.8 L1257.5 450.1 L1261.5 450.3 L1265.5 450.5 L1269.5 450.7 L1273.5 451.0 L1277.5 451.2 L1281.5 451.4 L1285.5 451.7 L1289.5 452.0 L1293.5 452.4 L1297.5 452.8 L1301.5 453.2 L1305.5 453.6 L1309.5 454.0" fill="none" stroke="#a03008" stroke-width="3.6" stroke-dasharray="12.9 5.7" />
<path d="M673.5 380.7 L677.5 381.1 L681.5 381.5 L685.5 382.0 L689.5 382.4 L693.5 383.0 L697.5 383.5 L701.5 384.1 L705.5 384.6 L709.5 385.2 L713.5 385.8 L717.5 386.4 L721.5 387.0 L725.5 387.6 L729.5 388.2 L733.5 388.8 L737.5 389.3 L741.5 389.9 L745.5 390.5 L749.5 391.1 L753.5 391.6 L757.5 392.2 L761.5 392.8 L765.5 393.4 L769.5 394.0 L773.5 394.6 L777.5 395.1 L781.5 395.7 L785.5 396.3 L789.5 396.9 L793.5 397.5 L797.5 398.0 L801.5 398.6 L805.5 399.1 L809.5 399.7 L813.5 400.2 L817.5 400.7 L821.5 401.3 L825.5 401.8 L829.5 402.3 L833.5 402.7 L837.5 403.2 L841.5 403.7 L845.5 404.2 L849.5 404.6 L853.5 405.1 L857.5 405.5 L861.5 406.0 L865.5 406.4 L869.5 406.8 L873.5 407.3 L877.5 407.7 L881.5 408.1 L885.5 408.5 L889.5 408.9 L893.5 409.3 L897.5 409.7 L901.5 410.1 L905.5 410.5 L909.5 410.9 L913.5 411.2 L917.5 411.6 L921.5 412.0 L925.5 412.3 L929.5 412.7 L933.5 413.1 L937.5 413.4 L941.5 413.8 L945.5 414.1 L949.5 414.4 L953.5 414.8 L957.5 415.1 L961.5 415.4 L965.5 415.8 L969.5 416.1 L973.5 416.4 L977.5 416.7 L981.5 417.0 L985.5 417.4 L989.5 417.7 L993.5 418.0 L997.5 418.3 L1001.5 418.6 L1005.5 418.9 L1009.5 419.2 L1013.5 419.5 L1017.5 419.8 L1021.5 420.1 L1025.5 420.4 L1029.5 420.7 L1033.5 420.9 L1037.5 421.2 L1041.5 421.5 L1045.5 421.8 L1049.5 422.1 L1053.5 422.4 L1057.5 422.7 L1061.5 423.0 L1065.5 423.3 L1069.5 423.5 L1073.5 423.8 L1077.5 424.1 L1081.5 424.4 L1085.5 424.7 L1089.5 425.0 L1093.5 425.3 L1097.5 425.5 L1101.5 425.8 L1105.5 426.1 L1109.5 426.4 L1113.5 426.7 L1117.5 427.0 L1121.5 427.3 L1125.5 427.6 L1129.5 427.9 L1133.5 428.1 L1137.5 428.4 L1141.5 428.7 L1145.5 429.0 L1149.5 429.3 L1153.5 429.6 L1157.5 429.9 L1161.5 430.1 L1165.5 430.4 L1169.5 430.7 L1173.5 431.0 L1177.5 431.3 L1181.5 431.6 L1185.5 431.9 L1189.5 432.1 L1193.5 432.4 L1197.5 432.7 L1201.5 433.0 L1205.5 433.3 L1209.5 433.5 L1213.5 433.8 L1217.5 434.1 L1221.5 434.4 L1225.5 434.7 L1229.5 434.9 L1233.5 435.2 L1237.5 435.5 L1241.5 435.8 L1245.5 436.0 L1249.5 436.3 L1253.5 436.6 L1257.5 436.8 L1261.5 437.1 L1265.5 437.4 L1269.5 437.6 L1273.5 437.9 L1277.5 438.2 L1281.5 438.4 L1285.5 438.7 L1289.5 439.0 L1293.5 439.2 L1297.5 439.5 L1301.5 439.7 L1305.5 440.0 L1309.5 440.2" fill="none" stroke="#9e9a08" stroke-width="3.6" stroke-dasharray="12.9 5.7" />
<path d="M143.5 476.4 L150.8 476.4 L158.2 476.4 L165.5 476.4 L172.8 476.4 L180.2 476.4 L187.5 476.4 L194.8 476.3 L202.2 476.1 L209.5 475.9 L216.8 475.5 L224.2 474.6 L231.5 473.3 L238.8 471.7 L246.2 469.8 L253.5 467.8 L260.8 465.4 L268.2 462.3 L275.5 458.5 L282.8 453.4 L290.2 446.6 L297.5 437.2 L304.8 425.0 L312.2 411.5 L319.5 395.7 L326.8 379.5 L334.2 363.5 L341.5 350.2 L348.8 341.2 L356.2 335.9 L363.5 333.8 L370.8 334.1 L378.2 336.6 L385.5 340.0 L392.8 346.1 L400.2 353.8 L407.5 361.3 L414.8 368.9 L422.2 376.7 L429.5 383.4 L436.8 388.9 L444.2 393.8 L451.5 397.6 L458.8 399.9 L466.2 401.6 L473.5 402.9 L480.8 403.9 L488.2 404.8 L495.5 405.6 L502.8 406.2 L510.2 406.9 L517.5 407.5 L524.8 408.2 L532.2 408.8 L539.5 409.4 L546.8 409.9 L554.2 410.5 L561.5 411.0 L568.8 411.6 L576.2 412.1 L583.5 412.5 L590.8 413.0 L598.2 413.5 L605.5 413.9 L612.8 414.4 L620.2 414.9 L627.5 415.5 L634.8 416.1 L642.2 416.7 L649.5 417.4 L656.8 418.2 L664.2 419.1 L671.5 420.0 L678.8 420.9 L686.2 421.8 L693.5 422.7 L700.8 423.6 L708.2 424.2 L715.5 425.1 L722.8 426.0 L730.2 426.0 L737.5 424.8 L744.8 422.5 L752.2 419.8 L759.5 418.0 L766.8 416.8 L774.2 415.9 L781.5 415.9 L788.8 416.4 L796.2 417.1 L803.5 417.9 L810.8 418.6 L818.2 419.4 L825.5 420.2 L832.8 421.1 L840.2 422.0 L847.5 422.8 L854.8 423.6 L862.2 424.2 L869.5 424.8 L876.8 425.4 L884.2 426.0 L891.5 426.5 L898.8 427.0 L906.2 427.5 L913.5 428.0 L920.8 428.5 L928.2 429.0 L935.5 429.4 L942.8 429.9 L950.2 430.3 L957.5 430.8 L964.8 431.2 L972.2 431.7 L979.5 432.1 L986.8 432.6 L994.2 433.0 L1001.5 433.5 L1008.8 433.9 L1016.2 434.4 L1023.5 434.8 L1030.8 435.2 L1038.2 435.7 L1045.5 436.1 L1052.8 436.5 L1060.2 437.0 L1067.5 437.4 L1074.8 437.8 L1082.2 438.2 L1089.5 438.6 L1096.8 439.0 L1104.2 439.3 L1111.5 439.7 L1118.8 440.1 L1126.2 440.4 L1133.5 440.8 L1140.8 441.2 L1148.2 441.5 L1155.5 441.9 L1162.8 442.2 L1170.2 442.6 L1177.5 442.9 L1184.8 443.2 L1192.2 443.6 L1199.5 443.9 L1206.8 444.2 L1214.2 444.6 L1221.5 444.9 L1228.8 445.2 L1236.2 445.5 L1243.5 445.8 L1250.8 446.1 L1258.2 446.4 L1265.5 446.8 L1272.8 447.1 L1280.2 447.4 L1287.5 447.7 L1294.8 447.9 L1302.2 448.2 L1309.5 448.5" fill="none" stroke="#a03008" stroke-width="3.6" />
<path d="M143.5 476.4 L150.8 476.4 L158.2 476.4 L165.5 476.4 L172.8 476.4 L180.2 476.4 L187.5 476.4 L194.8 476.3 L202.2 476.1 L209.5 475.9 L216.8 475.5 L224.2 474.6 L231.5 473.3 L238.8 471.7 L246.2 469.8 L253.5 467.8 L260.8 465.4 L268.2 462.3 L275.5 458.5 L282.8 453.0 L290.2 445.5 L297.5 435.3 L304.8 421.7 L312.2 405.5 L319.5 384.1 L326.8 362.7 L334.2 344.0 L341.5 328.3 L348.8 315.9 L356.2 307.8 L363.5 303.3 L370.8 300.1 L378.2 299.0 L385.5 300.6 L392.8 303.8 L400.2 307.2 L407.5 311.3 L414.8 315.7 L422.2 320.0 L429.5 324.5 L436.8 329.0 L444.2 332.9 L451.5 336.5 L458.8 339.8 L466.2 342.9 L473.5 345.8 L480.8 348.5 L488.2 351.1 L495.5 353.5 L502.8 355.8 L510.2 357.7 L517.5 359.2 L524.8 360.4 L532.2 361.4 L539.5 362.4 L546.8 363.5 L554.2 364.6 L561.5 365.8 L568.8 366.9 L576.2 368.1 L583.5 369.2 L590.8 370.4 L598.2 371.5 L605.5 372.5 L612.8 373.5 L620.2 374.5 L627.5 375.4 L634.8 376.3 L642.2 377.2 L649.5 378.0 L656.8 378.9 L664.2 379.7 L671.5 380.5 L678.8 381.0 L686.2 382.0 L693.5 384.5 L700.8 388.6 L708.2 394.7 L715.5 402.1 L722.8 410.8 L730.2 420.1 L737.5 430.4 L744.8 439.0 L752.2 446.5 L759.5 451.4 L766.8 454.6 L774.2 455.7 L781.5 455.2 L788.8 454.5 L796.2 453.6 L803.5 452.8 L810.8 452.7 L818.2 452.8 L825.5 453.0 L832.8 453.3 L840.2 453.6 L847.5 453.8 L854.8 454.1 L862.2 454.3 L869.5 454.5 L876.8 454.7 L884.2 454.9 L891.5 455.1 L898.8 455.4 L906.2 455.6 L913.5 455.8 L920.8 456.1 L928.2 456.4 L935.5 456.6 L942.8 456.9 L950.2 457.1 L957.5 457.3 L964.8 457.5 L972.2 457.7 L979.5 457.9 L986.8 458.0 L994.2 458.2 L1001.5 458.3 L1008.8 458.4 L1016.2 458.6 L1023.5 458.7 L1030.8 458.8 L1038.2 458.9 L1045.5 459.1 L1052.8 459.2 L1060.2 459.3 L1067.5 459.4 L1074.8 459.6 L1082.2 459.7 L1089.5 459.9 L1096.8 460.0 L1104.2 460.2 L1111.5 460.3 L1118.8 460.5 L1126.2 460.6 L1133.5 460.8 L1140.8 460.9 L1148.2 461.1 L1155.5 461.3 L1162.8 461.4 L1170.2 461.6 L1177.5 461.8 L1184.8 461.9 L1192.2 462.1 L1199.5 462.3 L1206.8 462.4 L1214.2 462.6 L1221.5 462.8 L1228.8 463.0 L1236.2 463.1 L1243.5 463.3 L1250.8 463.5 L1258.2 463.7 L1265.5 463.9 L1272.8 464.0 L1280.2 464.2 L1287.5 464.4 L1294.8 464.6 L1302.2 464.8 L1309.5 465.0" fill="none" stroke="#9e9a08" stroke-width="3.6" />
<line x1="170" y1="290.5" x2="170" y2="485.5" stroke="#4e8a5a" stroke-width="2.2" stroke-dasharray="9.3 5.2" stroke-dashoffset="13"/>
<line x1="355.5" y1="290.5" x2="355.5" y2="485.5" stroke="#4e8a5a" stroke-width="2.2" stroke-dasharray="9.3 5.2" stroke-dashoffset="13"/>
<line x1="541" y1="290.5" x2="541" y2="485.5" stroke="#4e8a5a" stroke-width="2.2" stroke-dasharray="9.3 5.2" stroke-dashoffset="13"/>
<line x1="726.5" y1="290.5" x2="726.5" y2="485.5" stroke="#4e8a5a" stroke-width="2.2" stroke-dasharray="9.3 5.2" stroke-dashoffset="13"/>
<line x1="912" y1="290.5" x2="912" y2="485.5" stroke="#4e8a5a" stroke-width="2.2" stroke-dasharray="9.3 5.2" stroke-dashoffset="13"/>
<line x1="1097.5" y1="290.5" x2="1097.5" y2="485.5" stroke="#4e8a5a" stroke-width="2.2" stroke-dasharray="9.3 5.2" stroke-dashoffset="13"/>
<line x1="1283" y1="290.5" x2="1283" y2="485.5" stroke="#4e8a5a" stroke-width="2.2" stroke-dasharray="9.3 5.2" stroke-dashoffset="13"/>
</g>
<rect x="143.5" y="290.5" width="1166" height="195" fill="none" stroke="#717171" stroke-width="1" />
<rect x="1417.5" y="290.5" width="106" height="195" fill="none" stroke="#717171" stroke-width="1" />
<line x1="1291.5" y1="503.5" x2="1327.5" y2="467.5" stroke="#444" stroke-width="0.95" />
<line x1="1399.5" y1="308.5" x2="1435.5" y2="272.5" stroke="#444" stroke-width="0.95" />
<line x1="1399.5" y1="503.5" x2="1435.5" y2="467.5" stroke="#444" stroke-width="0.95" />
<line x1="140.3" y1="281.59" x2="143.5" y2="281.59" stroke="#717171" stroke-width="1.1" />
<text x="131" y="289.89" font-size="23.5" text-anchor="end">0</text>
<line x1="140.3" y1="237.05" x2="143.5" y2="237.05" stroke="#717171" stroke-width="1.1" />
<text x="131" y="245.35" font-size="23.5" text-anchor="end">0.25</text>
<line x1="140.3" y1="192.5" x2="143.5" y2="192.5" stroke="#717171" stroke-width="1.1" />
<text x="131" y="200.8" font-size="23.5" text-anchor="end">0.50</text>
<line x1="140.3" y1="147.95" x2="143.5" y2="147.95" stroke="#717171" stroke-width="1.1" />
<text x="131" y="156.25" font-size="23.5" text-anchor="end">0.75</text>
<line x1="140.3" y1="103.41" x2="143.5" y2="103.41" stroke="#717171" stroke-width="1.1" />
<text x="131" y="111.71" font-size="23.5" text-anchor="end">1.00</text>
<line x1="140.3" y1="476.4" x2="143.5" y2="476.4" stroke="#717171" stroke-width="1.1" />
<text x="131" y="484.7" font-size="23.5" text-anchor="end">0</text>
<line x1="140.3" y1="419.9" x2="143.5" y2="419.9" stroke="#717171" stroke-width="1.1" />
<text x="131" y="428.2" font-size="23.5" text-anchor="end">0.05</text>
<line x1="140.3" y1="363.39" x2="143.5" y2="363.39" stroke="#717171" stroke-width="1.1" />
<text x="131" y="371.69" font-size="23.5" text-anchor="end">0.10</text>
<line x1="140.3" y1="306.89" x2="143.5" y2="306.89" stroke="#717171" stroke-width="1.1" />
<text x="131" y="315.19" font-size="23.5" text-anchor="end">0.15</text>
<line x1="1523.5" y1="114.5" x2="1527" y2="114.5" stroke="#717171" stroke-width="1.1" />
<text x="1538" y="122.7" font-size="23.5">4</text>
<line x1="1523.5" y1="153.5" x2="1527" y2="153.5" stroke="#717171" stroke-width="1.1" />
<text x="1538" y="161.7" font-size="23.5">2</text>
<line x1="1523.5" y1="192.5" x2="1527" y2="192.5" stroke="#717171" stroke-width="1.1" />
<text x="1538" y="200.7" font-size="23.5">0</text>
<line x1="1523.5" y1="231.5" x2="1527" y2="231.5" stroke="#717171" stroke-width="1.1" />
<text x="1538" y="239.7" font-size="23.5" textLength="23" lengthAdjust="spacingAndGlyphs">–2</text>
<line x1="1523.5" y1="270.5" x2="1527" y2="270.5" stroke="#717171" stroke-width="1.1" />
<text x="1538" y="278.7" font-size="23.5" textLength="23" lengthAdjust="spacingAndGlyphs">–4</text>
<line x1="1523.5" y1="310" x2="1527" y2="310" stroke="#717171" stroke-width="1.1" />
<text x="1538" y="318.2" font-size="23.5">4</text>
<line x1="1523.5" y1="349" x2="1527" y2="349" stroke="#717171" stroke-width="1.1" />
<text x="1538" y="357.2" font-size="23.5">2</text>
<line x1="1523.5" y1="388" x2="1527" y2="388" stroke="#717171" stroke-width="1.1" />
<text x="1538" y="396.2" font-size="23.5">0</text>
<line x1="1523.5" y1="427" x2="1527" y2="427" stroke="#717171" stroke-width="1.1" />
<text x="1538" y="435.2" font-size="23.5" textLength="23" lengthAdjust="spacingAndGlyphs">–2</text>
<line x1="1523.5" y1="466" x2="1527" y2="466" stroke="#717171" stroke-width="1.1" />
<text x="1538" y="474.2" font-size="23.5" textLength="23" lengthAdjust="spacingAndGlyphs">–4</text>
<text x="170" y="83" font-size="23.5" text-anchor="middle" textLength="45" lengthAdjust="spacingAndGlyphs">–175</text>
<text x="355.5" y="83" font-size="23.5" text-anchor="middle">0</text>
<text x="541" y="83" font-size="23.5" text-anchor="middle">175</text>
<text x="726.5" y="83" font-size="23.5" text-anchor="middle">350</text>
<text x="912" y="83" font-size="23.5" text-anchor="middle">525</text>
<text x="1097.5" y="83" font-size="23.5" text-anchor="middle">700</text>
<text x="1283" y="83" font-size="23.5" text-anchor="middle">875</text>
<text x="1467.6" y="79.4" font-size="23.5" text-anchor="middle">2,700</text>
<text x="1534.8" y="87.3" font-size="23.5">(×10<tspan font-size="15" dy="-11">7</tspan><tspan dy="11">)</tspan></text>
<text x="772.5" y="50" font-size="28">Time (fs)</text>
<text x="1579" y="288.5" font-size="28.8" text-anchor="middle" transform="rotate(90 1579 288.5)">Electric field (V m<tspan font-size="17" dy="-11">–1</tspan><tspan dy="11">)</tspan></text>
<text x="63.4" y="177.6" font-size="28.8" text-anchor="middle" transform="rotate(-90 63.4 177.6)">Population</text>
<text x="63.4" y="388.7" font-size="28.8" text-anchor="middle" transform="rotate(-90 63.4 388.7)">Coherence</text>
<text stroke="#000" stroke-width="1.2" x="1.5" y="33.5" font-size="38" font-weight="bold">a</text>
<text x="9" y="81.6" font-size="23.5">i</text>
<text x="4" y="316.5" font-size="23.5">ii</text>
<text x="0" y="537.5" font-size="23.5">iii</text>
<rect x="153.5" y="1087.5" width="428" height="198" fill="#fff" />
<rect x="684.5" y="1087.5" width="856" height="198" fill="#fff" />
<path d="M153.5 1096.5 L156.2 1096.5 L158.9 1096.5 L161.6 1096.5 L164.3 1096.5 L167.0 1096.5 L169.7 1096.5 L172.3 1096.5 L175.0 1096.5 L177.7 1096.5 L180.4 1096.5 L183.1 1096.5 L185.8 1096.5 L188.5 1096.5 L191.2 1096.5 L193.9 1096.5 L196.6 1096.5 L199.3 1096.5 L202.0 1096.5 L204.6 1096.5 L207.3 1096.6 L210.0 1096.6 L212.7 1096.6 L215.4 1096.6 L218.1 1096.6 L220.8 1096.6 L223.5 1096.7 L226.2 1096.7 L228.9 1096.8 L231.6 1096.8 L234.3 1096.9 L236.9 1097.0 L239.6 1097.0 L242.3 1097.2 L245.0 1097.3 L247.7 1097.4 L250.4 1097.6 L253.1 1097.8 L255.8 1098.0 L258.5 1098.2 L261.2 1098.5 L263.9 1098.8 L266.6 1099.2 L269.2 1099.6 L271.9 1100.0 L274.6 1100.5 L277.3 1101.1 L280.0 1101.7 L282.7 1102.4 L285.4 1103.1 L288.1 1104.0 L290.8 1104.9 L293.5 1105.9 L296.2 1106.9 L298.9 1108.1 L301.6 1109.4 L304.2 1110.7 L306.9 1112.2 L309.6 1113.7 L312.3 1115.4 L315.0 1117.1 L317.7 1119.0 L320.4 1120.9 L323.1 1122.9 L325.8 1125.1 L328.5 1127.3 L331.2 1129.6 L333.9 1131.9 L336.5 1134.4 L339.2 1136.9 L341.9 1139.5 L344.6 1142.1 L347.3 1144.7 L350.0 1147.4 L352.7 1150.1 L355.4 1152.8 L358.1 1155.5 L360.8 1158.2 L363.5 1160.9 L366.2 1163.6 L368.8 1166.2 L371.5 1168.8 L374.2 1171.3 L376.9 1173.8 L379.6 1176.2 L382.3 1178.6 L385.0 1180.8 L387.7 1183.0 L390.4 1185.0 L393.1 1187.0 L395.8 1188.9 L398.5 1190.7 L401.1 1192.4 L403.8 1194.0 L406.5 1195.5 L409.2 1196.8 L411.9 1198.1 L414.6 1199.4 L417.3 1200.5 L420.0 1201.5 L422.7 1202.4 L425.4 1203.3 L428.1 1204.1 L430.8 1204.8 L433.4 1205.4 L436.1 1206.0 L438.8 1206.6 L441.5 1207.0 L444.2 1207.4 L446.9 1207.8 L449.6 1208.1 L452.3 1208.4 L455.0 1208.7 L457.7 1208.9 L460.4 1209.1 L463.1 1209.3 L465.8 1209.4 L468.4 1209.5 L471.1 1209.6 L473.8 1209.7 L476.5 1209.8 L479.2 1209.8 L481.9 1209.9 L484.6 1209.9 L487.3 1210.0 L490.0 1210.0 L492.7 1210.0 L495.4 1210.0 L498.1 1210.1 L500.7 1210.1 L503.4 1210.1 L506.1 1210.1 L508.8 1210.1 L511.5 1210.1 L514.2 1210.1 L516.9 1210.1 L519.6 1210.1 L522.3 1210.1 L525.0 1210.1 L527.7 1210.1 L530.4 1210.0 L533.0 1210.0 L535.7 1210.0 L538.4 1210.0 L541.1 1210.0 L543.8 1210.0 L546.5 1210.0 L549.2 1210.0 L551.9 1210.0 L554.6 1210.0 L557.3 1210.0 L560.0 1210.0 L562.7 1210.0 L565.3 1210.0 L568.0 1210.0 L570.7 1209.9 L573.4 1209.9 L576.1 1209.9 L578.8 1209.9 L581.5 1209.9" fill="none" stroke="#de2d20" stroke-width="3.6" />
<path d="M153.5 1276.5 L156.2 1276.5 L158.9 1276.5 L161.6 1276.5 L164.3 1276.5 L167.0 1276.5 L169.7 1276.5 L172.3 1276.5 L175.0 1276.5 L177.7 1276.5 L180.4 1276.5 L183.1 1276.5 L185.8 1276.5 L188.5 1276.5 L191.2 1276.5 L193.9 1276.5 L196.6 1276.5 L199.3 1276.5 L202.0 1276.5 L204.6 1276.5 L207.3 1276.4 L210.0 1276.4 L212.7 1276.4 L215.4 1276.4 L218.1 1276.4 L220.8 1276.4 L223.5 1276.3 L226.2 1276.3 L228.9 1276.2 L231.6 1276.2 L234.3 1276.1 L236.9 1276.0 L239.6 1276.0 L242.3 1275.8 L245.0 1275.7 L247.7 1275.6 L250.4 1275.4 L253.1 1275.2 L255.8 1275.0 L258.5 1274.8 L261.2 1274.5 L263.9 1274.2 L266.6 1273.8 L269.2 1273.4 L271.9 1273.0 L274.6 1272.5 L277.3 1271.9 L280.0 1271.3 L282.7 1270.6 L285.4 1269.9 L288.1 1269.0 L290.8 1268.1 L293.5 1267.1 L296.2 1266.1 L298.9 1264.9 L301.6 1263.6 L304.2 1262.3 L306.9 1260.8 L309.6 1259.3 L312.3 1257.6 L315.0 1255.9 L317.7 1254.0 L320.4 1252.1 L323.1 1250.1 L325.8 1247.9 L328.5 1245.7 L331.2 1243.4 L333.9 1241.1 L336.5 1238.6 L339.2 1236.1 L341.9 1233.5 L344.6 1230.9 L347.3 1228.3 L350.0 1225.6 L352.7 1222.9 L355.4 1220.2 L358.1 1217.5 L360.8 1214.8 L363.5 1212.1 L366.2 1209.4 L368.8 1206.8 L371.5 1204.2 L374.2 1201.7 L376.9 1199.2 L379.6 1196.8 L382.3 1194.4 L385.0 1192.2 L387.7 1190.0 L390.4 1188.0 L393.1 1186.0 L395.8 1184.1 L398.5 1182.3 L401.1 1180.6 L403.8 1179.0 L406.5 1177.5 L409.2 1176.2 L411.9 1174.9 L414.6 1173.6 L417.3 1172.5 L420.0 1171.5 L422.7 1170.6 L425.4 1169.7 L428.1 1168.9 L430.8 1168.2 L433.4 1167.6 L436.1 1167.0 L438.8 1166.4 L441.5 1166.0 L444.2 1165.6 L446.9 1165.2 L449.6 1164.9 L452.3 1164.6 L455.0 1164.3 L457.7 1164.1 L460.4 1163.9 L463.1 1163.7 L465.8 1163.6 L468.4 1163.5 L471.1 1163.4 L473.8 1163.3 L476.5 1163.2 L479.2 1163.2 L481.9 1163.1 L484.6 1163.1 L487.3 1163.0 L490.0 1163.0 L492.7 1163.0 L495.4 1163.0 L498.1 1162.9 L500.7 1162.9 L503.4 1162.9 L506.1 1162.9 L508.8 1162.9 L511.5 1162.9 L514.2 1162.9 L516.9 1162.9 L519.6 1162.9 L522.3 1162.9 L525.0 1162.9 L527.7 1162.9 L530.4 1163.0 L533.0 1163.0 L535.7 1163.0 L538.4 1163.0 L541.1 1163.0 L543.8 1163.0 L546.5 1163.0 L549.2 1163.0 L551.9 1163.0 L554.6 1163.0 L557.3 1163.0 L560.0 1163.0 L562.7 1163.0 L565.3 1163.0 L568.0 1163.0 L570.7 1163.1 L573.4 1163.1 L576.1 1163.1 L578.8 1163.1 L581.5 1163.1" fill="none" stroke="#f4a11c" stroke-width="3.6" />
<path d="M684.5 1201.3 L689.9 1201.2 L695.3 1201.2 L700.7 1201.2 L706.0 1201.2 L711.4 1201.2 L716.8 1201.2 L722.2 1201.1 L727.6 1201.1 L733.0 1201.1 L738.3 1201.1 L743.7 1201.1 L749.1 1201.1 L754.5 1201.0 L759.9 1201.0 L765.3 1201.0 L770.6 1201.0 L776.0 1201.0 L781.4 1201.0 L786.8 1200.9 L792.2 1200.9 L797.6 1200.9 L802.9 1200.9 L808.3 1200.9 L813.7 1200.9 L819.1 1200.8 L824.5 1200.8 L829.9 1200.8 L835.2 1200.8 L840.6 1200.8 L846.0 1200.8 L851.4 1200.7 L856.8 1200.7 L862.2 1200.7 L867.5 1200.7 L872.9 1200.7 L878.3 1200.6 L883.7 1200.6 L889.1 1200.6 L894.5 1200.6 L899.8 1200.6 L905.2 1200.6 L910.6 1200.5 L916.0 1200.5 L921.4 1200.5 L926.8 1200.5 L932.1 1200.5 L937.5 1200.5 L942.9 1200.4 L948.3 1200.4 L953.7 1200.4 L959.1 1200.4 L964.4 1200.4 L969.8 1200.4 L975.2 1200.3 L980.6 1200.3 L986.0 1200.3 L991.4 1200.3 L996.8 1200.3 L1002.1 1200.3 L1007.5 1200.2 L1012.9 1200.2 L1018.3 1200.2 L1023.7 1200.2 L1029.1 1200.2 L1034.4 1200.2 L1039.8 1200.1 L1045.2 1200.1 L1050.6 1200.1 L1056.0 1200.1 L1061.4 1200.1 L1066.7 1200.1 L1072.1 1200.0 L1077.5 1200.0 L1082.9 1200.0 L1088.3 1200.0 L1093.7 1200.0 L1099.0 1200.0 L1104.4 1199.9 L1109.8 1199.9 L1115.2 1199.9 L1120.6 1199.9 L1126.0 1199.9 L1131.3 1199.9 L1136.7 1199.8 L1142.1 1199.8 L1147.5 1199.8 L1152.9 1199.8 L1158.3 1199.8 L1163.6 1199.7 L1169.0 1199.7 L1174.4 1199.7 L1179.8 1199.7 L1185.2 1199.7 L1190.6 1199.7 L1195.9 1199.6 L1201.3 1199.6 L1206.7 1199.6 L1212.1 1199.6 L1217.5 1199.6 L1222.9 1199.6 L1228.2 1199.5 L1233.6 1199.5 L1239.0 1199.5 L1244.4 1199.5 L1249.8 1199.5 L1255.2 1199.5 L1260.6 1199.4 L1265.9 1199.4 L1271.3 1199.4 L1276.7 1199.4 L1282.1 1199.4 L1287.5 1199.4 L1292.9 1199.3 L1298.2 1199.3 L1303.6 1199.3 L1309.0 1199.3 L1314.4 1199.3 L1319.8 1199.3 L1325.2 1199.2 L1330.5 1199.2 L1335.9 1199.2 L1341.3 1199.2 L1346.7 1199.2 L1352.1 1199.2 L1357.5 1199.1 L1362.8 1199.1 L1368.2 1199.1 L1373.6 1199.1 L1379.0 1199.1 L1384.4 1199.1 L1389.8 1199.0 L1395.1 1199.0 L1400.5 1199.0 L1405.9 1199.0 L1411.3 1199.0 L1416.7 1199.0 L1422.1 1198.9 L1427.4 1198.9 L1432.8 1198.9 L1438.2 1198.9 L1443.6 1198.9 L1449.0 1198.8 L1454.4 1198.8 L1459.7 1198.8 L1465.1 1198.8 L1470.5 1198.8 L1475.9 1198.8 L1481.3 1198.7 L1486.7 1198.7 L1492.0 1198.7 L1497.4 1198.7 L1502.8 1198.7 L1508.2 1198.7 L1513.6 1198.6 L1519.0 1198.6 L1524.3 1198.6 L1529.7 1198.6 L1535.1 1198.6 L1540.5 1198.6" fill="none" stroke="#de2d20" stroke-width="3.6" stroke-dasharray="12.9 5.7" />
<path d="M684.5 1172.8 L689.9 1172.8 L695.3 1172.9 L700.7 1172.9 L706.0 1172.9 L711.4 1172.9 L716.8 1172.9 L722.2 1173.0 L727.6 1173.0 L733.0 1173.0 L738.3 1173.0 L743.7 1173.0 L749.1 1173.1 L754.5 1173.1 L759.9 1173.1 L765.3 1173.1 L770.6 1173.1 L776.0 1173.1 L781.4 1173.2 L786.8 1173.2 L792.2 1173.2 L797.6 1173.2 L802.9 1173.2 L808.3 1173.3 L813.7 1173.3 L819.1 1173.3 L824.5 1173.3 L829.9 1173.3 L835.2 1173.4 L840.6 1173.4 L846.0 1173.4 L851.4 1173.4 L856.8 1173.4 L862.2 1173.5 L867.5 1173.5 L872.9 1173.5 L878.3 1173.5 L883.7 1173.5 L889.1 1173.6 L894.5 1173.6 L899.8 1173.6 L905.2 1173.6 L910.6 1173.6 L916.0 1173.6 L921.4 1173.7 L926.8 1173.7 L932.1 1173.7 L937.5 1173.7 L942.9 1173.7 L948.3 1173.8 L953.7 1173.8 L959.1 1173.8 L964.4 1173.8 L969.8 1173.8 L975.2 1173.9 L980.6 1173.9 L986.0 1173.9 L991.4 1173.9 L996.8 1173.9 L1002.1 1174.0 L1007.5 1174.0 L1012.9 1174.0 L1018.3 1174.0 L1023.7 1174.0 L1029.1 1174.1 L1034.4 1174.1 L1039.8 1174.1 L1045.2 1174.1 L1050.6 1174.1 L1056.0 1174.1 L1061.4 1174.2 L1066.7 1174.2 L1072.1 1174.2 L1077.5 1174.2 L1082.9 1174.2 L1088.3 1174.3 L1093.7 1174.3 L1099.0 1174.3 L1104.4 1174.3 L1109.8 1174.3 L1115.2 1174.4 L1120.6 1174.4 L1126.0 1174.4 L1131.3 1174.4 L1136.7 1174.4 L1142.1 1174.5 L1147.5 1174.5 L1152.9 1174.5 L1158.3 1174.5 L1163.6 1174.5 L1169.0 1174.6 L1174.4 1174.6 L1179.8 1174.6 L1185.2 1174.6 L1190.6 1174.6 L1195.9 1174.6 L1201.3 1174.7 L1206.7 1174.7 L1212.1 1174.7 L1217.5 1174.7 L1222.9 1174.7 L1228.2 1174.8 L1233.6 1174.8 L1239.0 1174.8 L1244.4 1174.8 L1249.8 1174.8 L1255.2 1174.9 L1260.6 1174.9 L1265.9 1174.9 L1271.3 1174.9 L1276.7 1174.9 L1282.1 1175.0 L1287.5 1175.0 L1292.9 1175.0 L1298.2 1175.0 L1303.6 1175.0 L1309.0 1175.1 L1314.4 1175.1 L1319.8 1175.1 L1325.2 1175.1 L1330.5 1175.1 L1335.9 1175.1 L1341.3 1175.2 L1346.7 1175.2 L1352.1 1175.2 L1357.5 1175.2 L1362.8 1175.2 L1368.2 1175.3 L1373.6 1175.3 L1379.0 1175.3 L1384.4 1175.3 L1389.8 1175.3 L1395.1 1175.4 L1400.5 1175.4 L1405.9 1175.4 L1411.3 1175.4 L1416.7 1175.4 L1422.1 1175.5 L1427.4 1175.5 L1432.8 1175.5 L1438.2 1175.5 L1443.6 1175.5 L1449.0 1175.6 L1454.4 1175.6 L1459.7 1175.6 L1465.1 1175.6 L1470.5 1175.6 L1475.9 1175.6 L1481.3 1175.7 L1486.7 1175.7 L1492.0 1175.7 L1497.4 1175.7 L1502.8 1175.7 L1508.2 1175.8 L1513.6 1175.8 L1519.0 1175.8 L1524.3 1175.8 L1529.7 1175.8 L1535.1 1175.9 L1540.5 1175.9" fill="none" stroke="#f4a11c" stroke-width="3.6" stroke-dasharray="12.9 5.7" />
<path d="M684.5 1174.6 L689.9 1175.5 L695.3 1176.4 L700.7 1177.4 L706.0 1178.3 L711.4 1179.3 L716.8 1180.4 L722.2 1181.5 L727.6 1182.7 L733.0 1183.8 L738.3 1184.8 L743.7 1185.7 L749.1 1186.6 L754.5 1187.4 L759.9 1188.1 L765.3 1188.7 L770.6 1189.2 L776.0 1189.7 L781.4 1190.2 L786.8 1190.6 L792.2 1191.0 L797.6 1191.3 L802.9 1191.6 L808.3 1191.8 L813.7 1192.1 L819.1 1192.3 L824.5 1192.5 L829.9 1192.7 L835.2 1192.8 L840.6 1192.9 L846.0 1193.0 L851.4 1193.0 L856.8 1193.1 L862.2 1193.1 L867.5 1193.2 L872.9 1193.2 L878.3 1193.2 L883.7 1193.2 L889.1 1193.3 L894.5 1193.3 L899.8 1193.3 L905.2 1193.4 L910.6 1193.4 L916.0 1193.5 L921.4 1193.5 L926.8 1193.5 L932.1 1193.6 L937.5 1193.6 L942.9 1193.7 L948.3 1193.7 L953.7 1193.8 L959.1 1193.8 L964.4 1193.9 L969.8 1193.9 L975.2 1194.0 L980.6 1194.0 L986.0 1194.1 L991.4 1194.1 L996.8 1194.1 L1002.1 1194.2 L1007.5 1194.2 L1012.9 1194.3 L1018.3 1194.3 L1023.7 1194.4 L1029.1 1194.4 L1034.4 1194.4 L1039.8 1194.5 L1045.2 1194.5 L1050.6 1194.5 L1056.0 1194.6 L1061.4 1194.6 L1066.7 1194.6 L1072.1 1194.7 L1077.5 1194.7 L1082.9 1194.7 L1088.3 1194.8 L1093.7 1194.8 L1099.0 1194.8 L1104.4 1194.9 L1109.8 1194.9 L1115.2 1194.9 L1120.6 1194.9 L1126.0 1195.0 L1131.3 1195.0 L1136.7 1195.0 L1142.1 1195.1 L1147.5 1195.1 L1152.9 1195.1 L1158.3 1195.2 L1163.6 1195.2 L1169.0 1195.2 L1174.4 1195.2 L1179.8 1195.3 L1185.2 1195.3 L1190.6 1195.3 L1195.9 1195.4 L1201.3 1195.4 L1206.7 1195.4 L1212.1 1195.4 L1217.5 1195.5 L1222.9 1195.5 L1228.2 1195.5 L1233.6 1195.5 L1239.0 1195.6 L1244.4 1195.6 L1249.8 1195.6 L1255.2 1195.7 L1260.6 1195.7 L1265.9 1195.7 L1271.3 1195.7 L1276.7 1195.8 L1282.1 1195.8 L1287.5 1195.8 L1292.9 1195.8 L1298.2 1195.9 L1303.6 1195.9 L1309.0 1195.9 L1314.4 1195.9 L1319.8 1195.9 L1325.2 1196.0 L1330.5 1196.0 L1335.9 1196.0 L1341.3 1196.0 L1346.7 1196.1 L1352.1 1196.1 L1357.5 1196.1 L1362.8 1196.1 L1368.2 1196.1 L1373.6 1196.2 L1379.0 1196.2 L1384.4 1196.2 L1389.8 1196.2 L1395.1 1196.2 L1400.5 1196.3 L1405.9 1196.3 L1411.3 1196.3 L1416.7 1196.3 L1422.1 1196.3 L1427.4 1196.3 L1432.8 1196.4 L1438.2 1196.4 L1443.6 1196.4 L1449.0 1196.4 L1454.4 1196.4 L1459.7 1196.4 L1465.1 1196.4 L1470.5 1196.5 L1475.9 1196.5 L1481.3 1196.5 L1486.7 1196.5 L1492.0 1196.5 L1497.4 1196.5 L1502.8 1196.5 L1508.2 1196.5 L1513.6 1196.5 L1519.0 1196.5 L1524.3 1196.6 L1529.7 1196.6 L1535.1 1196.6 L1540.5 1196.6" fill="none" stroke="#f4a11c" stroke-width="3.6" />
<path d="M684.5 1198.6 L689.9 1197.6 L695.3 1196.7 L700.7 1195.7 L706.0 1194.7 L711.4 1193.7 L716.8 1192.6 L722.2 1191.4 L727.6 1190.3 L733.0 1189.2 L738.3 1188.2 L743.7 1187.4 L749.1 1186.6 L754.5 1185.8 L759.9 1185.2 L765.3 1184.7 L770.6 1184.2 L776.0 1183.9 L781.4 1183.5 L786.8 1183.2 L792.2 1182.9 L797.6 1182.7 L802.9 1182.5 L808.3 1182.3 L813.7 1182.2 L819.1 1182.0 L824.5 1181.9 L829.9 1181.7 L835.2 1181.6 L840.6 1181.5 L846.0 1181.4 L851.4 1181.3 L856.8 1181.2 L862.2 1181.1 L867.5 1181.1 L872.9 1181.0 L878.3 1180.9 L883.7 1180.8 L889.1 1180.8 L894.5 1180.7 L899.8 1180.6 L905.2 1180.6 L910.6 1180.5 L916.0 1180.5 L921.4 1180.4 L926.8 1180.4 L932.1 1180.3 L937.5 1180.3 L942.9 1180.3 L948.3 1180.2 L953.7 1180.2 L959.1 1180.2 L964.4 1180.1 L969.8 1180.1 L975.2 1180.1 L980.6 1180.0 L986.0 1180.0 L991.4 1180.0 L996.8 1179.9 L1002.1 1179.9 L1007.5 1179.9 L1012.9 1179.9 L1018.3 1179.8 L1023.7 1179.8 L1029.1 1179.8 L1034.4 1179.8 L1039.8 1179.8 L1045.2 1179.7 L1050.6 1179.7 L1056.0 1179.7 L1061.4 1179.7 L1066.7 1179.7 L1072.1 1179.6 L1077.5 1179.6 L1082.9 1179.6 L1088.3 1179.6 L1093.7 1179.6 L1099.0 1179.5 L1104.4 1179.5 L1109.8 1179.5 L1115.2 1179.5 L1120.6 1179.5 L1126.0 1179.4 L1131.3 1179.4 L1136.7 1179.4 L1142.1 1179.4 L1147.5 1179.4 L1152.9 1179.3 L1158.3 1179.3 L1163.6 1179.3 L1169.0 1179.3 L1174.4 1179.3 L1179.8 1179.2 L1185.2 1179.2 L1190.6 1179.2 L1195.9 1179.2 L1201.3 1179.2 L1206.7 1179.1 L1212.1 1179.1 L1217.5 1179.1 L1222.9 1179.1 L1228.2 1179.1 L1233.6 1179.0 L1239.0 1179.0 L1244.4 1179.0 L1249.8 1179.0 L1255.2 1179.0 L1260.6 1179.0 L1265.9 1178.9 L1271.3 1178.9 L1276.7 1178.9 L1282.1 1178.9 L1287.5 1178.9 L1292.9 1178.8 L1298.2 1178.8 L1303.6 1178.8 L1309.0 1178.8 L1314.4 1178.8 L1319.8 1178.7 L1325.2 1178.7 L1330.5 1178.7 L1335.9 1178.7 L1341.3 1178.7 L1346.7 1178.6 L1352.1 1178.6 L1357.5 1178.6 L1362.8 1178.6 L1368.2 1178.6 L1373.6 1178.6 L1379.0 1178.5 L1384.4 1178.5 L1389.8 1178.5 L1395.1 1178.5 L1400.5 1178.5 L1405.9 1178.5 L1411.3 1178.4 L1416.7 1178.4 L1422.1 1178.4 L1427.4 1178.4 L1432.8 1178.4 L1438.2 1178.3 L1443.6 1178.3 L1449.0 1178.3 L1454.4 1178.3 L1459.7 1178.3 L1465.1 1178.3 L1470.5 1178.2 L1475.9 1178.2 L1481.3 1178.2 L1486.7 1178.2 L1492.0 1178.2 L1497.4 1178.2 L1502.8 1178.1 L1508.2 1178.1 L1513.6 1178.1 L1519.0 1178.1 L1524.3 1178.1 L1529.7 1178.1 L1535.1 1178.1 L1540.5 1178.0" fill="none" stroke="#de2d20" stroke-width="3.6" />
<line x1="180.25" y1="1087.5" x2="180.25" y2="1285.5" stroke="#7a7a7a" stroke-width="2.2" stroke-dasharray="9.3 5.2" stroke-dashoffset="10.7"/>
<line x1="367.5" y1="1087.5" x2="367.5" y2="1285.5" stroke="#7a7a7a" stroke-width="2.2" stroke-dasharray="9.3 5.2" stroke-dashoffset="10.7"/>
<line x1="554.75" y1="1087.5" x2="554.75" y2="1285.5" stroke="#7a7a7a" stroke-width="2.2" stroke-dasharray="9.3 5.2" stroke-dashoffset="10.7"/>
<line x1="738" y1="1087.5" x2="738" y2="1285.5" stroke="#7a7a7a" stroke-width="2.2" stroke-dasharray="9.3 5.2" stroke-dashoffset="10.7"/>
<line x1="925.25" y1="1087.5" x2="925.25" y2="1285.5" stroke="#7a7a7a" stroke-width="2.2" stroke-dasharray="9.3 5.2" stroke-dashoffset="10.7"/>
<line x1="1112.5" y1="1087.5" x2="1112.5" y2="1285.5" stroke="#7a7a7a" stroke-width="2.2" stroke-dasharray="9.3 5.2" stroke-dashoffset="10.7"/>
<line x1="1299.75" y1="1087.5" x2="1299.75" y2="1285.5" stroke="#7a7a7a" stroke-width="2.2" stroke-dasharray="9.3 5.2" stroke-dashoffset="10.7"/>
<line x1="1487" y1="1087.5" x2="1487" y2="1285.5" stroke="#7a7a7a" stroke-width="2.2" stroke-dasharray="9.3 5.2" stroke-dashoffset="10.7"/>
<path d="M191.7 1183.2 L193.5 1183.1 L195.3 1182.9 L197.1 1182.7 L198.9 1182.5 L200.7 1182.4 L202.5 1182.2 L204.3 1181.9 L206.1 1181.7 L207.9 1181.5 L209.7 1181.2 L211.5 1180.9 L213.4 1180.6 L215.2 1180.3 L217.0 1180.0 L218.8 1179.6 L220.6 1179.3 L222.4 1178.9 L224.2 1178.5 L226.0 1178.0 L227.8 1177.6 L229.6 1177.1 L231.4 1176.6 L233.2 1176.1 L235.0 1175.5 L236.8 1175.0 L238.6 1174.3 L240.4 1173.7 L242.2 1173.1 L244.0 1172.4 L245.8 1171.6 L247.6 1170.9 L249.4 1170.1 L251.2 1169.3 L253.1 1168.5 L254.9 1167.6 L256.7 1166.7 L258.5 1165.8 L260.3 1164.8 L262.1 1163.8 L263.9 1162.8 L265.7 1161.7 L267.5 1160.6 L269.3 1159.5 L271.1 1158.3 L272.9 1157.2 L274.7 1155.9 L276.5 1154.7 L278.3 1153.4 L280.1 1152.1 L281.9 1150.8 L283.7 1149.5 L285.5 1148.1 L287.3 1146.7 L289.1 1145.3 L290.9 1143.8 L292.8 1142.4 L294.6 1140.9 L296.4 1139.4 L298.2 1137.9 L300.0 1136.4 L301.8 1134.9 L303.6 1133.4 L305.4 1131.8 L307.2 1130.3 L309.0 1128.8 L310.8 1127.2 L312.6 1125.7 L314.4 1124.2 L316.2 1122.7 L318.0 1121.2 L319.8 1119.7 L321.6 1118.2 L323.4 1116.8 L325.2 1115.4 L327.0 1114.0 L328.8 1112.6 L330.6 1111.3 L332.4 1110.0 L334.3 1108.8 L336.1 1107.6 L337.9 1106.4 L339.7 1105.3 L341.5 1104.2 L343.3 1103.1 L345.1 1102.2 L346.9 1101.3 L348.7 1100.4 L350.5 1099.6 L352.3 1098.8 L354.1 1098.2 L355.9 1097.5 L357.7 1097.0 L359.5 1096.5 L361.3 1096.1 L363.1 1095.7 L364.9 1095.4 L366.7 1095.2 L368.5 1095.1 L370.3 1095.0 L372.1 1095.0 L374.0 1095.1 L375.8 1095.2 L377.6 1095.4 L379.4 1095.7 L381.2 1096.1 L383.0 1096.5 L384.8 1097.0 L386.6 1097.5 L388.4 1098.2 L390.2 1098.8 L392.0 1099.6 L393.8 1100.4 L395.6 1101.3 L397.4 1102.2 L399.2 1103.1 L401.0 1104.2 L402.8 1105.3 L404.6 1106.4 L406.4 1107.6 L408.2 1108.8 L410.0 1110.0 L411.8 1111.3 L413.7 1112.6 L415.5 1114.0 L417.3 1115.4 L419.1 1116.8 L420.9 1118.2 L422.7 1119.7 L424.5 1121.2 L426.3 1122.7 L428.1 1124.2 L429.9 1125.7 L431.7 1127.2 L433.5 1128.8 L435.3 1130.3 L437.1 1131.8 L438.9 1133.4 L440.7 1134.9 L442.5 1136.4 L444.3 1137.9 L446.1 1139.4 L447.9 1140.9 L449.7 1142.4 L451.5 1143.8 L453.3 1145.3 L455.2 1146.7 L457.0 1148.1 L458.8 1149.5 L460.6 1150.8 L462.4 1152.1 L464.2 1153.4 L466.0 1154.7 L467.8 1155.9 L469.6 1157.2 L471.4 1158.3 L473.2 1159.5 L475.0 1160.6 L476.8 1161.7 L478.6 1162.8 L480.4 1163.8 L482.2 1164.8 L484.0 1165.8 L485.8 1166.7 L487.6 1167.6 L489.4 1168.5 L491.2 1169.3 L493.0 1170.1 L494.9 1170.9 L496.7 1171.6 L498.5 1172.4 L500.3 1173.1 L502.1 1173.7 L503.9 1174.3 L505.7 1175.0 L507.5 1175.5 L509.3 1176.1 L511.1 1176.6 L512.9 1177.1 L514.7 1177.6 L516.5 1178.0 L518.3 1178.5 L520.1 1178.9 L521.9 1179.3 L523.7 1179.6 L525.5 1180.0 L527.3 1180.3 L529.1 1180.6 L530.9 1180.9 L532.7 1181.2 L534.6 1181.5 L536.4 1181.7 L538.2 1181.9 L540.0 1182.2 L541.8 1182.4 L543.6 1182.5 L545.4 1182.7 L547.2 1182.9 L549.0 1183.1 L550.8 1183.2 L550.8 1183.2 L551.9 1183.4 L553.0 1183.8 L553.8 1184.6 L554.4 1185.5 L554.8 1186.6 L554.8 1187.8 L554.4 1188.9 L553.8 1189.8 L553.0 1190.6 L551.9 1191.0 L550.8 1191.2 L550.8 1191.2 L549.0 1191.3 L547.2 1191.5 L545.4 1191.7 L543.6 1191.9 L541.8 1192.0 L540.0 1192.2 L538.2 1192.5 L536.4 1192.7 L534.6 1192.9 L532.7 1193.2 L530.9 1193.5 L529.1 1193.8 L527.3 1194.1 L525.5 1194.4 L523.7 1194.8 L521.9 1195.1 L520.1 1195.5 L518.3 1195.9 L516.5 1196.4 L514.7 1196.8 L512.9 1197.3 L511.1 1197.8 L509.3 1198.3 L507.5 1198.9 L505.7 1199.4 L503.9 1200.1 L502.1 1200.7 L500.3 1201.3 L498.5 1202.0 L496.7 1202.8 L494.9 1203.5 L493.0 1204.3 L491.2 1205.1 L489.4 1205.9 L487.6 1206.8 L485.8 1207.7 L484.0 1208.6 L482.2 1209.6 L480.4 1210.6 L478.6 1211.6 L476.8 1212.7 L475.0 1213.8 L473.2 1214.9 L471.4 1216.1 L469.6 1217.2 L467.8 1218.5 L466.0 1219.7 L464.2 1221.0 L462.4 1222.3 L460.6 1223.6 L458.8 1224.9 L457.0 1226.3 L455.2 1227.7 L453.3 1229.1 L451.5 1230.6 L449.7 1232.0 L447.9 1233.5 L446.1 1235.0 L444.3 1236.5 L442.5 1238.0 L440.7 1239.5 L438.9 1241.0 L437.1 1242.6 L435.3 1244.1 L433.5 1245.6 L431.7 1247.2 L429.9 1248.7 L428.1 1250.2 L426.3 1251.7 L424.5 1253.2 L422.7 1254.7 L420.9 1256.2 L419.1 1257.6 L417.3 1259.0 L415.5 1260.4 L413.7 1261.8 L411.8 1263.1 L410.0 1264.4 L408.2 1265.6 L406.4 1266.8 L404.6 1268.0 L402.8 1269.1 L401.0 1270.2 L399.2 1271.3 L397.4 1272.2 L395.6 1273.1 L393.8 1274.0 L392.0 1274.8 L390.2 1275.6 L388.4 1276.2 L386.6 1276.9 L384.8 1277.4 L383.0 1277.9 L381.2 1278.3 L379.4 1278.7 L377.6 1279.0 L375.8 1279.2 L374.0 1279.3 L372.1 1279.4 L370.3 1279.4 L368.5 1279.3 L366.7 1279.2 L364.9 1279.0 L363.1 1278.7 L361.3 1278.3 L359.5 1277.9 L357.7 1277.4 L355.9 1276.9 L354.1 1276.2 L352.3 1275.6 L350.5 1274.8 L348.7 1274.0 L346.9 1273.1 L345.1 1272.2 L343.3 1271.3 L341.5 1270.2 L339.7 1269.1 L337.9 1268.0 L336.1 1266.8 L334.3 1265.6 L332.4 1264.4 L330.6 1263.1 L328.8 1261.8 L327.0 1260.4 L325.2 1259.0 L323.4 1257.6 L321.6 1256.2 L319.8 1254.7 L318.0 1253.2 L316.2 1251.7 L314.4 1250.2 L312.6 1248.7 L310.8 1247.2 L309.0 1245.6 L307.2 1244.1 L305.4 1242.6 L303.6 1241.0 L301.8 1239.5 L300.0 1238.0 L298.2 1236.5 L296.4 1235.0 L294.6 1233.5 L292.8 1232.0 L290.9 1230.6 L289.1 1229.1 L287.3 1227.7 L285.5 1226.3 L283.7 1224.9 L281.9 1223.6 L280.1 1222.3 L278.3 1221.0 L276.5 1219.7 L274.7 1218.5 L272.9 1217.2 L271.1 1216.1 L269.3 1214.9 L267.5 1213.8 L265.7 1212.7 L263.9 1211.6 L262.1 1210.6 L260.3 1209.6 L258.5 1208.6 L256.7 1207.7 L254.9 1206.8 L253.1 1205.9 L251.2 1205.1 L249.4 1204.3 L247.6 1203.5 L245.8 1202.8 L244.0 1202.0 L242.2 1201.3 L240.4 1200.7 L238.6 1200.1 L236.8 1199.4 L235.0 1198.9 L233.2 1198.3 L231.4 1197.8 L229.6 1197.3 L227.8 1196.8 L226.0 1196.4 L224.2 1195.9 L222.4 1195.5 L220.6 1195.1 L218.8 1194.8 L217.0 1194.4 L215.2 1194.1 L213.4 1193.8 L211.5 1193.5 L209.7 1193.2 L207.9 1192.9 L206.1 1192.7 L204.3 1192.5 L202.5 1192.2 L200.7 1192.0 L198.9 1191.9 L197.1 1191.7 L195.3 1191.5 L193.5 1191.3 L191.7 1191.2 L191.7 1191.2 L190.6 1191.0 L189.5 1190.6 L188.7 1189.8 L188.1 1188.9 L187.7 1187.8 L187.7 1186.6 L188.1 1185.5 L188.7 1184.6 L189.5 1183.8 L190.6 1183.4 L191.7 1183.2 Z" fill="#9292d4" clip-path="url(#c9)"/>
<g clip-path="url(#c10)">
<path d="M153.5 1096.5 L156.2 1096.5 L158.9 1096.5 L161.6 1096.5 L164.3 1096.5 L167.0 1096.5 L169.7 1096.5 L172.3 1096.5 L175.0 1096.5 L177.7 1096.5 L180.4 1096.5 L183.1 1096.5 L185.8 1096.5 L188.5 1096.5 L191.2 1096.5 L193.9 1096.5 L196.6 1096.5 L199.3 1096.5 L202.0 1096.5 L204.6 1096.5 L207.3 1096.6 L210.0 1096.6 L212.7 1096.6 L215.4 1096.6 L218.1 1096.6 L220.8 1096.6 L223.5 1096.7 L226.2 1096.7 L228.9 1096.8 L231.6 1096.8 L234.3 1096.9 L236.9 1097.0 L239.6 1097.0 L242.3 1097.2 L245.0 1097.3 L247.7 1097.4 L250.4 1097.6 L253.1 1097.8 L255.8 1098.0 L258.5 1098.2 L261.2 1098.5 L263.9 1098.8 L266.6 1099.2 L269.2 1099.6 L271.9 1100.0 L274.6 1100.5 L277.3 1101.1 L280.0 1101.7 L282.7 1102.4 L285.4 1103.1 L288.1 1104.0 L290.8 1104.9 L293.5 1105.9 L296.2 1106.9 L298.9 1108.1 L301.6 1109.4 L304.2 1110.7 L306.9 1112.2 L309.6 1113.7 L312.3 1115.4 L315.0 1117.1 L317.7 1119.0 L320.4 1120.9 L323.1 1122.9 L325.8 1125.1 L328.5 1127.3 L331.2 1129.6 L333.9 1131.9 L336.5 1134.4 L339.2 1136.9 L341.9 1139.5 L344.6 1142.1 L347.3 1144.7 L350.0 1147.4 L352.7 1150.1 L355.4 1152.8 L358.1 1155.5 L360.8 1158.2 L363.5 1160.9 L366.2 1163.6 L368.8 1166.2 L371.5 1168.8 L374.2 1171.3 L376.9 1173.8 L379.6 1176.2 L382.3 1178.6 L385.0 1180.8 L387.7 1183.0 L390.4 1185.0 L393.1 1187.0 L395.8 1188.9 L398.5 1190.7 L401.1 1192.4 L403.8 1194.0 L406.5 1195.5 L409.2 1196.8 L411.9 1198.1 L414.6 1199.4 L417.3 1200.5 L420.0 1201.5 L422.7 1202.4 L425.4 1203.3 L428.1 1204.1 L430.8 1204.8 L433.4 1205.4 L436.1 1206.0 L438.8 1206.6 L441.5 1207.0 L444.2 1207.4 L446.9 1207.8 L449.6 1208.1 L452.3 1208.4 L455.0 1208.7 L457.7 1208.9 L460.4 1209.1 L463.1 1209.3 L465.8 1209.4 L468.4 1209.5 L471.1 1209.6 L473.8 1209.7 L476.5 1209.8 L479.2 1209.8 L481.9 1209.9 L484.6 1209.9 L487.3 1210.0 L490.0 1210.0 L492.7 1210.0 L495.4 1210.0 L498.1 1210.1 L500.7 1210.1 L503.4 1210.1 L506.1 1210.1 L508.8 1210.1 L511.5 1210.1 L514.2 1210.1 L516.9 1210.1 L519.6 1210.1 L522.3 1210.1 L525.0 1210.1 L527.7 1210.1 L530.4 1210.0 L533.0 1210.0 L535.7 1210.0 L538.4 1210.0 L541.1 1210.0 L543.8 1210.0 L546.5 1210.0 L549.2 1210.0 L551.9 1210.0 L554.6 1210.0 L557.3 1210.0 L560.0 1210.0 L562.7 1210.0 L565.3 1210.0 L568.0 1210.0 L570.7 1209.9 L573.4 1209.9 L576.1 1209.9 L578.8 1209.9 L581.5 1209.9" fill="none" stroke="#a00068" stroke-width="3.6" />
<path d="M153.5 1276.5 L156.2 1276.5 L158.9 1276.5 L161.6 1276.5 L164.3 1276.5 L167.0 1276.5 L169.7 1276.5 L172.3 1276.5 L175.0 1276.5 L177.7 1276.5 L180.4 1276.5 L183.1 1276.5 L185.8 1276.5 L188.5 1276.5 L191.2 1276.5 L193.9 1276.5 L196.6 1276.5 L199.3 1276.5 L202.0 1276.5 L204.6 1276.5 L207.3 1276.4 L210.0 1276.4 L212.7 1276.4 L215.4 1276.4 L218.1 1276.4 L220.8 1276.4 L223.5 1276.3 L226.2 1276.3 L228.9 1276.2 L231.6 1276.2 L234.3 1276.1 L236.9 1276.0 L239.6 1276.0 L242.3 1275.8 L245.0 1275.7 L247.7 1275.6 L250.4 1275.4 L253.1 1275.2 L255.8 1275.0 L258.5 1274.8 L261.2 1274.5 L263.9 1274.2 L266.6 1273.8 L269.2 1273.4 L271.9 1273.0 L274.6 1272.5 L277.3 1271.9 L280.0 1271.3 L282.7 1270.6 L285.4 1269.9 L288.1 1269.0 L290.8 1268.1 L293.5 1267.1 L296.2 1266.1 L298.9 1264.9 L301.6 1263.6 L304.2 1262.3 L306.9 1260.8 L309.6 1259.3 L312.3 1257.6 L315.0 1255.9 L317.7 1254.0 L320.4 1252.1 L323.1 1250.1 L325.8 1247.9 L328.5 1245.7 L331.2 1243.4 L333.9 1241.1 L336.5 1238.6 L339.2 1236.1 L341.9 1233.5 L344.6 1230.9 L347.3 1228.3 L350.0 1225.6 L352.7 1222.9 L355.4 1220.2 L358.1 1217.5 L360.8 1214.8 L363.5 1212.1 L366.2 1209.4 L368.8 1206.8 L371.5 1204.2 L374.2 1201.7 L376.9 1199.2 L379.6 1196.8 L382.3 1194.4 L385.0 1192.2 L387.7 1190.0 L390.4 1188.0 L393.1 1186.0 L395.8 1184.1 L398.5 1182.3 L401.1 1180.6 L403.8 1179.0 L406.5 1177.5 L409.2 1176.2 L411.9 1174.9 L414.6 1173.6 L417.3 1172.5 L420.0 1171.5 L422.7 1170.6 L425.4 1169.7 L428.1 1168.9 L430.8 1168.2 L433.4 1167.6 L436.1 1167.0 L438.8 1166.4 L441.5 1166.0 L444.2 1165.6 L446.9 1165.2 L449.6 1164.9 L452.3 1164.6 L455.0 1164.3 L457.7 1164.1 L460.4 1163.9 L463.1 1163.7 L465.8 1163.6 L468.4 1163.5 L471.1 1163.4 L473.8 1163.3 L476.5 1163.2 L479.2 1163.2 L481.9 1163.1 L484.6 1163.1 L487.3 1163.0 L490.0 1163.0 L492.7 1163.0 L495.4 1163.0 L498.1 1162.9 L500.7 1162.9 L503.4 1162.9 L506.1 1162.9 L508.8 1162.9 L511.5 1162.9 L514.2 1162.9 L516.9 1162.9 L519.6 1162.9 L522.3 1162.9 L525.0 1162.9 L527.7 1162.9 L530.4 1163.0 L533.0 1163.0 L535.7 1163.0 L538.4 1163.0 L541.1 1163.0 L543.8 1163.0 L546.5 1163.0 L549.2 1163.0 L551.9 1163.0 L554.6 1163.0 L557.3 1163.0 L560.0 1163.0 L562.7 1163.0 L565.3 1163.0 L568.0 1163.0 L570.7 1163.1 L573.4 1163.1 L576.1 1163.1 L578.8 1163.1 L581.5 1163.1" fill="none" stroke="#9a6464" stroke-width="3.6" />
<line x1="180.25" y1="1087.5" x2="180.25" y2="1285.5" stroke="#4b4bae" stroke-width="2.2" stroke-dasharray="9.3 5.2" stroke-dashoffset="10.7"/>
<line x1="367.5" y1="1087.5" x2="367.5" y2="1285.5" stroke="#4b4bae" stroke-width="2.2" stroke-dasharray="9.3 5.2" stroke-dashoffset="10.7"/>
<line x1="554.75" y1="1087.5" x2="554.75" y2="1285.5" stroke="#4b4bae" stroke-width="2.2" stroke-dasharray="9.3 5.2" stroke-dashoffset="10.7"/>
</g>
<path d="M631.0 1162.6 L632.4 1161.7 L633.8 1160.9 L635.3 1160.0 L636.7 1159.1 L638.1 1158.2 L639.5 1157.3 L640.9 1156.3 L642.4 1155.3 L643.8 1154.3 L645.2 1153.3 L646.6 1152.3 L648.0 1151.3 L649.5 1150.2 L650.9 1149.2 L652.3 1148.1 L653.7 1147.0 L655.1 1145.9 L656.6 1144.8 L658.0 1143.6 L659.4 1142.5 L660.8 1141.3 L662.2 1140.1 L663.6 1139.0 L665.1 1137.8 L666.5 1136.6 L667.9 1135.4 L669.3 1134.2 L670.7 1133.0 L672.2 1131.8 L673.6 1130.6 L675.0 1129.4 L676.4 1128.2 L677.8 1127.0 L679.3 1125.8 L680.7 1124.6 L682.1 1123.4 L683.5 1122.2 L684.9 1121.0 L686.4 1119.9 L687.8 1118.7 L689.2 1117.6 L690.6 1116.5 L692.0 1115.3 L693.5 1114.3 L694.9 1113.2 L696.3 1112.1 L697.7 1111.1 L699.1 1110.1 L700.6 1109.1 L702.0 1108.1 L703.4 1107.2 L704.8 1106.3 L706.2 1105.4 L707.7 1104.5 L709.1 1103.7 L710.5 1102.9 L711.9 1102.1 L713.3 1101.4 L714.8 1100.7 L716.2 1100.1 L717.6 1099.4 L719.0 1098.9 L720.4 1098.3 L721.8 1097.8 L723.3 1097.3 L724.7 1096.9 L726.1 1096.5 L727.5 1096.2 L728.9 1095.9 L730.4 1095.6 L731.8 1095.4 L733.2 1095.3 L734.6 1095.1 L736.0 1095.0 L737.5 1095.0 L738.9 1095.0 L740.3 1095.1 L741.7 1095.2 L743.1 1095.3 L744.6 1095.5 L746.0 1095.7 L747.4 1096.0 L748.8 1096.3 L750.2 1096.6 L751.7 1097.0 L753.1 1097.4 L754.5 1097.9 L755.9 1098.4 L757.3 1099.0 L758.8 1099.6 L760.2 1100.2 L761.6 1100.9 L763.0 1101.6 L764.4 1102.3 L765.9 1103.1 L767.3 1103.9 L768.7 1104.7 L770.1 1105.6 L771.5 1106.5 L772.9 1107.4 L774.4 1108.3 L775.8 1109.3 L777.2 1110.3 L778.6 1111.3 L780.0 1112.4 L781.5 1113.4 L782.9 1114.5 L784.3 1115.6 L785.7 1116.7 L787.1 1117.9 L788.6 1119.0 L790.0 1120.2 L791.4 1121.3 L792.8 1122.5 L794.2 1123.7 L795.7 1124.9 L797.1 1126.1 L798.5 1127.3 L799.9 1128.5 L801.3 1129.7 L802.8 1130.9 L804.2 1132.1 L805.6 1133.3 L807.0 1134.5 L808.4 1135.7 L809.9 1136.9 L811.3 1138.1 L812.7 1139.3 L814.1 1140.4 L815.5 1141.6 L817.0 1142.8 L818.4 1143.9 L819.8 1145.0 L821.2 1146.1 L822.6 1147.3 L824.1 1148.3 L825.5 1149.4 L826.9 1150.5 L828.3 1151.5 L829.7 1152.6 L831.1 1153.6 L832.6 1154.6 L834.0 1155.6 L835.4 1156.5 L836.8 1157.5 L838.2 1158.4 L839.7 1159.3 L841.1 1160.2 L842.5 1161.1 L843.9 1161.9 L845.3 1162.8 L846.8 1163.6 L848.2 1164.4 L849.6 1165.1 L851.0 1165.9 L852.4 1166.6 L853.9 1167.3 L855.3 1168.0 L856.7 1168.7 L858.1 1169.4 L859.5 1170.0 L861.0 1170.6 L862.4 1171.2 L863.8 1171.8 L865.2 1172.4 L866.6 1172.9 L868.1 1173.4 L869.5 1173.9 L870.9 1174.4 L872.3 1174.9 L873.7 1175.4 L875.2 1175.8 L876.6 1176.2 L878.0 1176.6 L879.4 1177.0 L880.8 1177.4 L882.3 1177.8 L883.7 1178.1 L885.1 1178.5 L886.5 1178.8 L887.9 1179.1 L889.3 1179.4 L890.8 1179.7 L892.2 1180.0 L893.6 1180.2 L895.0 1180.5 L896.4 1180.7 L897.9 1180.9 L899.3 1181.2 L900.7 1181.4 L902.1 1181.6 L903.5 1181.8 L905.0 1181.9 L906.4 1182.1 L907.8 1182.3 L909.2 1182.4 L910.6 1182.6 L912.1 1182.7 L913.5 1182.9 L913.5 1182.9 L914.7 1183.0 L915.8 1183.5 L916.8 1184.4 L917.4 1185.4 L917.8 1186.6 L917.8 1187.8 L917.4 1189.0 L916.8 1190.0 L915.8 1190.9 L914.7 1191.4 L913.5 1191.5 L913.5 1191.5 L912.1 1191.7 L910.6 1191.8 L909.2 1192.0 L907.8 1192.1 L906.4 1192.3 L905.0 1192.5 L903.5 1192.6 L902.1 1192.8 L900.7 1193.0 L899.3 1193.2 L897.9 1193.5 L896.4 1193.7 L895.0 1193.9 L893.6 1194.2 L892.2 1194.4 L890.8 1194.7 L889.3 1195.0 L887.9 1195.3 L886.5 1195.6 L885.1 1195.9 L883.7 1196.3 L882.3 1196.6 L880.8 1197.0 L879.4 1197.4 L878.0 1197.8 L876.6 1198.2 L875.2 1198.6 L873.7 1199.0 L872.3 1199.5 L870.9 1200.0 L869.5 1200.5 L868.1 1201.0 L866.6 1201.5 L865.2 1202.0 L863.8 1202.6 L862.4 1203.2 L861.0 1203.8 L859.5 1204.4 L858.1 1205.0 L856.7 1205.7 L855.3 1206.4 L853.9 1207.1 L852.4 1207.8 L851.0 1208.5 L849.6 1209.3 L848.2 1210.0 L846.8 1210.8 L845.3 1211.6 L843.9 1212.5 L842.5 1213.3 L841.1 1214.2 L839.7 1215.1 L838.2 1216.0 L836.8 1216.9 L835.4 1217.9 L834.0 1218.8 L832.6 1219.8 L831.1 1220.8 L829.7 1221.8 L828.3 1222.9 L826.9 1223.9 L825.5 1225.0 L824.1 1226.1 L822.6 1227.1 L821.2 1228.3 L819.8 1229.4 L818.4 1230.5 L817.0 1231.6 L815.5 1232.8 L814.1 1234.0 L812.7 1235.1 L811.3 1236.3 L809.9 1237.5 L808.4 1238.7 L807.0 1239.9 L805.6 1241.1 L804.2 1242.3 L802.8 1243.5 L801.3 1244.7 L799.9 1245.9 L798.5 1247.1 L797.1 1248.3 L795.7 1249.5 L794.2 1250.7 L792.8 1251.9 L791.4 1253.1 L790.0 1254.2 L788.6 1255.4 L787.1 1256.5 L785.7 1257.7 L784.3 1258.8 L782.9 1259.9 L781.5 1261.0 L780.0 1262.0 L778.6 1263.1 L777.2 1264.1 L775.8 1265.1 L774.4 1266.1 L772.9 1267.0 L771.5 1267.9 L770.1 1268.8 L768.7 1269.7 L767.3 1270.5 L765.9 1271.3 L764.4 1272.1 L763.0 1272.8 L761.6 1273.5 L760.2 1274.2 L758.8 1274.8 L757.3 1275.4 L755.9 1276.0 L754.5 1276.5 L753.1 1277.0 L751.7 1277.4 L750.2 1277.8 L748.8 1278.1 L747.4 1278.4 L746.0 1278.7 L744.6 1278.9 L743.1 1279.1 L741.7 1279.2 L740.3 1279.3 L738.9 1279.4 L737.5 1279.4 L736.0 1279.4 L734.6 1279.3 L733.2 1279.1 L731.8 1279.0 L730.4 1278.8 L728.9 1278.5 L727.5 1278.2 L726.1 1277.9 L724.7 1277.5 L723.3 1277.1 L721.8 1276.6 L720.4 1276.1 L719.0 1275.5 L717.6 1275.0 L716.2 1274.3 L714.8 1273.7 L713.3 1273.0 L711.9 1272.3 L710.5 1271.5 L709.1 1270.7 L707.7 1269.9 L706.2 1269.0 L704.8 1268.1 L703.4 1267.2 L702.0 1266.3 L700.6 1265.3 L699.1 1264.3 L697.7 1263.3 L696.3 1262.3 L694.9 1261.2 L693.5 1260.1 L692.0 1259.1 L690.6 1257.9 L689.2 1256.8 L687.8 1255.7 L686.4 1254.5 L684.9 1253.4 L683.5 1252.2 L682.1 1251.0 L680.7 1249.8 L679.3 1248.6 L677.8 1247.4 L676.4 1246.2 L675.0 1245.0 L673.6 1243.8 L672.2 1242.6 L670.7 1241.4 L669.3 1240.2 L667.9 1239.0 L666.5 1237.8 L665.1 1236.6 L663.6 1235.4 L662.2 1234.3 L660.8 1233.1 L659.4 1231.9 L658.0 1230.8 L656.6 1229.6 L655.1 1228.5 L653.7 1227.4 L652.3 1226.3 L650.9 1225.2 L649.5 1224.2 L648.0 1223.1 L646.6 1222.1 L645.2 1221.1 L643.8 1220.1 L642.4 1219.1 L640.9 1218.1 L639.5 1217.1 L638.1 1216.2 L636.7 1215.3 L635.3 1214.4 L633.8 1213.5 L632.4 1212.7 L631.0 1211.8 L631.0 1211.8 L624.1 1210.8 L617.7 1207.9 L612.4 1203.3 L608.6 1197.4 L606.6 1190.7 L606.6 1183.7 L608.6 1177.0 L612.4 1171.1 L617.7 1166.5 L624.1 1163.6 L631.0 1162.6 Z" fill="#9cd39a" clip-path="url(#c11)"/>
<g clip-path="url(#c12)">
<path d="M684.5 1201.3 L689.9 1201.2 L695.3 1201.2 L700.7 1201.2 L706.0 1201.2 L711.4 1201.2 L716.8 1201.2 L722.2 1201.1 L727.6 1201.1 L733.0 1201.1 L738.3 1201.1 L743.7 1201.1 L749.1 1201.1 L754.5 1201.0 L759.9 1201.0 L765.3 1201.0 L770.6 1201.0 L776.0 1201.0 L781.4 1201.0 L786.8 1200.9 L792.2 1200.9 L797.6 1200.9 L802.9 1200.9 L808.3 1200.9 L813.7 1200.9 L819.1 1200.8 L824.5 1200.8 L829.9 1200.8 L835.2 1200.8 L840.6 1200.8 L846.0 1200.8 L851.4 1200.7 L856.8 1200.7 L862.2 1200.7 L867.5 1200.7 L872.9 1200.7 L878.3 1200.6 L883.7 1200.6 L889.1 1200.6 L894.5 1200.6 L899.8 1200.6 L905.2 1200.6 L910.6 1200.5 L916.0 1200.5 L921.4 1200.5 L926.8 1200.5 L932.1 1200.5 L937.5 1200.5 L942.9 1200.4 L948.3 1200.4 L953.7 1200.4 L959.1 1200.4 L964.4 1200.4 L969.8 1200.4 L975.2 1200.3 L980.6 1200.3 L986.0 1200.3 L991.4 1200.3 L996.8 1200.3 L1002.1 1200.3 L1007.5 1200.2 L1012.9 1200.2 L1018.3 1200.2 L1023.7 1200.2 L1029.1 1200.2 L1034.4 1200.2 L1039.8 1200.1 L1045.2 1200.1 L1050.6 1200.1 L1056.0 1200.1 L1061.4 1200.1 L1066.7 1200.1 L1072.1 1200.0 L1077.5 1200.0 L1082.9 1200.0 L1088.3 1200.0 L1093.7 1200.0 L1099.0 1200.0 L1104.4 1199.9 L1109.8 1199.9 L1115.2 1199.9 L1120.6 1199.9 L1126.0 1199.9 L1131.3 1199.9 L1136.7 1199.8 L1142.1 1199.8 L1147.5 1199.8 L1152.9 1199.8 L1158.3 1199.8 L1163.6 1199.7 L1169.0 1199.7 L1174.4 1199.7 L1179.8 1199.7 L1185.2 1199.7 L1190.6 1199.7 L1195.9 1199.6 L1201.3 1199.6 L1206.7 1199.6 L1212.1 1199.6 L1217.5 1199.6 L1222.9 1199.6 L1228.2 1199.5 L1233.6 1199.5 L1239.0 1199.5 L1244.4 1199.5 L1249.8 1199.5 L1255.2 1199.5 L1260.6 1199.4 L1265.9 1199.4 L1271.3 1199.4 L1276.7 1199.4 L1282.1 1199.4 L1287.5 1199.4 L1292.9 1199.3 L1298.2 1199.3 L1303.6 1199.3 L1309.0 1199.3 L1314.4 1199.3 L1319.8 1199.3 L1325.2 1199.2 L1330.5 1199.2 L1335.9 1199.2 L1341.3 1199.2 L1346.7 1199.2 L1352.1 1199.2 L1357.5 1199.1 L1362.8 1199.1 L1368.2 1199.1 L1373.6 1199.1 L1379.0 1199.1 L1384.4 1199.1 L1389.8 1199.0 L1395.1 1199.0 L1400.5 1199.0 L1405.9 1199.0 L1411.3 1199.0 L1416.7 1199.0 L1422.1 1198.9 L1427.4 1198.9 L1432.8 1198.9 L1438.2 1198.9 L1443.6 1198.9 L1449.0 1198.8 L1454.4 1198.8 L1459.7 1198.8 L1465.1 1198.8 L1470.5 1198.8 L1475.9 1198.8 L1481.3 1198.7 L1486.7 1198.7 L1492.0 1198.7 L1497.4 1198.7 L1502.8 1198.7 L1508.2 1198.7 L1513.6 1198.6 L1519.0 1198.6 L1524.3 1198.6 L1529.7 1198.6 L1535.1 1198.6 L1540.5 1198.6" fill="none" stroke="#a03008" stroke-width="3.6" stroke-dasharray="12.9 5.7" />
<path d="M684.5 1172.8 L689.9 1172.8 L695.3 1172.9 L700.7 1172.9 L706.0 1172.9 L711.4 1172.9 L716.8 1172.9 L722.2 1173.0 L727.6 1173.0 L733.0 1173.0 L738.3 1173.0 L743.7 1173.0 L749.1 1173.1 L754.5 1173.1 L759.9 1173.1 L765.3 1173.1 L770.6 1173.1 L776.0 1173.1 L781.4 1173.2 L786.8 1173.2 L792.2 1173.2 L797.6 1173.2 L802.9 1173.2 L808.3 1173.3 L813.7 1173.3 L819.1 1173.3 L824.5 1173.3 L829.9 1173.3 L835.2 1173.4 L840.6 1173.4 L846.0 1173.4 L851.4 1173.4 L856.8 1173.4 L862.2 1173.5 L867.5 1173.5 L872.9 1173.5 L878.3 1173.5 L883.7 1173.5 L889.1 1173.6 L894.5 1173.6 L899.8 1173.6 L905.2 1173.6 L910.6 1173.6 L916.0 1173.6 L921.4 1173.7 L926.8 1173.7 L932.1 1173.7 L937.5 1173.7 L942.9 1173.7 L948.3 1173.8 L953.7 1173.8 L959.1 1173.8 L964.4 1173.8 L969.8 1173.8 L975.2 1173.9 L980.6 1173.9 L986.0 1173.9 L991.4 1173.9 L996.8 1173.9 L1002.1 1174.0 L1007.5 1174.0 L1012.9 1174.0 L1018.3 1174.0 L1023.7 1174.0 L1029.1 1174.1 L1034.4 1174.1 L1039.8 1174.1 L1045.2 1174.1 L1050.6 1174.1 L1056.0 1174.1 L1061.4 1174.2 L1066.7 1174.2 L1072.1 1174.2 L1077.5 1174.2 L1082.9 1174.2 L1088.3 1174.3 L1093.7 1174.3 L1099.0 1174.3 L1104.4 1174.3 L1109.8 1174.3 L1115.2 1174.4 L1120.6 1174.4 L1126.0 1174.4 L1131.3 1174.4 L1136.7 1174.4 L1142.1 1174.5 L1147.5 1174.5 L1152.9 1174.5 L1158.3 1174.5 L1163.6 1174.5 L1169.0 1174.6 L1174.4 1174.6 L1179.8 1174.6 L1185.2 1174.6 L1190.6 1174.6 L1195.9 1174.6 L1201.3 1174.7 L1206.7 1174.7 L1212.1 1174.7 L1217.5 1174.7 L1222.9 1174.7 L1228.2 1174.8 L1233.6 1174.8 L1239.0 1174.8 L1244.4 1174.8 L1249.8 1174.8 L1255.2 1174.9 L1260.6 1174.9 L1265.9 1174.9 L1271.3 1174.9 L1276.7 1174.9 L1282.1 1175.0 L1287.5 1175.0 L1292.9 1175.0 L1298.2 1175.0 L1303.6 1175.0 L1309.0 1175.1 L1314.4 1175.1 L1319.8 1175.1 L1325.2 1175.1 L1330.5 1175.1 L1335.9 1175.1 L1341.3 1175.2 L1346.7 1175.2 L1352.1 1175.2 L1357.5 1175.2 L1362.8 1175.2 L1368.2 1175.3 L1373.6 1175.3 L1379.0 1175.3 L1384.4 1175.3 L1389.8 1175.3 L1395.1 1175.4 L1400.5 1175.4 L1405.9 1175.4 L1411.3 1175.4 L1416.7 1175.4 L1422.1 1175.5 L1427.4 1175.5 L1432.8 1175.5 L1438.2 1175.5 L1443.6 1175.5 L1449.0 1175.6 L1454.4 1175.6 L1459.7 1175.6 L1465.1 1175.6 L1470.5 1175.6 L1475.9 1175.6 L1481.3 1175.7 L1486.7 1175.7 L1492.0 1175.7 L1497.4 1175.7 L1502.8 1175.7 L1508.2 1175.8 L1513.6 1175.8 L1519.0 1175.8 L1524.3 1175.8 L1529.7 1175.8 L1535.1 1175.9 L1540.5 1175.9" fill="none" stroke="#9e9a08" stroke-width="3.6" stroke-dasharray="12.9 5.7" />
<path d="M684.5 1174.6 L689.9 1175.5 L695.3 1176.4 L700.7 1177.4 L706.0 1178.3 L711.4 1179.3 L716.8 1180.4 L722.2 1181.5 L727.6 1182.7 L733.0 1183.8 L738.3 1184.8 L743.7 1185.7 L749.1 1186.6 L754.5 1187.4 L759.9 1188.1 L765.3 1188.7 L770.6 1189.2 L776.0 1189.7 L781.4 1190.2 L786.8 1190.6 L792.2 1191.0 L797.6 1191.3 L802.9 1191.6 L808.3 1191.8 L813.7 1192.1 L819.1 1192.3 L824.5 1192.5 L829.9 1192.7 L835.2 1192.8 L840.6 1192.9 L846.0 1193.0 L851.4 1193.0 L856.8 1193.1 L862.2 1193.1 L867.5 1193.2 L872.9 1193.2 L878.3 1193.2 L883.7 1193.2 L889.1 1193.3 L894.5 1193.3 L899.8 1193.3 L905.2 1193.4 L910.6 1193.4 L916.0 1193.5 L921.4 1193.5 L926.8 1193.5 L932.1 1193.6 L937.5 1193.6 L942.9 1193.7 L948.3 1193.7 L953.7 1193.8 L959.1 1193.8 L964.4 1193.9 L969.8 1193.9 L975.2 1194.0 L980.6 1194.0 L986.0 1194.1 L991.4 1194.1 L996.8 1194.1 L1002.1 1194.2 L1007.5 1194.2 L1012.9 1194.3 L1018.3 1194.3 L1023.7 1194.4 L1029.1 1194.4 L1034.4 1194.4 L1039.8 1194.5 L1045.2 1194.5 L1050.6 1194.5 L1056.0 1194.6 L1061.4 1194.6 L1066.7 1194.6 L1072.1 1194.7 L1077.5 1194.7 L1082.9 1194.7 L1088.3 1194.8 L1093.7 1194.8 L1099.0 1194.8 L1104.4 1194.9 L1109.8 1194.9 L1115.2 1194.9 L1120.6 1194.9 L1126.0 1195.0 L1131.3 1195.0 L1136.7 1195.0 L1142.1 1195.1 L1147.5 1195.1 L1152.9 1195.1 L1158.3 1195.2 L1163.6 1195.2 L1169.0 1195.2 L1174.4 1195.2 L1179.8 1195.3 L1185.2 1195.3 L1190.6 1195.3 L1195.9 1195.4 L1201.3 1195.4 L1206.7 1195.4 L1212.1 1195.4 L1217.5 1195.5 L1222.9 1195.5 L1228.2 1195.5 L1233.6 1195.5 L1239.0 1195.6 L1244.4 1195.6 L1249.8 1195.6 L1255.2 1195.7 L1260.6 1195.7 L1265.9 1195.7 L1271.3 1195.7 L1276.7 1195.8 L1282.1 1195.8 L1287.5 1195.8 L1292.9 1195.8 L1298.2 1195.9 L1303.6 1195.9 L1309.0 1195.9 L1314.4 1195.9 L1319.8 1195.9 L1325.2 1196.0 L1330.5 1196.0 L1335.9 1196.0 L1341.3 1196.0 L1346.7 1196.1 L1352.1 1196.1 L1357.5 1196.1 L1362.8 1196.1 L1368.2 1196.1 L1373.6 1196.2 L1379.0 1196.2 L1384.4 1196.2 L1389.8 1196.2 L1395.1 1196.2 L1400.5 1196.3 L1405.9 1196.3 L1411.3 1196.3 L1416.7 1196.3 L1422.1 1196.3 L1427.4 1196.3 L1432.8 1196.4 L1438.2 1196.4 L1443.6 1196.4 L1449.0 1196.4 L1454.4 1196.4 L1459.7 1196.4 L1465.1 1196.4 L1470.5 1196.5 L1475.9 1196.5 L1481.3 1196.5 L1486.7 1196.5 L1492.0 1196.5 L1497.4 1196.5 L1502.8 1196.5 L1508.2 1196.5 L1513.6 1196.5 L1519.0 1196.5 L1524.3 1196.6 L1529.7 1196.6 L1535.1 1196.6 L1540.5 1196.6" fill="none" stroke="#9e9a08" stroke-width="3.6" />
<path d="M684.5 1198.6 L689.9 1197.6 L695.3 1196.7 L700.7 1195.7 L706.0 1194.7 L711.4 1193.7 L716.8 1192.6 L722.2 1191.4 L727.6 1190.3 L733.0 1189.2 L738.3 1188.2 L743.7 1187.4 L749.1 1186.6 L754.5 1185.8 L759.9 1185.2 L765.3 1184.7 L770.6 1184.2 L776.0 1183.9 L781.4 1183.5 L786.8 1183.2 L792.2 1182.9 L797.6 1182.7 L802.9 1182.5 L808.3 1182.3 L813.7 1182.2 L819.1 1182.0 L824.5 1181.9 L829.9 1181.7 L835.2 1181.6 L840.6 1181.5 L846.0 1181.4 L851.4 1181.3 L856.8 1181.2 L862.2 1181.1 L867.5 1181.1 L872.9 1181.0 L878.3 1180.9 L883.7 1180.8 L889.1 1180.8 L894.5 1180.7 L899.8 1180.6 L905.2 1180.6 L910.6 1180.5 L916.0 1180.5 L921.4 1180.4 L926.8 1180.4 L932.1 1180.3 L937.5 1180.3 L942.9 1180.3 L948.3 1180.2 L953.7 1180.2 L959.1 1180.2 L964.4 1180.1 L969.8 1180.1 L975.2 1180.1 L980.6 1180.0 L986.0 1180.0 L991.4 1180.0 L996.8 1179.9 L1002.1 1179.9 L1007.5 1179.9 L1012.9 1179.9 L1018.3 1179.8 L1023.7 1179.8 L1029.1 1179.8 L1034.4 1179.8 L1039.8 1179.8 L1045.2 1179.7 L1050.6 1179.7 L1056.0 1179.7 L1061.4 1179.7 L1066.7 1179.7 L1072.1 1179.6 L1077.5 1179.6 L1082.9 1179.6 L1088.3 1179.6 L1093.7 1179.6 L1099.0 1179.5 L1104.4 1179.5 L1109.8 1179.5 L1115.2 1179.5 L1120.6 1179.5 L1126.0 1179.4 L1131.3 1179.4 L1136.7 1179.4 L1142.1 1179.4 L1147.5 1179.4 L1152.9 1179.3 L1158.3 1179.3 L1163.6 1179.3 L1169.0 1179.3 L1174.4 1179.3 L1179.8 1179.2 L1185.2 1179.2 L1190.6 1179.2 L1195.9 1179.2 L1201.3 1179.2 L1206.7 1179.1 L1212.1 1179.1 L1217.5 1179.1 L1222.9 1179.1 L1228.2 1179.1 L1233.6 1179.0 L1239.0 1179.0 L1244.4 1179.0 L1249.8 1179.0 L1255.2 1179.0 L1260.6 1179.0 L1265.9 1178.9 L1271.3 1178.9 L1276.7 1178.9 L1282.1 1178.9 L1287.5 1178.9 L1292.9 1178.8 L1298.2 1178.8 L1303.6 1178.8 L1309.0 1178.8 L1314.4 1178.8 L1319.8 1178.7 L1325.2 1178.7 L1330.5 1178.7 L1335.9 1178.7 L1341.3 1178.7 L1346.7 1178.6 L1352.1 1178.6 L1357.5 1178.6 L1362.8 1178.6 L1368.2 1178.6 L1373.6 1178.6 L1379.0 1178.5 L1384.4 1178.5 L1389.8 1178.5 L1395.1 1178.5 L1400.5 1178.5 L1405.9 1178.5 L1411.3 1178.4 L1416.7 1178.4 L1422.1 1178.4 L1427.4 1178.4 L1432.8 1178.4 L1438.2 1178.3 L1443.6 1178.3 L1449.0 1178.3 L1454.4 1178.3 L1459.7 1178.3 L1465.1 1178.3 L1470.5 1178.2 L1475.9 1178.2 L1481.3 1178.2 L1486.7 1178.2 L1492.0 1178.2 L1497.4 1178.2 L1502.8 1178.1 L1508.2 1178.1 L1513.6 1178.1 L1519.0 1178.1 L1524.3 1178.1 L1529.7 1178.1 L1535.1 1178.1 L1540.5 1178.0" fill="none" stroke="#a03008" stroke-width="3.6" />
<line x1="738" y1="1087.5" x2="738" y2="1285.5" stroke="#4e8a5a" stroke-width="2.2" stroke-dasharray="9.3 5.2" stroke-dashoffset="10.7"/>
<line x1="925.25" y1="1087.5" x2="925.25" y2="1285.5" stroke="#4e8a5a" stroke-width="2.2" stroke-dasharray="9.3 5.2" stroke-dashoffset="10.7"/>
<line x1="1112.5" y1="1087.5" x2="1112.5" y2="1285.5" stroke="#4e8a5a" stroke-width="2.2" stroke-dasharray="9.3 5.2" stroke-dashoffset="10.7"/>
<line x1="1299.75" y1="1087.5" x2="1299.75" y2="1285.5" stroke="#4e8a5a" stroke-width="2.2" stroke-dasharray="9.3 5.2" stroke-dashoffset="10.7"/>
<line x1="1487" y1="1087.5" x2="1487" y2="1285.5" stroke="#4e8a5a" stroke-width="2.2" stroke-dasharray="9.3 5.2" stroke-dashoffset="10.7"/>
</g>
<rect x="153.5" y="1087.5" width="428" height="198" fill="none" stroke="#717171" stroke-width="1" />
<rect x="684.5" y="1087.5" width="856" height="198" fill="none" stroke="#717171" stroke-width="1" />
<rect x="153.5" y="1285.5" width="428" height="193" fill="#fff" />
<rect x="684.5" y="1285.5" width="856" height="193" fill="#fff" />
<path d="M153.5 1469.7 L156.2 1469.7 L158.9 1469.7 L161.6 1469.7 L164.3 1469.7 L167.0 1469.7 L169.7 1469.7 L172.3 1469.7 L175.0 1469.7 L177.7 1469.7 L180.4 1469.7 L183.1 1469.7 L185.8 1469.7 L188.5 1469.7 L191.2 1469.7 L193.9 1469.7 L196.6 1469.7 L199.3 1469.7 L202.0 1469.7 L204.6 1469.6 L207.3 1469.6 L210.0 1469.5 L212.7 1469.4 L215.4 1469.3 L218.1 1469.3 L220.8 1469.2 L223.5 1469.0 L226.2 1468.9 L228.9 1468.7 L231.6 1468.4 L234.3 1468.0 L236.9 1467.6 L239.6 1467.1 L242.3 1466.6 L245.0 1466.0 L247.7 1465.4 L250.4 1464.7 L253.1 1464.1 L255.8 1463.4 L258.5 1462.7 L261.2 1462.0 L263.9 1461.2 L266.6 1460.4 L269.2 1459.5 L271.9 1458.5 L274.6 1457.5 L277.3 1456.3 L280.0 1455.1 L282.7 1453.8 L285.4 1452.4 L288.1 1450.8 L290.8 1449.0 L293.5 1446.9 L296.2 1444.7 L298.9 1442.2 L301.6 1439.5 L304.2 1436.5 L306.9 1433.0 L309.6 1429.0 L312.3 1424.7 L315.0 1420.1 L317.7 1415.3 L320.4 1410.4 L323.1 1405.4 L325.8 1399.9 L328.5 1394.0 L331.2 1388.0 L333.9 1381.9 L336.5 1375.9 L339.2 1370.2 L341.9 1364.3 L344.6 1358.3 L347.3 1352.5 L350.0 1347.3 L352.7 1342.9 L355.4 1339.3 L358.1 1335.9 L360.8 1332.9 L363.5 1330.3 L366.2 1328.4 L368.8 1327.2 L371.5 1326.3 L374.2 1325.6 L376.9 1325.1 L379.6 1325.1 L382.3 1325.5 L385.0 1326.2 L387.7 1327.1 L390.4 1328.1 L393.1 1329.3 L395.8 1330.5 L398.5 1332.1 L401.1 1334.1 L403.8 1336.5 L406.5 1339.2 L409.2 1342.0 L411.9 1344.9 L414.6 1347.8 L417.3 1350.6 L420.0 1353.2 L422.7 1355.9 L425.4 1358.7 L428.1 1361.6 L430.8 1364.5 L433.4 1367.4 L436.1 1370.1 L438.8 1372.7 L441.5 1375.0 L444.2 1377.1 L446.9 1379.1 L449.6 1381.1 L452.3 1383.0 L455.0 1384.8 L457.7 1386.4 L460.4 1388.0 L463.1 1389.3 L465.8 1390.4 L468.4 1391.3 L471.1 1392.1 L473.8 1392.8 L476.5 1393.4 L479.2 1393.9 L481.9 1394.5 L484.6 1394.9 L487.3 1395.4 L490.0 1395.8 L492.7 1396.1 L495.4 1396.5 L498.1 1396.8 L500.7 1397.1 L503.4 1397.4 L506.1 1397.7 L508.8 1398.0 L511.5 1398.2 L514.2 1398.5 L516.9 1398.7 L519.6 1399.0 L522.3 1399.2 L525.0 1399.4 L527.7 1399.7 L530.4 1399.9 L533.0 1400.1 L535.7 1400.4 L538.4 1400.6 L541.1 1400.8 L543.8 1401.1 L546.5 1401.3 L549.2 1401.5 L551.9 1401.7 L554.6 1401.9 L557.3 1402.1 L560.0 1402.4 L562.7 1402.6 L565.3 1402.8 L568.0 1403.0 L570.7 1403.2 L573.4 1403.4 L576.1 1403.6 L578.8 1403.8 L581.5 1404.0" fill="none" stroke="#de2d20" stroke-width="3.6" />
<path d="M153.5 1469.7 L156.2 1469.7 L158.9 1469.7 L161.6 1469.7 L164.3 1469.7 L167.0 1469.7 L169.7 1469.7 L172.3 1469.7 L175.0 1469.7 L177.7 1469.7 L180.4 1469.7 L183.1 1469.7 L185.8 1469.7 L188.5 1469.7 L191.2 1469.7 L193.9 1469.7 L196.6 1469.7 L199.3 1469.7 L202.0 1469.7 L204.6 1469.6 L207.3 1469.6 L210.0 1469.5 L212.7 1469.4 L215.4 1469.3 L218.1 1469.3 L220.8 1469.2 L223.5 1469.0 L226.2 1468.9 L228.9 1468.7 L231.6 1468.4 L234.3 1468.0 L236.9 1467.6 L239.6 1467.1 L242.3 1466.6 L245.0 1466.0 L247.7 1465.4 L250.4 1464.7 L253.1 1464.1 L255.8 1463.4 L258.5 1462.7 L261.2 1462.0 L263.9 1461.2 L266.6 1460.4 L269.2 1459.5 L271.9 1458.6 L274.6 1457.5 L277.3 1456.4 L280.0 1455.2 L282.7 1453.8 L285.4 1452.4 L288.1 1450.7 L290.8 1448.8 L293.5 1446.6 L296.2 1444.1 L298.9 1441.4 L301.6 1438.4 L304.2 1435.2 L306.9 1431.3 L309.6 1427.0 L312.3 1422.2 L315.0 1417.0 L317.7 1411.5 L320.4 1405.7 L323.1 1399.6 L325.8 1392.5 L328.5 1384.6 L331.2 1376.3 L333.9 1368.0 L336.5 1360.1 L339.2 1352.9 L341.9 1345.9 L344.6 1339.0 L347.3 1332.4 L350.0 1326.4 L352.7 1321.0 L355.4 1316.2 L358.1 1311.5 L360.8 1307.2 L363.5 1303.5 L366.2 1300.6 L368.8 1298.6 L371.5 1296.8 L374.2 1295.2 L376.9 1293.8 L379.6 1292.5 L382.3 1291.5 L385.0 1290.7 L387.7 1290.2 L390.4 1290.1 L393.1 1290.4 L395.8 1291.1 L398.5 1292.0 L401.1 1293.2 L403.8 1294.4 L406.5 1295.6 L409.2 1296.7 L411.9 1298.0 L414.6 1299.4 L417.3 1300.9 L420.0 1302.5 L422.7 1304.1 L425.4 1305.8 L428.1 1307.4 L430.8 1309.0 L433.4 1310.5 L436.1 1312.2 L438.8 1313.8 L441.5 1315.5 L444.2 1317.2 L446.9 1318.8 L449.6 1320.4 L452.3 1322.0 L455.0 1323.4 L457.7 1324.8 L460.4 1326.1 L463.1 1327.4 L465.8 1328.7 L468.4 1329.9 L471.1 1331.1 L473.8 1332.3 L476.5 1333.4 L479.2 1334.6 L481.9 1335.7 L484.6 1336.7 L487.3 1337.8 L490.0 1338.8 L492.7 1339.7 L495.4 1340.7 L498.1 1341.6 L500.7 1342.6 L503.4 1343.5 L506.1 1344.4 L508.8 1345.3 L511.5 1346.2 L514.2 1347.0 L516.9 1347.8 L519.6 1348.5 L522.3 1349.2 L525.0 1349.8 L527.7 1350.4 L530.4 1351.0 L533.0 1351.4 L535.7 1351.9 L538.4 1352.3 L541.1 1352.6 L543.8 1353.0 L546.5 1353.4 L549.2 1353.7 L551.9 1354.1 L554.6 1354.5 L557.3 1354.9 L560.0 1355.3 L562.7 1355.7 L565.3 1356.1 L568.0 1356.5 L570.7 1356.9 L573.4 1357.4 L576.1 1357.8 L578.8 1358.2 L581.5 1358.7" fill="none" stroke="#f4a11c" stroke-width="3.6" />
<path d="M684.5 1466.2 L689.9 1466.2 L695.3 1466.2 L700.7 1466.2 L706.0 1466.2 L711.4 1466.2 L716.8 1466.2 L722.2 1466.3 L727.6 1466.3 L733.0 1466.3 L738.3 1466.3 L743.7 1466.3 L749.1 1466.3 L754.5 1466.3 L759.9 1466.4 L765.3 1466.4 L770.6 1466.4 L776.0 1466.4 L781.4 1466.4 L786.8 1466.4 L792.2 1466.4 L797.6 1466.5 L802.9 1466.5 L808.3 1466.5 L813.7 1466.5 L819.1 1466.5 L824.5 1466.5 L829.9 1466.5 L835.2 1466.6 L840.6 1466.6 L846.0 1466.6 L851.4 1466.6 L856.8 1466.6 L862.2 1466.6 L867.5 1466.6 L872.9 1466.7 L878.3 1466.7 L883.7 1466.7 L889.1 1466.7 L894.5 1466.7 L899.8 1466.7 L905.2 1466.7 L910.6 1466.8 L916.0 1466.8 L921.4 1466.8 L926.8 1466.8 L932.1 1466.8 L937.5 1466.8 L942.9 1466.8 L948.3 1466.9 L953.7 1466.9 L959.1 1466.9 L964.4 1466.9 L969.8 1466.9 L975.2 1466.9 L980.6 1466.9 L986.0 1467.0 L991.4 1467.0 L996.8 1467.0 L1002.1 1467.0 L1007.5 1467.0 L1012.9 1467.0 L1018.3 1467.0 L1023.7 1467.1 L1029.1 1467.1 L1034.4 1467.1 L1039.8 1467.1 L1045.2 1467.1 L1050.6 1467.1 L1056.0 1467.1 L1061.4 1467.2 L1066.7 1467.2 L1072.1 1467.2 L1077.5 1467.2 L1082.9 1467.2 L1088.3 1467.2 L1093.7 1467.2 L1099.0 1467.3 L1104.4 1467.3 L1109.8 1467.3 L1115.2 1467.3 L1120.6 1467.3 L1126.0 1467.3 L1131.3 1467.3 L1136.7 1467.4 L1142.1 1467.4 L1147.5 1467.4 L1152.9 1467.4 L1158.3 1467.4 L1163.6 1467.4 L1169.0 1467.5 L1174.4 1467.5 L1179.8 1467.5 L1185.2 1467.5 L1190.6 1467.5 L1195.9 1467.5 L1201.3 1467.5 L1206.7 1467.6 L1212.1 1467.6 L1217.5 1467.6 L1222.9 1467.6 L1228.2 1467.6 L1233.6 1467.6 L1239.0 1467.6 L1244.4 1467.7 L1249.8 1467.7 L1255.2 1467.7 L1260.6 1467.7 L1265.9 1467.7 L1271.3 1467.7 L1276.7 1467.7 L1282.1 1467.8 L1287.5 1467.8 L1292.9 1467.8 L1298.2 1467.8 L1303.6 1467.8 L1309.0 1467.8 L1314.4 1467.8 L1319.8 1467.9 L1325.2 1467.9 L1330.5 1467.9 L1335.9 1467.9 L1341.3 1467.9 L1346.7 1467.9 L1352.1 1467.9 L1357.5 1468.0 L1362.8 1468.0 L1368.2 1468.0 L1373.6 1468.0 L1379.0 1468.0 L1384.4 1468.0 L1389.8 1468.0 L1395.1 1468.1 L1400.5 1468.1 L1405.9 1468.1 L1411.3 1468.1 L1416.7 1468.1 L1422.1 1468.1 L1427.4 1468.1 L1432.8 1468.2 L1438.2 1468.2 L1443.6 1468.2 L1449.0 1468.2 L1454.4 1468.2 L1459.7 1468.2 L1465.1 1468.2 L1470.5 1468.3 L1475.9 1468.3 L1481.3 1468.3 L1486.7 1468.3 L1492.0 1468.3 L1497.4 1468.3 L1502.8 1468.3 L1508.2 1468.4 L1513.6 1468.4 L1519.0 1468.4 L1524.3 1468.4 L1529.7 1468.4 L1535.1 1468.4 L1540.5 1468.4" fill="none" stroke="#de2d20" stroke-width="3.6" stroke-dasharray="12.9 5.7" />
<path d="M684.5 1463.0 L689.9 1463.0 L695.3 1463.0 L700.7 1463.0 L706.0 1463.0 L711.4 1463.1 L716.8 1463.1 L722.2 1463.1 L727.6 1463.1 L733.0 1463.2 L738.3 1463.2 L743.7 1463.2 L749.1 1463.2 L754.5 1463.3 L759.9 1463.3 L765.3 1463.3 L770.6 1463.3 L776.0 1463.4 L781.4 1463.4 L786.8 1463.4 L792.2 1463.4 L797.6 1463.5 L802.9 1463.5 L808.3 1463.5 L813.7 1463.5 L819.1 1463.6 L824.5 1463.6 L829.9 1463.6 L835.2 1463.6 L840.6 1463.7 L846.0 1463.7 L851.4 1463.7 L856.8 1463.7 L862.2 1463.8 L867.5 1463.8 L872.9 1463.8 L878.3 1463.8 L883.7 1463.9 L889.1 1463.9 L894.5 1463.9 L899.8 1463.9 L905.2 1464.0 L910.6 1464.0 L916.0 1464.0 L921.4 1464.0 L926.8 1464.1 L932.1 1464.1 L937.5 1464.1 L942.9 1464.1 L948.3 1464.2 L953.7 1464.2 L959.1 1464.2 L964.4 1464.2 L969.8 1464.2 L975.2 1464.3 L980.6 1464.3 L986.0 1464.3 L991.4 1464.3 L996.8 1464.4 L1002.1 1464.4 L1007.5 1464.4 L1012.9 1464.4 L1018.3 1464.5 L1023.7 1464.5 L1029.1 1464.5 L1034.4 1464.5 L1039.8 1464.6 L1045.2 1464.6 L1050.6 1464.6 L1056.0 1464.6 L1061.4 1464.7 L1066.7 1464.7 L1072.1 1464.7 L1077.5 1464.7 L1082.9 1464.8 L1088.3 1464.8 L1093.7 1464.8 L1099.0 1464.8 L1104.4 1464.9 L1109.8 1464.9 L1115.2 1464.9 L1120.6 1464.9 L1126.0 1465.0 L1131.3 1465.0 L1136.7 1465.0 L1142.1 1465.0 L1147.5 1465.1 L1152.9 1465.1 L1158.3 1465.1 L1163.6 1465.1 L1169.0 1465.2 L1174.4 1465.2 L1179.8 1465.2 L1185.2 1465.2 L1190.6 1465.3 L1195.9 1465.3 L1201.3 1465.3 L1206.7 1465.3 L1212.1 1465.3 L1217.5 1465.4 L1222.9 1465.4 L1228.2 1465.4 L1233.6 1465.4 L1239.0 1465.5 L1244.4 1465.5 L1249.8 1465.5 L1255.2 1465.5 L1260.6 1465.6 L1265.9 1465.6 L1271.3 1465.6 L1276.7 1465.6 L1282.1 1465.7 L1287.5 1465.7 L1292.9 1465.7 L1298.2 1465.7 L1303.6 1465.8 L1309.0 1465.8 L1314.4 1465.8 L1319.8 1465.8 L1325.2 1465.9 L1330.5 1465.9 L1335.9 1465.9 L1341.3 1465.9 L1346.7 1466.0 L1352.1 1466.0 L1357.5 1466.0 L1362.8 1466.0 L1368.2 1466.1 L1373.6 1466.1 L1379.0 1466.1 L1384.4 1466.1 L1389.8 1466.2 L1395.1 1466.2 L1400.5 1466.2 L1405.9 1466.2 L1411.3 1466.3 L1416.7 1466.3 L1422.1 1466.3 L1427.4 1466.3 L1432.8 1466.4 L1438.2 1466.4 L1443.6 1466.4 L1449.0 1466.4 L1454.4 1466.5 L1459.7 1466.5 L1465.1 1466.5 L1470.5 1466.5 L1475.9 1466.5 L1481.3 1466.6 L1486.7 1466.6 L1492.0 1466.6 L1497.4 1466.6 L1502.8 1466.7 L1508.2 1466.7 L1513.6 1466.7 L1519.0 1466.7 L1524.3 1466.8 L1529.7 1466.8 L1535.1 1466.8 L1540.5 1466.8" fill="none" stroke="#f4a11c" stroke-width="3.6" stroke-dasharray="12.9 5.7" />
<path d="M684.5 1458.8 L689.9 1457.3 L695.3 1455.7 L700.7 1454.1 L706.0 1452.5 L711.4 1450.7 L716.8 1448.8 L722.2 1447.0 L727.6 1445.6 L733.0 1444.5 L738.3 1443.4 L743.7 1442.8 L749.1 1442.8 L754.5 1443.2 L759.9 1444.0 L765.3 1444.9 L770.6 1445.8 L776.0 1446.8 L781.4 1447.9 L786.8 1449.2 L792.2 1450.5 L797.6 1451.8 L802.9 1452.9 L808.3 1454.1 L813.7 1455.2 L819.1 1456.4 L824.5 1457.4 L829.9 1458.3 L835.2 1458.9 L840.6 1459.5 L846.0 1459.9 L851.4 1460.4 L856.8 1460.8 L862.2 1461.1 L867.5 1461.4 L872.9 1461.6 L878.3 1461.7 L883.7 1461.8 L889.1 1461.9 L894.5 1462.0 L899.8 1462.0 L905.2 1462.1 L910.6 1462.2 L916.0 1462.2 L921.4 1462.3 L926.8 1462.3 L932.1 1462.3 L937.5 1462.4 L942.9 1462.4 L948.3 1462.5 L953.7 1462.5 L959.1 1462.6 L964.4 1462.6 L969.8 1462.6 L975.2 1462.7 L980.6 1462.7 L986.0 1462.8 L991.4 1462.8 L996.8 1462.9 L1002.1 1462.9 L1007.5 1462.9 L1012.9 1463.0 L1018.3 1463.0 L1023.7 1463.1 L1029.1 1463.1 L1034.4 1463.1 L1039.8 1463.2 L1045.2 1463.2 L1050.6 1463.2 L1056.0 1463.3 L1061.4 1463.3 L1066.7 1463.3 L1072.1 1463.4 L1077.5 1463.4 L1082.9 1463.5 L1088.3 1463.5 L1093.7 1463.5 L1099.0 1463.6 L1104.4 1463.6 L1109.8 1463.6 L1115.2 1463.7 L1120.6 1463.7 L1126.0 1463.7 L1131.3 1463.8 L1136.7 1463.8 L1142.1 1463.8 L1147.5 1463.9 L1152.9 1463.9 L1158.3 1463.9 L1163.6 1464.0 L1169.0 1464.0 L1174.4 1464.0 L1179.8 1464.1 L1185.2 1464.1 L1190.6 1464.1 L1195.9 1464.2 L1201.3 1464.2 L1206.7 1464.2 L1212.1 1464.3 L1217.5 1464.3 L1222.9 1464.4 L1228.2 1464.4 L1233.6 1464.4 L1239.0 1464.5 L1244.4 1464.5 L1249.8 1464.5 L1255.2 1464.6 L1260.6 1464.6 L1265.9 1464.6 L1271.3 1464.7 L1276.7 1464.7 L1282.1 1464.7 L1287.5 1464.8 L1292.9 1464.8 L1298.2 1464.8 L1303.6 1464.9 L1309.0 1464.9 L1314.4 1464.9 L1319.8 1465.0 L1325.2 1465.0 L1330.5 1465.0 L1335.9 1465.1 L1341.3 1465.1 L1346.7 1465.1 L1352.1 1465.2 L1357.5 1465.2 L1362.8 1465.2 L1368.2 1465.3 L1373.6 1465.3 L1379.0 1465.3 L1384.4 1465.4 L1389.8 1465.4 L1395.1 1465.4 L1400.5 1465.5 L1405.9 1465.5 L1411.3 1465.5 L1416.7 1465.6 L1422.1 1465.6 L1427.4 1465.6 L1432.8 1465.7 L1438.2 1465.7 L1443.6 1465.7 L1449.0 1465.7 L1454.4 1465.8 L1459.7 1465.8 L1465.1 1465.8 L1470.5 1465.9 L1475.9 1465.9 L1481.3 1465.9 L1486.7 1466.0 L1492.0 1466.0 L1497.4 1466.0 L1502.8 1466.1 L1508.2 1466.1 L1513.6 1466.1 L1519.0 1466.1 L1524.3 1466.2 L1529.7 1466.2 L1535.1 1466.2 L1540.5 1466.3" fill="none" stroke="#de2d20" stroke-width="3.6" />
<path d="M684.5 1462.8 L689.9 1461.3 L695.3 1459.6 L700.7 1457.8 L706.0 1455.9 L711.4 1453.6 L716.8 1451.0 L722.2 1448.5 L727.6 1446.8 L733.0 1445.4 L738.3 1444.2 L743.7 1443.2 L749.1 1442.7 L754.5 1442.8 L759.9 1443.3 L765.3 1444.0 L770.6 1444.9 L776.0 1445.8 L781.4 1446.8 L786.8 1447.9 L792.2 1449.2 L797.6 1450.4 L802.9 1451.5 L808.3 1452.6 L813.7 1453.7 L819.1 1454.8 L824.5 1455.7 L829.9 1456.6 L835.2 1457.2 L840.6 1457.8 L846.0 1458.3 L851.4 1458.8 L856.8 1459.3 L862.2 1459.7 L867.5 1460.0 L872.9 1460.2 L878.3 1460.3 L883.7 1460.4 L889.1 1460.5 L894.5 1460.6 L899.8 1460.6 L905.2 1460.7 L910.6 1460.7 L916.0 1460.8 L921.4 1460.8 L926.8 1460.8 L932.1 1460.9 L937.5 1460.9 L942.9 1460.9 L948.3 1461.0 L953.7 1461.0 L959.1 1461.1 L964.4 1461.1 L969.8 1461.2 L975.2 1461.2 L980.6 1461.3 L986.0 1461.3 L991.4 1461.4 L996.8 1461.4 L1002.1 1461.5 L1007.5 1461.5 L1012.9 1461.5 L1018.3 1461.6 L1023.7 1461.6 L1029.1 1461.7 L1034.4 1461.7 L1039.8 1461.8 L1045.2 1461.8 L1050.6 1461.9 L1056.0 1461.9 L1061.4 1462.0 L1066.7 1462.0 L1072.1 1462.1 L1077.5 1462.1 L1082.9 1462.2 L1088.3 1462.2 L1093.7 1462.2 L1099.0 1462.3 L1104.4 1462.3 L1109.8 1462.4 L1115.2 1462.4 L1120.6 1462.5 L1126.0 1462.5 L1131.3 1462.6 L1136.7 1462.6 L1142.1 1462.6 L1147.5 1462.7 L1152.9 1462.7 L1158.3 1462.8 L1163.6 1462.8 L1169.0 1462.9 L1174.4 1462.9 L1179.8 1462.9 L1185.2 1463.0 L1190.6 1463.0 L1195.9 1463.1 L1201.3 1463.1 L1206.7 1463.2 L1212.1 1463.2 L1217.5 1463.2 L1222.9 1463.3 L1228.2 1463.3 L1233.6 1463.4 L1239.0 1463.4 L1244.4 1463.4 L1249.8 1463.5 L1255.2 1463.5 L1260.6 1463.6 L1265.9 1463.6 L1271.3 1463.6 L1276.7 1463.7 L1282.1 1463.7 L1287.5 1463.8 L1292.9 1463.8 L1298.2 1463.8 L1303.6 1463.9 L1309.0 1463.9 L1314.4 1464.0 L1319.8 1464.0 L1325.2 1464.0 L1330.5 1464.1 L1335.9 1464.1 L1341.3 1464.1 L1346.7 1464.2 L1352.1 1464.2 L1357.5 1464.3 L1362.8 1464.3 L1368.2 1464.3 L1373.6 1464.4 L1379.0 1464.4 L1384.4 1464.5 L1389.8 1464.5 L1395.1 1464.5 L1400.5 1464.6 L1405.9 1464.6 L1411.3 1464.6 L1416.7 1464.7 L1422.1 1464.7 L1427.4 1464.7 L1432.8 1464.8 L1438.2 1464.8 L1443.6 1464.9 L1449.0 1464.9 L1454.4 1464.9 L1459.7 1465.0 L1465.1 1465.0 L1470.5 1465.0 L1475.9 1465.1 L1481.3 1465.1 L1486.7 1465.1 L1492.0 1465.2 L1497.4 1465.2 L1502.8 1465.2 L1508.2 1465.3 L1513.6 1465.3 L1519.0 1465.3 L1524.3 1465.4 L1529.7 1465.4 L1535.1 1465.4 L1540.5 1465.5" fill="none" stroke="#f4a11c" stroke-width="3.6" />
<line x1="180.25" y1="1285.5" x2="180.25" y2="1478.5" stroke="#7a7a7a" stroke-width="2.2" stroke-dasharray="9.3 5.2" stroke-dashoffset="13"/>
<line x1="367.5" y1="1285.5" x2="367.5" y2="1478.5" stroke="#7a7a7a" stroke-width="2.2" stroke-dasharray="9.3 5.2" stroke-dashoffset="13"/>
<line x1="554.75" y1="1285.5" x2="554.75" y2="1478.5" stroke="#7a7a7a" stroke-width="2.2" stroke-dasharray="9.3 5.2" stroke-dashoffset="13"/>
<line x1="738" y1="1285.5" x2="738" y2="1478.5" stroke="#7a7a7a" stroke-width="2.2" stroke-dasharray="9.3 5.2" stroke-dashoffset="13"/>
<line x1="925.25" y1="1285.5" x2="925.25" y2="1478.5" stroke="#7a7a7a" stroke-width="2.2" stroke-dasharray="9.3 5.2" stroke-dashoffset="13"/>
<line x1="1112.5" y1="1285.5" x2="1112.5" y2="1478.5" stroke="#7a7a7a" stroke-width="2.2" stroke-dasharray="9.3 5.2" stroke-dashoffset="13"/>
<line x1="1299.75" y1="1285.5" x2="1299.75" y2="1478.5" stroke="#7a7a7a" stroke-width="2.2" stroke-dasharray="9.3 5.2" stroke-dashoffset="13"/>
<line x1="1487" y1="1285.5" x2="1487" y2="1478.5" stroke="#7a7a7a" stroke-width="2.2" stroke-dasharray="9.3 5.2" stroke-dashoffset="13"/>
<path d="M191.7 1375.6 L193.5 1375.5 L195.3 1375.3 L197.1 1375.1 L198.9 1374.9 L200.7 1374.8 L202.5 1374.6 L204.3 1374.3 L206.1 1374.1 L207.9 1373.9 L209.7 1373.6 L211.5 1373.3 L213.4 1373.0 L215.2 1372.7 L217.0 1372.4 L218.8 1372.0 L220.6 1371.7 L222.4 1371.3 L224.2 1370.9 L226.0 1370.4 L227.8 1370.0 L229.6 1369.5 L231.4 1369.0 L233.2 1368.5 L235.0 1367.9 L236.8 1367.4 L238.6 1366.7 L240.4 1366.1 L242.2 1365.5 L244.0 1364.8 L245.8 1364.0 L247.6 1363.3 L249.4 1362.5 L251.2 1361.7 L253.1 1360.9 L254.9 1360.0 L256.7 1359.1 L258.5 1358.2 L260.3 1357.2 L262.1 1356.2 L263.9 1355.2 L265.7 1354.1 L267.5 1353.0 L269.3 1351.9 L271.1 1350.7 L272.9 1349.6 L274.7 1348.3 L276.5 1347.1 L278.3 1345.8 L280.1 1344.5 L281.9 1343.2 L283.7 1341.9 L285.5 1340.5 L287.3 1339.1 L289.1 1337.7 L290.9 1336.2 L292.8 1334.8 L294.6 1333.3 L296.4 1331.8 L298.2 1330.3 L300.0 1328.8 L301.8 1327.3 L303.6 1325.8 L305.4 1324.2 L307.2 1322.7 L309.0 1321.2 L310.8 1319.6 L312.6 1318.1 L314.4 1316.6 L316.2 1315.1 L318.0 1313.6 L319.8 1312.1 L321.6 1310.6 L323.4 1309.2 L325.2 1307.8 L327.0 1306.4 L328.8 1305.0 L330.6 1303.7 L332.4 1302.4 L334.3 1301.2 L336.1 1300.0 L337.9 1298.8 L339.7 1297.7 L341.5 1296.6 L343.3 1295.5 L345.1 1294.6 L346.9 1293.7 L348.7 1292.8 L350.5 1292.0 L352.3 1291.2 L354.1 1290.6 L355.9 1289.9 L357.7 1289.4 L359.5 1288.9 L361.3 1288.5 L363.1 1288.1 L364.9 1287.8 L366.7 1287.6 L368.5 1287.5 L370.3 1287.4 L372.1 1287.4 L374.0 1287.5 L375.8 1287.6 L377.6 1287.8 L379.4 1288.1 L381.2 1288.5 L383.0 1288.9 L384.8 1289.4 L386.6 1289.9 L388.4 1290.6 L390.2 1291.2 L392.0 1292.0 L393.8 1292.8 L395.6 1293.7 L397.4 1294.6 L399.2 1295.5 L401.0 1296.6 L402.8 1297.7 L404.6 1298.8 L406.4 1300.0 L408.2 1301.2 L410.0 1302.4 L411.8 1303.7 L413.7 1305.0 L415.5 1306.4 L417.3 1307.8 L419.1 1309.2 L420.9 1310.6 L422.7 1312.1 L424.5 1313.6 L426.3 1315.1 L428.1 1316.6 L429.9 1318.1 L431.7 1319.6 L433.5 1321.2 L435.3 1322.7 L437.1 1324.2 L438.9 1325.8 L440.7 1327.3 L442.5 1328.8 L444.3 1330.3 L446.1 1331.8 L447.9 1333.3 L449.7 1334.8 L451.5 1336.2 L453.3 1337.7 L455.2 1339.1 L457.0 1340.5 L458.8 1341.9 L460.6 1343.2 L462.4 1344.5 L464.2 1345.8 L466.0 1347.1 L467.8 1348.3 L469.6 1349.6 L471.4 1350.7 L473.2 1351.9 L475.0 1353.0 L476.8 1354.1 L478.6 1355.2 L480.4 1356.2 L482.2 1357.2 L484.0 1358.2 L485.8 1359.1 L487.6 1360.0 L489.4 1360.9 L491.2 1361.7 L493.0 1362.5 L494.9 1363.3 L496.7 1364.0 L498.5 1364.8 L500.3 1365.5 L502.1 1366.1 L503.9 1366.7 L505.7 1367.4 L507.5 1367.9 L509.3 1368.5 L511.1 1369.0 L512.9 1369.5 L514.7 1370.0 L516.5 1370.4 L518.3 1370.9 L520.1 1371.3 L521.9 1371.7 L523.7 1372.0 L525.5 1372.4 L527.3 1372.7 L529.1 1373.0 L530.9 1373.3 L532.7 1373.6 L534.6 1373.9 L536.4 1374.1 L538.2 1374.3 L540.0 1374.6 L541.8 1374.8 L543.6 1374.9 L545.4 1375.1 L547.2 1375.3 L549.0 1375.5 L550.8 1375.6 L550.8 1375.6 L551.9 1375.8 L553.0 1376.2 L553.8 1377.0 L554.4 1377.9 L554.8 1379.0 L554.8 1380.2 L554.4 1381.3 L553.8 1382.2 L553.0 1383.0 L551.9 1383.4 L550.8 1383.6 L550.8 1383.6 L549.0 1383.7 L547.2 1383.9 L545.4 1384.1 L543.6 1384.3 L541.8 1384.4 L540.0 1384.6 L538.2 1384.9 L536.4 1385.1 L534.6 1385.3 L532.7 1385.6 L530.9 1385.9 L529.1 1386.2 L527.3 1386.5 L525.5 1386.8 L523.7 1387.2 L521.9 1387.5 L520.1 1387.9 L518.3 1388.3 L516.5 1388.8 L514.7 1389.2 L512.9 1389.7 L511.1 1390.2 L509.3 1390.7 L507.5 1391.3 L505.7 1391.8 L503.9 1392.5 L502.1 1393.1 L500.3 1393.7 L498.5 1394.4 L496.7 1395.2 L494.9 1395.9 L493.0 1396.7 L491.2 1397.5 L489.4 1398.3 L487.6 1399.2 L485.8 1400.1 L484.0 1401.0 L482.2 1402.0 L480.4 1403.0 L478.6 1404.0 L476.8 1405.1 L475.0 1406.2 L473.2 1407.3 L471.4 1408.5 L469.6 1409.6 L467.8 1410.9 L466.0 1412.1 L464.2 1413.4 L462.4 1414.7 L460.6 1416.0 L458.8 1417.3 L457.0 1418.7 L455.2 1420.1 L453.3 1421.5 L451.5 1423.0 L449.7 1424.4 L447.9 1425.9 L446.1 1427.4 L444.3 1428.9 L442.5 1430.4 L440.7 1431.9 L438.9 1433.4 L437.1 1435.0 L435.3 1436.5 L433.5 1438.0 L431.7 1439.6 L429.9 1441.1 L428.1 1442.6 L426.3 1444.1 L424.5 1445.6 L422.7 1447.1 L420.9 1448.6 L419.1 1450.0 L417.3 1451.4 L415.5 1452.8 L413.7 1454.2 L411.8 1455.5 L410.0 1456.8 L408.2 1458.0 L406.4 1459.2 L404.6 1460.4 L402.8 1461.5 L401.0 1462.6 L399.2 1463.7 L397.4 1464.6 L395.6 1465.5 L393.8 1466.4 L392.0 1467.2 L390.2 1468.0 L388.4 1468.6 L386.6 1469.3 L384.8 1469.8 L383.0 1470.3 L381.2 1470.7 L379.4 1471.1 L377.6 1471.4 L375.8 1471.6 L374.0 1471.7 L372.1 1471.8 L370.3 1471.8 L368.5 1471.7 L366.7 1471.6 L364.9 1471.4 L363.1 1471.1 L361.3 1470.7 L359.5 1470.3 L357.7 1469.8 L355.9 1469.3 L354.1 1468.6 L352.3 1468.0 L350.5 1467.2 L348.7 1466.4 L346.9 1465.5 L345.1 1464.6 L343.3 1463.7 L341.5 1462.6 L339.7 1461.5 L337.9 1460.4 L336.1 1459.2 L334.3 1458.0 L332.4 1456.8 L330.6 1455.5 L328.8 1454.2 L327.0 1452.8 L325.2 1451.4 L323.4 1450.0 L321.6 1448.6 L319.8 1447.1 L318.0 1445.6 L316.2 1444.1 L314.4 1442.6 L312.6 1441.1 L310.8 1439.6 L309.0 1438.0 L307.2 1436.5 L305.4 1435.0 L303.6 1433.4 L301.8 1431.9 L300.0 1430.4 L298.2 1428.9 L296.4 1427.4 L294.6 1425.9 L292.8 1424.4 L290.9 1423.0 L289.1 1421.5 L287.3 1420.1 L285.5 1418.7 L283.7 1417.3 L281.9 1416.0 L280.1 1414.7 L278.3 1413.4 L276.5 1412.1 L274.7 1410.9 L272.9 1409.6 L271.1 1408.5 L269.3 1407.3 L267.5 1406.2 L265.7 1405.1 L263.9 1404.0 L262.1 1403.0 L260.3 1402.0 L258.5 1401.0 L256.7 1400.1 L254.9 1399.2 L253.1 1398.3 L251.2 1397.5 L249.4 1396.7 L247.6 1395.9 L245.8 1395.2 L244.0 1394.4 L242.2 1393.7 L240.4 1393.1 L238.6 1392.5 L236.8 1391.8 L235.0 1391.3 L233.2 1390.7 L231.4 1390.2 L229.6 1389.7 L227.8 1389.2 L226.0 1388.8 L224.2 1388.3 L222.4 1387.9 L220.6 1387.5 L218.8 1387.2 L217.0 1386.8 L215.2 1386.5 L213.4 1386.2 L211.5 1385.9 L209.7 1385.6 L207.9 1385.3 L206.1 1385.1 L204.3 1384.9 L202.5 1384.6 L200.7 1384.4 L198.9 1384.3 L197.1 1384.1 L195.3 1383.9 L193.5 1383.7 L191.7 1383.6 L191.7 1383.6 L190.6 1383.4 L189.5 1383.0 L188.7 1382.2 L188.1 1381.3 L187.7 1380.2 L187.7 1379.0 L188.1 1377.9 L188.7 1377.0 L189.5 1376.2 L190.6 1375.8 L191.7 1375.6 Z" fill="#9292d4" clip-path="url(#c13)"/>
<g clip-path="url(#c14)">
<path d="M153.5 1469.7 L156.2 1469.7 L158.9 1469.7 L161.6 1469.7 L164.3 1469.7 L167.0 1469.7 L169.7 1469.7 L172.3 1469.7 L175.0 1469.7 L177.7 1469.7 L180.4 1469.7 L183.1 1469.7 L185.8 1469.7 L188.5 1469.7 L191.2 1469.7 L193.9 1469.7 L196.6 1469.7 L199.3 1469.7 L202.0 1469.7 L204.6 1469.6 L207.3 1469.6 L210.0 1469.5 L212.7 1469.4 L215.4 1469.3 L218.1 1469.3 L220.8 1469.2 L223.5 1469.0 L226.2 1468.9 L228.9 1468.7 L231.6 1468.4 L234.3 1468.0 L236.9 1467.6 L239.6 1467.1 L242.3 1466.6 L245.0 1466.0 L247.7 1465.4 L250.4 1464.7 L253.1 1464.1 L255.8 1463.4 L258.5 1462.7 L261.2 1462.0 L263.9 1461.2 L266.6 1460.4 L269.2 1459.5 L271.9 1458.5 L274.6 1457.5 L277.3 1456.3 L280.0 1455.1 L282.7 1453.8 L285.4 1452.4 L288.1 1450.8 L290.8 1449.0 L293.5 1446.9 L296.2 1444.7 L298.9 1442.2 L301.6 1439.5 L304.2 1436.5 L306.9 1433.0 L309.6 1429.0 L312.3 1424.7 L315.0 1420.1 L317.7 1415.3 L320.4 1410.4 L323.1 1405.4 L325.8 1399.9 L328.5 1394.0 L331.2 1388.0 L333.9 1381.9 L336.5 1375.9 L339.2 1370.2 L341.9 1364.3 L344.6 1358.3 L347.3 1352.5 L350.0 1347.3 L352.7 1342.9 L355.4 1339.3 L358.1 1335.9 L360.8 1332.9 L363.5 1330.3 L366.2 1328.4 L368.8 1327.2 L371.5 1326.3 L374.2 1325.6 L376.9 1325.1 L379.6 1325.1 L382.3 1325.5 L385.0 1326.2 L387.7 1327.1 L390.4 1328.1 L393.1 1329.3 L395.8 1330.5 L398.5 1332.1 L401.1 1334.1 L403.8 1336.5 L406.5 1339.2 L409.2 1342.0 L411.9 1344.9 L414.6 1347.8 L417.3 1350.6 L420.0 1353.2 L422.7 1355.9 L425.4 1358.7 L428.1 1361.6 L430.8 1364.5 L433.4 1367.4 L436.1 1370.1 L438.8 1372.7 L441.5 1375.0 L444.2 1377.1 L446.9 1379.1 L449.6 1381.1 L452.3 1383.0 L455.0 1384.8 L457.7 1386.4 L460.4 1388.0 L463.1 1389.3 L465.8 1390.4 L468.4 1391.3 L471.1 1392.1 L473.8 1392.8 L476.5 1393.4 L479.2 1393.9 L481.9 1394.5 L484.6 1394.9 L487.3 1395.4 L490.0 1395.8 L492.7 1396.1 L495.4 1396.5 L498.1 1396.8 L500.7 1397.1 L503.4 1397.4 L506.1 1397.7 L508.8 1398.0 L511.5 1398.2 L514.2 1398.5 L516.9 1398.7 L519.6 1399.0 L522.3 1399.2 L525.0 1399.4 L527.7 1399.7 L530.4 1399.9 L533.0 1400.1 L535.7 1400.4 L538.4 1400.6 L541.1 1400.8 L543.8 1401.1 L546.5 1401.3 L549.2 1401.5 L551.9 1401.7 L554.6 1401.9 L557.3 1402.1 L560.0 1402.4 L562.7 1402.6 L565.3 1402.8 L568.0 1403.0 L570.7 1403.2 L573.4 1403.4 L576.1 1403.6 L578.8 1403.8 L581.5 1404.0" fill="none" stroke="#a00068" stroke-width="3.6" />
<path d="M153.5 1469.7 L156.2 1469.7 L158.9 1469.7 L161.6 1469.7 L164.3 1469.7 L167.0 1469.7 L169.7 1469.7 L172.3 1469.7 L175.0 1469.7 L177.7 1469.7 L180.4 1469.7 L183.1 1469.7 L185.8 1469.7 L188.5 1469.7 L191.2 1469.7 L193.9 1469.7 L196.6 1469.7 L199.3 1469.7 L202.0 1469.7 L204.6 1469.6 L207.3 1469.6 L210.0 1469.5 L212.7 1469.4 L215.4 1469.3 L218.1 1469.3 L220.8 1469.2 L223.5 1469.0 L226.2 1468.9 L228.9 1468.7 L231.6 1468.4 L234.3 1468.0 L236.9 1467.6 L239.6 1467.1 L242.3 1466.6 L245.0 1466.0 L247.7 1465.4 L250.4 1464.7 L253.1 1464.1 L255.8 1463.4 L258.5 1462.7 L261.2 1462.0 L263.9 1461.2 L266.6 1460.4 L269.2 1459.5 L271.9 1458.6 L274.6 1457.5 L277.3 1456.4 L280.0 1455.2 L282.7 1453.8 L285.4 1452.4 L288.1 1450.7 L290.8 1448.8 L293.5 1446.6 L296.2 1444.1 L298.9 1441.4 L301.6 1438.4 L304.2 1435.2 L306.9 1431.3 L309.6 1427.0 L312.3 1422.2 L315.0 1417.0 L317.7 1411.5 L320.4 1405.7 L323.1 1399.6 L325.8 1392.5 L328.5 1384.6 L331.2 1376.3 L333.9 1368.0 L336.5 1360.1 L339.2 1352.9 L341.9 1345.9 L344.6 1339.0 L347.3 1332.4 L350.0 1326.4 L352.7 1321.0 L355.4 1316.2 L358.1 1311.5 L360.8 1307.2 L363.5 1303.5 L366.2 1300.6 L368.8 1298.6 L371.5 1296.8 L374.2 1295.2 L376.9 1293.8 L379.6 1292.5 L382.3 1291.5 L385.0 1290.7 L387.7 1290.2 L390.4 1290.1 L393.1 1290.4 L395.8 1291.1 L398.5 1292.0 L401.1 1293.2 L403.8 1294.4 L406.5 1295.6 L409.2 1296.7 L411.9 1298.0 L414.6 1299.4 L417.3 1300.9 L420.0 1302.5 L422.7 1304.1 L425.4 1305.8 L428.1 1307.4 L430.8 1309.0 L433.4 1310.5 L436.1 1312.2 L438.8 1313.8 L441.5 1315.5 L444.2 1317.2 L446.9 1318.8 L449.6 1320.4 L452.3 1322.0 L455.0 1323.4 L457.7 1324.8 L460.4 1326.1 L463.1 1327.4 L465.8 1328.7 L468.4 1329.9 L471.1 1331.1 L473.8 1332.3 L476.5 1333.4 L479.2 1334.6 L481.9 1335.7 L484.6 1336.7 L487.3 1337.8 L490.0 1338.8 L492.7 1339.7 L495.4 1340.7 L498.1 1341.6 L500.7 1342.6 L503.4 1343.5 L506.1 1344.4 L508.8 1345.3 L511.5 1346.2 L514.2 1347.0 L516.9 1347.8 L519.6 1348.5 L522.3 1349.2 L525.0 1349.8 L527.7 1350.4 L530.4 1351.0 L533.0 1351.4 L535.7 1351.9 L538.4 1352.3 L541.1 1352.6 L543.8 1353.0 L546.5 1353.4 L549.2 1353.7 L551.9 1354.1 L554.6 1354.5 L557.3 1354.9 L560.0 1355.3 L562.7 1355.7 L565.3 1356.1 L568.0 1356.5 L570.7 1356.9 L573.4 1357.4 L576.1 1357.8 L578.8 1358.2 L581.5 1358.7" fill="none" stroke="#9a6464" stroke-width="3.6" />
<line x1="180.25" y1="1285.5" x2="180.25" y2="1478.5" stroke="#4b4bae" stroke-width="2.2" stroke-dasharray="9.3 5.2" stroke-dashoffset="13"/>
<line x1="367.5" y1="1285.5" x2="367.5" y2="1478.5" stroke="#4b4bae" stroke-width="2.2" stroke-dasharray="9.3 5.2" stroke-dashoffset="13"/>
<line x1="554.75" y1="1285.5" x2="554.75" y2="1478.5" stroke="#4b4bae" stroke-width="2.2" stroke-dasharray="9.3 5.2" stroke-dashoffset="13"/>
</g>
<path d="M631.0 1355.0 L632.4 1354.1 L633.8 1353.3 L635.3 1352.4 L636.7 1351.5 L638.1 1350.6 L639.5 1349.7 L640.9 1348.7 L642.4 1347.7 L643.8 1346.7 L645.2 1345.7 L646.6 1344.7 L648.0 1343.7 L649.5 1342.6 L650.9 1341.6 L652.3 1340.5 L653.7 1339.4 L655.1 1338.3 L656.6 1337.2 L658.0 1336.0 L659.4 1334.9 L660.8 1333.7 L662.2 1332.5 L663.6 1331.4 L665.1 1330.2 L666.5 1329.0 L667.9 1327.8 L669.3 1326.6 L670.7 1325.4 L672.2 1324.2 L673.6 1323.0 L675.0 1321.8 L676.4 1320.6 L677.8 1319.4 L679.3 1318.2 L680.7 1317.0 L682.1 1315.8 L683.5 1314.6 L684.9 1313.4 L686.4 1312.3 L687.8 1311.1 L689.2 1310.0 L690.6 1308.9 L692.0 1307.7 L693.5 1306.7 L694.9 1305.6 L696.3 1304.5 L697.7 1303.5 L699.1 1302.5 L700.6 1301.5 L702.0 1300.5 L703.4 1299.6 L704.8 1298.7 L706.2 1297.8 L707.7 1296.9 L709.1 1296.1 L710.5 1295.3 L711.9 1294.5 L713.3 1293.8 L714.8 1293.1 L716.2 1292.5 L717.6 1291.8 L719.0 1291.3 L720.4 1290.7 L721.8 1290.2 L723.3 1289.7 L724.7 1289.3 L726.1 1288.9 L727.5 1288.6 L728.9 1288.3 L730.4 1288.0 L731.8 1287.8 L733.2 1287.7 L734.6 1287.5 L736.0 1287.4 L737.5 1287.4 L738.9 1287.4 L740.3 1287.5 L741.7 1287.6 L743.1 1287.7 L744.6 1287.9 L746.0 1288.1 L747.4 1288.4 L748.8 1288.7 L750.2 1289.0 L751.7 1289.4 L753.1 1289.8 L754.5 1290.3 L755.9 1290.8 L757.3 1291.4 L758.8 1292.0 L760.2 1292.6 L761.6 1293.3 L763.0 1294.0 L764.4 1294.7 L765.9 1295.5 L767.3 1296.3 L768.7 1297.1 L770.1 1298.0 L771.5 1298.9 L772.9 1299.8 L774.4 1300.7 L775.8 1301.7 L777.2 1302.7 L778.6 1303.7 L780.0 1304.8 L781.5 1305.8 L782.9 1306.9 L784.3 1308.0 L785.7 1309.1 L787.1 1310.3 L788.6 1311.4 L790.0 1312.6 L791.4 1313.7 L792.8 1314.9 L794.2 1316.1 L795.7 1317.3 L797.1 1318.5 L798.5 1319.7 L799.9 1320.9 L801.3 1322.1 L802.8 1323.3 L804.2 1324.5 L805.6 1325.7 L807.0 1326.9 L808.4 1328.1 L809.9 1329.3 L811.3 1330.5 L812.7 1331.7 L814.1 1332.8 L815.5 1334.0 L817.0 1335.2 L818.4 1336.3 L819.8 1337.4 L821.2 1338.5 L822.6 1339.7 L824.1 1340.7 L825.5 1341.8 L826.9 1342.9 L828.3 1343.9 L829.7 1345.0 L831.1 1346.0 L832.6 1347.0 L834.0 1348.0 L835.4 1348.9 L836.8 1349.9 L838.2 1350.8 L839.7 1351.7 L841.1 1352.6 L842.5 1353.5 L843.9 1354.3 L845.3 1355.2 L846.8 1356.0 L848.2 1356.8 L849.6 1357.5 L851.0 1358.3 L852.4 1359.0 L853.9 1359.7 L855.3 1360.4 L856.7 1361.1 L858.1 1361.8 L859.5 1362.4 L861.0 1363.0 L862.4 1363.6 L863.8 1364.2 L865.2 1364.8 L866.6 1365.3 L868.1 1365.8 L869.5 1366.3 L870.9 1366.8 L872.3 1367.3 L873.7 1367.8 L875.2 1368.2 L876.6 1368.6 L878.0 1369.0 L879.4 1369.4 L880.8 1369.8 L882.3 1370.2 L883.7 1370.5 L885.1 1370.9 L886.5 1371.2 L887.9 1371.5 L889.3 1371.8 L890.8 1372.1 L892.2 1372.4 L893.6 1372.6 L895.0 1372.9 L896.4 1373.1 L897.9 1373.3 L899.3 1373.6 L900.7 1373.8 L902.1 1374.0 L903.5 1374.2 L905.0 1374.3 L906.4 1374.5 L907.8 1374.7 L909.2 1374.8 L910.6 1375.0 L912.1 1375.1 L913.5 1375.3 L913.5 1375.3 L914.7 1375.4 L915.8 1375.9 L916.8 1376.8 L917.4 1377.8 L917.8 1379.0 L917.8 1380.2 L917.4 1381.4 L916.8 1382.4 L915.8 1383.3 L914.7 1383.8 L913.5 1383.9 L913.5 1383.9 L912.1 1384.1 L910.6 1384.2 L909.2 1384.4 L907.8 1384.5 L906.4 1384.7 L905.0 1384.9 L903.5 1385.0 L902.1 1385.2 L900.7 1385.4 L899.3 1385.6 L897.9 1385.9 L896.4 1386.1 L895.0 1386.3 L893.6 1386.6 L892.2 1386.8 L890.8 1387.1 L889.3 1387.4 L887.9 1387.7 L886.5 1388.0 L885.1 1388.3 L883.7 1388.7 L882.3 1389.0 L880.8 1389.4 L879.4 1389.8 L878.0 1390.2 L876.6 1390.6 L875.2 1391.0 L873.7 1391.4 L872.3 1391.9 L870.9 1392.4 L869.5 1392.9 L868.1 1393.4 L866.6 1393.9 L865.2 1394.4 L863.8 1395.0 L862.4 1395.6 L861.0 1396.2 L859.5 1396.8 L858.1 1397.4 L856.7 1398.1 L855.3 1398.8 L853.9 1399.5 L852.4 1400.2 L851.0 1400.9 L849.6 1401.7 L848.2 1402.4 L846.8 1403.2 L845.3 1404.0 L843.9 1404.9 L842.5 1405.7 L841.1 1406.6 L839.7 1407.5 L838.2 1408.4 L836.8 1409.3 L835.4 1410.3 L834.0 1411.2 L832.6 1412.2 L831.1 1413.2 L829.7 1414.2 L828.3 1415.3 L826.9 1416.3 L825.5 1417.4 L824.1 1418.5 L822.6 1419.5 L821.2 1420.7 L819.8 1421.8 L818.4 1422.9 L817.0 1424.0 L815.5 1425.2 L814.1 1426.4 L812.7 1427.5 L811.3 1428.7 L809.9 1429.9 L808.4 1431.1 L807.0 1432.3 L805.6 1433.5 L804.2 1434.7 L802.8 1435.9 L801.3 1437.1 L799.9 1438.3 L798.5 1439.5 L797.1 1440.7 L795.7 1441.9 L794.2 1443.1 L792.8 1444.3 L791.4 1445.5 L790.0 1446.6 L788.6 1447.8 L787.1 1448.9 L785.7 1450.1 L784.3 1451.2 L782.9 1452.3 L781.5 1453.4 L780.0 1454.4 L778.6 1455.5 L777.2 1456.5 L775.8 1457.5 L774.4 1458.5 L772.9 1459.4 L771.5 1460.3 L770.1 1461.2 L768.7 1462.1 L767.3 1462.9 L765.9 1463.7 L764.4 1464.5 L763.0 1465.2 L761.6 1465.9 L760.2 1466.6 L758.8 1467.2 L757.3 1467.8 L755.9 1468.4 L754.5 1468.9 L753.1 1469.4 L751.7 1469.8 L750.2 1470.2 L748.8 1470.5 L747.4 1470.8 L746.0 1471.1 L744.6 1471.3 L743.1 1471.5 L741.7 1471.6 L740.3 1471.7 L738.9 1471.8 L737.5 1471.8 L736.0 1471.8 L734.6 1471.7 L733.2 1471.5 L731.8 1471.4 L730.4 1471.2 L728.9 1470.9 L727.5 1470.6 L726.1 1470.3 L724.7 1469.9 L723.3 1469.5 L721.8 1469.0 L720.4 1468.5 L719.0 1467.9 L717.6 1467.4 L716.2 1466.7 L714.8 1466.1 L713.3 1465.4 L711.9 1464.7 L710.5 1463.9 L709.1 1463.1 L707.7 1462.3 L706.2 1461.4 L704.8 1460.5 L703.4 1459.6 L702.0 1458.7 L700.6 1457.7 L699.1 1456.7 L697.7 1455.7 L696.3 1454.7 L694.9 1453.6 L693.5 1452.5 L692.0 1451.5 L690.6 1450.3 L689.2 1449.2 L687.8 1448.1 L686.4 1446.9 L684.9 1445.8 L683.5 1444.6 L682.1 1443.4 L680.7 1442.2 L679.3 1441.0 L677.8 1439.8 L676.4 1438.6 L675.0 1437.4 L673.6 1436.2 L672.2 1435.0 L670.7 1433.8 L669.3 1432.6 L667.9 1431.4 L666.5 1430.2 L665.1 1429.0 L663.6 1427.8 L662.2 1426.7 L660.8 1425.5 L659.4 1424.3 L658.0 1423.2 L656.6 1422.0 L655.1 1420.9 L653.7 1419.8 L652.3 1418.7 L650.9 1417.6 L649.5 1416.6 L648.0 1415.5 L646.6 1414.5 L645.2 1413.5 L643.8 1412.5 L642.4 1411.5 L640.9 1410.5 L639.5 1409.5 L638.1 1408.6 L636.7 1407.7 L635.3 1406.8 L633.8 1405.9 L632.4 1405.1 L631.0 1404.2 L631.0 1404.2 L624.1 1403.2 L617.7 1400.3 L612.4 1395.7 L608.6 1389.8 L606.6 1383.1 L606.6 1376.1 L608.6 1369.4 L612.4 1363.5 L617.7 1358.9 L624.1 1356.0 L631.0 1355.0 Z" fill="#9cd39a" clip-path="url(#c15)"/>
<g clip-path="url(#c16)">
<path d="M684.5 1466.2 L689.9 1466.2 L695.3 1466.2 L700.7 1466.2 L706.0 1466.2 L711.4 1466.2 L716.8 1466.2 L722.2 1466.3 L727.6 1466.3 L733.0 1466.3 L738.3 1466.3 L743.7 1466.3 L749.1 1466.3 L754.5 1466.3 L759.9 1466.4 L765.3 1466.4 L770.6 1466.4 L776.0 1466.4 L781.4 1466.4 L786.8 1466.4 L792.2 1466.4 L797.6 1466.5 L802.9 1466.5 L808.3 1466.5 L813.7 1466.5 L819.1 1466.5 L824.5 1466.5 L829.9 1466.5 L835.2 1466.6 L840.6 1466.6 L846.0 1466.6 L851.4 1466.6 L856.8 1466.6 L862.2 1466.6 L867.5 1466.6 L872.9 1466.7 L878.3 1466.7 L883.7 1466.7 L889.1 1466.7 L894.5 1466.7 L899.8 1466.7 L905.2 1466.7 L910.6 1466.8 L916.0 1466.8 L921.4 1466.8 L926.8 1466.8 L932.1 1466.8 L937.5 1466.8 L942.9 1466.8 L948.3 1466.9 L953.7 1466.9 L959.1 1466.9 L964.4 1466.9 L969.8 1466.9 L975.2 1466.9 L980.6 1466.9 L986.0 1467.0 L991.4 1467.0 L996.8 1467.0 L1002.1 1467.0 L1007.5 1467.0 L1012.9 1467.0 L1018.3 1467.0 L1023.7 1467.1 L1029.1 1467.1 L1034.4 1467.1 L1039.8 1467.1 L1045.2 1467.1 L1050.6 1467.1 L1056.0 1467.1 L1061.4 1467.2 L1066.7 1467.2 L1072.1 1467.2 L1077.5 1467.2 L1082.9 1467.2 L1088.3 1467.2 L1093.7 1467.2 L1099.0 1467.3 L1104.4 1467.3 L1109.8 1467.3 L1115.2 1467.3 L1120.6 1467.3 L1126.0 1467.3 L1131.3 1467.3 L1136.7 1467.4 L1142.1 1467.4 L1147.5 1467.4 L1152.9 1467.4 L1158.3 1467.4 L1163.6 1467.4 L1169.0 1467.5 L1174.4 1467.5 L1179.8 1467.5 L1185.2 1467.5 L1190.6 1467.5 L1195.9 1467.5 L1201.3 1467.5 L1206.7 1467.6 L1212.1 1467.6 L1217.5 1467.6 L1222.9 1467.6 L1228.2 1467.6 L1233.6 1467.6 L1239.0 1467.6 L1244.4 1467.7 L1249.8 1467.7 L1255.2 1467.7 L1260.6 1467.7 L1265.9 1467.7 L1271.3 1467.7 L1276.7 1467.7 L1282.1 1467.8 L1287.5 1467.8 L1292.9 1467.8 L1298.2 1467.8 L1303.6 1467.8 L1309.0 1467.8 L1314.4 1467.8 L1319.8 1467.9 L1325.2 1467.9 L1330.5 1467.9 L1335.9 1467.9 L1341.3 1467.9 L1346.7 1467.9 L1352.1 1467.9 L1357.5 1468.0 L1362.8 1468.0 L1368.2 1468.0 L1373.6 1468.0 L1379.0 1468.0 L1384.4 1468.0 L1389.8 1468.0 L1395.1 1468.1 L1400.5 1468.1 L1405.9 1468.1 L1411.3 1468.1 L1416.7 1468.1 L1422.1 1468.1 L1427.4 1468.1 L1432.8 1468.2 L1438.2 1468.2 L1443.6 1468.2 L1449.0 1468.2 L1454.4 1468.2 L1459.7 1468.2 L1465.1 1468.2 L1470.5 1468.3 L1475.9 1468.3 L1481.3 1468.3 L1486.7 1468.3 L1492.0 1468.3 L1497.4 1468.3 L1502.8 1468.3 L1508.2 1468.4 L1513.6 1468.4 L1519.0 1468.4 L1524.3 1468.4 L1529.7 1468.4 L1535.1 1468.4 L1540.5 1468.4" fill="none" stroke="#a03008" stroke-width="3.6" stroke-dasharray="12.9 5.7" />
<path d="M684.5 1463.0 L689.9 1463.0 L695.3 1463.0 L700.7 1463.0 L706.0 1463.0 L711.4 1463.1 L716.8 1463.1 L722.2 1463.1 L727.6 1463.1 L733.0 1463.2 L738.3 1463.2 L743.7 1463.2 L749.1 1463.2 L754.5 1463.3 L759.9 1463.3 L765.3 1463.3 L770.6 1463.3 L776.0 1463.4 L781.4 1463.4 L786.8 1463.4 L792.2 1463.4 L797.6 1463.5 L802.9 1463.5 L808.3 1463.5 L813.7 1463.5 L819.1 1463.6 L824.5 1463.6 L829.9 1463.6 L835.2 1463.6 L840.6 1463.7 L846.0 1463.7 L851.4 1463.7 L856.8 1463.7 L862.2 1463.8 L867.5 1463.8 L872.9 1463.8 L878.3 1463.8 L883.7 1463.9 L889.1 1463.9 L894.5 1463.9 L899.8 1463.9 L905.2 1464.0 L910.6 1464.0 L916.0 1464.0 L921.4 1464.0 L926.8 1464.1 L932.1 1464.1 L937.5 1464.1 L942.9 1464.1 L948.3 1464.2 L953.7 1464.2 L959.1 1464.2 L964.4 1464.2 L969.8 1464.2 L975.2 1464.3 L980.6 1464.3 L986.0 1464.3 L991.4 1464.3 L996.8 1464.4 L1002.1 1464.4 L1007.5 1464.4 L1012.9 1464.4 L1018.3 1464.5 L1023.7 1464.5 L1029.1 1464.5 L1034.4 1464.5 L1039.8 1464.6 L1045.2 1464.6 L1050.6 1464.6 L1056.0 1464.6 L1061.4 1464.7 L1066.7 1464.7 L1072.1 1464.7 L1077.5 1464.7 L1082.9 1464.8 L1088.3 1464.8 L1093.7 1464.8 L1099.0 1464.8 L1104.4 1464.9 L1109.8 1464.9 L1115.2 1464.9 L1120.6 1464.9 L1126.0 1465.0 L1131.3 1465.0 L1136.7 1465.0 L1142.1 1465.0 L1147.5 1465.1 L1152.9 1465.1 L1158.3 1465.1 L1163.6 1465.1 L1169.0 1465.2 L1174.4 1465.2 L1179.8 1465.2 L1185.2 1465.2 L1190.6 1465.3 L1195.9 1465.3 L1201.3 1465.3 L1206.7 1465.3 L1212.1 1465.3 L1217.5 1465.4 L1222.9 1465.4 L1228.2 1465.4 L1233.6 1465.4 L1239.0 1465.5 L1244.4 1465.5 L1249.8 1465.5 L1255.2 1465.5 L1260.6 1465.6 L1265.9 1465.6 L1271.3 1465.6 L1276.7 1465.6 L1282.1 1465.7 L1287.5 1465.7 L1292.9 1465.7 L1298.2 1465.7 L1303.6 1465.8 L1309.0 1465.8 L1314.4 1465.8 L1319.8 1465.8 L1325.2 1465.9 L1330.5 1465.9 L1335.9 1465.9 L1341.3 1465.9 L1346.7 1466.0 L1352.1 1466.0 L1357.5 1466.0 L1362.8 1466.0 L1368.2 1466.1 L1373.6 1466.1 L1379.0 1466.1 L1384.4 1466.1 L1389.8 1466.2 L1395.1 1466.2 L1400.5 1466.2 L1405.9 1466.2 L1411.3 1466.3 L1416.7 1466.3 L1422.1 1466.3 L1427.4 1466.3 L1432.8 1466.4 L1438.2 1466.4 L1443.6 1466.4 L1449.0 1466.4 L1454.4 1466.5 L1459.7 1466.5 L1465.1 1466.5 L1470.5 1466.5 L1475.9 1466.5 L1481.3 1466.6 L1486.7 1466.6 L1492.0 1466.6 L1497.4 1466.6 L1502.8 1466.7 L1508.2 1466.7 L1513.6 1466.7 L1519.0 1466.7 L1524.3 1466.8 L1529.7 1466.8 L1535.1 1466.8 L1540.5 1466.8" fill="none" stroke="#9e9a08" stroke-width="3.6" stroke-dasharray="12.9 5.7" />
<path d="M684.5 1458.8 L689.9 1457.3 L695.3 1455.7 L700.7 1454.1 L706.0 1452.5 L711.4 1450.7 L716.8 1448.8 L722.2 1447.0 L727.6 1445.6 L733.0 1444.5 L738.3 1443.4 L743.7 1442.8 L749.1 1442.8 L754.5 1443.2 L759.9 1444.0 L765.3 1444.9 L770.6 1445.8 L776.0 1446.8 L781.4 1447.9 L786.8 1449.2 L792.2 1450.5 L797.6 1451.8 L802.9 1452.9 L808.3 1454.1 L813.7 1455.2 L819.1 1456.4 L824.5 1457.4 L829.9 1458.3 L835.2 1458.9 L840.6 1459.5 L846.0 1459.9 L851.4 1460.4 L856.8 1460.8 L862.2 1461.1 L867.5 1461.4 L872.9 1461.6 L878.3 1461.7 L883.7 1461.8 L889.1 1461.9 L894.5 1462.0 L899.8 1462.0 L905.2 1462.1 L910.6 1462.2 L916.0 1462.2 L921.4 1462.3 L926.8 1462.3 L932.1 1462.3 L937.5 1462.4 L942.9 1462.4 L948.3 1462.5 L953.7 1462.5 L959.1 1462.6 L964.4 1462.6 L969.8 1462.6 L975.2 1462.7 L980.6 1462.7 L986.0 1462.8 L991.4 1462.8 L996.8 1462.9 L1002.1 1462.9 L1007.5 1462.9 L1012.9 1463.0 L1018.3 1463.0 L1023.7 1463.1 L1029.1 1463.1 L1034.4 1463.1 L1039.8 1463.2 L1045.2 1463.2 L1050.6 1463.2 L1056.0 1463.3 L1061.4 1463.3 L1066.7 1463.3 L1072.1 1463.4 L1077.5 1463.4 L1082.9 1463.5 L1088.3 1463.5 L1093.7 1463.5 L1099.0 1463.6 L1104.4 1463.6 L1109.8 1463.6 L1115.2 1463.7 L1120.6 1463.7 L1126.0 1463.7 L1131.3 1463.8 L1136.7 1463.8 L1142.1 1463.8 L1147.5 1463.9 L1152.9 1463.9 L1158.3 1463.9 L1163.6 1464.0 L1169.0 1464.0 L1174.4 1464.0 L1179.8 1464.1 L1185.2 1464.1 L1190.6 1464.1 L1195.9 1464.2 L1201.3 1464.2 L1206.7 1464.2 L1212.1 1464.3 L1217.5 1464.3 L1222.9 1464.4 L1228.2 1464.4 L1233.6 1464.4 L1239.0 1464.5 L1244.4 1464.5 L1249.8 1464.5 L1255.2 1464.6 L1260.6 1464.6 L1265.9 1464.6 L1271.3 1464.7 L1276.7 1464.7 L1282.1 1464.7 L1287.5 1464.8 L1292.9 1464.8 L1298.2 1464.8 L1303.6 1464.9 L1309.0 1464.9 L1314.4 1464.9 L1319.8 1465.0 L1325.2 1465.0 L1330.5 1465.0 L1335.9 1465.1 L1341.3 1465.1 L1346.7 1465.1 L1352.1 1465.2 L1357.5 1465.2 L1362.8 1465.2 L1368.2 1465.3 L1373.6 1465.3 L1379.0 1465.3 L1384.4 1465.4 L1389.8 1465.4 L1395.1 1465.4 L1400.5 1465.5 L1405.9 1465.5 L1411.3 1465.5 L1416.7 1465.6 L1422.1 1465.6 L1427.4 1465.6 L1432.8 1465.7 L1438.2 1465.7 L1443.6 1465.7 L1449.0 1465.7 L1454.4 1465.8 L1459.7 1465.8 L1465.1 1465.8 L1470.5 1465.9 L1475.9 1465.9 L1481.3 1465.9 L1486.7 1466.0 L1492.0 1466.0 L1497.4 1466.0 L1502.8 1466.1 L1508.2 1466.1 L1513.6 1466.1 L1519.0 1466.1 L1524.3 1466.2 L1529.7 1466.2 L1535.1 1466.2 L1540.5 1466.3" fill="none" stroke="#a03008" stroke-width="3.6" />
<path d="M684.5 1462.8 L689.9 1461.3 L695.3 1459.6 L700.7 1457.8 L706.0 1455.9 L711.4 1453.6 L716.8 1451.0 L722.2 1448.5 L727.6 1446.8 L733.0 1445.4 L738.3 1444.2 L743.7 1443.2 L749.1 1442.7 L754.5 1442.8 L759.9 1443.3 L765.3 1444.0 L770.6 1444.9 L776.0 1445.8 L781.4 1446.8 L786.8 1447.9 L792.2 1449.2 L797.6 1450.4 L802.9 1451.5 L808.3 1452.6 L813.7 1453.7 L819.1 1454.8 L824.5 1455.7 L829.9 1456.6 L835.2 1457.2 L840.6 1457.8 L846.0 1458.3 L851.4 1458.8 L856.8 1459.3 L862.2 1459.7 L867.5 1460.0 L872.9 1460.2 L878.3 1460.3 L883.7 1460.4 L889.1 1460.5 L894.5 1460.6 L899.8 1460.6 L905.2 1460.7 L910.6 1460.7 L916.0 1460.8 L921.4 1460.8 L926.8 1460.8 L932.1 1460.9 L937.5 1460.9 L942.9 1460.9 L948.3 1461.0 L953.7 1461.0 L959.1 1461.1 L964.4 1461.1 L969.8 1461.2 L975.2 1461.2 L980.6 1461.3 L986.0 1461.3 L991.4 1461.4 L996.8 1461.4 L1002.1 1461.5 L1007.5 1461.5 L1012.9 1461.5 L1018.3 1461.6 L1023.7 1461.6 L1029.1 1461.7 L1034.4 1461.7 L1039.8 1461.8 L1045.2 1461.8 L1050.6 1461.9 L1056.0 1461.9 L1061.4 1462.0 L1066.7 1462.0 L1072.1 1462.1 L1077.5 1462.1 L1082.9 1462.2 L1088.3 1462.2 L1093.7 1462.2 L1099.0 1462.3 L1104.4 1462.3 L1109.8 1462.4 L1115.2 1462.4 L1120.6 1462.5 L1126.0 1462.5 L1131.3 1462.6 L1136.7 1462.6 L1142.1 1462.6 L1147.5 1462.7 L1152.9 1462.7 L1158.3 1462.8 L1163.6 1462.8 L1169.0 1462.9 L1174.4 1462.9 L1179.8 1462.9 L1185.2 1463.0 L1190.6 1463.0 L1195.9 1463.1 L1201.3 1463.1 L1206.7 1463.2 L1212.1 1463.2 L1217.5 1463.2 L1222.9 1463.3 L1228.2 1463.3 L1233.6 1463.4 L1239.0 1463.4 L1244.4 1463.4 L1249.8 1463.5 L1255.2 1463.5 L1260.6 1463.6 L1265.9 1463.6 L1271.3 1463.6 L1276.7 1463.7 L1282.1 1463.7 L1287.5 1463.8 L1292.9 1463.8 L1298.2 1463.8 L1303.6 1463.9 L1309.0 1463.9 L1314.4 1464.0 L1319.8 1464.0 L1325.2 1464.0 L1330.5 1464.1 L1335.9 1464.1 L1341.3 1464.1 L1346.7 1464.2 L1352.1 1464.2 L1357.5 1464.3 L1362.8 1464.3 L1368.2 1464.3 L1373.6 1464.4 L1379.0 1464.4 L1384.4 1464.5 L1389.8 1464.5 L1395.1 1464.5 L1400.5 1464.6 L1405.9 1464.6 L1411.3 1464.6 L1416.7 1464.7 L1422.1 1464.7 L1427.4 1464.7 L1432.8 1464.8 L1438.2 1464.8 L1443.6 1464.9 L1449.0 1464.9 L1454.4 1464.9 L1459.7 1465.0 L1465.1 1465.0 L1470.5 1465.0 L1475.9 1465.1 L1481.3 1465.1 L1486.7 1465.1 L1492.0 1465.2 L1497.4 1465.2 L1502.8 1465.2 L1508.2 1465.3 L1513.6 1465.3 L1519.0 1465.3 L1524.3 1465.4 L1529.7 1465.4 L1535.1 1465.4 L1540.5 1465.5" fill="none" stroke="#9e9a08" stroke-width="3.6" />
<line x1="738" y1="1285.5" x2="738" y2="1478.5" stroke="#4e8a5a" stroke-width="2.2" stroke-dasharray="9.3 5.2" stroke-dashoffset="13"/>
<line x1="925.25" y1="1285.5" x2="925.25" y2="1478.5" stroke="#4e8a5a" stroke-width="2.2" stroke-dasharray="9.3 5.2" stroke-dashoffset="13"/>
<line x1="1112.5" y1="1285.5" x2="1112.5" y2="1478.5" stroke="#4e8a5a" stroke-width="2.2" stroke-dasharray="9.3 5.2" stroke-dashoffset="13"/>
<line x1="1299.75" y1="1285.5" x2="1299.75" y2="1478.5" stroke="#4e8a5a" stroke-width="2.2" stroke-dasharray="9.3 5.2" stroke-dashoffset="13"/>
<line x1="1487" y1="1285.5" x2="1487" y2="1478.5" stroke="#4e8a5a" stroke-width="2.2" stroke-dasharray="9.3 5.2" stroke-dashoffset="13"/>
</g>
<rect x="153.5" y="1285.5" width="428" height="193" fill="none" stroke="#717171" stroke-width="1" />
<rect x="684.5" y="1285.5" width="856" height="193" fill="none" stroke="#717171" stroke-width="1" />
<line x1="153.5" y1="1285.5" x2="153.5" y2="1289" stroke="#555" stroke-width="1.1" />
<line x1="260.5" y1="1285.5" x2="260.5" y2="1289" stroke="#555" stroke-width="1.1" />
<line x1="367.5" y1="1285.5" x2="367.5" y2="1289" stroke="#555" stroke-width="1.1" />
<line x1="474.5" y1="1285.5" x2="474.5" y2="1289" stroke="#555" stroke-width="1.1" />
<line x1="581.5" y1="1285.5" x2="581.5" y2="1289" stroke="#555" stroke-width="1.1" />
<line x1="153.5" y1="1478.5" x2="153.5" y2="1482" stroke="#555" stroke-width="1.1" />
<line x1="260.5" y1="1478.5" x2="260.5" y2="1482" stroke="#555" stroke-width="1.1" />
<line x1="367.5" y1="1478.5" x2="367.5" y2="1482" stroke="#555" stroke-width="1.1" />
<line x1="474.5" y1="1478.5" x2="474.5" y2="1482" stroke="#555" stroke-width="1.1" />
<line x1="581.5" y1="1478.5" x2="581.5" y2="1482" stroke="#555" stroke-width="1.1" />
<line x1="738" y1="1285.5" x2="738" y2="1289" stroke="#555" stroke-width="1.1" />
<line x1="845" y1="1285.5" x2="845" y2="1289" stroke="#555" stroke-width="1.1" />
<line x1="952" y1="1285.5" x2="952" y2="1289" stroke="#555" stroke-width="1.1" />
<line x1="1059" y1="1285.5" x2="1059" y2="1289" stroke="#555" stroke-width="1.1" />
<line x1="1166" y1="1285.5" x2="1166" y2="1289" stroke="#555" stroke-width="1.1" />
<line x1="1273" y1="1285.5" x2="1273" y2="1289" stroke="#555" stroke-width="1.1" />
<line x1="1380" y1="1285.5" x2="1380" y2="1289" stroke="#555" stroke-width="1.1" />
<line x1="1487" y1="1285.5" x2="1487" y2="1289" stroke="#555" stroke-width="1.1" />
<line x1="738" y1="1478.5" x2="738" y2="1482" stroke="#555" stroke-width="1.1" />
<line x1="845" y1="1478.5" x2="845" y2="1482" stroke="#555" stroke-width="1.1" />
<line x1="952" y1="1478.5" x2="952" y2="1482" stroke="#555" stroke-width="1.1" />
<line x1="1059" y1="1478.5" x2="1059" y2="1482" stroke="#555" stroke-width="1.1" />
<line x1="1166" y1="1478.5" x2="1166" y2="1482" stroke="#555" stroke-width="1.1" />
<line x1="1273" y1="1478.5" x2="1273" y2="1482" stroke="#555" stroke-width="1.1" />
<line x1="1380" y1="1478.5" x2="1380" y2="1482" stroke="#555" stroke-width="1.1" />
<line x1="1487" y1="1478.5" x2="1487" y2="1482" stroke="#555" stroke-width="1.1" />
<line x1="563.5" y1="1303.5" x2="599.5" y2="1267.5" stroke="#444" stroke-width="0.95" />
<line x1="563.5" y1="1496.5" x2="599.5" y2="1460.5" stroke="#444" stroke-width="0.95" />
<line x1="666.5" y1="1303.5" x2="702.5" y2="1267.5" stroke="#444" stroke-width="0.95" />
<line x1="666.5" y1="1496.5" x2="702.5" y2="1460.5" stroke="#444" stroke-width="0.95" />
<line x1="150.3" y1="1276.5" x2="153.5" y2="1276.5" stroke="#717171" stroke-width="1.1" />
<text x="140.5" y="1284.8" font-size="23.5" text-anchor="end">0</text>
<line x1="150.3" y1="1231.5" x2="153.5" y2="1231.5" stroke="#717171" stroke-width="1.1" />
<text x="140.5" y="1239.8" font-size="23.5" text-anchor="end">0.25</text>
<line x1="150.3" y1="1186.5" x2="153.5" y2="1186.5" stroke="#717171" stroke-width="1.1" />
<text x="140.5" y="1194.8" font-size="23.5" text-anchor="end">0.50</text>
<line x1="150.3" y1="1141.5" x2="153.5" y2="1141.5" stroke="#717171" stroke-width="1.1" />
<text x="140.5" y="1149.8" font-size="23.5" text-anchor="end">0.75</text>
<line x1="150.3" y1="1096.5" x2="153.5" y2="1096.5" stroke="#717171" stroke-width="1.1" />
<text x="140.5" y="1104.8" font-size="23.5" text-anchor="end">1.00</text>
<line x1="150.3" y1="1469.7" x2="153.5" y2="1469.7" stroke="#717171" stroke-width="1.1" />
<text x="140.5" y="1478" font-size="23.5" text-anchor="end">0</text>
<line x1="150.3" y1="1412.5" x2="153.5" y2="1412.5" stroke="#717171" stroke-width="1.1" />
<text x="140.5" y="1420.8" font-size="23.5" text-anchor="end">0.05</text>
<line x1="150.3" y1="1355.29" x2="153.5" y2="1355.29" stroke="#717171" stroke-width="1.1" />
<text x="140.5" y="1363.59" font-size="23.5" text-anchor="end">0.10</text>
<line x1="150.3" y1="1298.09" x2="153.5" y2="1298.09" stroke="#717171" stroke-width="1.1" />
<text x="140.5" y="1306.39" font-size="23.5" text-anchor="end">0.15</text>
<line x1="1540.5" y1="1108" x2="1544" y2="1108" stroke="#717171" stroke-width="1.1" />
<text x="1553.5" y="1116.2" font-size="23.5">4</text>
<line x1="1540.5" y1="1147.6" x2="1544" y2="1147.6" stroke="#717171" stroke-width="1.1" />
<text x="1553.5" y="1155.8" font-size="23.5">2</text>
<line x1="1540.5" y1="1187.2" x2="1544" y2="1187.2" stroke="#717171" stroke-width="1.1" />
<text x="1553.5" y="1195.4" font-size="23.5">0</text>
<line x1="1540.5" y1="1226.8" x2="1544" y2="1226.8" stroke="#717171" stroke-width="1.1" />
<text x="1553.5" y="1235" font-size="23.5" textLength="23" lengthAdjust="spacingAndGlyphs">–2</text>
<line x1="1540.5" y1="1266.4" x2="1544" y2="1266.4" stroke="#717171" stroke-width="1.1" />
<text x="1553.5" y="1274.6" font-size="23.5" textLength="23" lengthAdjust="spacingAndGlyphs">–4</text>
<line x1="1540.5" y1="1301.2" x2="1544" y2="1301.2" stroke="#717171" stroke-width="1.1" />
<text x="1553.5" y="1309.4" font-size="23.5">4</text>
<line x1="1540.5" y1="1340.4" x2="1544" y2="1340.4" stroke="#717171" stroke-width="1.1" />
<text x="1553.5" y="1348.6" font-size="23.5">2</text>
<line x1="1540.5" y1="1379.6" x2="1544" y2="1379.6" stroke="#717171" stroke-width="1.1" />
<text x="1553.5" y="1387.8" font-size="23.5">0</text>
<line x1="1540.5" y1="1418.8" x2="1544" y2="1418.8" stroke="#717171" stroke-width="1.1" />
<text x="1553.5" y="1427" font-size="23.5" textLength="23" lengthAdjust="spacingAndGlyphs">–2</text>
<line x1="1540.5" y1="1458" x2="1544" y2="1458" stroke="#717171" stroke-width="1.1" />
<text x="1553.5" y="1466.2" font-size="23.5" textLength="23" lengthAdjust="spacingAndGlyphs">–4</text>
<text x="180.25" y="1076" font-size="23.5" text-anchor="middle" textLength="45" lengthAdjust="spacingAndGlyphs">–175</text>
<text x="367.5" y="1076" font-size="23.5" text-anchor="middle">0</text>
<text x="554.75" y="1076" font-size="23.5" text-anchor="middle">175</text>
<text x="737.5" y="1074.8" font-size="23.5" text-anchor="middle">2,000</text>
<text x="924.75" y="1074.8" font-size="23.5" text-anchor="middle">2,175</text>
<text x="1112" y="1074.8" font-size="23.5" text-anchor="middle">2,350</text>
<text x="1299.25" y="1074.8" font-size="23.5" text-anchor="middle">2,525</text>
<text x="1486.5" y="1074.8" font-size="23.5" text-anchor="middle">2,700</text>
<text x="1534.8" y="1076.2" font-size="23.5">(×10<tspan font-size="15" dy="-11">7</tspan><tspan dy="11">)</tspan></text>
<text x="772.5" y="1040.5" font-size="28">Time (fs)</text>
<text x="1591" y="1275" font-size="28.8" text-anchor="middle" transform="rotate(90 1591 1275)">Electric field (V m<tspan font-size="17" dy="-11">–1</tspan><tspan dy="11">)</tspan></text>
<text x="73.8" y="1175" font-size="28.8" text-anchor="middle" transform="rotate(-90 73.8 1175)">Population</text>
<text x="73.8" y="1385" font-size="28.8" text-anchor="middle" transform="rotate(-90 73.8 1385)">Coherence</text>
<text stroke="#000" stroke-width="1.2" x="1.5" y="1029" font-size="38" font-weight="bold">b</text>
<text x="8" y="1071.5" font-size="23.5">i</text>
<text x="4" y="1307.5" font-size="23.5">ii</text>
<text x="0" y="1528.5" font-size="23.5">iii</text>
<line x1="78" y1="811.3" x2="181.6" y2="811.3" stroke="#de2d20" stroke-width="7.2" stroke-dasharray="26 12.7"/>
<line x1="78" y1="840.6" x2="181.6" y2="840.6" stroke="#f4a11c" stroke-width="7.2" stroke-dasharray="26 12.7"/>
<line x1="74.4" y1="868" x2="190.5" y2="868" stroke="#de2d20" stroke-width="7.7" />
<line x1="74.4" y1="897" x2="190.5" y2="897" stroke="#f4a11c" stroke-width="7.7" />
<line x1="212.9" y1="801" x2="212.9" y2="910.8" stroke="#333" stroke-width="2" />
<text x="228.6" y="820" font-size="25.7" textLength="109.3" lengthAdjust="spacingAndGlyphs">S<tspan font-size="19" dy="7.3">0</tspan><tspan dy="-7.3"> pump</tspan></text>
<text x="228.6" y="848.5" font-size="25.7" textLength="103.7" lengthAdjust="spacingAndGlyphs">S<tspan font-size="19" dy="7.3">1</tspan><tspan dy="-7.3"> pump</tspan></text>
<text x="228.6" y="876.5" font-size="25.7" textLength="293.7" lengthAdjust="spacingAndGlyphs">S<tspan font-size="19" dy="7.3">0</tspan><tspan dy="-7.3"> pump–dump, 350 fs</tspan></text>
<text x="228.6" y="904.5" font-size="25.7" textLength="289" lengthAdjust="spacingAndGlyphs">S<tspan font-size="19" dy="7.3">1</tspan><tspan dy="-7.3"> pump–dump, 350 fs</tspan></text>
<line x1="76.5" y1="1789" x2="181.2" y2="1789" stroke="#de2d20" stroke-width="7.2" stroke-dasharray="27 11.7"/>
<line x1="76.5" y1="1817.7" x2="181.2" y2="1817.7" stroke="#f4a11c" stroke-width="7.2" stroke-dasharray="27 11.7"/>
<line x1="74" y1="1845.3" x2="189.8" y2="1845.3" stroke="#de2d20" stroke-width="7.7" />
<line x1="74" y1="1873.9" x2="189.8" y2="1873.9" stroke="#f4a11c" stroke-width="7.7" />
<line x1="212.6" y1="1778.9" x2="212.6" y2="1887.9" stroke="#333" stroke-width="2" />
<text x="226" y="1799.2" font-size="25.7" textLength="109" lengthAdjust="spacingAndGlyphs">S<tspan font-size="19" dy="7.3">0</tspan><tspan dy="-7.3"> pump</tspan></text>
<text x="226" y="1827.8" font-size="25.7" textLength="104" lengthAdjust="spacingAndGlyphs">S<tspan font-size="19" dy="7.3">1</tspan><tspan dy="-7.3"> pump</tspan></text>
<text x="226" y="1855.7" font-size="25.7" textLength="257.8" lengthAdjust="spacingAndGlyphs">S<tspan font-size="19" dy="7.3">0</tspan><tspan dy="-7.3"> pump–dump, 2 fs</tspan></text>
<text x="226" y="1883.6" font-size="25.7" textLength="252.2" lengthAdjust="spacingAndGlyphs">S<tspan font-size="19" dy="7.3">1</tspan><tspan dy="-7.3"> pump–dump, 2 fs</tspan></text>
<rect x="1634.4" y="866.03" width="21.8" height="56.27" fill="#3b0309" />
<rect x="1634.4" y="810.06" width="21.8" height="56.27" fill="#971b11" />
<rect x="1634.4" y="754.09" width="21.8" height="56.27" fill="#dc2e22" />
<rect x="1634.4" y="698.11" width="21.8" height="56.27" fill="#eb5a1e" />
<rect x="1634.4" y="642.14" width="21.8" height="56.27" fill="#f6b21f" />
<rect x="1634.4" y="586.17" width="21.8" height="56.27" fill="#ebdf3f" />
<rect x="1634.4" y="530.2" width="21.8" height="56.27" fill="#f6f2b4" />
<path d="M1634.4 530.2L1645.3 510.7L1656.2 530.2Z" fill="#ffffff"/>
<path d="M1634.4 922.0L1645.3 939.3L1656.2 922.0Z" fill="#150506"/>
<path d="M1634.4 530.2L1645.3 510.7L1656.2 530.2L1656.2 922.0L1645.3 939.3L1634.4 922.0Z" fill="none" stroke="#666" stroke-width="0.9"/>
<line x1="1656.2" y1="922" x2="1660" y2="922" stroke="#444" stroke-width="1" />
<text x="1669.8" y="929.8" font-size="22" textLength="51.2" lengthAdjust="spacingAndGlyphs">0.010</text>
<line x1="1656.2" y1="866.03" x2="1660" y2="866.03" stroke="#444" stroke-width="1" />
<text x="1669.8" y="873.83" font-size="22" textLength="51.2" lengthAdjust="spacingAndGlyphs">0.025</text>
<line x1="1656.2" y1="810.06" x2="1660" y2="810.06" stroke="#444" stroke-width="1" />
<text x="1669.8" y="817.86" font-size="22" textLength="51.2" lengthAdjust="spacingAndGlyphs">0.040</text>
<line x1="1656.2" y1="754.09" x2="1660" y2="754.09" stroke="#444" stroke-width="1" />
<text x="1669.8" y="761.89" font-size="22" textLength="51.2" lengthAdjust="spacingAndGlyphs">0.055</text>
<line x1="1656.2" y1="698.11" x2="1660" y2="698.11" stroke="#444" stroke-width="1" />
<text x="1669.8" y="705.91" font-size="22" textLength="51.2" lengthAdjust="spacingAndGlyphs">0.070</text>
<line x1="1656.2" y1="642.14" x2="1660" y2="642.14" stroke="#444" stroke-width="1" />
<text x="1669.8" y="649.94" font-size="22" textLength="51.2" lengthAdjust="spacingAndGlyphs">0.085</text>
<line x1="1656.2" y1="586.17" x2="1660" y2="586.17" stroke="#444" stroke-width="1" />
<text x="1669.8" y="593.97" font-size="22" textLength="51.2" lengthAdjust="spacingAndGlyphs">0.100</text>
<line x1="1656.2" y1="530.2" x2="1660" y2="530.2" stroke="#444" stroke-width="1" />
<text x="1669.8" y="538" font-size="22" textLength="51.2" lengthAdjust="spacingAndGlyphs">0.115</text>
<text x="1620.9" y="720" font-size="28.5" text-anchor="middle" transform="rotate(-90 1620.9 720)" textLength="233" lengthAdjust="spacingAndGlyphs">Wigner probability</text>
<rect x="1634.5" y="1855" width="22.1" height="56.3" fill="#3b0309" />
<rect x="1634.5" y="1799" width="22.1" height="56.3" fill="#971b11" />
<rect x="1634.5" y="1743" width="22.1" height="56.3" fill="#dc2e22" />
<rect x="1634.5" y="1687" width="22.1" height="56.3" fill="#eb5a1e" />
<rect x="1634.5" y="1631" width="22.1" height="56.3" fill="#f6b21f" />
<rect x="1634.5" y="1575" width="22.1" height="56.3" fill="#ebdf3f" />
<rect x="1634.5" y="1519" width="22.1" height="56.3" fill="#f6f2b4" />
<path d="M1634.5 1519.0L1645.5 1499.5L1656.6 1519.0Z" fill="#ffffff"/>
<path d="M1634.5 1911.0L1645.5 1929.0L1656.6 1911.0Z" fill="#150506"/>
<path d="M1634.5 1519.0L1645.5 1499.5L1656.6 1519.0L1656.6 1911.0L1645.5 1929.0L1634.5 1911.0Z" fill="none" stroke="#666" stroke-width="0.9"/>
<line x1="1656.6" y1="1911" x2="1660.4" y2="1911" stroke="#444" stroke-width="1" />
<text x="1669.8" y="1918.8" font-size="22" textLength="51.2" lengthAdjust="spacingAndGlyphs">0.010</text>
<line x1="1656.6" y1="1855" x2="1660.4" y2="1855" stroke="#444" stroke-width="1" />
<text x="1669.8" y="1862.8" font-size="22" textLength="51.2" lengthAdjust="spacingAndGlyphs">0.025</text>
<line x1="1656.6" y1="1799" x2="1660.4" y2="1799" stroke="#444" stroke-width="1" />
<text x="1669.8" y="1806.8" font-size="22" textLength="51.2" lengthAdjust="spacingAndGlyphs">0.040</text>
<line x1="1656.6" y1="1743" x2="1660.4" y2="1743" stroke="#444" stroke-width="1" />
<text x="1669.8" y="1750.8" font-size="22" textLength="51.2" lengthAdjust="spacingAndGlyphs">0.055</text>
<line x1="1656.6" y1="1687" x2="1660.4" y2="1687" stroke="#444" stroke-width="1" />
<text x="1669.8" y="1694.8" font-size="22" textLength="51.2" lengthAdjust="spacingAndGlyphs">0.070</text>
<line x1="1656.6" y1="1631" x2="1660.4" y2="1631" stroke="#444" stroke-width="1" />
<text x="1669.8" y="1638.8" font-size="22" textLength="51.2" lengthAdjust="spacingAndGlyphs">0.085</text>
<line x1="1656.6" y1="1575" x2="1660.4" y2="1575" stroke="#444" stroke-width="1" />
<text x="1669.8" y="1582.8" font-size="22" textLength="51.2" lengthAdjust="spacingAndGlyphs">0.100</text>
<line x1="1656.6" y1="1519" x2="1660.4" y2="1519" stroke="#444" stroke-width="1" />
<text x="1669.8" y="1526.8" font-size="22" textLength="51.2" lengthAdjust="spacingAndGlyphs">0.115</text>
<text x="1620.9" y="1708.8" font-size="28.5" text-anchor="middle" transform="rotate(-90 1620.9 1708.8)" textLength="233" lengthAdjust="spacingAndGlyphs">Wigner probability</text>
<text x="75.9" y="604.5" font-size="28" text-anchor="middle" transform="rotate(-90 75.9 604.5)">Pump</text>
<text x="606.9" y="885" font-size="28" transform="rotate(-90 606.9 885)">Pump</text>
<text x="636" y="885" font-size="28" transform="rotate(-90 636 885)">Dump</text>
<text x="90.6" y="1607.1" font-size="28" text-anchor="middle" transform="rotate(-90 90.6 1607.1)">Pump</text>
<text x="622.3" y="1877.5" font-size="28" transform="rotate(-90 622.3 1877.5)">Pump</text>
<text x="651.5" y="1877.5" font-size="28" transform="rotate(-90 651.5 1877.5)">Dump</text>
<circle cx="173.0" cy="606.7" r="66.5" fill="#3b0309"/>
<circle cx="173.0" cy="606.7" r="65.3" fill="#971b11" stroke="#000" stroke-width="1.7"/>
<circle cx="173.0" cy="606.7" r="63.6" fill="#dc2e22" stroke="#000" stroke-width="1.7"/>
<circle cx="173.0" cy="606.7" r="59.0" fill="#eb5a1e" stroke="#000" stroke-width="1.7"/>
<circle cx="173.0" cy="606.7" r="54.4" fill="#f6b21f" stroke="#000" stroke-width="1.7"/>
<circle cx="173.0" cy="606.7" r="49.8" fill="#ebdf3f" stroke="#000" stroke-width="1.7"/>
<circle cx="173.0" cy="606.7" r="44.5" fill="#f6f2b4" stroke="#000" stroke-width="1.7"/>
<circle cx="173.0" cy="606.7" r="39.2" fill="#ffffff" stroke="#000" stroke-width="1.7"/>
<circle cx="173.0" cy="606.7" r="69.3" fill="none" stroke="#0a0a0a" stroke-width="7.2"/>
<path d="M91.5 606.7H254.5M173.0 525.2V688.2" stroke="#0a0a0a" stroke-width="4.4"/>
<text x="173.0" y="516.2" font-size="22.5" font-style="italic" text-anchor="middle">q</text>
<text x="257.5" y="611.7" font-size="22.5" font-style="italic">p</text>
<clipPath id="dk1"><circle cx="358.3" cy="606.7" r="66.5"/></clipPath>
<g clip-path="url(#dk1)">
<circle cx="358.3" cy="606.7" r="66.5" fill="#150506"/>
<path d="M314.1 539.2 316.4 538.2 426.8 538.2 426.8 653.2 421.9 659.4 415.9 664.4 408.2 668.7 399.4 672.0 384.5 675.2 340.4 675.2 334.8 674.1 323.1 670.6 314.3 666.1 306.4 659.4 298.6 649.5 289.8 635.0 289.8 558.7 293.7 552.4 298.6 547.5 304.5 543.7 314.1 539.2Z" fill="#3b0309" fill-rule="evenodd"/>
<path d="M336.9 539.2 339.9 538.2 393.5 538.2 404.3 543.5 411.1 548.2 416.0 553.9 419.4 561.7 421.8 574.4 423.5 595.0 422.4 604.7 419.5 612.6 408.9 628.2 400.4 636.9 391.6 642.4 383.7 648.1 370.0 652.7 362.2 656.5 357.3 659.7 353.4 660.7 327.0 658.3 321.1 656.8 315.2 653.0 306.4 644.4 294.0 626.3 291.0 619.4 290.1 614.5 290.0 608.7 293.0 582.2 295.9 568.5 299.4 559.7 302.3 555.8 306.4 552.7 324.1 543.9 336.9 539.2Z" fill="#971b11" fill-rule="evenodd"/>
<path d="M365.6 543.1 373.0 543.6 380.8 546.5 385.7 549.4 390.6 553.2 397.5 559.7 404.6 569.5 407.2 575.4 408.5 581.3 410.1 594.0 409.7 600.8 407.6 606.7 403.8 612.6 399.4 617.2 394.5 619.8 388.6 619.4 381.8 615.7 372.0 612.4 366.1 611.6 362.2 611.9 360.3 612.6 355.8 616.5 351.8 622.4 350.1 626.3 347.3 637.0 345.6 640.5 342.6 643.0 337.8 645.1 331.9 645.8 327.0 645.6 323.1 644.3 314.3 639.2 307.2 633.1 299.6 620.7 298.0 614.5 298.0 606.7 300.9 581.3 303.7 571.5 307.2 564.6 317.0 555.8 323.1 551.4 331.9 547.5 345.6 544.1 351.4 543.5 358.3 544.4 365.6 543.1Z" fill="#dc2e22" fill-rule="evenodd"/>
<path d="M344.3 549.9 350.5 549.4 367.1 550.1 373.0 551.4 376.9 553.5 381.5 557.8 389.6 563.9 395.2 570.5 398.7 578.3 400.4 588.1 400.3 593.0 399.2 596.9 396.7 600.8 393.5 603.2 389.6 604.4 376.9 605.7 369.1 605.8 355.3 610.6 350.5 613.6 347.5 616.5 340.7 626.4 336.8 630.4 333.8 632.0 330.9 632.8 325.0 632.6 322.1 631.7 318.2 629.6 312.3 624.1 306.3 614.5 305.0 608.7 307.0 583.2 309.8 573.4 312.2 568.5 318.2 561.8 327.0 554.6 332.9 552.2 344.3 549.9Z" fill="#eb5a1e" fill-rule="evenodd"/>
<path d="M344.2 554.8 350.5 554.5 366.1 555.5 371.0 556.7 375.3 558.8 384.8 567.6 388.7 572.5 391.1 578.3 392.5 587.1 392.3 590.1 391.1 593.0 389.4 595.0 386.7 596.9 375.9 601.0 367.1 602.9 361.2 605.2 353.4 607.1 347.9 609.6 341.9 613.6 334.8 620.1 331.9 621.3 328.0 621.7 323.1 620.4 315.8 615.5 312.3 611.6 311.7 608.7 311.6 592.0 312.1 585.2 313.9 576.4 316.8 569.5 322.1 563.6 328.9 558.2 334.8 556.2 344.2 554.8Z" fill="#f6b21f" fill-rule="evenodd"/>
<path d="M342.9 559.7 350.5 559.1 357.3 560.1 363.2 559.9 367.1 560.8 374.9 566.2 379.8 570.5 382.7 574.4 384.0 578.3 383.6 585.2 382.8 588.1 380.8 590.9 378.3 593.0 372.9 595.9 360.3 600.7 349.5 603.5 337.8 607.9 332.9 611.7 329.9 612.3 326.0 611.9 323.1 611.1 320.9 609.6 320.2 604.7 317.1 596.9 316.9 592.0 318.0 580.3 319.4 574.4 321.4 570.5 326.0 565.6 330.9 562.0 334.8 560.7 342.9 559.7Z" fill="#ebdf3f" fill-rule="evenodd"/>
<path d="M349.2 563.6 359.3 563.2 364.2 564.8 366.7 566.6 374.0 574.2 375.2 576.4 375.5 579.3 373.9 583.2 370.5 586.2 359.3 593.1 345.6 598.7 331.9 602.3 328.9 602.1 326.0 600.7 323.3 597.9 322.7 595.9 323.5 582.2 324.1 578.3 325.8 574.4 328.7 570.5 331.9 567.6 334.8 566.4 343.6 565.4 349.2 563.6Z" fill="#f6f2b4" fill-rule="evenodd"/>
<path d="M350.0 570.5 353.4 570.3 359.3 573.4 361.1 576.4 361.4 580.3 360.6 582.2 358.3 584.5 347.5 590.9 343.6 592.1 336.8 593.1 333.8 592.5 332.5 590.1 332.0 586.2 332.3 583.2 333.9 580.3 338.7 576.1 341.7 574.4 346.6 572.9 350.0 570.5Z" fill="#ffffff" fill-rule="evenodd"/>
<path d="M289.8 558.7 294.1 551.9 299.2 547.0 305.5 543.2 316.4 538.2" fill="none" stroke="#000" stroke-width="1.7"/>
<path d="M426.8 653.2 423.6 657.6 420.0 661.3 411.0 667.4 399.4 672.0 384.5 675.2" fill="none" stroke="#000" stroke-width="1.7"/>
<path d="M340.4 675.2 330.9 673.1 323.1 670.6 317.2 667.9 311.3 663.9 306.4 659.4 301.5 653.7 289.8 635.0" fill="none" stroke="#000" stroke-width="1.7"/>
<path d="M393.5 538.2 403.3 543.0 410.2 547.4 415.1 552.5 418.4 558.8 421.3 570.5 423.3 590.1 423.2 599.9 421.6 607.7 418.3 614.5 409.2 627.9 400.4 636.9 382.8 648.6 372.3 651.7 363.2 656.0 357.3 659.7 352.4 660.7 326.0 658.2 321.1 656.8 317.2 654.5 309.4 647.7 303.9 641.0 292.9 624.3 291.0 619.4 290.1 614.5 290.2 605.7 293.5 579.3 296.5 566.6 300.0 558.8 303.4 554.8 307.4 552.2 325.0 543.5 339.9 538.2" fill="none" stroke="#000" stroke-width="1.7"/>
<path d="M365.6 543.1 371.0 543.3 375.9 544.4 385.1 549.0 395.8 557.8 404.0 568.5 406.9 574.4 408.6 582.2 410.2 596.9 409.7 600.8 408.5 604.7 405.9 609.6 402.3 614.3 398.4 617.9 394.5 619.8 388.6 619.4 381.8 615.7 372.0 612.4 366.1 611.6 360.3 612.6 355.8 616.5 352.4 621.4 350.1 626.3 347.0 638.0 344.2 641.9 340.7 644.1 335.8 645.5 328.9 645.8 324.1 644.7 314.3 639.2 308.4 634.4 300.6 622.5 298.7 618.4 297.8 609.6 300.1 587.1 301.4 579.3 304.1 570.5 305.9 566.6 308.4 563.3 319.5 553.9 327.0 549.4 333.8 546.9 346.6 543.9 352.4 543.5 358.3 544.4 365.6 543.1" fill="none" stroke="#000" stroke-width="1.7"/>
<path d="M344.3 549.9 350.5 549.4 367.1 550.1 373.0 551.4 377.4 553.9 381.5 557.8 390.3 564.6 396.4 572.5 398.4 577.3 399.8 583.2 400.5 590.1 399.9 595.0 398.7 597.9 396.7 600.8 392.3 603.8 376.9 605.7 369.1 605.8 355.3 610.6 350.5 613.6 348.4 615.5 340.7 626.4 336.8 630.4 333.8 632.0 330.9 632.8 324.1 632.4 318.2 629.6 313.3 625.3 309.4 619.9 305.6 612.6 305.0 606.7 306.3 588.1 307.6 580.3 310.2 572.5 312.8 567.6 317.2 562.7 323.8 556.8 328.0 554.1 331.9 552.5 344.3 549.9" fill="none" stroke="#000" stroke-width="1.7"/>
<path d="M344.2 554.8 350.5 554.5 366.1 555.5 371.2 556.8 375.9 559.2 385.7 568.5 389.2 573.4 391.1 578.3 392.2 584.2 392.5 588.1 392.0 591.0 389.4 595.0 384.7 597.8 374.9 601.3 367.1 602.9 361.2 605.2 352.4 607.4 343.2 612.6 336.8 618.6 333.8 620.7 328.9 621.7 325.0 621.1 321.1 619.3 315.8 615.5 313.3 613.0 312.0 610.6 311.7 590.1 312.4 583.2 313.9 576.4 315.7 571.5 317.5 568.5 321.0 564.6 327.0 559.5 332.9 556.6 344.2 554.8" fill="none" stroke="#000" stroke-width="1.7"/>
<path d="M342.9 559.7 349.5 559.1 357.3 560.1 363.2 559.9 366.7 560.7 370.0 562.5 378.8 569.5 382.7 574.4 384.1 579.3 383.2 587.1 381.8 589.8 379.6 592.0 372.0 596.3 359.9 600.8 350.5 603.2 338.7 607.4 331.9 612.0 328.9 612.3 324.1 611.4 320.9 609.6 320.2 604.7 317.9 599.9 317.0 595.9 317.7 582.2 319.4 574.4 320.8 571.5 323.0 568.5 329.9 562.5 334.6 560.7 342.9 559.7" fill="none" stroke="#000" stroke-width="1.7"/>
<path d="M349.2 563.6 360.3 563.3 365.5 565.6 372.5 572.5 374.7 575.4 375.5 579.3 374.5 582.2 371.9 585.2 361.2 592.0 350.6 596.9 333.8 602.0 329.9 602.3 327.0 601.3 323.3 597.9 322.6 595.0 323.8 580.3 326.0 574.1 329.6 569.5 332.9 567.0 343.6 565.4 349.2 563.6" fill="none" stroke="#000" stroke-width="1.7"/>
<path d="M350.0 570.5 352.4 570.1 354.4 570.7 358.3 572.8 360.2 574.4 361.5 578.3 360.6 582.2 357.3 585.1 346.6 591.3 337.8 593.0 333.8 592.5 332.5 590.1 332.0 585.2 332.6 582.2 333.8 580.3 339.7 575.4 346.6 572.9 350.0 570.5" fill="none" stroke="#000" stroke-width="1.7"/>
</g>
<circle cx="358.3" cy="606.7" r="69.3" fill="none" stroke="#0a0a0a" stroke-width="7.2"/>
<path d="M276.8 606.7H439.8M358.3 525.2V688.2" stroke="#0a0a0a" stroke-width="4.4"/>
<text x="358.3" y="516.2" font-size="22.5" font-style="italic" text-anchor="middle">q</text>
<text x="442.8" y="611.7" font-size="22.5" font-style="italic">p</text>
<clipPath id="dk2"><circle cx="543.9" cy="606.7" r="66.5"/></clipPath>
<g clip-path="url(#dk2)">
<circle cx="543.9" cy="606.7" r="66.5" fill="#150506"/>
<path d="M504.3 539.2 505.8 538.2 585.4 538.2 592.5 547.0 599.4 557.8 608.5 573.2 612.4 581.2 612.4 636.4 607.9 649.8 601.9 660.5 597.7 665.7 592.8 670.5 586.6 675.2 585.0 675.2 507.7 675.2 498.9 670.4 491.2 664.4 484.7 657.6 479.2 649.8 475.4 642.4 475.4 569.7 484.9 556.8 490.1 550.6 495.9 545.2 504.3 539.2Z" fill="#3b0309" fill-rule="evenodd"/>
<path d="M530.1 550.9 538.0 551.2 550.8 553.6 554.7 554.9 559.6 558.0 568.0 565.6 572.0 570.5 574.2 577.3 574.3 580.3 573.7 581.3 564.4 581.1 554.7 583.5 550.7 585.2 547.8 587.6 545.6 591.0 544.4 595.9 544.2 600.8 545.9 606.2 548.8 609.6 555.5 612.6 559.6 612.6 564.4 610.2 570.2 604.7 574.9 597.9 578.1 590.4 579.1 590.0 581.1 591.4 589.6 604.7 591.3 609.6 591.9 614.5 592.1 626.3 589.2 641.9 587.0 648.8 584.0 653.4 580.1 657.7 576.4 660.5 572.3 662.7 566.4 664.8 559.6 666.5 551.7 667.5 544.9 667.7 538.0 667.1 517.5 663.8 507.7 659.8 501.8 656.1 496.7 651.7 492.0 646.3 488.2 640.0 485.5 634.1 482.7 625.3 480.9 616.5 480.5 605.7 481.0 597.9 482.4 590.1 484.9 583.2 487.8 578.3 497.3 565.6 502.8 560.2 510.6 556.3 530.1 550.9Z" fill="#971b11" fill-rule="evenodd"/>
<path d="M522.7 567.6 526.5 567.6 529.6 568.5 532.1 570.5 533.9 573.4 534.4 577.3 533.2 589.1 533.0 598.9 535.9 609.6 537.4 612.6 541.0 616.5 545.1 619.4 565.4 625.9 568.2 628.2 569.6 631.2 570.0 635.1 569.3 639.0 566.5 643.9 563.5 647.3 559.6 649.9 550.8 654.1 545.9 655.5 541.0 656.0 533.1 655.3 520.4 653.0 515.5 651.1 507.6 646.8 502.1 641.9 497.2 635.1 494.2 629.2 492.0 621.4 491.6 617.5 492.7 610.6 493.6 597.9 495.1 592.0 497.4 587.1 504.9 576.4 508.7 572.2 514.5 569.2 522.7 567.6Z" fill="#dc2e22" fill-rule="evenodd"/>
<path d="M512.7 589.1 515.5 588.5 517.5 589.5 518.9 591.0 529.5 615.5 533.2 620.4 539.4 626.3 546.0 636.1 546.5 638.0 546.3 640.0 545.4 641.9 543.5 643.9 540.0 645.3 534.1 645.6 523.4 643.9 520.3 642.9 516.5 640.8 508.7 634.1 505.7 630.1 503.2 625.3 502.6 622.4 503.0 615.5 501.7 608.7 502.4 604.7 504.2 599.9 506.7 595.2 509.6 591.5 512.7 589.1Z" fill="#eb5a1e" fill-rule="evenodd"/>
<path d="M585.4 538.2 591.1 545.1 596.7 553.3 608.1 572.5 612.4 581.2" fill="none" stroke="#000" stroke-width="1.7"/>
<path d="M475.4 569.7 484.9 556.8 490.7 549.9 496.9 544.4 505.8 538.2" fill="none" stroke="#000" stroke-width="1.7"/>
<path d="M612.4 636.4 608.3 648.8 602.5 659.5 595.2 668.4 586.6 675.2" fill="none" stroke="#000" stroke-width="1.7"/>
<path d="M507.7 675.2 496.9 669.1 488.1 661.5 481.1 652.7 475.4 642.4" fill="none" stroke="#000" stroke-width="1.7"/>
<path d="M530.1 550.9 538.0 551.2 550.8 553.6 555.6 555.4 559.6 558.0 569.0 566.6 572.0 570.5 573.6 574.4 574.4 579.3 573.7 581.3 564.4 581.1 555.6 583.2 550.8 585.2 546.8 588.8 544.9 593.2 544.1 599.9 545.2 604.7 547.8 608.8 551.7 611.3 556.6 612.8 559.6 612.6 563.5 610.8 567.4 607.7 571.0 603.8 575.4 596.9 578.1 590.4 579.1 590.0 581.1 591.4 583.0 594.2 588.5 602.8 590.7 607.7 591.9 613.6 592.2 625.3 589.2 641.9 587.8 646.8 585.3 651.7 580.1 657.7 575.2 661.2 568.4 664.2 556.6 666.9 544.9 667.7 519.4 664.2 513.6 662.5 503.8 657.4 495.7 650.7 489.2 641.9 484.8 632.1 481.2 619.4 480.5 604.7 481.9 592.0 483.7 586.2 485.9 581.3 497.9 564.8 502.8 560.2 510.6 556.3 530.1 550.9" fill="none" stroke="#000" stroke-width="1.7"/>
<path d="M522.7 567.6 526.5 567.6 529.6 568.5 532.1 570.5 533.9 573.4 534.4 577.3 533.2 589.1 533.0 598.9 535.9 609.6 537.4 612.6 541.0 616.5 545.1 619.4 565.4 625.9 568.2 628.2 569.6 631.2 570.0 635.1 569.6 638.0 568.3 641.0 565.0 645.8 559.9 649.8 548.8 654.8 541.9 655.9 533.1 655.3 520.4 653.0 511.6 649.2 505.7 645.4 500.8 640.4 496.0 633.1 493.2 626.3 491.6 617.5 492.7 610.6 493.6 597.9 494.8 593.0 496.4 589.1 504.8 576.6 508.7 572.2 514.5 569.2 522.7 567.6" fill="none" stroke="#000" stroke-width="1.7"/>
<path d="M512.7 589.1 515.5 588.5 517.5 589.5 518.9 591.0 529.5 615.5 533.2 620.4 539.4 626.3 545.5 635.1 546.5 638.0 546.3 640.0 544.9 642.5 542.9 644.3 539.0 645.5 533.1 645.6 526.3 644.5 520.4 642.9 515.5 640.1 510.6 636.1 507.7 632.9 504.6 628.2 502.7 623.3 503.1 616.5 501.8 609.6 501.9 606.7 503.7 600.8 506.2 595.9 509.6 591.5 512.7 589.1" fill="none" stroke="#000" stroke-width="1.7"/>
</g>
<circle cx="543.9" cy="606.7" r="69.3" fill="none" stroke="#0a0a0a" stroke-width="7.2"/>
<path d="M462.4 606.7H625.4M543.9 525.2V688.2" stroke="#0a0a0a" stroke-width="4.4"/>
<text x="543.9" y="516.2" font-size="22.5" font-style="italic" text-anchor="middle">q</text>
<text x="628.4" y="611.7" font-size="22.5" font-style="italic">p</text>
<clipPath id="dk3"><circle cx="729.2" cy="606.7" r="66.5"/></clipPath>
<g clip-path="url(#dk3)">
<circle cx="729.2" cy="606.7" r="66.5" fill="#150506"/>
<path d="M704.9 539.2 707.0 538.2 763.5 538.2 773.7 546.0 785.0 557.3 790.9 565.6 795.5 575.4 797.7 583.1 797.7 622.5 793.5 634.1 790.0 641.0 786.2 646.8 781.5 652.7 776.7 657.6 771.3 662.1 765.4 666.0 758.6 669.7 751.7 672.6 743.3 675.2 714.1 675.2 700.8 670.7 687.1 663.2 676.6 654.7 668.6 644.9 665.3 639.0 662.9 633.1 660.7 625.5 660.7 595.4 662.7 587.1 665.6 579.3 668.6 573.4 673.0 566.6 682.2 555.3 693.0 546.2 704.9 539.2Z" fill="#3b0309" fill-rule="evenodd"/>
<path d="M712.1 558.8 722.4 557.9 736.1 558.7 746.1 560.7 754.6 564.3 763.5 570.9 769.3 577.4 775.5 587.1 780.1 598.9 781.9 609.6 781.6 621.4 779.2 632.1 775.0 641.0 769.3 648.8 761.5 655.8 752.7 661.1 740.9 665.3 734.1 666.2 719.4 665.8 708.7 663.0 699.8 659.2 690.8 653.7 682.2 645.8 676.6 638.0 672.9 628.2 671.5 619.4 671.8 602.8 674.4 590.1 677.8 582.2 686.4 570.5 690.1 567.2 703.8 560.7 712.1 558.8Z" fill="#971b11" fill-rule="evenodd"/>
<path d="M695.8 582.2 698.9 581.4 702.8 581.4 705.7 582.2 709.1 584.2 712.7 588.1 717.5 597.9 720.1 601.8 722.4 604.2 725.3 605.6 732.1 606.8 739.0 606.2 744.5 604.7 754.6 600.7 757.6 600.0 760.5 600.5 764.4 603.7 767.4 608.1 769.8 615.5 769.2 626.3 766.9 633.1 763.3 640.0 759.5 644.9 754.6 649.4 747.7 653.7 740.0 656.3 736.1 656.8 730.2 656.2 725.3 657.0 721.4 656.7 711.6 654.6 704.7 652.0 697.9 647.8 691.7 641.9 686.1 634.1 682.6 624.3 682.1 615.5 683.0 600.8 684.0 595.0 687.1 588.9 691.0 584.8 695.8 582.2Z" fill="#dc2e22" fill-rule="evenodd"/>
<path d="M699.5 609.6 702.8 609.5 705.7 610.1 717.5 616.0 723.3 618.0 729.2 619.0 741.9 619.5 745.8 620.7 748.7 622.4 750.7 624.4 752.3 627.2 752.8 629.2 752.5 632.1 751.3 635.1 749.2 638.0 746.1 641.0 743.0 642.9 733.1 646.7 727.2 647.6 724.3 647.4 719.4 646.3 714.5 644.4 708.7 641.3 703.8 638.0 699.8 634.4 696.9 630.0 693.8 620.4 693.6 616.5 694.6 612.6 696.4 610.6 699.5 609.6Z" fill="#eb5a1e" fill-rule="evenodd"/>
<path d="M763.5 538.2 775.2 547.3 782.0 554.0 787.0 559.7 790.3 564.6 793.5 570.5 797.7 583.1" fill="none" stroke="#000" stroke-width="1.7"/>
<path d="M660.7 595.4 663.0 586.2 666.6 577.3 671.0 569.5 677.3 560.8 683.2 554.3 691.0 547.6 698.9 542.4 707.0 538.2" fill="none" stroke="#000" stroke-width="1.7"/>
<path d="M797.7 622.5 794.4 632.1 790.0 641.0 784.8 648.8 777.7 656.6 770.7 662.5 762.5 667.7 753.7 671.8 743.3 675.2" fill="none" stroke="#000" stroke-width="1.7"/>
<path d="M714.1 675.2 704.7 672.3 695.0 667.8 686.1 662.5 678.3 656.3 672.1 649.8 667.4 642.9 663.2 634.1 660.7 625.5" fill="none" stroke="#000" stroke-width="1.7"/>
<path d="M712.1 558.8 722.4 557.9 736.1 558.7 746.1 560.7 754.6 564.3 763.5 570.9 769.3 577.4 775.5 587.1 779.8 597.9 781.7 607.7 781.9 618.4 779.9 630.2 776.2 639.0 770.1 647.8 762.5 655.1 753.7 660.6 742.9 664.8 735.1 666.1 720.4 666.0 711.6 664.0 701.8 660.2 692.0 654.5 683.1 646.8 676.6 638.0 673.1 629.2 671.5 619.4 671.7 603.8 674.1 591.0 677.8 582.2 686.4 570.5 690.1 567.2 703.8 560.7 712.1 558.8" fill="none" stroke="#000" stroke-width="1.7"/>
<path d="M695.8 582.2 698.9 581.4 702.8 581.4 705.7 582.2 709.1 584.2 712.7 588.1 717.5 597.9 720.1 601.8 722.4 604.2 725.3 605.6 732.1 606.8 739.0 606.2 744.5 604.7 754.6 600.7 757.6 600.0 760.5 600.5 763.6 602.8 767.1 607.7 769.4 613.6 769.9 616.5 769.5 624.3 768.0 630.2 765.0 637.0 761.5 642.5 757.6 646.9 750.7 652.0 742.6 655.6 737.0 656.8 730.2 656.2 723.3 656.9 713.5 655.1 706.7 652.9 698.9 648.5 692.5 642.9 686.1 634.1 682.8 625.3 682.2 620.4 682.3 611.6 683.3 597.9 685.2 592.3 689.1 586.5 692.0 584.0 695.8 582.2" fill="none" stroke="#000" stroke-width="1.7"/>
<path d="M699.5 609.6 702.8 609.5 705.7 610.1 717.5 616.0 723.3 618.0 729.2 619.0 741.1 619.4 746.8 621.2 749.8 623.3 752.3 627.2 752.8 630.2 751.8 634.1 749.2 638.0 745.8 641.1 741.1 643.9 734.1 646.5 727.2 647.6 724.3 647.4 719.4 646.3 713.5 644.0 706.7 640.1 701.8 636.3 698.9 633.2 696.0 628.2 693.8 620.4 693.9 614.5 694.6 612.6 695.9 610.9 699.5 609.6" fill="none" stroke="#000" stroke-width="1.7"/>
</g>
<circle cx="729.2" cy="606.7" r="69.3" fill="none" stroke="#0a0a0a" stroke-width="7.2"/>
<path d="M647.7 606.7H810.7M729.2 525.2V688.2" stroke="#0a0a0a" stroke-width="4.4"/>
<text x="729.2" y="516.2" font-size="22.5" font-style="italic" text-anchor="middle">q</text>
<text x="813.7" y="611.7" font-size="22.5" font-style="italic">p</text>
<clipPath id="dk4"><circle cx="914.5" cy="606.7" r="66.5"/></clipPath>
<g clip-path="url(#dk4)">
<circle cx="914.5" cy="606.7" r="66.5" fill="#150506"/>
<path d="M846.0 538.2 983.0 538.2 983.0 675.2 846.0 675.2 846.0 538.2Z" fill="#3b0309" fill-rule="evenodd"/>
<path d="M908.7 556.8 920.4 556.6 930.2 558.5 940.9 562.8 947.8 567.2 954.6 573.1 961.7 582.2 966.3 592.0 969.7 604.7 969.2 616.5 967.5 625.3 962.7 638.0 960.5 641.8 958.5 643.7 954.0 645.8 948.8 653.2 944.8 656.6 933.1 661.7 921.4 664.5 908.6 664.2 897.9 661.7 887.1 656.7 877.3 649.2 869.2 639.0 864.6 629.2 862.5 620.4 860.7 606.7 861.1 602.8 867.3 586.2 870.6 580.3 876.3 573.3 883.9 566.6 889.1 563.3 897.9 559.3 908.7 556.8Z" fill="#971b11" fill-rule="evenodd"/>
<path d="M922.3 575.4 928.2 575.0 936.7 577.3 944.8 582.0 951.7 588.6 956.0 595.9 958.2 603.8 959.0 610.6 958.2 622.4 956.2 631.2 953.5 637.0 950.7 640.7 942.9 647.8 936.0 651.4 927.2 654.1 918.4 655.3 912.3 654.7 905.7 654.3 896.9 651.7 889.1 647.9 882.2 642.6 877.3 636.0 875.0 630.2 873.8 624.3 873.9 613.6 875.9 604.7 878.3 597.9 881.2 592.5 884.2 589.1 888.1 586.6 893.0 584.4 908.0 580.3 922.3 575.4Z" fill="#dc2e22" fill-rule="evenodd"/>
<path d="M935.1 599.9 939.0 599.8 941.9 601.3 944.7 605.7 946.5 611.6 947.3 617.5 947.0 623.3 945.3 629.2 942.5 634.1 940.0 637.0 935.0 640.8 930.9 642.9 926.2 644.4 919.4 645.3 911.6 645.1 903.7 643.3 899.8 641.3 896.8 639.0 893.4 635.1 891.2 631.2 889.9 627.2 889.4 623.3 890.0 619.4 891.3 616.5 894.0 614.4 898.8 612.8 913.5 610.5 918.4 609.1 923.3 606.7 931.1 601.4 935.1 599.9Z" fill="#eb5a1e" fill-rule="evenodd"/>
<path d="M908.7 556.8 920.4 556.6 930.2 558.5 940.9 562.8 947.8 567.2 954.6 573.1 961.7 582.2 966.3 592.0 969.7 604.7 969.2 616.5 967.5 625.3 962.7 638.0 960.5 641.8 958.5 643.7 954.0 645.8 948.8 653.2 944.8 656.6 933.1 661.7 921.4 664.5 908.6 664.2 897.9 661.7 887.1 656.7 877.3 649.2 869.2 639.0 864.6 629.2 862.5 620.4 860.7 606.7 861.1 602.8 867.3 586.2 870.6 580.3 876.3 573.3 883.9 566.6 889.1 563.3 897.9 559.3 908.7 556.8" fill="none" stroke="#000" stroke-width="1.7"/>
<path d="M922.3 575.4 928.2 575.0 937.0 577.5 945.1 582.2 949.7 586.3 952.7 589.9 956.4 596.9 958.7 606.7 958.7 617.5 957.5 626.3 955.5 633.1 952.2 639.0 943.9 647.0 939.5 649.8 931.1 653.1 922.3 655.0 917.4 655.3 903.7 653.9 896.9 651.7 889.1 647.9 882.2 642.6 878.0 637.0 875.6 632.1 873.9 625.3 873.6 616.5 874.4 610.5 878.8 596.9 882.2 591.1 885.1 588.4 893.0 584.4 908.0 580.3 922.3 575.4" fill="none" stroke="#000" stroke-width="1.7"/>
<path d="M935.1 599.9 939.2 599.9 942.4 601.8 945.1 606.7 946.9 613.6 947.3 620.4 946.3 626.3 944.4 631.2 940.9 636.1 936.3 640.0 931.1 642.8 925.3 644.6 919.4 645.3 910.6 645.0 905.5 643.9 900.8 641.9 895.8 638.0 891.6 632.1 889.7 626.3 889.8 620.4 890.8 617.5 892.0 615.7 894.9 614.0 899.8 612.6 913.5 610.5 918.4 609.1 923.3 606.7 931.1 601.4 935.1 599.9" fill="none" stroke="#000" stroke-width="1.7"/>
</g>
<circle cx="914.5" cy="606.7" r="69.3" fill="none" stroke="#0a0a0a" stroke-width="7.2"/>
<path d="M833.0 606.7H996.0M914.5 525.2V688.2" stroke="#0a0a0a" stroke-width="4.4"/>
<text x="914.5" y="516.2" font-size="22.5" font-style="italic" text-anchor="middle">q</text>
<text x="999.0" y="611.7" font-size="22.5" font-style="italic">p</text>
<circle cx="1100.2" cy="606.7" r="66.5" fill="#3b0309"/>
<ellipse cx="1103.8" cy="608.2" rx="53.3" ry="53.3" fill="#971b11" stroke="#000" stroke-width="1.7"/>
<ellipse cx="1105.4" cy="608.7" rx="41.3" ry="42.3" fill="#dc2e22" stroke="#000" stroke-width="1.7"/>
<path d="M1098.2 588.8C1100.1 586.4 1100.7 584.9 1103.0 583.6C1105.2 582.3 1108.7 581.2 1111.6 581.0C1114.5 580.9 1117.4 581.5 1120.2 582.8C1123.1 584.1 1126.3 586.1 1128.9 588.8C1131.5 591.5 1134.4 595.3 1135.8 599.2C1137.2 603.1 1137.7 607.8 1137.5 612.1C1137.4 616.5 1136.7 621.2 1134.9 625.1C1133.2 629.0 1130.3 632.9 1127.2 635.5C1124.0 638.1 1120.0 639.7 1115.9 640.7C1111.9 641.6 1106.9 641.5 1103.0 641.1C1099.1 640.7 1095.6 640.0 1092.6 638.1C1089.6 636.1 1086.5 632.7 1084.8 629.4C1083.1 626.1 1082.1 621.8 1082.2 618.2C1082.4 614.6 1084.1 611.1 1085.7 607.8C1087.3 604.5 1089.6 601.5 1091.7 598.3C1093.8 595.2 1096.3 591.3 1098.2 588.8Z" fill="#eb5a1e" stroke="#000" stroke-width="1.7"/>
<circle cx="1100.2" cy="606.7" r="69.3" fill="none" stroke="#0a0a0a" stroke-width="7.2"/>
<path d="M1018.7 606.7H1181.7M1100.2 525.2V688.2" stroke="#0a0a0a" stroke-width="4.4"/>
<text x="1100.2" y="516.2" font-size="22.5" font-style="italic" text-anchor="middle">q</text>
<text x="1184.7" y="611.7" font-size="22.5" font-style="italic">p</text>
<circle cx="1285.8" cy="606.7" r="66.5" fill="#3b0309"/>
<ellipse cx="1288.3" cy="605.8" rx="52.5" ry="53.5" fill="#971b11" stroke="#000" stroke-width="1.7"/>
<ellipse cx="1289.8" cy="605.8" rx="41.5" ry="42.7" fill="#dc2e22" stroke="#000" stroke-width="1.7"/>
<ellipse cx="1292.2" cy="605.0" rx="29.6" ry="31.5" fill="#eb5a1e" stroke="#000" stroke-width="1.7"/>
<ellipse cx="1297.6" cy="604.1" rx="11.7" ry="15.1" fill="#f6b21f" stroke="#000" stroke-width="1.7"/>
<circle cx="1285.8" cy="606.7" r="69.3" fill="none" stroke="#0a0a0a" stroke-width="7.2"/>
<path d="M1204.3 606.7H1367.3M1285.8 525.2V688.2" stroke="#0a0a0a" stroke-width="4.4"/>
<text x="1285.8" y="516.2" font-size="22.5" font-style="italic" text-anchor="middle">q</text>
<text x="1370.3" y="611.7" font-size="22.5" font-style="italic">p</text>
<circle cx="1470.9" cy="606.7" r="66.5" fill="#3b0309"/>
<circle cx="1470.9" cy="606.7" r="50.9" fill="#971b11" stroke="#000" stroke-width="1.7"/>
<circle cx="1470.9" cy="606.7" r="43.1" fill="#dc2e22" stroke="#000" stroke-width="1.7"/>
<circle cx="1470.9" cy="606.7" r="35.7" fill="#eb5a1e" stroke="#000" stroke-width="1.7"/>
<circle cx="1470.9" cy="606.7" r="29.3" fill="#f6b21f" stroke="#000" stroke-width="1.7"/>
<circle cx="1470.9" cy="606.7" r="22.8" fill="#ebdf3f" stroke="#000" stroke-width="1.7"/>
<circle cx="1470.9" cy="606.7" r="15.9" fill="#f6f2b4" stroke="#000" stroke-width="1.7"/>
<circle cx="1470.9" cy="606.7" r="4.0" fill="#ffffff" stroke="#000" stroke-width="1.7"/>
<circle cx="1470.9" cy="606.7" r="69.3" fill="none" stroke="#0a0a0a" stroke-width="7.2"/>
<path d="M1389.4 606.7H1552.4M1470.9 525.2V688.2" stroke="#0a0a0a" stroke-width="4.4"/>
<text x="1470.9" y="516.2" font-size="22.5" font-style="italic" text-anchor="middle">q</text>
<text x="1555.4" y="611.7" font-size="22.5" font-style="italic">p</text>
<clipPath id="dk7"><circle cx="729.2" cy="847.5" r="66.5"/></clipPath>
<g clip-path="url(#dk7)">
<circle cx="729.2" cy="847.5" r="66.5" fill="#150506"/>
<path d="M660.7 779.0 797.7 779.0 797.7 884.7 792.0 892.5 783.0 901.8 764.2 916.0 694.2 916.0 679.2 905.2 671.6 898.4 660.7 886.4 660.7 779.0Z" fill="#3b0309" fill-rule="evenodd"/>
<path d="M718.7 792.7 724.3 792.1 739.0 792.5 753.7 796.9 758.6 799.4 763.5 803.5 770.3 807.5 773.9 811.3 780.5 822.1 784.5 831.8 788.1 836.7 789.6 840.6 789.6 843.6 788.2 851.4 792.4 859.2 793.0 862.2 793.0 866.1 790.5 875.9 785.5 885.7 782.1 890.6 778.1 894.9 759.5 910.7 753.7 913.0 741.9 914.6 737.7 916.0 720.6 916.0 715.5 914.4 704.7 913.0 699.8 911.3 682.2 896.8 677.1 891.5 671.8 882.7 668.8 872.9 668.2 865.1 670.1 852.4 669.7 845.5 669.9 841.6 673.2 832.8 674.7 827.0 676.6 823.0 686.5 809.3 694.9 803.5 699.8 799.1 704.7 796.7 710.6 795.4 718.7 792.7Z" fill="#971b11" fill-rule="evenodd"/>
<path d="M747.5 811.3 750.7 811.1 757.6 812.0 761.5 813.9 766.1 817.2 769.3 820.4 775.8 831.8 781.3 838.7 781.5 841.6 780.1 851.4 780.7 854.4 783.2 859.2 783.2 864.1 780.2 874.9 775.2 884.6 769.3 891.1 754.6 902.5 749.8 904.0 734.1 906.3 724.3 906.5 706.7 904.0 701.8 901.6 694.0 894.7 688.4 889.6 685.3 885.7 683.2 881.2 681.9 875.9 680.7 867.1 679.4 848.5 680.7 839.7 683.1 833.8 692.0 822.1 696.9 819.2 701.8 818.5 703.8 819.7 705.5 823.0 707.8 838.7 708.8 841.6 710.7 844.6 716.7 848.5 721.4 850.7 729.2 851.6 733.8 850.4 737.0 848.8 739.5 846.5 742.9 841.6 745.1 836.7 745.7 831.8 743.7 822.1 743.4 817.2 744.8 813.2 747.5 811.3Z" fill="#dc2e22" fill-rule="evenodd"/>
<path d="M760.5 844.6 762.5 844.4 763.5 844.9 765.0 847.5 767.7 862.2 768.3 870.0 767.6 874.9 766.4 877.8 763.5 881.2 759.5 884.4 752.7 888.3 742.9 891.6 736.1 892.7 724.3 893.3 718.4 892.9 712.6 891.4 707.7 888.8 702.8 884.9 697.2 877.8 695.8 874.9 694.4 870.0 693.7 864.1 693.9 859.2 695.0 856.1 696.9 854.0 700.8 853.0 707.7 854.0 710.6 854.8 716.5 857.8 720.4 858.8 729.2 857.9 737.0 858.6 742.9 856.6 749.8 851.3 760.5 844.6Z" fill="#eb5a1e" fill-rule="evenodd"/>
<path d="M732.7 875.9 738.0 875.4 740.0 875.9 740.2 876.9 739.0 878.0 737.0 878.5 732.1 878.4 730.8 877.8 730.9 876.9 732.7 875.9Z" fill="#f6b21f" fill-rule="evenodd"/>
<path d="M797.7 884.7 792.0 892.5 784.0 900.9 764.2 916.0" fill="none" stroke="#000" stroke-width="1.7"/>
<path d="M694.2 916.0 675.7 902.3 666.7 893.5 660.7 886.4" fill="none" stroke="#000" stroke-width="1.7"/>
<path d="M720.6 916.0 715.5 914.4 704.7 913.0 699.8 911.3 681.2 895.9 675.6 889.6 671.0 880.8 668.5 871.0 668.4 863.2 670.2 851.4 669.8 842.6 670.7 838.7 676.0 824.0 681.2 817.1 684.8 811.3 688.7 807.4 694.9 803.5 699.8 799.1 704.7 796.7 710.6 795.4 720.4 792.4 734.1 792.1 740.9 792.9 755.6 797.7 759.5 800.1 763.5 803.5 770.1 807.4 773.2 810.3 780.5 822.1 785.0 832.7 789.0 838.7 789.7 842.6 788.2 851.4 792.4 859.2 793.1 864.1 791.8 872.0 788.3 880.8 782.8 889.6 777.5 895.5 758.6 911.3 753.7 913.0 742.9 914.4 737.7 916.0" fill="none" stroke="#000" stroke-width="1.7"/>
<path d="M747.5 811.3 750.7 811.1 757.6 812.0 761.5 813.9 766.1 817.2 769.3 820.4 775.8 831.8 781.3 838.7 781.5 841.6 780.1 851.4 780.7 854.4 783.2 859.2 783.4 862.2 781.9 870.0 778.9 877.8 775.1 884.7 771.0 889.6 757.6 900.5 752.7 903.3 734.1 906.3 727.2 906.7 710.6 904.8 704.7 903.3 700.8 900.8 688.4 889.6 685.3 885.7 683.2 881.2 680.9 869.0 679.4 848.5 680.3 841.4 682.0 835.8 692.0 822.1 696.9 819.2 701.8 818.5 703.8 819.7 705.5 823.0 707.8 838.7 708.8 841.6 710.7 844.6 716.7 848.5 721.4 850.7 729.2 851.6 733.8 850.4 737.0 848.8 739.5 846.5 742.9 841.6 745.1 836.7 745.7 831.8 743.7 822.1 743.4 817.2 744.8 813.2 747.5 811.3" fill="none" stroke="#000" stroke-width="1.7"/>
<path d="M760.5 844.6 762.5 844.4 763.5 844.9 765.0 847.5 767.9 863.2 768.1 872.0 766.9 876.9 764.9 879.8 760.5 883.7 754.6 887.3 745.8 890.7 739.0 892.3 725.3 893.3 717.5 892.8 711.6 891.0 706.0 887.6 700.7 882.7 696.7 876.9 694.4 870.0 693.7 862.2 694.4 857.3 696.9 854.0 700.8 853.0 707.7 854.0 710.6 854.8 716.5 857.8 720.4 858.8 729.2 857.9 737.0 858.6 742.9 856.6 749.8 851.3 760.5 844.6" fill="none" stroke="#000" stroke-width="1.7"/>
<path d="M732.7 875.9 739.0 875.5 740.0 875.9 740.2 876.9 738.0 878.4 733.1 878.6 730.8 877.8 730.9 876.9 732.7 875.9" fill="none" stroke="#000" stroke-width="1.7"/>
</g>
<circle cx="729.2" cy="847.5" r="69.3" fill="none" stroke="#0a0a0a" stroke-width="7.2"/>
<path d="M647.7 847.5H810.7M729.2 766.0V929.0" stroke="#0a0a0a" stroke-width="4.4"/>
<text x="729.2" y="757.0" font-size="22.5" font-style="italic" text-anchor="middle">q</text>
<text x="813.7" y="852.5" font-size="22.5" font-style="italic">p</text>
<clipPath id="dp8"><circle cx="914.5" cy="847.5" r="66.5"/></clipPath><g clip-path="url(#dp8)"><circle cx="914.5" cy="847.5" r="66.5" fill="#971b11"/>
<circle cx="914.0" cy="844.0" r="53.0" fill="#dc2e22" stroke="#000" stroke-width="1.7"/>
<path d="M873.9 842.7C874.1 838.4 873.5 831.2 875.2 825.5C876.8 819.7 879.5 812.6 883.8 808.2C888.1 803.7 896.0 800.6 901.1 798.7C906.2 796.8 910.2 797.1 914.5 797.0C918.8 796.8 922.1 796.4 927.0 797.8C932.0 799.3 939.6 801.7 944.3 805.6C949.1 809.5 953.1 814.2 955.5 821.1C958.0 828.1 959.4 838.4 959.0 847.1C958.6 855.7 956.8 866.2 953.0 873.0C949.1 879.8 942.1 884.9 935.7 887.7C929.3 890.5 920.3 890.1 914.5 889.8C908.7 889.6 905.5 888.0 901.1 886.0C896.7 883.9 891.7 880.9 888.1 877.3C884.5 873.7 881.9 868.7 879.5 864.3C877.1 860.0 874.8 855.0 873.9 851.4C873.0 847.8 873.7 847.1 873.9 842.7Z" fill="#eb5a1e" stroke="#000" stroke-width="1.7"/>
<path d="M893.3 817.7C894.0 815.8 894.8 812.6 896.8 810.8C898.8 808.9 902.5 807.5 905.4 806.5C908.4 805.4 910.9 805.1 914.5 804.7C918.1 804.4 922.8 803.7 927.0 804.3C931.3 804.9 935.7 805.7 940.0 808.2C944.3 810.7 950.1 815.1 953.0 819.4C955.8 823.7 956.3 828.8 956.8 834.1C957.3 839.4 956.9 846.3 956.0 851.4C955.0 856.4 953.9 860.7 951.2 864.3C948.6 867.9 943.4 871.3 940.0 873.0C936.5 874.6 932.5 875.7 930.5 874.3C928.5 872.8 928.3 868.2 927.9 864.3C927.5 860.5 928.3 855.0 927.9 851.4C927.5 847.8 926.9 845.5 925.3 842.7C923.7 840.0 920.2 836.8 918.4 835.0C916.6 833.2 916.2 832.9 914.5 831.9C912.8 831.0 911.1 830.3 908.0 829.4C904.9 828.4 898.4 827.6 895.9 826.3C893.4 825.1 893.3 823.4 892.9 822.0C892.5 820.6 892.7 819.6 893.3 817.7Z" fill="#f6b21f" stroke="#000" stroke-width="1.7"/>
<path d="M922.7 818.6C923.9 817.6 926.7 816.2 929.6 816.8C932.5 817.4 937.3 819.6 940.0 822.0C942.7 824.5 945.0 827.9 946.0 831.5C947.1 835.1 947.3 841.5 946.5 843.6C945.6 845.8 942.7 845.5 940.9 844.5C939.1 843.5 938.0 840.3 935.7 837.6C933.4 834.8 929.2 830.6 927.0 828.1C924.9 825.5 923.4 824.0 922.7 822.4C922.0 820.9 921.6 819.5 922.7 818.6Z" fill="#ebdf3f" stroke="#000" stroke-width="1.7"/>
<path d="M891.6 854.0C891.9 850.8 893.5 845.8 895.9 843.6C898.4 841.5 903.0 840.7 906.3 841.0C909.6 841.3 913.8 843.3 915.8 845.3C917.8 847.4 918.7 850.1 918.4 853.1C918.1 856.1 916.4 861.3 914.1 863.5C911.8 865.7 907.9 866.7 904.6 866.5C901.3 866.4 896.4 864.7 894.2 862.6C892.0 860.5 891.3 857.1 891.6 854.0Z" fill="#dc2e22" stroke="#000" stroke-width="1.7"/></g>
<circle cx="914.5" cy="847.5" r="69.3" fill="none" stroke="#0a0a0a" stroke-width="7.2"/>
<path d="M833.0 847.5H996.0M914.5 766.0V929.0" stroke="#0a0a0a" stroke-width="4.4"/>
<text x="914.5" y="757.0" font-size="22.5" font-style="italic" text-anchor="middle">q</text>
<text x="999.0" y="852.5" font-size="22.5" font-style="italic">p</text>
<clipPath id="dp9"><circle cx="1100.2" cy="847.5" r="66.5"/></clipPath><g clip-path="url(#dp9)"><circle cx="1100.2" cy="847.5" r="66.5" fill="#971b11"/>
<circle cx="1100.7" cy="843.6" r="54.0" fill="#dc2e22" stroke="#000" stroke-width="1.7"/>
<circle cx="1101.1" cy="843.8" r="46.0" fill="#eb5a1e" stroke="#000" stroke-width="1.7"/>
<path d="M1065.0 838.4C1065.5 833.7 1066.5 826.2 1069.4 821.1C1072.2 816.1 1077.2 811.0 1082.3 808.2C1087.5 805.4 1094.4 804.4 1100.2 804.3C1106.0 804.2 1111.9 805.1 1116.9 807.3C1121.8 809.6 1126.4 813.9 1129.8 817.7C1133.3 821.4 1136.2 824.9 1137.6 829.8C1139.1 834.7 1139.1 842.7 1138.5 847.1C1137.9 851.4 1136.3 852.5 1134.2 855.7C1132.0 858.9 1128.4 863.9 1125.5 866.1C1122.6 868.2 1119.5 869.0 1116.9 868.7C1114.3 868.4 1112.1 866.7 1110.0 864.3C1107.8 862.0 1105.5 857.1 1103.9 854.8C1102.3 852.6 1101.6 851.5 1100.2 851.0C1098.8 850.4 1097.5 850.6 1095.3 851.4C1093.0 852.2 1089.2 854.4 1086.6 855.7C1084.0 857.0 1082.3 859.2 1079.7 859.2C1077.1 859.2 1073.2 857.3 1071.1 855.7C1068.9 854.1 1067.8 852.5 1066.8 849.7C1065.8 846.8 1064.6 843.2 1065.0 838.4Z" fill="#f6b21f" stroke="#000" stroke-width="1.7"/>
<path d="M1082.3 828.1C1082.9 826.0 1083.7 820.2 1086.6 817.7C1089.6 815.2 1095.9 813.2 1100.2 812.9C1104.5 812.6 1108.6 814.0 1112.6 816.0C1116.5 817.9 1121.3 821.4 1123.8 824.6C1126.2 827.8 1127.4 832.2 1127.2 835.0C1127.1 837.7 1125.4 840.6 1122.9 841.0C1120.5 841.5 1116.3 838.9 1112.6 837.6C1108.8 836.3 1104.2 834.1 1100.2 833.2C1096.2 832.4 1091.2 833.0 1088.4 832.4C1085.5 831.8 1084.2 830.5 1083.2 829.8C1082.2 829.1 1081.7 830.1 1082.3 828.1Z" fill="#ebdf3f" stroke="#000" stroke-width="1.7"/></g>
<circle cx="1100.2" cy="847.5" r="69.3" fill="none" stroke="#0a0a0a" stroke-width="7.2"/>
<path d="M1018.7 847.5H1181.7M1100.2 766.0V929.0" stroke="#0a0a0a" stroke-width="4.4"/>
<text x="1100.2" y="757.0" font-size="22.5" font-style="italic" text-anchor="middle">q</text>
<text x="1184.7" y="852.5" font-size="22.5" font-style="italic">p</text>
<clipPath id="dp10"><circle cx="1285.8" cy="847.5" r="66.5"/></clipPath><g clip-path="url(#dp10)"><circle cx="1285.8" cy="847.5" r="66.5" fill="#3b0309"/>
<circle cx="1285.8" cy="848.5" r="62.5" fill="#971b11" stroke="#000" stroke-width="1.7"/>
<circle cx="1284.9" cy="844.6" r="53.0" fill="#dc2e22" stroke="#000" stroke-width="1.7"/>
<circle cx="1284.5" cy="844.0" r="45.0" fill="#eb5a1e" stroke="#000" stroke-width="1.7"/>
<circle cx="1284.3" cy="842.3" r="37.0" fill="#f6b21f" stroke="#000" stroke-width="1.7"/>
<path d="M1255.6 845.3C1255.7 841.0 1255.4 830.5 1258.1 825.5C1260.9 820.4 1267.4 817.0 1272.0 815.1C1276.6 813.2 1281.5 813.4 1285.8 813.8C1290.1 814.2 1294.2 815.3 1297.9 817.7C1301.6 820.1 1306.2 824.6 1308.3 828.1C1310.3 831.5 1310.3 835.3 1310.0 838.4C1309.7 841.6 1308.6 844.8 1306.5 847.1C1304.5 849.3 1300.8 850.5 1297.9 851.8C1295.0 853.1 1292.1 853.6 1289.3 854.8C1286.4 856.1 1283.2 858.0 1280.6 859.2C1278.0 860.3 1276.6 861.9 1273.7 861.8C1270.8 861.6 1266.1 860.0 1263.3 858.3C1260.6 856.6 1258.6 853.5 1257.3 851.4C1256.0 849.2 1255.4 849.7 1255.6 845.3Z" fill="#ebdf3f" stroke="#000" stroke-width="1.7"/></g>
<circle cx="1285.8" cy="847.5" r="69.3" fill="none" stroke="#0a0a0a" stroke-width="7.2"/>
<path d="M1204.3 847.5H1367.3M1285.8 766.0V929.0" stroke="#0a0a0a" stroke-width="4.4"/>
<text x="1285.8" y="757.0" font-size="22.5" font-style="italic" text-anchor="middle">q</text>
<text x="1370.3" y="852.5" font-size="22.5" font-style="italic">p</text>
<circle cx="1470.9" cy="847.5" r="66.5" fill="#3b0309"/>
<circle cx="1470.9" cy="847.5" r="55.5" fill="#971b11" stroke="#000" stroke-width="1.7"/>
<circle cx="1470.9" cy="847.5" r="48.6" fill="#dc2e22" stroke="#000" stroke-width="1.7"/>
<circle cx="1470.9" cy="847.5" r="42.9" fill="#eb5a1e" stroke="#000" stroke-width="1.7"/>
<circle cx="1470.9" cy="847.5" r="37.8" fill="#f6b21f" stroke="#000" stroke-width="1.7"/>
<circle cx="1470.9" cy="847.5" r="33.6" fill="#ebdf3f" stroke="#000" stroke-width="1.7"/>
<circle cx="1470.9" cy="847.5" r="29.3" fill="#f6f2b4" stroke="#000" stroke-width="1.7"/>
<circle cx="1470.9" cy="847.5" r="24.2" fill="#ffffff" stroke="#000" stroke-width="1.7"/>
<circle cx="1470.9" cy="847.5" r="69.3" fill="none" stroke="#0a0a0a" stroke-width="7.2"/>
<path d="M1389.4 847.5H1552.4M1470.9 766.0V929.0" stroke="#0a0a0a" stroke-width="4.4"/>
<text x="1470.9" y="757.0" font-size="22.5" font-style="italic" text-anchor="middle">q</text>
<text x="1555.4" y="852.5" font-size="22.5" font-style="italic">p</text>
<circle cx="186.5" cy="1608.8" r="66.5" fill="#3b0309"/>
<circle cx="186.5" cy="1608.8" r="65.3" fill="#971b11" stroke="#000" stroke-width="1.7"/>
<circle cx="186.5" cy="1608.8" r="63.6" fill="#dc2e22" stroke="#000" stroke-width="1.7"/>
<circle cx="186.5" cy="1608.8" r="59.0" fill="#eb5a1e" stroke="#000" stroke-width="1.7"/>
<circle cx="186.5" cy="1608.8" r="54.4" fill="#f6b21f" stroke="#000" stroke-width="1.7"/>
<circle cx="186.5" cy="1608.8" r="49.8" fill="#ebdf3f" stroke="#000" stroke-width="1.7"/>
<circle cx="186.5" cy="1608.8" r="44.5" fill="#f6f2b4" stroke="#000" stroke-width="1.7"/>
<circle cx="186.5" cy="1608.8" r="39.2" fill="#ffffff" stroke="#000" stroke-width="1.7"/>
<circle cx="186.5" cy="1608.8" r="69.3" fill="none" stroke="#0a0a0a" stroke-width="7.2"/>
<path d="M105.0 1608.8H268.0M186.5 1527.3V1690.3" stroke="#0a0a0a" stroke-width="4.4"/>
<text x="186.5" y="1518.3" font-size="22.5" font-style="italic" text-anchor="middle">q</text>
<text x="271.0" y="1613.8" font-size="22.5" font-style="italic">p</text>
<clipPath id="dk11"><circle cx="372.0" cy="1608.8" r="66.5"/></clipPath>
<g clip-path="url(#dk11)">
<circle cx="372.0" cy="1608.8" r="66.5" fill="#150506"/>
<path d="M327.8 1541.3 330.1 1540.3 440.5 1540.3 440.5 1655.3 435.6 1661.5 429.6 1666.5 421.9 1670.8 413.1 1674.1 398.2 1677.3 354.1 1677.3 348.5 1676.2 336.8 1672.7 328.0 1668.2 320.1 1661.5 312.3 1651.6 303.5 1637.1 303.5 1560.8 307.4 1554.5 312.3 1549.6 318.2 1545.8 327.8 1541.3Z" fill="#3b0309" fill-rule="evenodd"/>
<path d="M350.6 1541.3 353.6 1540.3 407.2 1540.3 418.0 1545.6 424.8 1550.3 429.7 1556.0 433.1 1563.8 435.5 1576.5 437.2 1597.1 436.1 1606.8 433.2 1614.7 422.6 1630.3 414.1 1639.0 405.3 1644.5 397.4 1650.2 383.7 1654.8 375.9 1658.6 371.0 1661.8 367.1 1662.8 340.7 1660.4 334.8 1658.9 328.9 1655.1 320.1 1646.5 307.7 1628.4 304.7 1621.5 303.8 1616.6 303.7 1610.8 306.7 1584.3 309.6 1570.6 313.1 1561.8 316.0 1557.9 320.1 1554.8 337.8 1546.0 350.6 1541.3Z" fill="#971b11" fill-rule="evenodd"/>
<path d="M379.3 1545.2 386.7 1545.7 394.5 1548.6 399.4 1551.5 404.3 1555.3 411.2 1561.8 418.3 1571.6 420.9 1577.5 422.2 1583.4 423.8 1596.1 423.4 1602.9 421.3 1608.8 417.5 1614.7 413.1 1619.3 408.2 1621.9 402.3 1621.5 395.5 1617.8 385.7 1614.5 379.8 1613.7 375.9 1614.0 374.0 1614.7 369.5 1618.6 365.5 1624.5 363.8 1628.4 361.0 1639.1 359.3 1642.6 356.3 1645.1 351.4 1647.2 345.6 1647.9 340.7 1647.7 336.8 1646.4 328.0 1641.3 320.9 1635.2 313.3 1622.8 311.7 1616.6 311.7 1608.8 314.6 1583.4 317.4 1573.6 320.9 1566.7 330.7 1557.9 336.8 1553.5 345.6 1549.6 359.3 1546.2 365.1 1545.6 372.0 1546.5 379.3 1545.2Z" fill="#dc2e22" fill-rule="evenodd"/>
<path d="M358.0 1552.0 364.2 1551.5 380.8 1552.2 386.7 1553.5 390.6 1555.6 395.2 1559.9 403.3 1566.0 408.9 1572.6 412.4 1580.4 414.1 1590.2 414.0 1595.1 412.9 1599.0 410.4 1602.9 407.2 1605.3 403.3 1606.5 390.6 1607.8 382.8 1607.9 369.0 1612.7 364.2 1615.6 361.2 1618.6 354.4 1628.5 350.5 1632.5 347.5 1634.1 344.6 1634.9 338.7 1634.7 335.8 1633.8 331.9 1631.7 326.0 1626.2 320.0 1616.6 318.7 1610.8 320.7 1585.3 323.5 1575.5 325.9 1570.6 331.9 1563.9 340.7 1556.7 346.6 1554.3 358.0 1552.0Z" fill="#eb5a1e" fill-rule="evenodd"/>
<path d="M357.9 1556.9 364.2 1556.6 379.8 1557.6 384.7 1558.8 389.0 1560.8 398.5 1569.7 402.4 1574.5 404.8 1580.4 406.2 1589.2 406.0 1592.2 404.8 1595.1 403.1 1597.1 400.4 1599.0 389.6 1603.1 380.8 1605.0 374.9 1607.3 367.1 1609.2 361.6 1611.7 355.6 1615.6 348.5 1622.2 345.6 1623.4 341.7 1623.8 336.8 1622.5 329.5 1617.6 326.0 1613.7 325.4 1610.8 325.3 1594.1 325.8 1587.3 327.6 1578.5 330.5 1571.6 335.8 1565.7 342.6 1560.3 348.5 1558.3 357.9 1556.9Z" fill="#f6b21f" fill-rule="evenodd"/>
<path d="M356.6 1561.8 364.2 1561.2 371.0 1562.2 376.9 1562.0 380.8 1562.9 388.6 1568.3 393.5 1572.6 396.4 1576.5 397.7 1580.4 397.3 1587.3 396.5 1590.2 394.5 1593.0 392.0 1595.1 386.6 1598.0 374.0 1602.8 363.2 1605.6 351.4 1610.0 346.6 1613.8 343.6 1614.4 339.7 1614.0 336.8 1613.2 334.6 1611.7 333.9 1606.8 330.8 1599.0 330.6 1594.1 331.7 1582.4 333.1 1576.5 335.1 1572.6 339.7 1567.7 344.6 1564.1 348.5 1562.8 356.6 1561.8Z" fill="#ebdf3f" fill-rule="evenodd"/>
<path d="M362.9 1565.7 373.0 1565.3 377.9 1566.9 380.4 1568.7 387.7 1576.3 388.9 1578.5 389.2 1581.4 387.6 1585.3 384.2 1588.2 373.0 1595.2 359.3 1600.8 345.6 1604.4 342.6 1604.2 339.7 1602.8 337.0 1600.0 336.4 1598.0 337.2 1584.3 337.8 1580.4 339.5 1576.5 342.4 1572.6 345.6 1569.7 348.5 1568.5 357.3 1567.5 362.9 1565.7Z" fill="#f6f2b4" fill-rule="evenodd"/>
<path d="M363.7 1572.6 367.1 1572.4 373.0 1575.5 374.8 1578.5 375.1 1582.4 374.3 1584.3 372.0 1586.6 361.2 1593.0 357.3 1594.2 350.5 1595.2 347.5 1594.6 346.2 1592.2 345.7 1588.2 346.0 1585.3 347.6 1582.4 352.4 1578.2 355.4 1576.5 360.3 1575.0 363.7 1572.6Z" fill="#ffffff" fill-rule="evenodd"/>
<path d="M303.5 1560.8 307.8 1554.0 312.9 1549.1 319.2 1545.3 330.1 1540.3" fill="none" stroke="#000" stroke-width="1.7"/>
<path d="M440.5 1655.3 437.3 1659.7 433.6 1663.4 424.7 1669.5 413.1 1674.1 398.2 1677.3" fill="none" stroke="#000" stroke-width="1.7"/>
<path d="M354.1 1677.3 344.6 1675.2 336.8 1672.7 330.9 1670.0 325.0 1666.0 320.1 1661.5 315.2 1655.8 303.5 1637.1" fill="none" stroke="#000" stroke-width="1.7"/>
<path d="M407.2 1540.3 417.0 1545.1 423.9 1549.5 428.8 1554.6 432.1 1560.8 435.0 1572.6 437.0 1592.2 436.9 1602.0 435.3 1609.8 432.0 1616.6 422.9 1630.0 414.1 1639.0 396.5 1650.7 386.0 1653.8 376.9 1658.1 371.0 1661.8 366.1 1662.8 339.7 1660.3 334.8 1658.9 330.9 1656.6 323.1 1649.8 317.6 1643.0 306.6 1626.4 304.7 1621.5 303.8 1616.6 303.9 1607.8 307.2 1581.4 310.2 1568.7 313.7 1560.8 317.1 1556.9 321.1 1554.3 338.7 1545.6 353.6 1540.3" fill="none" stroke="#000" stroke-width="1.7"/>
<path d="M379.3 1545.2 384.7 1545.4 389.6 1546.5 398.8 1551.1 409.5 1559.9 417.7 1570.6 420.6 1576.5 422.3 1584.3 423.9 1599.0 423.4 1602.9 422.2 1606.8 419.6 1611.7 416.0 1616.4 412.1 1620.0 408.2 1621.9 402.3 1621.5 395.5 1617.8 385.7 1614.5 379.8 1613.7 374.0 1614.7 369.5 1618.6 366.1 1623.5 363.8 1628.4 360.7 1640.1 357.9 1644.0 354.4 1646.2 349.5 1647.6 342.6 1647.9 337.8 1646.8 328.0 1641.3 322.1 1636.5 314.3 1624.6 312.4 1620.5 311.5 1611.7 313.8 1589.2 315.1 1581.4 317.8 1572.6 319.6 1568.7 322.1 1565.4 333.2 1556.0 340.7 1551.5 347.5 1549.0 360.3 1546.0 366.1 1545.6 372.0 1546.5 379.3 1545.2" fill="none" stroke="#000" stroke-width="1.7"/>
<path d="M358.0 1552.0 364.2 1551.5 380.8 1552.2 386.7 1553.5 391.1 1556.0 395.2 1559.9 404.0 1566.7 410.1 1574.5 412.1 1579.4 413.5 1585.3 414.2 1592.2 413.6 1597.1 412.4 1600.0 410.4 1602.9 406.0 1605.9 390.6 1607.8 382.8 1607.9 369.0 1612.7 364.2 1615.6 362.1 1617.6 354.4 1628.5 350.5 1632.5 347.5 1634.1 344.6 1634.9 337.8 1634.5 331.9 1631.7 327.0 1627.4 323.1 1622.0 319.3 1614.7 318.7 1608.8 320.0 1590.2 321.3 1582.4 323.9 1574.5 326.5 1569.7 330.9 1564.8 337.5 1558.9 341.7 1556.2 345.6 1554.6 358.0 1552.0" fill="none" stroke="#000" stroke-width="1.7"/>
<path d="M357.9 1556.9 364.2 1556.6 379.8 1557.6 384.9 1558.9 389.6 1561.3 399.4 1570.6 402.9 1575.5 404.8 1580.4 405.9 1586.3 406.2 1590.2 405.7 1593.1 403.1 1597.1 398.4 1599.9 388.6 1603.4 380.8 1605.0 374.9 1607.3 366.1 1609.5 356.9 1614.7 350.5 1620.7 347.5 1622.8 342.6 1623.8 338.7 1623.2 334.8 1621.4 329.5 1617.6 327.0 1615.1 325.7 1612.7 325.4 1592.2 326.1 1585.3 327.6 1578.5 329.4 1573.6 331.2 1570.6 334.7 1566.7 340.7 1561.6 346.6 1558.7 357.9 1556.9" fill="none" stroke="#000" stroke-width="1.7"/>
<path d="M356.6 1561.8 363.2 1561.2 371.0 1562.2 376.9 1562.0 380.4 1562.8 383.7 1564.6 392.5 1571.6 396.4 1576.5 397.8 1581.4 396.9 1589.2 395.5 1591.9 393.3 1594.1 385.7 1598.4 373.6 1602.9 364.2 1605.3 352.4 1609.5 345.6 1614.1 342.6 1614.4 337.8 1613.5 334.6 1611.7 333.9 1606.8 331.6 1602.0 330.7 1598.0 331.4 1584.3 333.1 1576.5 334.5 1573.6 336.7 1570.6 343.6 1564.6 348.3 1562.8 356.6 1561.8" fill="none" stroke="#000" stroke-width="1.7"/>
<path d="M362.9 1565.7 374.0 1565.4 379.2 1567.7 386.2 1574.5 388.4 1577.5 389.2 1581.4 388.2 1584.3 385.6 1587.3 374.9 1594.1 364.3 1599.0 347.5 1604.1 343.6 1604.4 340.7 1603.4 337.0 1600.0 336.3 1597.1 337.5 1582.4 339.7 1576.2 343.3 1571.6 346.6 1569.1 357.3 1567.5 362.9 1565.7" fill="none" stroke="#000" stroke-width="1.7"/>
<path d="M363.7 1572.6 366.1 1572.2 368.1 1572.8 372.0 1574.9 373.9 1576.5 375.2 1580.4 374.3 1584.3 371.0 1587.2 360.3 1593.4 351.4 1595.1 347.5 1594.6 346.2 1592.2 345.7 1587.3 346.3 1584.3 347.5 1582.4 353.4 1577.5 360.3 1575.0 363.7 1572.6" fill="none" stroke="#000" stroke-width="1.7"/>
</g>
<circle cx="372.0" cy="1608.8" r="69.3" fill="none" stroke="#0a0a0a" stroke-width="7.2"/>
<path d="M290.5 1608.8H453.5M372.0 1527.3V1690.3" stroke="#0a0a0a" stroke-width="4.4"/>
<text x="372.0" y="1518.3" font-size="22.5" font-style="italic" text-anchor="middle">q</text>
<text x="456.5" y="1613.8" font-size="22.5" font-style="italic">p</text>
<clipPath id="dk12"><circle cx="557.5" cy="1608.8" r="66.5"/></clipPath>
<g clip-path="url(#dk12)">
<circle cx="557.5" cy="1608.8" r="66.5" fill="#150506"/>
<path d="M517.9 1541.3 519.4 1540.3 599.0 1540.3 606.1 1549.1 613.0 1559.9 622.1 1575.3 626.0 1583.3 626.0 1638.5 621.5 1651.9 615.5 1662.6 611.3 1667.8 606.4 1672.6 600.2 1677.3 598.6 1677.3 521.3 1677.3 512.5 1672.5 504.8 1666.5 498.3 1659.7 492.8 1651.9 489.0 1644.5 489.0 1571.8 498.5 1558.9 503.7 1552.7 509.6 1547.3 517.9 1541.3Z" fill="#3b0309" fill-rule="evenodd"/>
<path d="M543.7 1553.0 551.6 1553.3 564.4 1555.7 568.3 1557.0 573.2 1560.1 581.6 1567.7 585.6 1572.6 587.8 1579.4 587.9 1582.4 587.3 1583.4 578.0 1583.2 568.3 1585.6 564.3 1587.3 561.4 1589.7 559.2 1593.1 558.0 1598.0 557.8 1602.9 559.5 1608.3 562.4 1611.7 569.1 1614.7 573.2 1614.7 578.0 1612.3 583.8 1606.8 588.5 1600.0 591.8 1592.5 592.7 1592.1 594.7 1593.5 603.2 1606.8 604.9 1611.7 605.5 1616.6 605.7 1628.4 602.8 1644.0 600.6 1650.9 597.6 1655.5 593.7 1659.8 590.0 1662.6 585.9 1664.8 580.0 1666.9 573.2 1668.6 565.3 1669.6 558.5 1669.8 551.6 1669.2 531.1 1665.9 521.3 1661.9 515.4 1658.2 510.3 1653.8 505.6 1648.4 501.8 1642.1 499.1 1636.2 496.3 1627.4 494.5 1618.6 494.1 1607.8 494.6 1600.0 496.0 1592.2 498.5 1585.3 501.4 1580.4 510.9 1567.7 516.4 1562.3 524.2 1558.4 543.7 1553.0Z" fill="#971b11" fill-rule="evenodd"/>
<path d="M536.3 1569.7 540.1 1569.7 543.2 1570.6 545.7 1572.6 547.5 1575.5 548.0 1579.4 546.8 1591.2 546.6 1601.0 549.5 1611.7 551.0 1614.7 554.6 1618.6 558.7 1621.5 579.0 1628.0 581.8 1630.3 583.2 1633.3 583.6 1637.2 582.9 1641.1 580.1 1646.0 577.1 1649.4 573.2 1652.0 564.4 1656.2 559.5 1657.6 554.6 1658.1 546.7 1657.4 534.0 1655.1 529.1 1653.2 521.2 1648.9 515.7 1644.0 510.8 1637.2 507.8 1631.3 505.6 1623.5 505.2 1619.6 506.3 1612.7 507.2 1600.0 508.7 1594.1 511.0 1589.2 518.5 1578.5 522.3 1574.3 528.1 1571.3 536.3 1569.7Z" fill="#dc2e22" fill-rule="evenodd"/>
<path d="M526.3 1591.2 529.1 1590.6 531.1 1591.6 532.5 1593.1 543.1 1617.6 546.8 1622.5 553.0 1628.4 559.6 1638.2 560.1 1640.1 559.9 1642.1 559.0 1644.0 557.1 1646.0 553.6 1647.4 547.7 1647.7 537.0 1646.0 533.9 1645.0 530.1 1642.9 522.3 1636.2 519.3 1632.2 516.8 1627.4 516.2 1624.5 516.6 1617.6 515.3 1610.8 516.0 1606.8 517.8 1602.0 520.3 1597.3 523.2 1593.6 526.3 1591.2Z" fill="#eb5a1e" fill-rule="evenodd"/>
<path d="M599.0 1540.3 604.7 1547.1 610.3 1555.4 621.7 1574.5 626.0 1583.3" fill="none" stroke="#000" stroke-width="1.7"/>
<path d="M489.0 1571.8 498.5 1558.9 504.3 1552.0 510.5 1546.5 519.4 1540.3" fill="none" stroke="#000" stroke-width="1.7"/>
<path d="M626.0 1638.5 621.9 1650.9 616.1 1661.6 608.8 1670.5 600.2 1677.3" fill="none" stroke="#000" stroke-width="1.7"/>
<path d="M521.3 1677.3 510.5 1671.2 501.7 1663.6 494.7 1654.8 489.0 1644.5" fill="none" stroke="#000" stroke-width="1.7"/>
<path d="M543.7 1553.0 551.6 1553.3 564.4 1555.7 569.2 1557.5 573.2 1560.1 582.6 1568.7 585.6 1572.6 587.2 1576.5 588.0 1581.4 587.3 1583.4 578.0 1583.2 569.2 1585.3 564.4 1587.3 560.4 1590.9 558.5 1595.3 557.7 1602.0 558.8 1606.8 561.4 1610.9 565.3 1613.4 570.2 1614.9 573.2 1614.7 577.1 1612.9 581.0 1609.8 584.6 1605.9 589.0 1599.0 591.8 1592.5 592.7 1592.1 594.7 1593.5 596.6 1596.3 602.1 1604.9 604.3 1609.8 605.5 1615.6 605.8 1627.4 602.8 1644.0 601.4 1648.9 598.9 1653.8 593.7 1659.8 588.8 1663.3 582.0 1666.3 570.2 1669.0 558.5 1669.8 533.0 1666.3 527.2 1664.6 517.4 1659.5 509.3 1652.8 502.8 1644.0 498.4 1634.2 494.8 1621.5 494.1 1606.8 495.5 1594.1 497.3 1588.2 499.5 1583.4 511.5 1566.9 516.4 1562.3 524.2 1558.4 543.7 1553.0" fill="none" stroke="#000" stroke-width="1.7"/>
<path d="M536.3 1569.7 540.1 1569.7 543.2 1570.6 545.7 1572.6 547.5 1575.5 548.0 1579.4 546.8 1591.2 546.6 1601.0 549.5 1611.7 551.0 1614.7 554.6 1618.6 558.7 1621.5 579.0 1628.0 581.8 1630.3 583.2 1633.3 583.6 1637.2 583.2 1640.1 581.9 1643.0 578.6 1647.9 573.5 1651.9 562.4 1656.9 555.5 1658.0 546.7 1657.4 534.0 1655.1 525.2 1651.3 519.3 1647.5 514.4 1642.5 509.6 1635.2 506.8 1628.4 505.2 1619.6 506.3 1612.7 507.2 1600.0 508.4 1595.1 510.0 1591.2 518.4 1578.7 522.3 1574.3 528.1 1571.3 536.3 1569.7" fill="none" stroke="#000" stroke-width="1.7"/>
<path d="M526.3 1591.2 529.1 1590.6 531.1 1591.6 532.5 1593.1 543.1 1617.6 546.8 1622.5 553.0 1628.4 559.1 1637.2 560.1 1640.1 559.9 1642.1 558.5 1644.6 556.5 1646.4 552.6 1647.6 546.7 1647.7 539.9 1646.6 534.0 1645.0 529.1 1642.2 524.2 1638.2 521.3 1635.0 518.2 1630.3 516.3 1625.4 516.7 1618.6 515.4 1611.7 515.5 1608.8 517.3 1602.9 519.8 1598.0 523.2 1593.6 526.3 1591.2" fill="none" stroke="#000" stroke-width="1.7"/>
</g>
<circle cx="557.5" cy="1608.8" r="69.3" fill="none" stroke="#0a0a0a" stroke-width="7.2"/>
<path d="M476.0 1608.8H639.0M557.5 1527.3V1690.3" stroke="#0a0a0a" stroke-width="4.4"/>
<text x="557.5" y="1518.3" font-size="22.5" font-style="italic" text-anchor="middle">q</text>
<text x="642.0" y="1613.8" font-size="22.5" font-style="italic">p</text>
<circle cx="743.0" cy="1608.8" r="66.5" fill="#3b0309"/>
<circle cx="743.0" cy="1608.8" r="51.8" fill="#971b11" stroke="#000" stroke-width="1.7"/>
<circle cx="743.0" cy="1608.8" r="43.3" fill="#dc2e22" stroke="#000" stroke-width="1.7"/>
<circle cx="743.0" cy="1608.8" r="35.7" fill="#eb5a1e" stroke="#000" stroke-width="1.7"/>
<circle cx="743.0" cy="1608.8" r="28.3" fill="#f6b21f" stroke="#000" stroke-width="1.7"/>
<circle cx="743.0" cy="1608.8" r="20.7" fill="#ebdf3f" stroke="#000" stroke-width="1.7"/>
<circle cx="743.0" cy="1608.8" r="9.9" fill="#f6f2b4" stroke="#000" stroke-width="1.7"/>
<circle cx="743.0" cy="1608.8" r="69.3" fill="none" stroke="#0a0a0a" stroke-width="7.2"/>
<path d="M661.5 1608.8H824.5M743.0 1527.3V1690.3" stroke="#0a0a0a" stroke-width="4.4"/>
<text x="743.0" y="1518.3" font-size="22.5" font-style="italic" text-anchor="middle">q</text>
<text x="827.5" y="1613.8" font-size="22.5" font-style="italic">p</text>
<circle cx="928.3" cy="1608.8" r="66.5" fill="#3b0309"/>
<circle cx="928.3" cy="1608.8" r="51.7" fill="#971b11" stroke="#000" stroke-width="1.7"/>
<circle cx="928.3" cy="1608.8" r="43.2" fill="#dc2e22" stroke="#000" stroke-width="1.7"/>
<circle cx="928.3" cy="1608.8" r="35.6" fill="#eb5a1e" stroke="#000" stroke-width="1.7"/>
<circle cx="928.3" cy="1608.8" r="28.4" fill="#f6b21f" stroke="#000" stroke-width="1.7"/>
<circle cx="928.3" cy="1608.8" r="21.3" fill="#ebdf3f" stroke="#000" stroke-width="1.7"/>
<circle cx="928.3" cy="1608.8" r="12.5" fill="#f6f2b4" stroke="#000" stroke-width="1.7"/>
<circle cx="928.3" cy="1608.8" r="69.3" fill="none" stroke="#0a0a0a" stroke-width="7.2"/>
<path d="M846.8 1608.8H1009.8M928.3 1527.3V1690.3" stroke="#0a0a0a" stroke-width="4.4"/>
<text x="928.3" y="1518.3" font-size="22.5" font-style="italic" text-anchor="middle">q</text>
<text x="1012.8" y="1613.8" font-size="22.5" font-style="italic">p</text>
<circle cx="1114.0" cy="1608.8" r="66.5" fill="#3b0309"/>
<circle cx="1114.0" cy="1608.8" r="51.8" fill="#971b11" stroke="#000" stroke-width="1.7"/>
<circle cx="1114.0" cy="1608.8" r="43.3" fill="#dc2e22" stroke="#000" stroke-width="1.7"/>
<circle cx="1114.0" cy="1608.8" r="36.2" fill="#eb5a1e" stroke="#000" stroke-width="1.7"/>
<circle cx="1114.0" cy="1608.8" r="29.0" fill="#f6b21f" stroke="#000" stroke-width="1.7"/>
<circle cx="1114.0" cy="1608.8" r="22.1" fill="#ebdf3f" stroke="#000" stroke-width="1.7"/>
<circle cx="1114.0" cy="1608.8" r="14.5" fill="#f6f2b4" stroke="#000" stroke-width="1.7"/>
<circle cx="1114.0" cy="1608.8" r="69.3" fill="none" stroke="#0a0a0a" stroke-width="7.2"/>
<path d="M1032.5 1608.8H1195.5M1114.0 1527.3V1690.3" stroke="#0a0a0a" stroke-width="4.4"/>
<text x="1114.0" y="1518.3" font-size="22.5" font-style="italic" text-anchor="middle">q</text>
<text x="1198.5" y="1613.8" font-size="22.5" font-style="italic">p</text>
<circle cx="1299.5" cy="1608.8" r="66.5" fill="#3b0309"/>
<circle cx="1299.5" cy="1608.8" r="51.0" fill="#971b11" stroke="#000" stroke-width="1.7"/>
<circle cx="1299.5" cy="1608.8" r="43.2" fill="#dc2e22" stroke="#000" stroke-width="1.7"/>
<circle cx="1299.5" cy="1608.8" r="35.9" fill="#eb5a1e" stroke="#000" stroke-width="1.7"/>
<circle cx="1299.5" cy="1608.8" r="29.2" fill="#f6b21f" stroke="#000" stroke-width="1.7"/>
<circle cx="1299.5" cy="1608.8" r="22.5" fill="#ebdf3f" stroke="#000" stroke-width="1.7"/>
<circle cx="1299.5" cy="1608.8" r="15.5" fill="#f6f2b4" stroke="#000" stroke-width="1.7"/>
<circle cx="1299.5" cy="1608.8" r="3.5" fill="#ffffff" stroke="#000" stroke-width="1.7"/>
<circle cx="1299.5" cy="1608.8" r="69.3" fill="none" stroke="#0a0a0a" stroke-width="7.2"/>
<path d="M1218.0 1608.8H1381.0M1299.5 1527.3V1690.3" stroke="#0a0a0a" stroke-width="4.4"/>
<text x="1299.5" y="1518.3" font-size="22.5" font-style="italic" text-anchor="middle">q</text>
<text x="1384.0" y="1613.8" font-size="22.5" font-style="italic">p</text>
<circle cx="1485.0" cy="1608.8" r="66.5" fill="#3b0309"/>
<circle cx="1485.0" cy="1608.8" r="50.9" fill="#971b11" stroke="#000" stroke-width="1.7"/>
<circle cx="1485.0" cy="1608.8" r="43.1" fill="#dc2e22" stroke="#000" stroke-width="1.7"/>
<circle cx="1485.0" cy="1608.8" r="35.7" fill="#eb5a1e" stroke="#000" stroke-width="1.7"/>
<circle cx="1485.0" cy="1608.8" r="29.3" fill="#f6b21f" stroke="#000" stroke-width="1.7"/>
<circle cx="1485.0" cy="1608.8" r="22.8" fill="#ebdf3f" stroke="#000" stroke-width="1.7"/>
<circle cx="1485.0" cy="1608.8" r="15.9" fill="#f6f2b4" stroke="#000" stroke-width="1.7"/>
<circle cx="1485.0" cy="1608.8" r="3.5" fill="#ffffff" stroke="#000" stroke-width="1.7"/>
<circle cx="1485.0" cy="1608.8" r="69.3" fill="none" stroke="#0a0a0a" stroke-width="7.2"/>
<path d="M1403.5 1608.8H1566.5M1485.0 1527.3V1690.3" stroke="#0a0a0a" stroke-width="4.4"/>
<text x="1485.0" y="1518.3" font-size="22.5" font-style="italic" text-anchor="middle">q</text>
<text x="1569.5" y="1613.8" font-size="22.5" font-style="italic">p</text>
<circle cx="744.5" cy="1841.0" r="66.5" fill="#3b0309"/>
<ellipse cx="744.5" cy="1841.5" rx="56.5" ry="56.5" fill="#971b11" stroke="#000" stroke-width="1.7"/>
<ellipse cx="744.5" cy="1843.0" rx="47.0" ry="47.0" fill="#dc2e22" stroke="#000" stroke-width="1.7"/>
<ellipse cx="744.5" cy="1845.0" rx="38.5" ry="38.5" fill="#eb5a1e" stroke="#000" stroke-width="1.7"/>
<ellipse cx="744.5" cy="1847.2" rx="27.5" ry="27.5" fill="#f6b21f" stroke="#000" stroke-width="1.7"/>
<ellipse cx="747.0" cy="1853.0" rx="10.6" ry="7.8" fill="#ebdf3f" stroke="#000" stroke-width="1.7"/>
<circle cx="744.5" cy="1841.0" r="69.3" fill="none" stroke="#0a0a0a" stroke-width="7.2"/>
<path d="M663.0 1841.0H826.0M744.5 1759.5V1922.5" stroke="#0a0a0a" stroke-width="4.4"/>
<text x="744.5" y="1750.5" font-size="22.5" font-style="italic" text-anchor="middle">q</text>
<text x="829.0" y="1846.0" font-size="22.5" font-style="italic">p</text>
<circle cx="930.0" cy="1841.0" r="66.5" fill="#3b0309"/>
<circle cx="930.0" cy="1841.0" r="57.0" fill="#971b11" stroke="#000" stroke-width="1.7"/>
<circle cx="930.0" cy="1841.0" r="48.1" fill="#dc2e22" stroke="#000" stroke-width="1.7"/>
<circle cx="930.0" cy="1841.0" r="40.4" fill="#eb5a1e" stroke="#000" stroke-width="1.7"/>
<circle cx="930.0" cy="1841.0" r="32.1" fill="#f6b21f" stroke="#000" stroke-width="1.7"/>
<circle cx="930.0" cy="1841.0" r="23.8" fill="#ebdf3f" stroke="#000" stroke-width="1.7"/>
<circle cx="930.0" cy="1841.0" r="8.3" fill="#f6f2b4" stroke="#000" stroke-width="1.7"/>
<circle cx="930.0" cy="1841.0" r="69.3" fill="none" stroke="#0a0a0a" stroke-width="7.2"/>
<path d="M848.5 1841.0H1011.5M930.0 1759.5V1922.5" stroke="#0a0a0a" stroke-width="4.4"/>
<text x="930.0" y="1750.5" font-size="22.5" font-style="italic" text-anchor="middle">q</text>
<text x="1014.5" y="1846.0" font-size="22.5" font-style="italic">p</text>
<circle cx="1115.6" cy="1841.0" r="66.5" fill="#3b0309"/>
<circle cx="1115.6" cy="1841.0" r="57.0" fill="#971b11" stroke="#000" stroke-width="1.7"/>
<circle cx="1115.6" cy="1841.0" r="47.7" fill="#dc2e22" stroke="#000" stroke-width="1.7"/>
<circle cx="1115.6" cy="1841.0" r="40.4" fill="#eb5a1e" stroke="#000" stroke-width="1.7"/>
<circle cx="1115.6" cy="1841.0" r="33.2" fill="#f6b21f" stroke="#000" stroke-width="1.7"/>
<circle cx="1115.6" cy="1841.0" r="25.9" fill="#ebdf3f" stroke="#000" stroke-width="1.7"/>
<circle cx="1115.6" cy="1841.0" r="17.2" fill="#f6f2b4" stroke="#000" stroke-width="1.7"/>
<circle cx="1115.6" cy="1841.0" r="69.3" fill="none" stroke="#0a0a0a" stroke-width="7.2"/>
<path d="M1034.1 1841.0H1197.1M1115.6 1759.5V1922.5" stroke="#0a0a0a" stroke-width="4.4"/>
<text x="1115.6" y="1750.5" font-size="22.5" font-style="italic" text-anchor="middle">q</text>
<text x="1200.1" y="1846.0" font-size="22.5" font-style="italic">p</text>
<circle cx="1301.0" cy="1841.0" r="66.5" fill="#3b0309"/>
<circle cx="1301.0" cy="1841.0" r="56.4" fill="#971b11" stroke="#000" stroke-width="1.7"/>
<circle cx="1301.0" cy="1841.0" r="47.7" fill="#dc2e22" stroke="#000" stroke-width="1.7"/>
<circle cx="1301.0" cy="1841.0" r="40.4" fill="#eb5a1e" stroke="#000" stroke-width="1.7"/>
<circle cx="1301.0" cy="1841.0" r="33.6" fill="#f6b21f" stroke="#000" stroke-width="1.7"/>
<circle cx="1301.0" cy="1841.0" r="27.0" fill="#ebdf3f" stroke="#000" stroke-width="1.7"/>
<circle cx="1301.0" cy="1841.0" r="20.3" fill="#f6f2b4" stroke="#000" stroke-width="1.7"/>
<circle cx="1301.0" cy="1841.0" r="10.4" fill="#ffffff" stroke="#000" stroke-width="1.7"/>
<circle cx="1301.0" cy="1841.0" r="69.3" fill="none" stroke="#0a0a0a" stroke-width="7.2"/>
<path d="M1219.5 1841.0H1382.5M1301.0 1759.5V1922.5" stroke="#0a0a0a" stroke-width="4.4"/>
<text x="1301.0" y="1750.5" font-size="22.5" font-style="italic" text-anchor="middle">q</text>
<text x="1385.5" y="1846.0" font-size="22.5" font-style="italic">p</text>
<circle cx="1486.6" cy="1841.0" r="66.5" fill="#3b0309"/>
<circle cx="1486.6" cy="1841.0" r="57.0" fill="#971b11" stroke="#000" stroke-width="1.7"/>
<circle cx="1486.6" cy="1841.0" r="48.3" fill="#dc2e22" stroke="#000" stroke-width="1.7"/>
<circle cx="1486.6" cy="1841.0" r="41.5" fill="#eb5a1e" stroke="#000" stroke-width="1.7"/>
<circle cx="1486.6" cy="1841.0" r="34.6" fill="#f6b21f" stroke="#000" stroke-width="1.7"/>
<circle cx="1486.6" cy="1841.0" r="28.0" fill="#ebdf3f" stroke="#000" stroke-width="1.7"/>
<circle cx="1486.6" cy="1841.0" r="21.8" fill="#f6f2b4" stroke="#000" stroke-width="1.7"/>
<circle cx="1486.6" cy="1841.0" r="13.9" fill="#ffffff" stroke="#000" stroke-width="1.7"/>
<circle cx="1486.6" cy="1841.0" r="69.3" fill="none" stroke="#0a0a0a" stroke-width="7.2"/>
<path d="M1405.1 1841.0H1568.1M1486.6 1759.5V1922.5" stroke="#0a0a0a" stroke-width="4.4"/>
<text x="1486.6" y="1750.5" font-size="22.5" font-style="italic" text-anchor="middle">q</text>
<text x="1571.1" y="1846.0" font-size="22.5" font-style="italic">p</text>
</svg>
</body></html>
